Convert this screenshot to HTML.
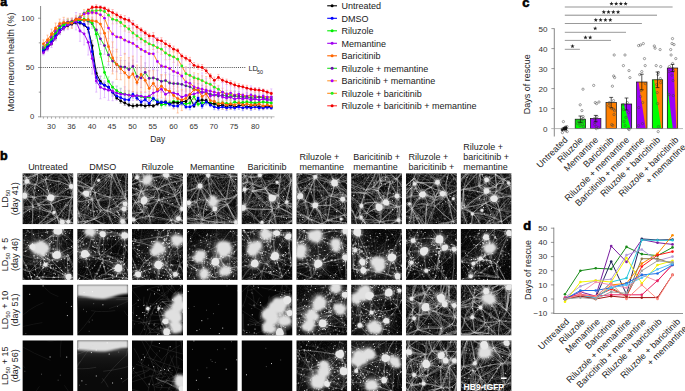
<!DOCTYPE html>
<html><head><meta charset="utf-8"><style>
html,body{margin:0;padding:0;background:#fff;width:685px;height:391px;overflow:hidden}
svg{display:block}
text{font-family:"Liberation Sans",sans-serif}
</style></head><body>
<svg width="685" height="391" viewBox="0 0 685 391" font-family="Liberation Sans, sans-serif">
<defs><radialGradient id="glow"><stop offset="0" stop-color="#fff" stop-opacity="0.9"/><stop offset="0.45" stop-color="#fff" stop-opacity="0.4"/><stop offset="1" stop-color="#fff" stop-opacity="0"/></radialGradient><linearGradient id="fade" x1="0" y1="0" x2="0" y2="1"><stop offset="0" stop-color="#383838"/><stop offset="0.3" stop-color="#1c1c1c" stop-opacity="0.7"/><stop offset="1" stop-color="#111" stop-opacity="0"/></linearGradient><filter id="soft" x="-0.1" y="-0.2" width="1.2" height="1.5"><feGaussianBlur stdDeviation="0.9"/></filter><filter id="bl" x="-0.5" y="-0.5" width="2" height="2"><feGaussianBlur stdDeviation="0.5"/></filter><filter id="cl" x="-0.5" y="-0.5" width="2" height="2"><feGaussianBlur stdDeviation="0.8"/></filter><filter id="grain" x="0" y="0" width="1" height="1"><feTurbulence type="fractalNoise" baseFrequency="0.9" numOctaves="2" seed="4"/><feColorMatrix values="0 0 0 0 1 0 0 0 0 1 0 0 0 0 1 3.2 0 0 0 -1.45"/></filter></defs>
<text x="0" y="159.7" font-size="12.5" font-weight="bold" fill="#000" stroke="#000" stroke-width="0.6">b</text>
<text x="47.9" y="170.4" font-size="9" fill="#222" text-anchor="middle">Untreated</text>
<text x="102.7" y="170.4" font-size="9" fill="#222" text-anchor="middle">DMSO</text>
<text x="157.5" y="170.4" font-size="9" fill="#222" text-anchor="middle">Riluzole</text>
<text x="212.2" y="170.4" font-size="9" fill="#222" text-anchor="middle">Memantine</text>
<text x="267.0" y="170.4" font-size="9" fill="#222" text-anchor="middle">Baricitinib</text>
<text x="299.5" y="160.2" font-size="9" fill="#222">Riluzole +</text>
<text x="299.5" y="170.4" font-size="9" fill="#222">memantine</text>
<text x="353.2" y="160.2" font-size="9" fill="#222">Baricitinib +</text>
<text x="353.2" y="170.4" font-size="9" fill="#222">memantine</text>
<text x="408.5" y="160.2" font-size="9" fill="#222">Riluzole +</text>
<text x="408.5" y="170.4" font-size="9" fill="#222">baricitinib +</text>
<text x="463.3" y="150.0" font-size="9" fill="#222">Riluzole +</text>
<text x="463.3" y="160.2" font-size="9" fill="#222">baricitinib +</text>
<text x="463.3" y="170.4" font-size="9" fill="#222">memantine</text>
<text transform="translate(8.2 198.7) rotate(-90)" font-size="9" fill="#222" text-anchor="middle"><tspan>LD</tspan><tspan font-size="6" dy="1.8">50</tspan></text>
<text transform="translate(17.5 198.7) rotate(-90)" font-size="9" fill="#222" text-anchor="middle">(day 41)</text>
<text transform="translate(8.2 254.4) rotate(-90)" font-size="9" fill="#222" text-anchor="middle"><tspan>LD</tspan><tspan font-size="6" dy="1.8">50</tspan><tspan dy="-1.8"> + 5</tspan></text>
<text transform="translate(17.5 254.4) rotate(-90)" font-size="9" fill="#222" text-anchor="middle">(day 46)</text>
<text transform="translate(8.2 310.1) rotate(-90)" font-size="9" fill="#222" text-anchor="middle"><tspan>LD</tspan><tspan font-size="6" dy="1.8">50</tspan><tspan dy="-1.8"> + 10</tspan></text>
<text transform="translate(17.5 310.1) rotate(-90)" font-size="9" fill="#222" text-anchor="middle">(day 51)</text>
<text transform="translate(8.2 365.8) rotate(-90)" font-size="9" fill="#222" text-anchor="middle"><tspan>LD</tspan><tspan font-size="6" dy="1.8">50</tspan><tspan dy="-1.8"> + 15</tspan></text>
<text transform="translate(17.5 365.8) rotate(-90)" font-size="9" fill="#222" text-anchor="middle">(day 56)</text>
<svg x="22.4" y="173.2" width="51.0" height="51.0" viewBox="0 0 51.0 51.0"><rect width="51.0" height="51.0" fill="#0c0c0c"/><path d="M29 25Q39 19 49 14M28 25Q25 16 23 7M28 24Q30 28 28 31M29 24Q23 16 13 11M29 24Q39 23 49 24M29 24Q20 21 12 24M29 24Q22 28 15 31M2 22Q4 15 4 8M2 23Q-4 22 -10 23M2 22Q6 28 11 33M2 22Q-8 28 -12 39M2 22Q6 15 13 11M2 23Q7 24 12 24M5 8Q-4 15 -10 23M5 8Q-3 7 -11 4M4 8Q6 6 4 4M5 8Q9 3 15 0M5 8Q8 12 13 11M49 13Q37 7 23 6M49 13Q47 7 45 0M49 13Q43 4 34 -3M49 13Q52 12 55 11M49 13Q51 19 49 24M40 49Q43 49 46 48M40 49Q35 49 35 44M40 49Q45 52 44 57M40 49Q41 55 40 60M40 49Q43 49 44 51M46 49Q40 47 35 44M46 48Q44 54 48 59M46 49Q52 42 59 37M46 49Q54 50 62 54M46 48Q47 36 49 24M46 49Q47 51 44 51M35 43Q33 37 29 31M35 43Q21 49 9 56M35 44Q22 52 10 60M34 44Q31 42 28 39M35 44Q36 53 40 60M35 44Q43 34 50 24M48 59Q45 58 43 57M48 59Q54 55 62 53M48 59Q44 61 40 61M47 59Q46 55 44 52M43 57Q41 59 40 60M44 57Q43 54 45 51M-10 23Q-8 13 -11 4M-10 23Q-10 31 -12 39M59 37Q63 45 62 53M58 37Q58 23 55 10M59 37Q57 28 50 24M55 -4Q52 -2 48 -2M56 -3Q58 4 55 10M56 -3Q48 -3 41 -8M55 -4Q56 -9 61 -10M23 7Q28 1 35 -2M23 7Q21 1 15 0M23 7Q18 9 13 12M29 31Q30 35 28 39M29 31Q38 26 49 24M29 31Q22 31 15 32M-11 4Q-4 1 4 4M-11 4Q-7 -2 -1 -7M-11 4Q-14 21 -12 39M-11 4Q-9 -2 -11 -8M9 57Q10 58 10 60M9 57Q20 49 29 39M9 57Q6 58 3 58M9 57Q11 45 10 33M9 57Q0 50 -11 47M45 0Q45 -4 48 -2M46 0Q40 0 34 -3M46 0Q52 4 55 10M45 0Q45 -5 41 -8M48 -2Q52 4 55 10M48 -1Q42 -2 41 -8M34 -3Q25 -2 15 0M34 -2Q39 -4 41 -8M-12 54Q-5 58 3 59M-12 53Q-12 46 -12 39M-11 53Q-10 51 -10 47M4 5Q10 3 15 1M3 4Q-1 -1 -1 -7M10 60Q6 63 3 59M10 60Q25 60 40 61M28 39Q19 37 10 34M28 39Q20 38 15 32M3 58Q-2 50 -11 47M55 11Q55 18 50 24M55 10Q55 -1 61 -10M15 0Q6 -2 -1 -7M15 0Q16 6 14 11M15 0Q28 -3 41 -8M-1 -7Q-6 -9 -11 -9M10 33Q-1 33 -12 38M10 33Q9 28 12 24M11 34Q0 40 -10 47M10 33Q12 30 15 31M-11 39Q-10 43 -10 47M13 11Q10 17 12 24M12 24Q13 28 16 31M41 -8Q51 -11 61 -11" stroke="#dcdcdc" stroke-width="0.65" fill="none" opacity="0.62"/><path d="M29 25Q40 22 49 13M29 24Q28 15 23 6M28 25Q26 15 23 7M28 24Q30 28 28 31M28 25Q22 16 13 11M29 24Q39 21 49 24M29 25Q20 28 12 24M29 25Q22 28 16 32M28 24Q22 27 15 31M2 22Q2 15 4 8M2 22Q-4 20 -10 22M2 22Q-4 24 -10 23M2 22Q7 27 11 33M2 22Q-5 31 -12 39M2 22Q-5 30 -12 39M2 22Q9 19 13 11M2 22Q7 20 12 24M2 22Q7 24 12 24M4 8Q-4 14 -10 23M4 8Q-4 14 -10 23M5 8Q-3 5 -11 4M5 8Q5 6 4 4M5 8Q10 5 15 1M5 8Q9 10 13 11M5 8Q8 12 13 11M49 13Q37 7 23 6M49 13Q48 6 45 0M49 13Q48 6 46 0M49 13Q42 5 34 -2M49 13Q53 14 55 11M49 13Q51 19 50 24M40 49Q43 46 46 49M40 49Q36 48 34 44M40 49Q42 53 44 57M39 49Q41 55 39 60M40 49Q42 51 44 51M46 49Q40 47 35 44M46 49Q46 54 47 59M46 48Q52 42 59 36M46 48Q54 45 59 37M46 49Q54 49 62 54M46 48Q54 50 62 53M46 49Q48 36 50 24M46 48Q44 50 44 51M35 44Q34 36 29 31M35 44Q31 38 29 31M35 44Q22 51 9 57M35 44Q22 51 10 60M35 44Q33 40 28 39M35 43Q31 42 29 39M35 44Q37 52 40 60M35 44Q41 33 50 24M48 59Q45 60 43 57M48 59Q55 57 62 54M48 58Q43 56 40 60M48 59Q46 55 44 51M43 57Q41 58 40 60M43 57Q45 54 44 51M-10 23Q-12 14 -11 4M-10 23Q-11 31 -12 39M59 37Q58 45 62 53M59 37Q59 23 55 10M59 36Q56 29 50 24M56 -4Q51 -6 48 -2M55 -4Q56 3 55 10M56 -4Q48 -3 41 -8M55 -4Q58 -8 61 -11M23 6Q28 1 34 -3M23 7Q17 6 15 1M23 6Q17 7 13 11M29 31Q30 35 28 39M29 31Q39 26 49 24M29 31Q22 33 15 31M-11 4Q-4 3 4 4M-11 4Q-7 -3 -1 -7M-11 4Q-8 -3 -1 -7M-11 4Q-8 22 -11 39M-11 4Q-12 -2 -12 -8M-11 4Q-13 -2 -11 -8M9 57Q12 58 10 60M9 57Q20 49 28 39M9 57Q19 48 28 39M9 57Q7 62 3 59M9 57Q11 45 11 33M9 57Q-1 52 -11 47M45 0Q46 -2 48 -2M45 0Q39 1 34 -2M45 0Q52 3 55 10M46 0Q45 -5 41 -8M45 0Q45 -5 41 -8M48 -2Q50 5 55 10M48 -1Q42 -2 41 -8M34 -2Q25 0 15 1M34 -3Q36 -7 41 -8M-12 53Q-5 58 3 59M-12 53Q-15 46 -12 39M-12 53Q-14 50 -11 47M4 5Q9 1 15 1M3 4Q-1 0 -1 -7M10 61Q7 58 3 59M10 60Q25 58 40 61M29 38Q20 34 11 33M28 39Q22 35 15 31M28 39Q22 36 15 31M3 59Q-4 54 -11 47M55 10Q55 18 50 24M55 10Q50 16 49 24M55 10Q55 -1 61 -10M15 1Q7 -3 -1 -7M15 0Q17 6 13 11M15 0Q29 -1 41 -8M-1 -7Q-6 -10 -11 -8M11 33Q0 37 -12 39M10 33Q8 28 11 24M10 33Q11 29 11 24M11 33Q1 42 -11 47M11 34Q14 36 16 32M-12 39Q-10 43 -11 47M13 11Q14 18 11 24M12 24Q11 29 16 31M41 -7Q51 -8 61 -10" stroke="#dcdcdc" stroke-width="0.45" fill="none" opacity="0.56"/><path d="M21 22Q24 8 25 -14M31 1Q32 -4 39 -18M-3 30Q-21 30 -37 34M12 7Q5 2 -5 0M16 10Q36 9 49 6M19 4Q21 -9 31 -16M1 39Q9 33 12 31M37 48Q24 33 14 25M26 31Q29 36 34 49M14 18Q-1 24 -15 23M45 51Q40 41 35 25M17 31Q10 17 7 10M0 17Q-11 8 -27 2M52 12Q53 8 50 2M53 50Q49 35 41 19M8 27Q18 22 20 17M19 -5Q15 3 9 4M51 32Q48 37 42 40M39 18Q43 11 50 8M33 50Q42 59 46 73M-1 30Q9 14 15 -1M21 27Q26 23 35 18M54 6Q60 8 65 9M6 7Q-4 1 -16 -9M-1 25Q7 12 17 -7M34 52Q39 66 38 80M1 7Q1 12 7 16M1 41Q2 27 -1 9M51 53Q35 37 25 27M-1 8Q-7 17 -16 23M0 20Q-12 18 -18 14M18 37Q3 34 -19 38M41 39Q40 43 38 50M40 51Q34 58 28 62M43 30Q43 39 38 47M-2 21Q-4 33 0 49M1 24Q12 26 25 22M1 17Q4 12 4 9M-4 10Q-13 9 -23 15M8 54Q-5 57 -12 62M53 37Q48 39 44 36M22 31Q34 20 44 15M-4 42Q-16 54 -33 60M18 56Q16 41 19 21M21 54Q27 52 35 54M24 12Q18 7 18 2M0 18Q11 4 27 -3M46 54Q39 53 36 47M52 -3Q54 9 61 16M18 42Q28 54 31 62M0 2Q-7 -6 -11 -13M30 54Q29 67 32 79M40 3Q21 7 11 7M21 26Q5 16 -4 5M-3 19Q-7 22 -8 26M35 51Q28 64 19 69M53 55Q54 58 49 68M22 40Q16 37 3 36M29 46Q35 53 41 60M8 23Q11 22 18 27M54 11Q53 25 49 42M46 33Q33 40 25 50M48 22Q51 14 59 14M40 29Q47 29 49 30M48 -3Q45 -5 38 -9M32 9Q34 8 43 5M1 -1Q-10 4 -26 6M-1 34Q4 27 6 25M13 -5Q17 -17 14 -28M4 8Q1 23 1 44M17 0Q6 3 -7 12M3 25Q0 18 -5 5M4 11Q-5 12 -20 12M35 21Q37 1 42 -12M11 17Q18 13 23 7M53 2Q51 -6 56 -16M47 31Q63 37 82 42M39 11Q28 12 24 21M39 20Q41 14 45 13M53 43Q59 36 71 29M9 -3Q-2 -7 -7 -10M52 53Q49 51 41 55M28 0Q39 -3 52 -2M29 54Q22 61 16 61M18 34Q29 30 34 25M4 -2Q13 -3 24 -10M30 26Q25 40 24 55M41 32Q48 39 51 42M1 56Q2 60 10 66M33 47Q37 60 48 72M10 17Q21 24 38 26M16 31Q11 26 1 14M12 15Q16 10 21 7M55 3Q48 -14 37 -23M53 14Q60 6 69 -8M36 16Q37 5 34 -7M44 5Q42 7 36 5M46 -2Q32 -7 24 -7M54 47Q57 62 57 80M34 9Q35 14 33 17M40 26Q34 28 25 33M31 41Q14 44 5 51M46 4Q52 2 54 7M23 22Q27 7 30 1M44 42Q33 32 20 19M47 33Q68 32 81 37M-1 16Q3 19 14 27M-5 21Q-10 33 -14 50M53 50Q50 42 48 36M20 -3Q7 4 -10 5M29 24L19 4M29 24L47 5M29 24L33 10M29 24L18 7M29 24L45 10M2 22L-8 26M2 22L-3 33M2 22L-7 2M2 22L8 39M5 8L12 -4M5 8L21 19M5 8L-1 15M49 13L48 19M49 13L58 26M49 13L54 17M40 49L14 41M40 49L46 38M40 49L47 45M46 48L50 53M46 48L64 55M46 48L47 32M32 39L37 24M32 39L49 30" stroke="#dcdcdc" stroke-width="0.35" fill="none" opacity="0.46"/><rect width="51.0" height="51.0" filter="url(#grain)" opacity="0.16"/><path d="M8.7 21.8h.6M4.8 37.2h.6M43.7 39.7h.6M6.3 26.5h.6M46.7 32.5h.6M23.9 22.6h.6M14.8 4.6h.6M14.9 4.9h.6M4.5 17.5h.6M11.6 14.6h.6M20.7 21.7h.6M44.8 15.6h.6M30.1 8.9h.6M33.5 1.7h.6M14.2 8.8h.6M31.3 23.2h.6M41.7 33.6h.6M47.6 2.3h.6M26.8 2.3h.6M40.2 11.3h.6M12.6 3.3h.6M13 8.6h.6M8.9 36.7h.6M29.2 14.4h.6M23.3 6.1h.6M18.8 48.8h.6M38 30.2h.6M15.1 7.6h.6M11.6 .3h.6M37.8 17.7h.6M33.4 15.9h.6" stroke="#fff" stroke-width=".6" opacity=".8"/><path d="M11.7 15h1M27.4 11.2h1M22.9 3.6h1M23.5 5h1M35 23.1h1M25.6 17.7h1M29.1 23h1M2.1 5.5h1M3.4 4.2h1M16.9 35.4h1M42.9 31.6h1M24.2 16.3h1M45.1 18.9h1M48 19.9h1M6.6 38.1h1M20.5 13h1M29.6 25.7h1M15.6 17.3h1M6.2 9.8h1M37.7 46.9h1M15.5 43.3h1M37.3 46.5h1M16.2 32.4h1M10.5 33.9h1M37.3 10.5h1M30.2 35.9h1M44.4 32.1h1M9.5 23.8h1M42.8 15.4h1" stroke="#fff" stroke-width="1" opacity=".8"/><g fill="url(#glow)"><circle cx="28.6" cy="24.5" r="6.6"/><circle cx="2.0" cy="22.4" r="5.7"/><circle cx="4.6" cy="8.2" r="4.8"/><circle cx="49.0" cy="13.3" r="4.8"/><circle cx="39.8" cy="49.0" r="4.8"/><circle cx="45.9" cy="48.4" r="3.8"/><circle cx="31.6" cy="39.3" r="2.8"/></g><g fill="#e8e8e8" filter="url(#bl)"><circle cx="28.6" cy="24.5" r="3.3"/><circle cx="26.8" cy="24.8" r="2.3"/><circle cx="27.5" cy="23.1" r="1.9"/><circle cx="2.0" cy="22.4" r="2.8"/><circle cx="0.6" cy="22.9" r="1.9"/><circle cx="2.6" cy="23.9" r="1.6"/><circle cx="4.6" cy="8.2" r="2.4"/><circle cx="49.0" cy="13.3" r="2.4"/><circle cx="39.8" cy="49.0" r="2.4"/><circle cx="45.9" cy="48.4" r="1.9"/><circle cx="31.6" cy="39.3" r="1.4"/></g></svg>
<svg x="77.2" y="173.2" width="51.0" height="51.0" viewBox="0 0 51.0 51.0"><rect width="51.0" height="51.0" fill="#0c0c0c"/><path d="M9 20Q10 18 13 18M9 20Q10 16 15 15M9 21Q13 23 15 27M9 20Q7 17 5 20M48 31Q49 34 47 36M48 30Q43 28 40 33M48 31Q53 37 61 38M48 31Q49 28 49 25M47 36Q48 42 46 48M47 36Q43 35 40 33M47 36Q54 35 61 38M47 36Q42 35 40 39M46 48Q39 41 30 37M45 48Q54 53 62 59M45 48Q41 54 42 61M45 48Q54 45 61 38M46 48Q43 43 40 38M24 37Q27 36 30 37M23 38Q17 33 15 27M24 37Q22 32 21 27M24 37Q20 42 17 46M38 -1Q44 -7 51 -10M38 -1Q37 1 35 0M38 -1Q38 -5 40 -8M38 -1Q42 13 49 25M-11 16Q-9 28 -7 40M-11 16Q-8 19 -4 20M-11 16Q-8 11 -2 11M-12 16Q-7 11 -4 5M-11 16Q-12 33 -10 50M-11 16Q-10 24 -4 29M8 49Q5 53 0 56M9 49Q5 47 1 49M8 49Q25 56 42 61M9 49Q13 48 17 46M8 49Q6 44 1 40M40 33Q35 36 30 37M40 33Q38 27 33 24M40 33Q40 36 40 39M40 33Q44 29 49 26M30 38Q33 31 33 24M30 38Q34 50 42 61M30 38Q35 38 40 38M30 38Q22 35 20 27M30 38Q25 44 17 46M-1 21Q-1 18 -3 19M-1 21Q-1 16 -2 11M-1 21Q1 17 5 20M-1 21Q-6 24 -5 29M0 56Q-6 55 -8 50M0 56Q-4 56 -7 56M0 56Q1 53 1 49M-7 49Q-9 44 -6 40M-7 49Q-6 53 -7 57M-8 49Q-3 49 1 49M-8 50Q-9 51 -10 50M-6 39Q-1 43 1 49M-6 40Q-7 45 -10 50M-6 40Q-5 34 -4 29M-6 40Q-2 38 1 40M13 19Q16 17 18 20M13 18Q15 17 15 15M13 18Q12 23 15 26M51 -10Q46 -9 40 -8M51 -11Q34 -12 17 -10M51 -11Q47 7 48 25M-8 57Q-8 53 -10 50M26 -6Q32 -6 35 0M26 -5Q33 -6 40 -8M26 -5Q20 -5 17 -9M26 -5Q19 4 15 15M62 59Q52 60 42 61M62 59Q63 48 61 38M-4 20Q-4 15 -2 11M-4 20Q-5 24 -5 29M-2 11Q6 14 15 15M-2 11Q-2 8 -3 6M-2 12Q-1 17 4 20M35 0Q39 -3 41 -8M35 1Q29 12 18 20M35 0Q32 12 33 24M34 0Q22 5 15 15M34 0Q40 14 49 26M40 -8Q29 -9 17 -10M1 49Q-2 45 1 40M18 19Q25 22 33 24M18 20Q18 16 15 15M18 19Q15 22 15 26M18 19Q18 24 20 27M33 24Q40 27 49 25M33 23Q26 23 20 27M17 -10Q13 3 15 15M17 -10Q6 -3 -3 6M43 60Q30 52 17 46M61 38Q53 33 49 26M15 15Q6 10 -3 5M15 15Q9 16 5 20M15 26Q18 24 20 27M15 27Q8 26 4 20M15 26Q15 36 17 46M15 26Q6 29 -4 29M15 27Q10 35 2 40M5 20Q2 27 -4 29M17 46Q10 41 1 40M-4 29Q-1 35 2 40" stroke="#dcdcdc" stroke-width="0.65" fill="none" opacity="0.62"/><path d="M9 21Q10 17 13 18M9 20Q14 20 15 15M9 21Q12 24 15 27M9 21Q7 23 5 21M48 31Q52 34 47 36M48 31Q45 35 40 33M48 31Q55 33 61 38M48 31Q50 28 49 25M47 36Q46 42 45 48M46 36Q45 42 45 48M47 36Q43 36 40 33M47 36Q54 37 61 38M47 36Q43 36 40 38M45 49Q38 43 30 38M46 48Q39 41 30 37M45 49Q53 55 62 59M45 48Q41 54 42 60M45 48Q52 41 61 38M45 48Q52 42 61 38M45 48Q41 44 40 38M45 48Q44 43 40 39M24 37Q27 38 30 37M24 37Q21 31 15 26M23 37Q20 33 20 27M24 37Q22 43 17 46M38 -1Q44 -7 51 -11M38 -2Q36 -2 34 0M38 -1Q41 -4 40 -8M38 -1Q44 12 48 26M-11 16Q-10 28 -7 40M-11 16Q-8 19 -3 20M-11 16Q-7 17 -3 20M-11 16Q-7 13 -2 11M-11 16Q-6 12 -4 6M-12 16Q-11 33 -10 50M-11 16Q-10 24 -4 29M9 49Q5 53 0 56M9 49Q5 52 1 49M9 48Q25 55 43 60M9 49Q13 47 17 46M8 48Q13 48 17 46M8 49Q3 46 1 40M8 49Q2 47 1 40M40 33Q36 38 30 38M39 33Q36 29 32 24M40 33Q37 36 40 39M40 33Q44 29 49 26M30 38Q33 31 32 24M29 38Q34 50 42 61M30 38Q35 41 40 39M30 38Q22 35 20 27M30 37Q23 41 17 46M-1 21Q-3 22 -3 19M-1 21Q-2 19 -4 20M-1 21Q-1 16 -2 11M-1 21Q2 24 5 20M-1 21Q-1 26 -4 29M-1 21Q-5 24 -5 29M0 56Q-3 52 -8 49M0 56Q-4 54 -7 57M0 55Q-4 55 -7 56M0 56Q-2 52 1 49M-8 49Q-4 45 -6 40M-7 49Q-8 53 -7 57M-8 50Q-3 50 1 49M-8 49Q-9 49 -10 49M-6 39Q-1 43 1 49M-7 39Q-8 45 -10 50M-6 40Q-4 35 -4 29M-6 39Q-3 41 1 40M13 18Q16 17 18 19M13 19Q16 18 18 20M13 18Q14 17 15 15M13 18Q15 22 15 26M13 18Q13 23 15 26M51 -11Q46 -10 40 -8M51 -10Q34 -9 17 -10M51 -11Q48 7 49 26M-8 57Q-10 54 -10 50M-8 57Q-10 54 -10 50M26 -5Q32 -5 35 0M26 -5Q33 -6 40 -8M26 -5Q23 -11 17 -10M26 -6Q22 -9 17 -10M26 -5Q19 4 15 15M62 59Q52 61 42 60M62 59Q64 48 62 38M-4 20Q-4 15 -2 11M-4 20Q-6 24 -4 29M-2 12Q6 14 15 16M-2 12Q7 12 15 16M-1 11Q-3 9 -3 5M-2 11Q0 17 5 20M34 0Q36 -5 40 -8M34 0Q27 10 18 19M35 0Q35 12 33 24M35 0Q26 9 15 15M35 0Q25 8 15 15M34 0Q39 14 48 26M40 -8Q28 -5 17 -9M1 49Q1 45 1 40M18 19Q25 24 33 24M18 20Q18 16 15 15M18 20Q14 19 14 15M18 20Q20 24 16 26M18 19Q18 23 15 26M18 19Q16 24 20 27M33 24Q41 21 49 25M33 24Q27 27 20 27M33 24Q27 29 20 27M16 -10Q14 3 14 15M17 -10Q5 -5 -4 5M42 61Q29 54 17 46M42 61Q29 55 17 46M61 38Q55 32 49 25M15 15Q5 11 -3 6M15 15Q6 9 -4 6M15 16Q10 18 5 20M15 16Q11 20 5 20M15 27Q18 27 20 27M15 26Q11 21 5 20M15 26Q10 22 5 20M15 26Q17 36 17 46M15 26Q6 28 -4 29M15 26Q6 31 1 40M4 20Q1 25 -5 29M17 46Q8 46 1 40M-4 29Q1 34 2 40M-4 29Q0 34 2 40" stroke="#dcdcdc" stroke-width="0.45" fill="none" opacity="0.56"/><path d="M51 46Q43 43 41 44M43 51Q56 50 61 54M0 11Q8 3 12 1M35 5Q26 -4 10 -12M55 20Q76 11 89 9M12 37Q20 32 23 27M-5 0Q6 2 10 1M48 51Q38 61 25 69M1 49Q8 60 12 67M45 14Q37 31 37 43M14 19Q6 30 3 46M-1 3Q-18 -10 -28 -23M17 14Q13 17 10 23M-1 3Q16 -1 25 -10M40 9Q56 22 69 33M4 43Q-4 46 -7 41M33 1Q45 8 60 15M3 6Q-10 3 -17 6M22 2Q29 8 43 10M42 38Q47 35 54 34M-1 47Q19 56 36 57M-1 50Q15 47 29 42M24 47Q13 42 3 35M31 52Q34 41 33 35M24 27Q21 20 23 17M33 5Q16 -3 1 -7M31 20Q27 21 19 25M55 25Q52 5 40 -7M52 1Q65 -2 82 -9M29 23Q23 16 14 7M-5 34Q-9 18 -14 1M4 7Q11 1 12 1M18 33Q31 34 39 37M6 -1Q12 -2 16 -5M12 29Q7 26 7 16M8 25Q-5 31 -22 34M33 28Q43 37 54 42M18 2Q6 15 -7 24M-2 9Q-6 23 -4 31M15 -5Q17 9 17 18M0 54Q9 43 15 36M4 -4Q20 -8 38 -13M24 37Q34 47 49 55M33 47Q30 41 23 38M29 44Q35 42 40 42M47 19Q59 13 74 2M36 2Q37 7 33 14M13 39Q21 36 26 38M43 41Q42 31 46 15M2 30Q9 30 17 26M34 15Q21 21 4 32M36 47Q21 35 8 26M48 11Q55 18 57 20M7 40Q7 53 16 65M41 26Q36 24 33 17M18 40Q7 29 -8 22M45 45Q31 52 18 58M15 23Q9 40 2 56M27 23Q33 34 39 48M26 3Q16 -12 8 -22M54 33Q52 35 50 43M50 39Q45 46 46 59M29 49Q11 54 -4 65M46 18Q45 26 42 39M1 31Q-8 24 -12 11M21 28Q26 23 30 20M34 9Q35 15 35 24M52 48Q53 39 49 28M43 53Q57 63 65 75M16 -3Q18 -11 27 -12M26 37Q35 32 50 21M48 44Q63 37 75 25M-4 55Q7 56 17 56M16 26Q6 38 4 51M35 23Q49 24 56 26M40 18Q54 18 63 15M45 19Q65 14 79 3M17 16Q31 6 43 -5M-4 29Q5 34 18 38M5 15Q3 6 8 -10M-4 20Q-5 11 -9 -5M1 26Q0 40 1 52M44 26Q30 35 22 37M19 25Q32 13 37 -2M27 21Q26 9 32 -5M36 17Q46 2 50 -10M35 29Q27 39 26 43M12 16Q11 31 11 41M0 16Q4 2 16 -11M56 55Q48 65 43 82M50 3Q63 2 71 2M50 41Q49 45 54 48M2 -1Q-3 4 -5 6M9 43Q7 55 8 62M-2 44Q14 57 29 65M26 36Q22 33 22 24M8 10Q25 11 36 19M48 2Q34 1 24 3M25 43Q29 48 25 58M1 52Q8 52 14 45M15 16Q21 16 26 16M48 22Q43 32 45 42M37 6Q22 -5 4 -13M34 2Q48 13 59 22M29 16Q38 8 41 -4M15 45Q10 59 0 66M33 7Q40 18 50 35M30 20Q30 17 29 7M6 19Q-2 21 -4 26M28 3Q21 -1 16 -11M9 20L8 5M9 20L8 38M9 20L-4 2M9 20L6 15M48 31L63 54M48 31L31 26M48 31L65 46M47 36L53 24M47 36L46 43M47 36L41 52M45 48L40 50M45 48L55 55M45 48L59 25M21 7L32 -6M21 7L5 27" stroke="#dcdcdc" stroke-width="0.35" fill="none" opacity="0.46"/><rect width="51.0" height="51.0" filter="url(#grain)" opacity="0.16"/><path d="M41.1 12.4h.6M23.5 23.1h.6M39.7 20.9h.6M17.9 41.4h.6M3.4 35.4h.6M46.3 13.5h.6M38.1 7.8h.6M26.8 37.7h.6M19.2 45.4h.6M2.4 1.2h.6M47.4 29.5h.6M28.4 6.6h.6M14.2 20h.6M50.6 34.2h.6M35.7 36.9h.6M10.5 34.7h.6M10.3 36.5h.6M12.4 3.7h.6M13.9 14.3h.6M28.2 21.7h.6M16.3 1.9h.6M48.3 1.5h.6M34.4 4.6h.6M46.8 2.9h.6M16.9 11.3h.6M44 44.1h.6M44 11.7h.6M1.3 18h.6M18.6 43.3h.6" stroke="#fff" stroke-width=".6" opacity=".8"/><path d="M33 35.7h1M13 37.4h1M19.6 38.9h1M9.5 47.4h1M1.1 3.6h1M50.6 39h1M22.6 38.6h1M36 26.3h1M16.5 38.3h1M5.7 14.8h1M1.7 42.9h1M11 32.1h1M13.1 39.9h1M46.5 41.4h1M2.6 3.6h1M.5 1.6h1M21.1 18h1M47 50.6h1M10.7 29h1M42.5 7.3h1M41.4 41.5h1M47.8 21.7h1M37.2 44.2h1M40.7 39.2h1M47.6 20.2h1M12.8 21.5h1M31.5 3.5h1M18.4 34.6h1M47.7 48.9h1M19.2 37.7h1M48.3 37.9h1" stroke="#fff" stroke-width="1" opacity=".8"/><g fill="url(#glow)"><circle cx="9.2" cy="20.4" r="5.7"/><circle cx="47.9" cy="30.6" r="4.8"/><circle cx="46.9" cy="35.7" r="4.8"/><circle cx="45.4" cy="48.4" r="4.8"/><circle cx="21.4" cy="7.1" r="2.8"/></g><g fill="#e8e8e8" filter="url(#bl)"><circle cx="9.2" cy="20.4" r="2.8"/><circle cx="9.8" cy="21.8" r="1.8"/><circle cx="7.8" cy="19.8" r="2.1"/><circle cx="47.9" cy="30.6" r="2.4"/><circle cx="46.9" cy="35.7" r="2.4"/><circle cx="45.4" cy="48.4" r="2.4"/><circle cx="21.4" cy="7.1" r="1.4"/></g></svg>
<svg x="132.0" y="173.2" width="51.0" height="51.0" viewBox="0 0 51.0 51.0"><rect width="51.0" height="51.0" fill="#0c0c0c"/><path d="M15 6Q25 4 34 1M15 7Q13 2 10 -1M15 7Q15 10 13 8M15 7Q19 3 17 -2M15 7Q22 9 25 16M12 27Q10 28 11 31M12 27Q8 26 5 29M12 27Q17 24 22 24M13 27Q13 22 10 18M34 1Q36 6 38 10M34 1Q26 1 17 -2M35 2Q34 -1 35 -4M34 2Q30 9 26 16M34 2Q44 5 55 7M5 4Q6 1 10 -1M5 4Q5 7 8 7M5 4Q0 8 -4 12M5 4Q2 -1 3 -7M5 4Q4 0 8 -2M46 45Q49 41 50 36M46 46Q43 48 39 47M46 45Q52 48 57 50M47 46Q47 50 43 48M46 45Q51 49 55 53M2 46Q11 53 18 63M2 47Q9 43 17 43M2 46Q0 42 -4 42M1 47Q-2 44 -4 41M1 46Q5 41 10 39M50 35Q41 38 38 47M50 36Q38 31 27 27M50 36Q50 27 48 19M50 36Q56 42 57 50M50 36Q51 21 55 6M50 36Q46 30 43 22M39 47Q31 38 27 26M39 47Q29 56 17 63M39 47Q28 44 17 43M38 47Q42 54 47 60M39 47Q42 45 43 48M27 27Q20 32 11 31M27 26Q22 34 17 43M27 26Q23 28 22 24M27 26Q28 21 25 16M27 27Q35 25 43 23M18 63Q21 53 17 43M17 63Q5 54 -5 43M17 63Q32 59 47 59M9 -1Q7 3 7 7M10 -1Q13 3 12 8M10 -1Q13 -4 17 -2M10 -1Q10 -4 8 -3M8 8Q10 10 13 8M8 8Q2 11 -4 12M8 8Q7 13 9 18M12 8Q20 11 25 16M13 8Q12 14 9 18M-4 13Q2 4 3 -7M-4 12Q-2 18 -3 24M-4 13Q-7 14 -10 16M-4 13Q3 15 9 18M11 31Q16 36 17 43M11 30Q9 29 6 28M11 30Q16 26 22 24M12 31Q11 35 11 39M3 -7Q10 -3 17 -2M3 -7Q22 -9 41 -12M3 -7Q-4 4 -10 16M3 -7Q5 -4 8 -3M3 29Q4 29 5 29M3 28Q1 26 -3 24M3 29Q1 36 -4 41M3 29Q7 24 9 18M3 29Q8 33 11 39M17 43Q13 43 11 39M48 19Q46 20 45 18M49 19Q55 15 55 7M48 19Q45 20 43 23M-5 43Q-1 34 -3 24M-5 43Q-7 29 -10 16M-4 43Q-3 42 -3 41M44 18Q39 16 37 11M45 18Q49 11 55 6M45 18Q42 20 43 23M38 11Q31 12 26 16M37 10Q46 9 55 6M37 11Q41 16 43 23M57 51Q57 52 55 53M48 59Q44 54 43 48M47 59Q49 54 55 53M6 29Q7 23 9 18M6 29Q10 33 11 39M43 48Q49 51 55 53M17 -2Q26 -4 35 -5M17 -1Q30 -5 41 -11M17 -2Q12 0 8 -3M35 -4Q37 -8 41 -12M35 -4Q44 3 55 6M41 -12Q50 -4 55 6M22 24Q22 19 25 16M22 24Q14 24 9 19M-3 24Q-5 19 -10 16M-3 24Q-6 32 -4 41M-3 24Q3 21 9 18M25 16Q17 15 9 18M26 16Q35 18 43 22M-4 41Q3 39 11 39" stroke="#dcdcdc" stroke-width="0.65" fill="none" opacity="0.62"/><path d="M15 7Q24 3 34 2M14 7Q11 4 9 -1M15 7Q14 8 13 8M15 7Q14 2 17 -2M15 7Q20 12 26 16M12 27Q9 28 11 31M13 27Q13 29 12 31M12 27Q10 31 6 29M12 27Q17 25 22 24M13 27Q13 22 10 18M34 2Q36 6 37 10M34 2Q26 -2 17 -2M34 2Q34 -1 35 -4M34 1Q26 7 25 16M34 1Q45 1 55 6M5 4Q7 1 10 -1M5 4Q4 7 8 7M5 4Q0 8 -4 12M5 4Q5 -2 3 -7M5 4Q5 -1 3 -7M5 4Q6 1 8 -2M5 4Q4 0 8 -2M46 45Q49 41 50 36M46 45Q43 46 39 46M46 46Q52 47 56 51M46 45Q45 47 43 48M47 45Q53 47 56 53M47 45Q52 48 55 53M2 46Q11 53 17 63M2 47Q9 45 17 43M2 46Q0 42 -4 42M2 46Q-1 44 -3 41M2 46Q0 43 -3 41M1 46Q5 42 10 38M50 36Q46 43 39 47M50 36Q44 40 39 47M50 35Q39 30 27 26M50 36Q49 27 48 19M50 36Q54 43 56 51M50 36Q55 42 57 50M50 36Q50 21 55 6M50 36Q46 30 43 23M50 36Q46 30 43 23M39 47Q36 35 27 26M39 47Q29 56 18 63M39 47Q27 48 17 43M39 47Q41 55 47 60M39 47Q41 48 43 48M27 26Q18 26 11 30M27 27Q21 34 17 43M27 26Q23 35 17 43M27 26Q25 24 22 24M27 26Q25 21 26 16M27 26Q35 22 43 23M18 63Q17 53 18 43M18 62Q6 54 -4 42M18 63Q33 62 47 59M10 -1Q9 4 8 8M10 -1Q12 3 13 8M10 -1Q13 -2 17 -2M10 -1Q14 1 17 -2M10 -1Q9 -3 8 -3M10 -1Q7 1 8 -2M8 7Q10 5 13 8M8 8Q2 11 -4 12M8 7Q8 13 10 18M13 8Q18 13 26 16M13 8Q12 14 9 18M12 8Q10 13 9 18M-4 13Q2 4 4 -7M-4 12Q-4 18 -3 24M-4 12Q-9 11 -10 16M-4 12Q-7 15 -10 16M-4 12Q2 17 9 18M-4 13Q3 15 9 19M11 31Q12 38 17 43M11 31Q9 28 5 29M11 31Q17 29 22 24M11 31Q12 35 10 39M11 31Q14 35 11 39M3 -7Q10 -4 17 -2M3 -6Q22 -6 41 -11M3 -7Q-2 6 -10 16M3 -7Q6 -5 8 -2M3 29Q4 31 5 29M3 29Q4 29 5 29M3 28Q2 23 -3 24M4 29Q-1 34 -3 41M3 29Q7 24 9 18M3 29Q4 36 10 39M3 28Q8 33 11 39M17 43Q15 39 11 39M48 19Q47 16 45 18M48 19Q47 16 45 18M48 19Q49 11 54 6M48 19Q46 21 43 23M-5 43Q-7 33 -3 24M-5 43Q-10 30 -10 16M-5 42Q-3 43 -4 41M45 17Q42 13 38 10M45 18Q48 11 55 6M44 18Q45 20 43 22M37 10Q31 11 26 16M37 10Q32 13 25 16M37 10Q46 7 55 6M38 10Q43 15 43 22M57 51Q55 51 56 53M47 60Q45 54 43 48M47 59Q51 56 55 53M5 29Q8 24 9 18M5 29Q8 34 10 39M43 48Q49 50 55 53M17 -2Q26 -6 35 -4M17 -2Q26 -5 35 -4M17 -2Q30 -5 41 -12M17 -1Q13 -3 8 -2M17 -1Q12 -2 8 -2M35 -4Q38 -8 41 -12M35 -4Q36 -9 41 -12M35 -4Q46 -1 55 6M35 -4Q46 0 55 6M41 -12Q49 -3 55 6M41 -11Q49 -4 55 6M22 24Q25 20 26 16M22 24Q17 19 9 18M-3 24Q-8 21 -10 16M-3 24Q-7 21 -10 16M-3 24Q-5 32 -4 41M-3 24Q3 21 9 18M25 16Q18 18 9 18M25 16Q35 18 43 23M-3 41Q4 40 11 39" stroke="#dcdcdc" stroke-width="0.45" fill="none" opacity="0.56"/><path d="M8 31Q4 41 -3 53M28 30Q17 32 11 29M5 3Q21 5 41 3M15 34Q7 33 1 26M36 3Q38 -5 47 -14M46 32Q41 41 43 56M-1 28Q-10 23 -21 23M56 6Q41 17 33 20M-1 39Q13 45 20 48M8 51Q11 59 14 63M18 28Q11 24 4 24M50 35Q55 44 64 51M56 12Q51 5 47 -2M25 27Q16 26 1 20M9 27Q14 9 22 -6M38 52Q43 56 45 67M12 17Q7 26 4 39M39 26Q43 20 40 16M37 28Q56 23 73 19M-5 0Q1 11 9 29M36 2Q46 8 49 18M27 28Q33 27 44 29M13 20Q0 21 -7 27M-4 46Q-11 41 -18 44M48 47Q35 52 29 52M5 23Q15 11 33 2M39 40Q33 54 26 62M50 51Q48 35 44 24M34 25Q24 27 18 30M49 56Q40 58 26 63M56 27Q64 37 69 40M16 19Q6 23 4 22M0 40Q5 26 17 11M-4 2Q-7 10 -7 24M22 37Q14 52 8 62M37 24Q31 27 29 38M26 40Q20 43 6 50M21 49Q20 43 22 36M11 43Q14 34 15 34M25 -5Q18 -7 18 -12M-2 17Q9 19 23 23M38 29Q33 11 32 -3M6 44Q-2 36 -5 35M23 10Q15 17 3 23M24 12Q20 4 20 -1M56 5Q67 -7 71 -26M38 4Q45 19 48 33M13 48Q9 58 -1 69M36 18Q33 0 38 -16M54 56Q46 58 43 54M34 4Q38 4 44 1M-4 29Q-20 27 -34 24M24 8Q23 0 19 -10M41 42Q39 60 33 74M13 0Q24 2 41 -4M33 9Q24 25 19 44M32 20Q35 28 44 44M30 41Q31 35 38 34M3 -1Q0 2 -7 12M29 56Q33 62 37 64M14 10Q14 1 15 -8M20 20Q7 12 -13 6M-1 35Q-9 32 -23 35M43 44Q54 31 64 19M25 8Q36 14 42 15M27 5Q41 5 48 11M9 1Q1 -13 -7 -19M24 47Q10 46 -8 37M-3 44Q-18 48 -36 44M56 47Q58 62 60 70M33 27Q30 15 22 10M37 42Q29 39 15 31M22 56Q20 72 24 85M20 10Q18 13 11 14M48 43Q43 38 38 37M46 27Q43 15 36 1M11 7Q6 18 1 32M20 39Q19 28 10 21M25 39Q20 43 8 47M33 5Q39 10 44 8M45 44Q37 56 31 72M-4 40Q-8 49 -13 64M-3 4Q-15 4 -20 6M31 15Q47 15 55 10M8 19Q24 10 37 5M17 12Q28 17 39 17M-4 -4Q-7 13 -9 27M48 15Q55 1 57 -9M46 15Q55 2 57 -7M49 50Q46 65 39 78M29 31Q15 21 7 17M55 26Q68 21 79 18M48 24Q50 14 48 2M35 24Q45 30 55 30M10 50Q9 41 15 35M54 29Q54 12 47 3M8 43Q5 48 -1 47M22 18Q25 13 22 8M42 -3Q45 -6 50 -11M37 -3Q42 -11 40 -18M36 1Q31 3 18 7M21 18Q20 24 12 38M0 21Q8 22 12 17M13 55Q16 51 19 46M46 25Q44 30 36 34M49 35Q56 19 67 9M5 25Q8 19 17 21M25 28Q29 19 36 3M0 48Q-10 28 -15 14M0 14Q13 29 19 40M15 7L31 20M15 7L27 26M15 7L30 -12M15 7L-10 15M15 7L14 17M15 7L11 23M12 27L-5 32M12 27L18 18M12 27L-6 17M12 27L11 18M12 27L24 13M34 2L59 9M34 2L29 -26M34 2L32 -7M34 2L26 -1M5 4L-12 -1M5 4L-4 9M5 4L12 10M46 45L52 50M46 45L53 49M46 45L66 27M2 46L-22 34M2 46L-7 21M2 46L10 72M50 36L59 34M50 36L48 15M50 36L34 57" stroke="#dcdcdc" stroke-width="0.35" fill="none" opacity="0.46"/><rect width="51.0" height="51.0" filter="url(#grain)" opacity="0.16"/><path d="M11.4 27h.6M10.9 6.6h.6M37 2.2h.6M20.8 43h.6M37.9 27.5h.6M46.7 22.3h.6M47.4 45.6h.6M23.5 24.4h.6M7.7 45.6h.6M18.8 14.1h.6M21.5 15.5h.6M40.5 39.6h.6M25.4 28.2h.6M13.3 46.8h.6M8.5 32h.6M42.7 2.8h.6M42.1 33.7h.6M7.2 7.6h.6M20.4 43.7h.6M16 8h.6M10.2 44.7h.6M15 16.3h.6M3.2 5.5h.6M8.9 13.5h.6M18.9 7.1h.6M25.9 39.5h.6" stroke="#fff" stroke-width=".6" opacity=".8"/><path d="M29.4 12.7h1M50.7 8h1M29.7 26h1M35.8 21.2h1M31.8 38h1M35 27.5h1M8.4 8.1h1M7.7 12.1h1M38.8 47.5h1M50.9 46.1h1M4.1 15.2h1M50.7 4.6h1M13.3 43.7h1M39.9 30.3h1M9.6 8.2h1M7.6 36.3h1M29.4 31.7h1M12.5 29.5h1M14.6 34.5h1M24.2 7.4h1M31 24.7h1M40.4 50.4h1M21.7 7.1h1M44.1 10.5h1M38.4 6.1h1M42.8 16.5h1M1.6 38h1M45.6 31.6h1M29.7 28.7h1M26.2 26.9h1M9.4 8.2h1M19 2.8h1M6.3 11.6h1M12.8 33.4h1" stroke="#fff" stroke-width="1" opacity=".8"/><g fill="url(#glow)"><circle cx="14.8" cy="6.6" r="8.5"/><circle cx="12.2" cy="27.0" r="6.6"/><circle cx="34.2" cy="1.5" r="5.7"/><circle cx="5.1" cy="4.1" r="3.8"/><circle cx="46.4" cy="45.4" r="4.8"/><circle cx="1.5" cy="46.4" r="3.8"/><circle cx="50.0" cy="35.7" r="3.8"/></g><g fill="#e0e0e0" filter="url(#cl)"><circle cx="14.8" cy="6.6" r="3.4"/><circle cx="14.5" cy="9.6" r="2.0"/><circle cx="16.7" cy="4.9" r="3.3"/><circle cx="13.5" cy="8.4" r="2.6"/><circle cx="17.8" cy="6.2" r="2.2"/><circle cx="16.2" cy="8.2" r="2.2"/><circle cx="13.9" cy="8.1" r="2.8"/></g><g fill="#e8e8e8" filter="url(#bl)"><circle cx="12.2" cy="27.0" r="3.3"/><circle cx="12.5" cy="25.3" r="2.2"/><circle cx="11.5" cy="28.6" r="2.6"/><circle cx="34.2" cy="1.5" r="2.8"/><circle cx="35.0" cy="2.8" r="1.8"/><circle cx="32.7" cy="1.4" r="1.7"/><circle cx="5.1" cy="4.1" r="1.9"/><circle cx="46.4" cy="45.4" r="2.4"/><circle cx="1.5" cy="46.4" r="1.9"/><circle cx="50.0" cy="35.7" r="1.9"/></g></svg>
<svg x="186.7" y="173.2" width="51.0" height="51.0" viewBox="0 0 51.0 51.0"><rect width="51.0" height="51.0" fill="#0c0c0c"/><path d="M27 28Q22 19 14 12M26 29Q23 15 21 2M26 29Q27 32 28 36M27 29Q33 28 39 26M27 29Q23 30 20 27M27 28Q35 26 41 31M13 13Q7 20 2 29M13 13Q15 6 21 2M14 13Q12 21 10 29M13 13Q16 20 20 27M13 13Q3 19 -9 19M13 13Q7 5 6 -6M2 29Q2 32 4 33M2 29Q-1 30 -2 33M2 30Q6 28 10 29M2 30Q-6 27 -9 19M21 2Q33 5 44 4M22 2Q30 14 39 26M21 2Q23 -3 28 -5M21 2Q13 -1 6 -6M50 49Q42 54 36 60M50 49Q51 48 51 47M50 49Q54 54 51 60M49 49Q40 51 30 49M49 49Q39 47 29 42M50 49Q46 53 47 59M50 49Q45 40 41 32M28 35Q26 30 20 27M28 36Q28 39 29 41M28 36Q22 41 16 46M28 35Q34 31 41 31M44 3Q42 -3 45 -9M44 3Q41 14 40 26M44 3Q49 11 52 20M44 3Q48 3 52 3M44 3Q50 2 54 6M44 3Q37 -2 29 -4M4 33Q0 41 -7 47M3 33Q1 33 -2 32M3 33Q7 31 10 29M3 33Q8 41 16 47M-7 46Q-4 40 -2 33M-8 47Q3 51 15 50M-8 46Q-9 53 -10 61M-8 46Q-10 40 -12 33M-8 46Q4 44 16 46M-8 46Q-4 53 -2 60M45 -9Q53 -6 61 -10M45 -9Q46 -2 52 3M45 -8Q38 -4 29 -4M45 -9Q26 -8 6 -6M39 26Q47 26 52 20M39 26Q39 29 41 32M36 60Q43 57 51 60M36 60Q25 56 15 50M36 59Q35 53 30 49M36 59Q41 59 47 58M36 60Q17 61 -2 60M62 19Q53 32 51 47M62 19Q58 12 58 5M62 18Q57 19 52 19M62 18Q60 18 59 16M62 19Q59 7 62 -5M51 47Q53 53 51 60M51 47Q54 33 52 20M51 47Q44 41 41 32M61 -10Q57 -3 52 3M61 -10Q59 -7 62 -5M58 4Q55 4 52 3M58 5Q57 7 54 7M58 5Q61 11 59 17M59 5Q62 0 63 -5M-2 33Q-7 33 -11 33M-2 33Q-7 26 -9 18M51 60Q49 59 47 59M15 50Q23 53 30 50M15 50Q14 48 15 47M15 50Q7 55 -2 60M-10 61Q-10 47 -12 33M-10 60Q-6 58 -2 60M10 28Q14 25 20 26M10 29Q11 38 16 47M-3 -9Q-5 -7 -8 -7M-3 -9Q-7 -8 -9 -5M-3 -8Q1 -6 6 -6M-11 33Q-9 26 -9 19M-11 33Q-12 14 -9 -5M30 49Q31 45 29 42M30 49Q23 49 16 47M51 20Q52 13 54 7M52 19Q55 19 58 16M52 20Q46 25 41 31M51 3Q53 5 54 7M51 3Q56 -2 62 -5M54 7Q58 11 59 17M20 27Q16 36 16 47M-7 -6Q-5 -3 -9 -4M29 42Q22 44 16 47M29 41Q33 34 41 31M-9 19Q-7 7 -9 -5M-8 19Q-2 6 6 -6M29 -4Q18 -7 6 -6M-9 -4Q-1 -2 6 -5" stroke="#dcdcdc" stroke-width="0.65" fill="none" opacity="0.62"/><path d="M27 28Q22 18 13 13M26 29Q21 16 21 2M26 29Q25 33 28 36M27 29Q32 25 39 26M26 28Q32 25 39 25M26 29Q22 31 20 27M26 29Q34 30 41 32M13 13Q6 20 2 29M14 13Q18 8 22 2M13 13Q11 21 10 29M13 13Q15 21 20 27M13 13Q18 19 20 27M13 13Q3 17 -9 19M14 13Q12 2 6 -6M2 29Q2 31 4 33M2 30Q-1 30 -2 33M2 30Q6 27 10 29M2 30Q6 28 10 29M2 30Q-5 26 -9 19M21 2Q33 1 44 3M21 2Q29 15 39 26M22 2Q24 -2 29 -4M21 2Q13 -1 6 -6M49 49Q44 56 36 59M49 49Q47 45 51 47M50 49Q49 54 51 60M49 49Q47 55 50 60M49 49Q40 49 30 49M49 49Q40 47 30 49M50 49Q40 43 29 41M50 49Q51 55 47 59M49 49Q44 41 41 32M50 49Q45 41 41 32M28 36Q22 33 20 27M28 36Q29 39 29 42M28 36Q23 43 16 47M28 36Q35 35 41 32M44 3Q44 -3 46 -9M44 3Q42 14 39 26M44 3Q45 13 52 20M44 3Q45 13 52 20M44 3Q48 5 52 3M44 3Q48 7 54 7M44 3Q37 -1 29 -4M44 3Q37 -3 29 -5M3 33Q-2 39 -8 46M3 33Q1 33 -2 33M4 33Q8 32 10 29M3 33Q11 38 16 47M-8 46Q-8 38 -3 33M-8 46Q4 45 15 50M-8 46Q-7 54 -10 61M-8 46Q-13 40 -12 33M-8 46Q4 44 16 47M-8 46Q4 48 16 46M-8 46Q-6 54 -2 60M45 -9Q53 -9 61 -10M46 -9Q49 -3 52 3M45 -9Q50 -4 52 3M45 -9Q37 -7 29 -5M45 -9Q36 -9 29 -4M45 -8Q26 -7 6 -5M39 26Q46 24 52 20M39 26Q47 25 52 20M39 26Q42 28 41 32M36 59Q43 56 51 59M36 60Q43 61 51 60M36 59Q24 57 15 50M36 59Q31 55 30 49M36 59Q41 57 47 58M36 59Q17 58 -2 59M36 60Q17 62 -2 60M62 19Q56 32 51 47M62 19Q60 12 58 5M62 19Q57 22 52 20M62 19Q60 17 59 17M62 19Q65 7 63 -5M52 47Q54 53 51 60M52 47Q51 53 51 60M51 47Q48 33 51 20M51 47Q49 37 41 32M61 -10Q58 -2 52 3M61 -10Q62 -8 63 -5M58 5Q55 3 51 3M58 5Q55 2 52 3M58 5Q56 5 54 7M59 5Q58 10 54 7M58 5Q57 11 58 17M58 5Q61 0 62 -5M-2 33Q-7 34 -11 33M-2 33Q-7 26 -9 18M51 60Q48 61 47 59M51 60Q49 58 47 59M15 50Q23 50 30 50M15 50Q23 47 30 49M16 50Q16 48 16 47M15 50Q7 56 -2 60M-9 61Q-9 47 -11 33M-10 61Q-6 58 -2 60M10 28Q15 26 20 27M10 29Q14 37 16 47M-3 -9Q-5 -7 -8 -6M-3 -9Q-5 -5 -9 -5M-3 -9Q1 -6 6 -6M-12 33Q-13 25 -9 18M-12 33Q-10 14 -9 -5M-12 33Q-9 14 -9 -5M31 49Q30 45 29 41M30 49Q23 49 16 47M30 49Q23 47 16 47M52 20Q54 13 54 7M52 20Q55 14 54 7M52 20Q54 15 58 17M52 20Q47 26 41 32M52 20Q46 25 41 31M51 3Q52 5 54 7M52 3Q55 4 54 7M52 3Q58 1 62 -5M54 7Q57 12 58 17M20 27Q17 36 16 47M-8 -7Q-9 -6 -9 -5M29 42Q22 43 16 47M29 41Q34 35 41 31M-9 19Q-12 7 -9 -5M-9 19Q-1 6 6 -6M29 -4Q17 -2 6 -6M29 -4Q17 -5 6 -6M-9 -4Q-1 -4 6 -5M-9 -5Q-2 -6 6 -6" stroke="#dcdcdc" stroke-width="0.45" fill="none" opacity="0.56"/><path d="M47 1Q39 8 29 8M16 32Q10 46 6 60M42 7Q33 23 21 33M46 23Q36 16 28 6M50 22Q43 12 38 9M6 46Q-10 37 -21 22M34 38Q36 58 40 71M6 48Q0 61 2 68M15 50Q-1 50 -11 57M27 30Q25 28 17 32M50 22Q58 41 63 57M41 22Q35 12 31 6M38 -1Q54 14 65 26M10 54Q-6 61 -21 60M4 41Q22 46 37 48M3 52Q-1 57 -2 61M35 -3Q34 -24 33 -37M33 28Q23 35 6 47M8 24Q5 14 11 1M54 50Q55 45 61 44M40 3Q33 11 31 13M49 5Q55 10 60 18M28 54Q27 65 20 81M14 41Q3 45 -1 44M11 34Q-8 34 -21 30M9 48Q9 58 9 74M28 29Q37 26 52 23M-1 39Q-10 23 -12 11M19 51Q31 55 45 55M22 54Q17 52 13 50M24 23Q28 34 37 46M2 21Q10 27 11 32M38 50Q30 57 16 66M54 26Q63 22 68 19M24 28Q7 18 -10 13M44 47Q41 42 32 36M10 54Q3 50 3 50M42 23Q43 16 48 2M35 46Q27 46 23 51M29 3Q20 16 14 35M47 0Q57 11 63 19M29 37Q36 51 49 67M19 27Q30 26 36 20M34 26Q40 24 46 17M28 5Q34 13 36 29M6 0Q3 18 -8 28M15 27Q29 33 45 35M55 47Q67 42 82 41M4 17Q20 13 30 9M8 11Q15 12 23 19M46 -4Q41 -7 34 -3M11 50Q8 65 7 82M9 17Q11 7 15 4M56 -2Q52 13 43 21M31 22Q26 18 24 14M55 46Q56 60 54 70M2 49Q-8 46 -16 41M21 -1Q13 2 2 7M12 33Q27 30 36 32M0 10Q15 6 25 6M1 32Q-7 29 -8 19M49 43Q56 59 64 73M41 12Q28 22 10 31M24 34Q22 30 28 22M51 46Q57 46 66 38M-2 13Q-5 14 -12 21M41 32Q31 21 26 17M36 5Q38 -3 38 -18M32 -2Q46 1 66 10M-1 51Q-10 55 -24 62M36 6Q37 2 31 0M8 52Q6 33 12 17M-2 50Q-16 38 -24 34M50 6Q43 6 35 12M35 45Q29 38 17 35M4 17Q15 14 25 10M6 5Q14 10 16 16M13 -2Q26 13 34 26M50 8Q46 7 42 11M41 31Q45 23 42 22M41 31Q43 44 46 55M24 15Q17 20 14 29M30 30Q33 29 41 34M37 34Q36 49 42 57M45 2Q46 -10 49 -23M51 -2Q35 -2 17 6M28 7Q23 11 17 12M52 15Q57 15 60 21M9 45Q15 59 26 72M38 55Q35 58 26 56M33 28Q23 27 15 27M27 38Q21 39 14 34M10 34Q-6 25 -18 18M18 37Q12 33 6 30M26 36Q33 39 34 45M24 1Q14 2 5 -1M9 46Q13 28 17 16M41 53Q28 45 6 42M8 37Q-3 41 -9 44M53 7Q61 -8 65 -21M12 16Q21 25 28 34M25 6Q25 23 19 36M-4 36Q-3 25 5 18M11 9Q-6 -3 -20 -10M28 37Q27 52 30 66M7 51Q-1 43 -10 30M-1 54Q-6 64 -14 69M5 23Q5 14 5 8M51 18Q39 17 32 18M42 15Q48 24 58 38M27 29L46 45M27 29L22 15M27 29L7 47M27 29L4 29M27 29L45 22M27 29L18 13M13 13L-9 23M13 13L-5 14M13 13L-4 11M2 30L-5 33M2 30L16 36M2 30L24 21M21 2L30 23M21 2L35 -7M21 2L15 13M49 49L44 40M49 49L47 65M49 49L55 73M28 36L38 19M28 36L10 50M28 36L48 45" stroke="#dcdcdc" stroke-width="0.35" fill="none" opacity="0.46"/><rect width="51.0" height="51.0" filter="url(#grain)" opacity="0.16"/><path d="M44.2 48.5h.6M21.2 7.1h.6M33.9 2.8h.6M34.7 21.3h.6M20.1 34.2h.6M7.6 15.4h.6M40.7 40.7h.6M37.7 50h.6M6.9 43.7h.6M8.4 34.4h.6M27 24h.6M38.2 29.3h.6M36.8 32.1h.6M40.5 43.9h.6M6.2 37.5h.6M32.2 36.4h.6M21.6 25.6h.6M45 13h.6M44.8 17h.6M13.7 12.3h.6M18.2 12.8h.6M50.4 18.4h.6M20.9 14.8h.6M40.6 6.6h.6M48.6 4.8h.6M22.8 10.2h.6M15 9.1h.6M48.6 21.6h.6M8.9 10.9h.6M23.9 51h.6M24 40.1h.6M49.4 32.6h.6M5.2 11.3h.6" stroke="#fff" stroke-width=".6" opacity=".8"/><path d="M19.7 36.8h1M25.1 17.8h1M20.3 27h1M21.2 49.6h1M48.3 6.3h1M11.4 41.1h1M8.8 46.4h1M46.8 17.3h1M12.3 25.5h1M7.2 27.8h1M47.5 12.7h1M24.9 40.5h1M12.9 1h1M28.1 27.9h1M24.1 41.3h1M19.4 33.6h1M37.7 28.1h1M41.3 44.8h1M30.8 5.1h1M13.7 47.9h1M42.4 48.1h1M50.3 31.9h1M18.7 36.1h1M42.4 1.6h1M21.2 4.3h1M48.9 .5h1M1.7 34.4h1" stroke="#fff" stroke-width="1" opacity=".8"/><g fill="url(#glow)"><circle cx="26.5" cy="28.6" r="8.5"/><circle cx="13.3" cy="12.8" r="4.8"/><circle cx="2.0" cy="29.6" r="4.8"/><circle cx="21.4" cy="2.0" r="3.8"/><circle cx="49.5" cy="49.0" r="3.8"/><circle cx="28.1" cy="35.7" r="4.8"/></g><g fill="#e0e0e0" filter="url(#cl)"><circle cx="26.5" cy="28.6" r="3.4"/><circle cx="27.9" cy="28.6" r="2.9"/><circle cx="26.4" cy="31.2" r="2.2"/><circle cx="25.2" cy="30.0" r="2.9"/><circle cx="26.4" cy="26.8" r="3.2"/><circle cx="26.3" cy="25.0" r="2.7"/><circle cx="26.5" cy="27.1" r="3.0"/></g><g fill="#e8e8e8" filter="url(#bl)"><circle cx="13.3" cy="12.8" r="2.4"/><circle cx="2.0" cy="29.6" r="2.4"/><circle cx="21.4" cy="2.0" r="1.9"/><circle cx="49.5" cy="49.0" r="1.9"/><circle cx="28.1" cy="35.7" r="2.4"/></g></svg>
<svg x="241.5" y="173.2" width="51.0" height="51.0" viewBox="0 0 51.0 51.0"><rect width="51.0" height="51.0" fill="#0c0c0c"/><path d="M30 25Q28 30 30 35M31 25Q37 27 37 34M31 25Q29 23 28 21M31 25Q33 21 37 22M31 25Q31 22 29 21M2 35Q6 26 4 16M2 35Q16 38 31 36M2 34Q13 41 20 51M1 35Q-6 33 -12 28M2 35Q7 27 11 18M1 34Q-7 42 -10 53M3 17Q8 16 11 11M3 16Q2 12 -3 12M3 16Q3 12 7 9M3 16Q-3 24 -11 27M3 16Q7 15 11 18M19 2Q16 8 11 11M18 2Q22 -3 25 -8M18 2Q28 -2 39 -3M18 3Q14 5 9 4M19 2Q19 9 24 15M18 2Q17 -4 11 -7M31 35Q34 37 37 34M31 35Q28 29 28 21M30 36Q32 39 33 43M31 36Q25 43 20 52M31 35Q19 29 11 18M31 36Q33 42 29 47M49 9Q54 6 56 2M49 9Q50 21 57 30M50 8Q47 0 39 -4M49 9Q47 19 44 30M49 9Q43 16 37 22M49 9Q49 2 46 -4M37 55Q32 58 26 60M37 55Q33 50 33 43M37 55Q47 51 55 44M37 55Q33 50 28 47M57 2Q59 19 59 36M56 2Q58 16 58 30M56 2Q51 0 46 -3M57 2Q54 -4 54 -11M36 34Q33 38 33 43M37 34Q47 38 55 44M37 34Q40 31 44 30M37 34Q39 28 37 22M26 60Q21 57 20 51M26 60Q9 62 -8 61M26 60Q28 54 28 47M28 21Q20 18 11 18M28 21Q26 19 24 16M28 22Q29 25 29 22M59 36Q60 32 57 30M58 36Q54 39 55 44M59 36Q51 35 44 30M11 11Q12 7 9 4M10 11Q8 10 6 9M11 11Q12 14 11 18M11 11Q17 13 24 15M25 -8Q32 -6 39 -3M25 -8Q18 -6 11 -6M25 -8Q39 -10 53 -11M34 43Q44 45 55 44M34 43Q32 46 29 47M20 51Q6 56 -8 61M20 51Q5 50 -10 53M20 52Q26 52 29 47M58 30Q51 32 44 30M40 -3Q38 10 37 22M39 -3Q34 8 24 15M39 -3Q43 -1 47 -3M39 -3Q45 -10 53 -11M-7 61Q-5 57 -9 53M9 4Q5 4 6 8M10 4Q8 -2 2 -4M9 4Q6 3 3 2M9 4Q12 -1 11 -7M55 44Q52 35 44 30M-3 12Q2 11 6 8M-3 12Q-10 18 -12 27M-3 12Q-1 11 -3 12M-3 12Q-6 11 -8 8M6 9Q2 11 -3 12M7 8Q4 6 4 2M-11 27Q-12 40 -9 53M-11 27Q-12 18 -8 9M11 18Q17 17 24 15M11 18Q17 16 24 16M2 -4Q1 1 -3 -1M2 -4Q3 -1 3 3M2 -3Q6 -6 11 -6M44 30Q39 27 37 22M-3 -1Q-7 3 -8 9M-3 -1Q0 1 3 2M-3 12Q-4 8 -8 8M-3 12Q1 7 4 3M-8 9Q-2 6 3 3M37 22Q30 19 24 15M37 23Q33 24 29 21M24 15Q24 16 24 16M23 15Q26 18 28 22M24 16Q25 20 29 21M47 -3Q50 -7 54 -11" stroke="#dcdcdc" stroke-width="0.65" fill="none" opacity="0.62"/><path d="M31 25Q32 30 31 35M31 25Q32 31 37 34M30 25Q30 22 27 22M31 25Q34 25 37 22M31 25Q33 21 37 22M30 25Q30 23 28 21M1 35Q4 26 3 16M2 35Q16 35 31 36M2 35Q16 37 31 36M2 35Q11 43 20 51M2 34Q-6 32 -11 27M2 35Q9 27 11 18M1 34Q7 27 10 17M2 35Q-1 46 -9 54M3 16Q5 11 10 11M3 16Q2 11 -3 12M3 16Q5 13 6 8M3 16Q-3 23 -11 27M3 16Q7 14 11 17M19 2Q14 6 11 11M18 2Q19 -5 25 -8M18 2Q28 -2 39 -3M18 2Q14 5 9 4M18 2Q14 4 9 4M18 2Q24 7 24 15M18 2Q16 -3 11 -7M18 2Q12 0 11 -6M31 35Q34 37 37 34M30 35Q31 28 27 21M31 35Q29 40 33 43M30 35Q23 42 20 51M31 35Q20 27 11 17M31 35Q30 41 29 47M49 9Q50 3 56 2M49 9Q56 18 58 30M49 9Q44 3 39 -3M49 9Q46 1 39 -3M49 9Q47 19 44 30M49 9Q48 20 44 30M49 9Q45 17 37 22M50 9Q51 2 47 -4M50 9Q47 3 47 -4M37 55Q30 55 26 60M36 55Q33 50 33 43M37 55Q34 49 34 43M37 55Q46 50 55 45M37 55Q46 49 55 44M37 55Q32 52 29 47M56 2Q56 19 59 36M56 2Q59 16 58 30M56 2Q52 -2 47 -4M56 2Q54 -4 53 -11M37 34Q38 40 34 43M37 34Q47 38 55 44M37 34Q46 39 55 44M37 34Q40 31 44 30M37 34Q35 28 37 22M37 34Q36 28 37 22M26 60Q25 55 20 51M26 61Q9 60 -8 62M26 60Q29 54 28 47M25 60Q27 54 28 47M28 21Q20 17 11 17M28 21Q27 18 24 16M28 22Q28 24 29 21M59 36Q60 32 57 30M59 36Q56 40 55 44M59 36Q57 40 55 44M59 35Q53 30 44 30M59 36Q50 36 44 30M10 11Q11 7 9 4M11 11Q9 9 6 8M11 11Q14 14 11 18M11 11Q18 11 24 15M25 -8Q31 -4 39 -3M25 -8Q32 -4 39 -3M25 -8Q18 -6 11 -7M25 -8Q39 -12 53 -11M34 43Q45 41 55 44M33 43Q28 42 28 47M20 52Q7 58 -8 62M20 51Q5 52 -10 53M20 51Q5 50 -10 53M20 51Q24 48 28 47M20 52Q23 48 28 47M58 30Q51 30 44 30M39 -3Q38 10 37 22M39 -3Q31 6 24 15M39 -3Q43 0 47 -3M39 -3Q48 -4 54 -11M-8 62Q-11 58 -10 53M10 4Q11 9 7 9M10 4Q5 1 2 -4M9 4Q7 1 3 3M10 4Q13 -1 11 -7M55 44Q48 38 44 30M-3 12Q1 10 6 9M-3 13Q3 13 6 9M-3 12Q-5 21 -12 27M-3 12Q-4 13 -3 12M-3 12Q-6 11 -8 9M-3 12Q-4 8 -8 9M6 9Q1 9 -3 12M6 8Q1 8 -3 12M6 9Q5 5 3 3M6 8Q6 5 3 2M-11 27Q-10 40 -9 53M-12 27Q-9 18 -8 9M11 18Q18 19 24 15M11 18Q17 15 24 17M2 -3Q1 0 -2 0M2 -4Q-1 -3 -3 -1M2 -4Q0 0 3 2M2 -4Q6 -5 11 -7M2 -4Q6 -8 11 -7M44 30Q43 24 37 22M-3 -1Q-9 2 -8 8M-3 -1Q0 1 3 3M-2 -1Q0 1 3 2M-3 12Q-6 12 -8 8M-3 12Q3 9 3 3M-3 12Q-1 6 3 2M-8 9Q-1 8 3 3M37 22Q31 17 24 15M37 22Q33 23 29 21M24 15Q26 15 24 16M24 15Q26 18 29 21M24 16Q26 19 29 21M47 -4Q52 -6 54 -11" stroke="#dcdcdc" stroke-width="0.45" fill="none" opacity="0.56"/><path d="M38 14Q34 28 30 38M-1 -1Q13 1 31 0M23 53Q9 44 1 28M18 -2Q24 -12 28 -14M22 23Q5 32 -9 34M5 54Q5 69 -2 82M47 0Q53 2 56 -2M42 39Q25 31 12 16M44 7Q31 12 24 11M47 41Q65 46 76 47M52 54Q46 41 43 25M14 11Q6 16 6 26M12 8Q29 9 42 12M39 48Q52 48 63 53M50 44Q41 38 26 39M48 27Q46 31 43 42M45 20Q62 6 75 -2M10 33Q21 31 35 24M23 31Q7 33 -12 41M34 20Q38 33 45 40M8 28Q18 29 25 29M35 30Q33 26 24 20M-3 46Q3 58 7 64M5 13Q-9 13 -23 10M55 -1Q45 12 29 17M16 10Q10 -4 -1 -18M3 38Q-1 41 3 46M18 28Q8 30 -4 36M44 36Q49 27 53 13M35 11Q38 9 44 1M23 4Q29 -5 44 -11M16 12Q11 8 13 -3M30 24Q44 13 52 5M14 15Q-1 18 -11 20M52 41Q64 37 75 41M55 43Q46 38 34 34M30 26Q20 36 18 44M9 11Q18 24 27 36M26 31Q23 39 16 43M4 4Q-7 14 -15 29M21 26Q14 23 9 13M41 8Q39 6 29 8M51 8Q52 16 54 26M19 20Q31 26 39 37M3 -3Q9 11 13 19M45 5Q41 8 44 19M28 53Q30 51 37 52M47 1Q34 5 16 14M27 37Q40 47 51 60M15 0Q22 -2 27 -7M32 44Q27 59 28 71M41 23Q35 7 37 -5M8 37Q15 28 15 24M21 47Q14 62 14 80M46 35Q55 39 63 51M52 -3Q66 -11 78 -16M10 25Q15 24 20 22M54 38Q68 37 82 29M-3 41Q-1 41 8 42M44 44Q35 37 30 30M15 26Q15 19 9 18M48 -4Q65 -4 85 -3M42 0Q29 -14 15 -21M4 48Q10 64 14 76M34 28Q37 10 44 0M31 30Q30 24 22 16M21 5Q25 12 27 20M45 14Q56 1 65 -17M13 23Q9 28 -2 36M54 40Q52 50 51 61M53 34Q39 31 27 34M19 44Q21 42 21 36M33 53Q30 56 29 65M47 22Q41 11 35 2M43 48Q55 48 68 47M53 15Q68 13 77 17M16 33Q12 29 4 20M38 48Q44 54 51 64M21 52Q22 46 20 38M10 16Q20 23 25 32M14 10Q21 7 29 7M25 43Q37 32 42 24M37 17Q34 28 36 37M5 38Q4 35 4 30M34 33Q47 30 65 36M41 21Q42 28 45 33M-3 27Q-20 29 -36 37M31 1Q46 9 60 20M8 4Q3 9 -10 14M19 25Q14 34 12 47M18 42Q32 50 40 56M23 48Q17 42 20 30M22 14Q31 16 37 15M5 41Q7 35 7 31M18 13Q17 9 8 10M55 -3Q52 0 42 5M56 18Q60 24 71 31M5 8Q14 16 16 22M34 46Q17 52 8 57M46 17Q61 28 72 41M2 18Q-3 20 -14 20M44 27Q57 22 69 17M47 33Q44 32 35 29M55 20Q55 24 58 29M10 39Q14 53 23 72M2 43Q11 36 23 24M38 10Q48 2 63 -7M-4 2Q9 10 24 17M51 12Q59 17 61 25M-2 -1Q-17 13 -28 23M31 25L13 46M31 25L22 18M31 25L22 41M31 25L18 34M31 25L37 23M2 35L-13 52M2 35L22 20M2 35L-9 44M2 35L16 23M3 16L11 14M3 16L6 -5M3 16L15 16M18 2L-2 -13M18 2L10 4M18 2L14 -7M36 9L50 33M36 9L9 15M45 29L54 25M45 29L48 51M20 49L24 56M20 49L41 63" stroke="#dcdcdc" stroke-width="0.35" fill="none" opacity="0.46"/><rect width="51.0" height="51.0" filter="url(#grain)" opacity="0.16"/><path d="M44.4 19.6h.6M15 16.9h.6M50.5 9.8h.6M49.7 48.1h.6M46.3 13.5h.6M24.7 28.3h.6M23.4 9.8h.6M41.2 26.7h.6M44.2 28.7h.6M7.4 29.5h.6M40.2 42.4h.6M18 6.1h.6M14 10.7h.6M39.5 5h.6M20.4 22.7h.6M17.1 50.1h.6M22.2 35.6h.6M32.4 22.8h.6M19.6 16.8h.6M40.3 14.6h.6M10.5 13.7h.6M27.2 31.1h.6M45.6 27.2h.6M48.9 33.8h.6M29.1 24.4h.6M3.3 9.8h.6M36.7 11.1h.6M24.5 13.7h.6M43.2 16.3h.6M8.2 42.5h.6M43.2 2h.6M42.6 45.8h.6" stroke="#fff" stroke-width=".6" opacity=".8"/><path d="M1.6 10.7h1M19 11.5h1M28.9 27.1h1M26.9 7.9h1M10.1 18h1M17.5 32h1M41.6 23.3h1M41.4 43.9h1M33.1 41.2h1M29.1 38h1M32 17.6h1M2.8 19h1M28.7 32.8h1M38.1 3.8h1M39.2 43.7h1M20.5 33.5h1M7.1 19h1M16.9 25.5h1M5.9 40.9h1M44.5 45.4h1M8.2 49.3h1M37 30.3h1M12.1 14.5h1M22.4 41.6h1M46.2 24.7h1M46.8 33.9h1M34 8.1h1M42.1 15.2h1" stroke="#fff" stroke-width="1" opacity=".8"/><g fill="url(#glow)"><circle cx="30.6" cy="25.0" r="6.6"/><circle cx="1.5" cy="34.7" r="5.7"/><circle cx="3.1" cy="16.3" r="3.8"/><circle cx="18.4" cy="2.0" r="3.8"/><circle cx="35.7" cy="9.2" r="2.8"/><circle cx="45.4" cy="28.6" r="2.8"/><circle cx="20.4" cy="49.0" r="2.8"/></g><g fill="#e8e8e8" filter="url(#bl)"><circle cx="30.6" cy="25.0" r="3.3"/><circle cx="32.3" cy="24.6" r="2.4"/><circle cx="29.4" cy="23.7" r="2.3"/><circle cx="1.5" cy="34.7" r="2.8"/><circle cx="0.0" cy="34.5" r="1.9"/><circle cx="0.1" cy="35.2" r="2.0"/><circle cx="3.1" cy="16.3" r="1.9"/><circle cx="18.4" cy="2.0" r="1.9"/><circle cx="35.7" cy="9.2" r="1.4"/><circle cx="45.4" cy="28.6" r="1.4"/><circle cx="20.4" cy="49.0" r="1.4"/></g></svg>
<svg x="296.3" y="173.2" width="51.0" height="51.0" viewBox="0 0 51.0 51.0"><rect width="51.0" height="51.0" fill="#0c0c0c"/><path d="M38 10Q29 5 19 4M38 10Q45 16 54 21M38 10Q38 16 35 23M38 10Q50 9 60 1M38 10Q35 4 33 -3M38 9Q47 3 54 -5M38 10Q42 18 50 23M18 32Q17 18 18 4M19 32Q27 28 34 23M19 32Q25 40 27 50M19 32Q15 38 12 45M19 32Q26 33 34 32M19 32Q14 30 9 28M19 32Q22 42 31 48M4 23Q3 30 -2 36M4 23Q3 22 3 21M4 23Q-2 27 -7 32M4 23Q2 31 -5 34M4 23Q8 24 10 28M4 23Q0 21 -1 17M47 26Q56 29 60 38M46 26Q41 24 34 23M46 26Q48 24 50 23M46 26Q40 29 34 32M47 26Q51 34 48 42M19 4Q27 13 34 23M19 3Q25 -1 33 -4M19 3Q12 0 5 -1M19 4Q10 9 0 11M19 4Q11 12 4 21M19 4Q23 0 23 -4M19 4Q14 16 9 28M22 54Q26 54 26 50M22 54Q16 51 12 45M22 54Q17 55 13 57M22 54Q22 56 24 56M-9 9Q-6 12 -2 14M-9 9Q-3 4 5 0M-10 9Q-5 11 0 11M-10 9Q-11 21 -8 32M-10 9Q-10 0 -7 -9M60 38Q56 30 54 21M60 38Q58 20 60 1M60 38Q59 18 61 -1M60 38Q57 45 54 51M60 38Q55 30 50 23M60 38Q60 47 62 55M60 37Q53 38 48 42M-2 14Q0 13 0 11M-2 14Q-5 23 -7 32M-2 14Q-3 16 -1 17M54 21Q54 10 60 1M54 21Q53 24 50 22M-10 55Q-6 44 -7 32M-10 56Q-6 54 -3 51M-10 55Q2 56 13 57M-10 55Q-9 48 -4 43M-2 36Q4 42 12 45M-2 36Q-5 37 -6 34M-2 36Q3 31 10 28M-2 36Q-2 40 -4 43M34 22Q42 20 50 22M35 23Q34 27 34 32M60 1Q59 0 61 -1M60 1Q57 -1 54 -5M33 -4Q44 -3 54 -5M33 -3Q28 -2 23 -4M33 -4Q18 -7 2 -11M60 -1Q57 -1 54 -4M26 51Q19 49 12 45M27 51Q28 47 31 48M26 50Q26 54 24 56M54 52Q57 56 62 55M54 51Q59 53 62 59M54 51Q43 48 31 47M54 51Q52 46 48 42M54 51Q39 54 24 56M12 45Q6 52 -3 51M12 45Q12 51 13 58M12 45Q11 36 9 28M12 44Q4 39 -4 43M5 0Q0 4 0 11M5 -1Q14 -1 23 -5M5 0Q-1 -5 -7 -9M5 0Q1 -5 2 -11M0 11Q2 16 4 20M0 11Q-2 14 -1 17M62 55Q59 56 61 59M3 21Q5 26 9 28M4 21Q0 21 -1 17M-7 32Q-7 34 -6 34M-8 32Q-3 25 -1 17M-7 32Q-7 38 -4 43M34 32Q32 40 31 47M34 32Q41 37 48 42M-5 34Q-6 39 -3 43M-4 51Q5 53 13 58M-4 51Q-5 47 -4 43M23 -5Q13 -8 2 -11M61 59Q42 60 24 57M13 58Q18 56 24 57M31 47Q39 45 48 42M31 47Q25 50 24 56M-7 -9Q-2 -9 2 -10" stroke="#dcdcdc" stroke-width="0.65" fill="none" opacity="0.62"/><path d="M38 10Q28 10 19 4M38 9Q29 4 19 3M38 9Q48 13 54 21M38 10Q37 16 35 23M38 10Q38 17 35 23M38 9Q48 2 60 1M38 10Q49 5 60 2M38 10Q36 3 34 -4M38 10Q46 2 54 -5M39 9Q43 17 50 22M19 32Q17 18 19 4M19 32Q24 24 34 22M19 32Q25 40 26 50M19 32Q21 42 26 51M19 32Q16 39 12 45M19 33Q26 32 34 32M19 32Q14 30 9 28M19 32Q24 40 31 47M19 32Q24 40 31 47M4 23Q1 29 -2 36M4 23Q8 21 4 20M4 23Q2 22 4 20M4 23Q0 29 -7 32M4 23Q-2 27 -5 34M4 23Q6 26 10 28M4 23Q1 20 -1 17M46 26Q55 30 60 38M46 26Q41 24 34 23M46 26Q49 25 50 23M47 26Q42 32 34 32M46 26Q46 34 48 42M19 4Q26 14 35 22M19 4Q26 -1 33 -3M19 3Q12 1 5 -1M19 3Q8 4 0 11M19 4Q13 14 4 21M19 3Q21 0 22 -5M19 4Q14 16 9 28M22 54Q24 51 26 50M23 54Q18 49 12 45M23 54Q18 56 13 58M22 54Q24 54 24 56M-10 9Q-5 10 -2 14M-10 9Q-3 3 5 0M-10 9Q-3 3 5 -1M-10 9Q-4 9 0 11M-9 9Q-10 21 -7 32M-9 9Q-11 0 -7 -9M60 38Q57 29 54 21M60 38Q62 20 60 1M60 38Q60 20 60 1M60 38Q61 18 60 -1M60 38Q60 18 60 -1M60 38Q56 44 53 51M60 38Q56 30 50 23M60 38Q61 46 62 55M60 38Q55 43 48 43M60 38Q54 40 48 43M-2 14Q-3 11 0 11M-2 14Q-2 24 -7 32M-2 14Q-1 15 -1 17M54 21Q59 12 61 1M54 21Q52 23 50 23M54 21Q51 20 50 23M-10 55Q-9 43 -7 32M-10 55Q-5 55 -3 51M-10 56Q1 58 13 58M-10 55Q-8 48 -4 43M-2 36Q5 40 12 45M-2 36Q-4 35 -5 34M-2 36Q5 34 9 28M-2 36Q-4 39 -4 43M34 23Q42 22 50 23M34 23Q34 27 34 32M60 1Q60 0 61 -1M60 1Q58 -2 54 -5M33 -3Q44 -4 54 -4M33 -4Q44 -4 54 -5M33 -3Q28 -5 23 -4M33 -3Q18 -8 2 -10M61 -1Q57 -2 54 -5M26 51Q19 47 12 45M26 51Q19 48 12 45M27 51Q30 51 31 48M26 50Q27 54 24 56M26 50Q25 53 24 56M54 51Q59 51 62 55M54 51Q60 52 62 59M54 51Q43 48 31 47M54 51Q42 52 31 47M54 51Q50 47 48 42M54 51Q39 55 24 56M12 45Q5 49 -3 51M12 45Q16 51 13 58M11 45Q8 37 9 28M12 45Q13 36 10 28M12 45Q4 44 -4 43M5 -1Q2 5 0 11M5 -1Q14 -2 23 -5M5 -1Q-2 -3 -7 -9M5 0Q1 -5 2 -10M5 0Q4 -6 2 -11M0 11Q3 16 4 20M1 11Q2 16 4 20M0 11Q-1 14 -1 17M0 11Q2 14 -1 17M62 55Q59 56 61 59M4 21Q5 25 9 28M4 20Q2 18 -1 17M-7 32Q-6 33 -5 34M-7 32Q-4 24 -1 17M-7 32Q-1 26 0 17M-7 32Q-7 38 -4 43M33 32Q33 40 31 47M34 32Q40 38 48 42M-6 34Q-6 39 -4 43M-4 51Q5 53 13 58M-3 51Q4 55 13 57M-3 51Q-3 47 -4 43M23 -5Q13 -11 2 -11M61 59Q43 60 24 56M61 59Q43 58 24 57M13 57Q18 56 24 56M31 47Q38 42 48 42M31 47Q39 45 48 42M31 47Q28 52 24 56M-7 -9Q-2 -7 2 -10" stroke="#dcdcdc" stroke-width="0.45" fill="none" opacity="0.56"/><path d="M51 12Q46 7 46 1M47 28Q36 27 20 25M20 33Q13 18 13 4M16 37Q20 43 22 48M28 9Q25 20 30 32M54 31Q43 22 30 19M29 42Q31 33 30 23M33 52Q29 39 25 22M23 42Q38 40 47 46M30 8Q36 14 50 17M56 36Q48 36 44 35M16 47Q15 37 9 34M11 46Q5 37 6 35M45 30Q52 13 62 0M22 30Q25 31 34 32M47 -1Q49 -18 44 -28M2 31Q9 27 11 30M22 9Q24 16 27 27M40 29Q29 24 27 20M0 11Q-20 9 -35 12M-4 42Q0 30 -4 21M25 31Q22 40 14 53M-5 22Q0 18 12 13M49 41Q53 44 58 52M36 4Q49 -6 67 -14M47 18Q45 9 39 0M45 33Q44 50 43 62M4 -2Q-2 -19 -8 -37M3 20Q0 13 -6 4M16 12Q7 20 -6 29M17 9Q25 20 29 32M39 21Q19 15 3 15M-1 17Q-3 22 -3 29M33 53Q28 70 27 85M-4 -3Q-9 2 -13 -1M27 40Q34 45 41 57M56 4Q50 8 46 9M52 51Q63 38 75 25M-4 56Q-6 50 -11 48M13 -1Q8 -5 3 -15M33 17Q21 19 16 17M0 39Q12 35 17 30M45 21Q30 18 19 8M31 20Q41 26 50 38M5 25Q9 22 4 13M27 38Q15 22 10 10M43 38Q35 35 30 37M46 9Q68 10 83 7M12 6Q7 -3 2 -6M22 18Q23 21 31 29M27 43Q30 33 30 24M35 -4Q28 -3 23 -1M45 5Q45 -12 41 -29M-2 8Q-3 1 1 -9M31 14Q41 21 51 29M-2 22Q-9 16 -19 13M28 32Q37 22 48 19M46 15Q53 17 65 27M11 -3Q-3 -13 -19 -22M-4 4Q-1 11 3 23M16 12Q12 15 7 18M44 0Q51 5 62 18M31 1Q27 -12 17 -29M13 16Q26 18 33 16M42 39Q55 22 60 8M18 45Q17 48 8 45M38 2Q29 10 14 19M-3 4Q3 3 11 7M-4 32Q3 32 4 28M6 27Q0 20 0 21M-1 31Q-5 29 -16 26M7 2Q22 1 31 -7M0 4Q4 16 6 24M15 46Q26 45 31 42M44 50Q42 51 38 59M23 45Q21 52 26 61M23 43Q14 46 2 42M41 39Q39 34 40 26M55 27Q45 35 33 40M27 11Q30 7 35 -4M52 44Q55 36 65 25M51 33Q52 40 46 47M1 29Q2 47 6 61M47 28Q55 44 58 54M35 10Q22 -1 10 -7M28 54Q29 54 36 59M36 27Q33 34 25 36M17 13Q26 14 40 16M-4 45Q6 57 8 63M14 19Q9 28 3 39M54 50Q54 58 58 69M25 24Q24 24 18 29M10 15Q-2 5 -7 -5M15 38Q21 29 21 25M45 31Q28 36 16 45M4 21Q3 15 -5 7M13 16Q18 16 23 11M43 33Q52 22 60 15M38 8Q31 9 31 17M49 30Q58 21 61 14M4 36Q-3 23 -15 4M39 4Q48 16 57 24M8 44Q9 52 9 54M38 7Q55 9 74 8M19 56Q11 40 6 24M44 17Q39 24 35 31M54 47Q45 54 32 63M41 37Q40 44 40 49M6 15Q11 30 21 37M10 11Q10 15 17 17M38 10L28 1M38 10L44 19M38 10L11 5M38 10L11 4M38 10L51 21M19 32L10 35M19 32L5 32M19 32L42 17M19 32L14 16M4 23L-5 8M4 23L-7 39M4 23L11 35M4 23L18 33M46 26L46 19M46 26L25 19M46 26L39 2M19 4L-5 11M19 4L11 19M19 4L24 -4M45 46L20 37M45 46L59 49" stroke="#dcdcdc" stroke-width="0.35" fill="none" opacity="0.46"/><rect width="51.0" height="51.0" filter="url(#grain)" opacity="0.16"/><path d="M34.3 12h.6M39.4 16h.6M32.3 22.7h.6M25.1 29.8h.6M15.1 33.3h.6M38.3 50.6h.6M13 6.2h.6M23.1 2.7h.6M20.7 17.1h.6M47 20h.6M14.8 31.5h.6M6.2 44.4h.6M23.8 35.7h.6M34.3 43.7h.6M18.2 46h.6M42.5 6.7h.6M12.5 4.3h.6M41.2 1h.6M27.7 32h.6M30.6 23.5h.6M23.2 18.5h.6M8.3 12.5h.6M43.5 49.1h.6M40 27.4h.6M38 22.1h.6M45.8 50.6h.6M50.5 4.1h.6M48.8 49.2h.6" stroke="#fff" stroke-width=".6" opacity=".8"/><path d="M3.8 42.4h1M14.5 11.6h1M43.5 31h1M44.6 .5h1M39.7 38.3h1M4.8 1h1M35.1 46.5h1M50 10.2h1M6.3 43.9h1M14.7 19h1M43.3 19.3h1M47.7 34.9h1M36.9 6.4h1M28.4 41.6h1M5.9 46.3h1M8.1 14.6h1M23.2 37.7h1M46.2 28.8h1M24 2.1h1M8.4 17.1h1M41.2 6.5h1M31.5 47.7h1M14.5 42.1h1M28.9 29.7h1M34.8 15.6h1M36.1 5.1h1M4 14.1h1M46 21.6h1M3.1 46.9h1M12.3 11h1M24.5 22h1M14.9 46.8h1" stroke="#fff" stroke-width="1" opacity=".8"/><g fill="url(#glow)"><circle cx="38.2" cy="9.7" r="6.6"/><circle cx="18.9" cy="32.1" r="5.7"/><circle cx="4.1" cy="22.9" r="5.7"/><circle cx="46.4" cy="26.0" r="4.8"/><circle cx="18.9" cy="3.6" r="3.8"/><circle cx="44.9" cy="45.9" r="2.8"/></g><g fill="#e8e8e8" filter="url(#bl)"><circle cx="38.2" cy="9.7" r="3.3"/><circle cx="39.4" cy="11.0" r="1.8"/><circle cx="38.0" cy="11.4" r="1.9"/><circle cx="18.9" cy="32.1" r="2.8"/><circle cx="20.2" cy="31.4" r="1.5"/><circle cx="17.9" cy="33.3" r="1.6"/><circle cx="4.1" cy="22.9" r="2.8"/><circle cx="2.6" cy="23.1" r="1.5"/><circle cx="2.9" cy="23.9" r="2.1"/><circle cx="46.4" cy="26.0" r="2.4"/><circle cx="18.9" cy="3.6" r="1.9"/><circle cx="44.9" cy="45.9" r="1.4"/></g></svg>
<svg x="351.1" y="173.2" width="51.0" height="51.0" viewBox="0 0 51.0 51.0"><rect width="51.0" height="51.0" fill="#0c0c0c"/><path d="M28 34Q28 30 24 29M28 34Q22 36 16 40M28 34Q28 29 33 30M28 35Q37 36 46 34M28 34Q30 41 29 48M34 29Q38 22 46 23M35 29Q32 22 26 17M34 29Q27 24 27 15M35 29Q32 26 33 30M35 29Q42 27 46 33M35 29Q37 19 39 9M46 23Q43 28 46 33M46 23Q43 16 39 9M46 23Q48 14 46 6M46 23Q49 28 48 34M46 23Q55 24 62 30M10 33Q11 26 14 20M10 32Q2 23 -9 19M10 32Q16 28 24 29M10 33Q11 38 16 40M10 33Q8 38 4 44M11 33Q8 37 8 43M47 47Q50 52 51 57M48 47Q41 49 37 54M48 47Q54 47 58 51M47 47Q48 40 46 33M48 47Q49 40 48 33M47 47Q38 46 29 49M14 20Q20 19 26 17M14 20Q3 18 -9 19M14 20Q21 22 24 29M14 20Q13 18 15 17M14 21Q2 17 -6 8M22 14Q23 17 26 18M22 14Q24 16 27 15M22 14Q19 16 15 17M22 14Q26 11 28 7M22 14Q28 3 28 -9M27 18Q28 24 25 29M27 18Q27 16 27 15M26 18Q29 24 33 30M26 17Q21 15 15 16M-9 19Q-13 16 -10 13M-9 19Q-1 31 4 44M-9 20Q-7 14 -5 8M-10 -4Q-7 4 -9 13M-10 -4Q9 -4 28 -9M-11 -4Q-9 2 -6 8M8 60Q6 52 4 44M8 60Q8 53 12 47M8 61Q14 62 21 62M24 29Q18 32 16 39M24 29Q28 31 33 30M57 56Q55 60 51 57M57 55Q60 54 58 51M56 55Q57 42 61 30M30 5Q28 4 28 7M31 5Q29 6 30 8M31 5Q30 -2 28 -9M30 5Q32 3 35 3M28 15Q32 12 29 7M27 15Q32 10 39 9M28 15Q28 11 30 8M60 -10Q52 -2 45 6M60 -10Q51 -3 46 6M60 -10Q44 -12 28 -9M60 -10Q60 10 62 30M16 40Q16 45 12 47M16 40Q11 39 8 43M16 40Q22 45 29 49M33 30Q39 35 46 34M45 6Q44 11 39 10M45 6Q46 5 46 6M45 6Q37 -2 28 -9M45 6Q41 1 35 3M51 57Q43 58 37 55M51 56Q54 53 57 51M51 57Q37 55 24 60M51 57Q36 58 21 62M-9 13Q-8 10 -5 8M15 17Q23 5 28 -9M15 17Q4 14 -6 8M29 7Q30 6 30 8M29 7Q26 -1 28 -9M37 54Q30 56 25 61M37 54Q35 49 29 48M57 52Q50 44 48 34M58 51Q58 40 62 30M4 44Q7 47 12 46M5 44Q7 46 8 43M46 33Q47 35 48 33M46 33Q38 41 29 48M39 9Q41 4 46 6M39 9Q34 7 30 8M39 9Q39 5 35 3M46 6Q56 16 62 30M30 8Q32 5 35 4M28 -9Q33 -3 35 3M28 -9Q10 -2 -6 8M11 47Q9 46 7 43M11 47Q18 54 24 60M12 46Q16 54 22 61M11 46Q20 46 29 48M48 33Q55 31 62 29M24 60Q23 60 21 61M24 60Q28 55 29 48" stroke="#dcdcdc" stroke-width="0.65" fill="none" opacity="0.62"/><path d="M28 34Q28 30 24 29M28 34Q24 33 24 29M28 34Q22 36 16 40M28 34Q29 31 33 30M28 34Q37 35 46 33M28 34Q37 30 46 33M28 34Q32 41 29 48M34 29Q39 23 46 23M35 29Q32 23 27 17M35 29Q34 20 28 15M35 29Q35 33 33 30M35 29Q41 30 46 33M35 29Q38 20 39 10M35 29Q36 19 39 10M46 23Q47 28 46 33M46 23Q44 15 38 10M46 23Q47 14 46 6M46 23Q44 29 48 34M46 23Q54 25 62 30M10 33Q11 26 14 20M10 32Q0 26 -9 19M10 33Q16 28 24 29M10 33Q13 36 16 40M10 33Q5 37 4 44M10 33Q10 38 8 43M48 47Q48 52 51 56M47 47Q47 53 51 57M47 47Q41 49 36 54M47 47Q51 52 57 52M47 47Q47 40 46 33M47 47Q45 40 46 33M48 47Q50 40 48 33M47 47Q38 48 29 48M14 20Q20 15 26 17M14 20Q21 21 26 18M14 20Q3 19 -9 19M14 20Q3 20 -9 19M14 20Q20 23 24 29M14 20Q14 18 15 17M14 20Q4 15 -6 8M22 14Q26 14 26 17M22 13Q25 14 27 15M22 13Q18 15 15 16M22 14Q19 16 15 17M22 14Q25 10 28 7M22 14Q26 11 29 7M22 14Q22 2 28 -9M26 17Q25 23 24 29M27 17Q30 17 27 15M27 17Q30 24 33 30M26 17Q21 16 15 17M-9 19Q-10 16 -9 13M-9 19Q-10 16 -9 13M-9 19Q-1 31 5 44M-9 19Q-6 14 -6 8M-10 -4Q-10 4 -9 13M-10 -4Q9 -4 28 -9M-10 -4Q-10 2 -6 8M8 60Q5 52 4 44M8 61Q8 53 12 47M8 60Q15 59 21 62M8 60Q14 62 21 61M24 29Q18 33 16 39M24 29Q29 28 33 30M57 55Q53 54 51 57M57 55Q53 54 51 56M57 55Q57 53 57 51M57 55Q57 42 62 30M57 55Q58 42 62 30M30 5Q30 6 28 7M30 5Q29 6 28 7M30 5Q31 7 29 7M30 5Q26 -1 28 -9M31 5Q33 4 35 4M27 15Q28 11 29 7M28 15Q32 12 29 7M27 15Q32 10 38 9M27 15Q28 11 29 8M60 -9Q51 -4 45 6M60 -10Q53 -1 46 6M60 -9Q44 -7 28 -9M60 -9Q44 -6 28 -9M60 -10Q62 10 62 30M60 -10Q60 10 62 30M16 39Q13 42 11 46M16 40Q12 41 8 43M16 40Q23 44 29 49M33 30Q40 29 46 33M45 6Q41 7 39 9M45 6Q46 2 46 6M45 6Q46 7 46 6M45 6Q38 -3 28 -9M45 6Q40 4 35 4M51 56Q44 57 37 54M51 56Q55 55 57 51M51 57Q55 55 58 52M51 57Q38 58 24 60M51 57Q38 58 24 61M51 57Q37 62 21 62M-9 13Q-6 12 -6 8M15 17Q24 5 28 -9M15 17Q6 9 -6 8M29 7Q28 9 30 7M29 7Q28 -1 28 -9M37 54Q30 56 24 60M37 54Q33 50 29 48M58 51Q55 41 48 33M58 52Q60 41 62 30M4 44Q8 44 11 47M4 44Q6 44 7 43M4 44Q7 46 8 43M46 34Q47 35 48 34M46 33Q47 35 48 33M46 33Q37 40 29 48M39 10Q44 11 46 6M39 9Q35 5 30 7M39 9Q37 6 35 4M46 6Q53 18 62 30M30 8Q34 8 35 4M28 -9Q33 -3 35 4M28 -9Q13 2 -6 8M12 46Q10 44 8 42M11 47Q9 45 7 43M12 46Q20 51 25 60M11 47Q18 53 24 60M11 46Q17 54 21 62M12 46Q16 54 22 61M11 47Q20 51 29 49M48 34Q55 31 62 30M24 60Q24 63 21 62M25 60Q27 55 29 48" stroke="#dcdcdc" stroke-width="0.45" fill="none" opacity="0.56"/><path d="M16 30Q36 28 48 29M43 40Q46 29 47 25M23 8Q14 12 6 7M32 47Q28 43 21 33M45 7Q46 2 46 -2M50 32Q47 22 48 15M48 33Q39 32 26 25M18 5Q16 -1 16 -6M37 13Q49 22 60 28M54 15Q52 3 43 -15M21 11Q10 15 5 25M9 14Q8 22 14 39M12 29Q13 7 14 -7M51 39Q47 25 49 19M36 27Q40 30 43 33M46 5Q59 16 64 31M14 29Q12 17 4 9M11 27Q24 27 40 19M-3 3Q-8 -13 -16 -29M39 42Q34 57 28 64M8 15Q-3 2 -14 -8M56 41Q58 46 68 47M6 51Q-1 39 -9 31M44 6Q36 10 34 10M25 52Q34 68 48 81M47 32Q50 50 45 62M14 6Q21 3 32 -4M7 -4Q-3 -9 -7 -19M6 32Q10 46 11 57M33 13Q49 15 58 11M9 46Q17 55 20 68M32 -2Q34 3 29 7M19 26Q26 34 31 41M20 22Q22 19 25 10M50 18Q57 26 69 41M28 -3Q18 13 10 25M10 -1Q16 -2 23 3M25 12Q16 11 14 4M25 36Q15 36 8 33M51 7Q48 12 48 20M1 37Q7 51 17 60M6 51Q-13 48 -31 47M53 49Q43 47 39 44M13 11Q19 0 25 -4M15 11Q11 11 0 8M3 55Q-4 42 -11 27M42 40Q57 44 76 45M46 10Q39 19 24 34M31 55Q45 56 51 59M42 21Q34 18 32 20M-5 25Q6 24 20 27M32 36Q28 22 25 6M36 8Q37 -5 38 -17M20 21Q32 18 43 22M32 46Q35 43 43 34M8 29Q9 22 3 17M30 53Q35 40 43 20M17 -2Q18 -6 15 -15M36 12Q53 21 63 23M10 15Q17 2 28 -9M11 34Q9 41 8 49M4 3Q3 0 10 -3M35 27Q22 22 11 15M6 29Q-10 32 -25 32M37 48Q39 41 40 33M19 23Q12 16 10 13M31 40Q19 38 11 33M35 29Q38 25 41 22M54 29Q65 32 80 40M29 -3Q43 -6 63 -7M24 1Q24 -17 26 -27M30 48Q28 49 19 52M-2 25Q13 30 25 31M8 7Q2 -11 2 -30M2 42Q-6 28 -17 20M46 7Q51 14 60 26M4 15Q16 4 22 -6M3 4Q-10 7 -20 15M45 18Q51 16 62 7M-1 3Q1 -9 7 -28M45 1Q55 -20 60 -34M6 36Q7 37 14 45M5 44Q21 49 42 51M21 33Q36 38 54 47M53 -2Q55 -8 64 -10M22 51Q27 49 29 45M10 53Q-8 52 -21 49M27 43Q28 53 29 59M-2 16Q-7 17 -10 21M37 33Q22 22 9 13M11 12Q0 14 -11 18M-3 53Q12 57 34 64M53 22Q68 19 79 15M12 54Q23 55 28 58M50 53Q50 47 50 42M36 32Q40 40 44 46M11 39Q23 37 41 30M14 45Q0 47 -21 46M44 46Q43 49 46 55M2 27Q10 42 15 54M19 11Q35 8 46 2M28 39Q36 55 43 69M48 13Q36 18 26 27M37 37Q25 48 10 55M46 3Q34 19 23 33M49 0Q61 5 68 10M4 36Q6 25 13 16M18 7Q14 -10 10 -19M15 7Q26 7 39 9M2 7Q4 20 1 29M28 34L37 23M28 34L35 33M28 34L36 46M28 34L48 22M28 34L15 31M35 29L39 35M35 29L31 24M35 29L42 36M35 29L55 36M46 23L67 9M46 23L37 23M46 23L59 26M10 33L10 48M10 33L19 12M10 33L25 51M47 47L21 57M47 47L61 68M47 47L40 51M10 44L21 67M10 44L21 55" stroke="#dcdcdc" stroke-width="0.35" fill="none" opacity="0.46"/><rect width="51.0" height="51.0" filter="url(#grain)" opacity="0.16"/><path d="M16.4 5.2h.6M42.1 32.2h.6M32.3 22.3h.6M33.6 18.7h.6M10 45.7h.6M48.2 16.6h.6M44.8 41.6h.6M21 38.1h.6M16.4 12.7h.6M42.3 11.4h.6M9.4 4.8h.6M26.6 39.2h.6M32.2 34.3h.6M31.9 0h.6M28.7 33.5h.6M2.9 15h.6M28.2 44h.6M6.6 44.7h.6M11 31.7h.6M9.4 25.1h.6M10.8 3.3h.6M43.6 11.5h.6M12.5 23.9h.6M8.6 37.4h.6M48.9 16.8h.6" stroke="#fff" stroke-width=".6" opacity=".8"/><path d="M29.7 10.4h1M36.9 15.6h1M33.6 11.4h1M22.6 9.5h1M33.9 6.6h1M25.3 8.6h1M8.7 33.1h1M12.6 23.9h1M50.8 33.8h1M26 17.1h1M32.3 23.4h1M13.6 29.9h1M13.3 49.2h1M25.4 42.6h1M40.9 27.5h1M2.4 22.2h1M38.5 19.8h1M41.7 20.2h1M40.8 36.3h1M27.5 41h1M1.8 22.5h1M28.6 24.5h1M9.4 44.9h1M45.6 38.2h1M40.7 8.7h1M34.2 4.7h1M8.7 39.7h1M41.2 8.8h1M1.6 38.7h1M9.7 30h1M11.2 .2h1M46.6 26.8h1M20.4 4.5h1M30.5 28.8h1M.2 37.5h1" stroke="#fff" stroke-width="1" opacity=".8"/><g fill="url(#glow)"><circle cx="28.1" cy="34.2" r="6.6"/><circle cx="34.7" cy="29.1" r="5.7"/><circle cx="45.9" cy="22.9" r="4.8"/><circle cx="10.2" cy="32.6" r="3.8"/><circle cx="47.4" cy="46.9" r="3.8"/><circle cx="10.2" cy="43.9" r="2.8"/></g><g fill="#e8e8e8" filter="url(#bl)"><circle cx="28.1" cy="34.2" r="3.3"/><circle cx="27.1" cy="32.7" r="2.5"/><circle cx="27.6" cy="35.9" r="2.0"/><circle cx="34.7" cy="29.1" r="2.8"/><circle cx="35.7" cy="30.2" r="2.0"/><circle cx="36.0" cy="29.7" r="2.1"/><circle cx="45.9" cy="22.9" r="2.4"/><circle cx="10.2" cy="32.6" r="1.9"/><circle cx="47.4" cy="46.9" r="1.9"/><circle cx="10.2" cy="43.9" r="1.4"/></g></svg>
<svg x="405.9" y="173.2" width="51.0" height="51.0" viewBox="0 0 51.0 51.0"><rect width="51.0" height="51.0" fill="#0c0c0c"/><path d="M17 21Q21 26 22 31M17 21Q23 23 29 26M17 21Q10 28 6 35M17 22Q20 22 18 20M17 22Q11 20 10 15M17 22Q11 22 5 23M31 9Q21 1 16 -11M32 9Q38 4 43 -2M32 9Q37 14 41 21M32 9Q27 10 25 14M32 9Q21 10 11 9M32 9Q30 13 33 17M36 20Q31 18 29 24M37 21Q39 20 40 22M37 20Q36 17 34 17M57 -2Q61 7 60 17M57 -2Q54 4 58 8M57 -2Q50 -2 43 -2M56 -2Q50 -3 45 -6M30 24Q29 26 28 27M30 24Q35 21 41 21M30 24Q23 24 18 20M29 24Q29 19 25 14M30 24Q30 20 33 17M60 17Q61 30 54 42M60 17Q60 12 58 8M60 17Q58 14 55 15M60 17Q57 34 57 51M21 32Q25 33 29 33M22 31Q27 31 29 27M21 31Q19 43 20 55M21 31Q13 29 6 35M17 56Q18 53 21 55M17 57Q12 61 6 62M17 57Q24 61 31 62M16 57Q12 45 6 36M54 42Q45 33 40 22M54 42Q53 29 55 15M54 42Q55 47 57 51M54 43Q52 47 47 48M-8 62Q-5 63 -1 63M-8 62Q-11 59 -10 55M-8 62Q-3 63 0 60M29 33Q25 30 28 27M29 33Q23 43 20 55M29 33Q37 29 41 22M29 33Q37 41 46 48M29 27Q34 24 41 22M29 26Q25 21 18 20M58 8Q51 2 43 -2M58 8Q54 11 55 15M-1 63Q2 59 6 61M-1 63Q15 59 31 62M-1 63Q-3 61 0 60M8 9Q5 7 8 5M8 9Q10 12 6 14M7 9Q7 12 10 15M8 9Q9 9 11 9M21 56Q25 61 31 62M21 56Q13 46 6 36M21 56Q34 53 47 48M16 -11Q10 -4 8 5M16 -11Q30 -9 43 -2M16 -11Q30 -6 45 -5M17 -11Q16 -1 11 9M8 5Q-2 14 -11 24M8 5Q3 8 5 13M8 5Q9 8 11 8M-10 55Q-11 53 -10 51M-10 55Q-5 58 0 60M43 -2Q39 10 40 22M43 -2Q50 6 55 16M43 -2Q44 -4 45 -6M6 62Q19 66 31 62M7 62Q10 48 6 35M6 62Q3 60 0 60M41 22Q48 19 55 15M41 22Q45 34 47 48M40 22Q36 21 33 17M32 62Q41 57 47 48M31 61Q39 60 47 58M6 35Q-4 41 -10 51M6 35Q0 30 -7 26M6 35Q5 29 5 23M6 35Q6 48 0 60M-11 25Q-1 22 6 14M-11 24Q-12 38 -11 51M-11 25Q-9 24 -8 26M6 14Q7 17 10 15M6 14Q1 22 -8 26M6 14Q4 18 5 23M17 20Q13 19 10 15M17 20Q20 15 25 14M17 20Q13 15 10 9M-11 51Q-8 38 -8 26M-10 50Q-3 53 0 60M57 52Q51 53 47 48M57 51Q53 55 47 58M10 15Q6 18 6 23M10 15Q10 12 11 9M-8 26Q-1 25 5 23M25 14Q18 10 11 9M25 14Q29 17 33 17M47 48Q48 53 47 58" stroke="#dcdcdc" stroke-width="0.65" fill="none" opacity="0.62"/><path d="M17 21Q17 27 22 31M17 21Q22 25 29 27M17 21Q13 29 6 35M17 21Q9 27 6 35M17 22Q16 20 18 20M17 22Q11 20 10 15M17 21Q14 17 10 14M17 22Q11 24 5 23M32 9Q25 -2 16 -11M31 9Q23 0 16 -11M32 9Q36 3 43 -2M32 9Q38 14 41 22M32 10Q29 12 25 14M32 9Q21 10 11 9M32 10Q21 12 11 9M32 9Q32 13 34 17M32 9Q34 13 34 17M37 20Q34 23 30 24M37 20Q39 20 41 22M37 21Q32 21 33 17M56 -2Q56 8 60 17M57 -2Q58 3 58 8M57 -2Q50 0 43 -2M57 -1Q50 0 43 -2M56 -1Q51 -5 45 -6M56 -2Q51 -3 45 -6M30 24Q30 26 29 27M30 24Q35 24 40 21M30 25Q23 24 17 20M30 24Q25 18 18 20M30 24Q28 19 25 14M30 24Q30 20 34 17M60 17Q60 30 54 42M60 16Q60 12 58 8M60 17Q56 13 58 9M60 16Q58 14 55 15M60 17Q57 34 57 51M21 31Q26 31 29 33M21 31Q23 27 28 26M21 31Q19 43 20 55M21 31Q20 43 20 55M22 32Q14 36 6 36M17 56Q19 59 21 55M17 57Q11 58 6 62M17 57Q13 62 6 62M17 56Q25 57 31 62M17 56Q24 58 31 62M17 56Q15 44 6 35M17 56Q10 46 6 35M54 42Q46 32 40 22M53 42Q53 29 55 15M54 42Q51 29 55 15M54 42Q54 47 58 51M54 42Q58 46 57 51M54 42Q49 43 47 48M-8 62Q-5 64 -1 63M-8 62Q-10 59 -10 55M-8 63Q-4 60 0 60M29 33Q29 30 28 27M29 33Q29 30 28 27M29 33Q27 45 21 55M29 33Q36 28 40 21M29 33Q37 42 47 48M29 27Q36 28 41 22M29 27Q35 26 41 21M29 27Q23 24 18 20M29 27Q22 26 18 20M58 8Q52 1 43 -2M57 8Q56 12 55 15M-1 63Q2 61 6 61M-1 63Q15 64 31 62M-1 63Q0 62 0 60M8 9Q6 7 8 5M8 9Q6 7 8 5M8 9Q7 11 6 13M8 9Q10 11 10 15M8 9Q9 7 11 8M21 56Q26 59 31 62M21 55Q16 43 6 35M21 55Q33 50 47 48M21 55Q33 50 47 48M16 -11Q12 -3 8 5M16 -11Q30 -8 43 -2M16 -11Q30 -7 43 -2M16 -11Q31 -8 45 -6M16 -11Q12 -2 11 9M8 5Q-2 14 -11 24M8 5Q-2 15 -11 24M8 5Q9 10 6 13M8 5Q9 7 11 8M8 5Q11 5 11 9M-10 55Q-11 53 -10 51M-10 55Q-4 56 0 60M43 -2Q39 10 40 21M43 -2Q51 5 55 15M43 -2Q45 -3 45 -6M6 62Q19 64 31 62M6 62Q4 48 6 35M6 62Q9 48 6 35M6 62Q3 62 0 60M41 22Q48 18 55 15M40 22Q44 35 47 48M40 22Q36 20 33 17M32 62Q42 57 47 48M31 62Q39 59 47 58M32 62Q39 58 47 58M6 35Q-4 41 -11 51M6 35Q1 29 -8 26M5 35Q5 29 5 23M6 35Q3 48 0 60M-11 24Q-2 19 6 13M-10 24Q-8 38 -10 51M-11 24Q-9 26 -7 26M-11 25Q-8 23 -8 26M6 14Q8 13 10 15M5 13Q-3 18 -8 26M6 14Q5 18 6 23M6 14Q7 18 5 23M17 20Q15 16 10 15M17 20Q20 15 25 14M17 20Q21 16 25 14M18 20Q16 13 11 8M-10 51Q-5 39 -7 26M-11 51Q-5 55 0 60M57 51Q53 47 47 48M57 52Q54 57 47 58M57 52Q53 55 47 58M10 14Q5 17 5 23M10 15Q12 12 11 9M-8 26Q-2 22 5 22M25 14Q19 10 11 8M25 14Q18 10 11 9M25 14Q29 17 33 17M46 48Q44 53 47 58" stroke="#dcdcdc" stroke-width="0.45" fill="none" opacity="0.56"/><path d="M12 52Q19 43 20 36M34 23Q32 15 30 3M27 -1Q24 -16 28 -32M33 6Q17 0 3 -1M52 5Q53 5 61 11M51 25Q39 10 30 -6M24 8Q15 4 3 -4M47 30Q57 33 69 43M0 25Q5 24 7 21M0 50Q6 62 17 76M43 17Q57 8 73 5M-2 14Q1 16 6 17M-3 42Q9 45 18 46M39 11Q58 14 73 18M36 11Q44 14 49 13M50 -1Q56 -3 58 -4M39 42Q35 33 36 31M56 40Q55 34 51 32M20 8Q34 -1 44 -17M48 50Q48 31 52 19M49 21Q48 27 39 32M-1 45Q2 64 9 75M16 52Q27 41 38 31M11 1Q-7 -4 -20 -5M10 37Q19 31 37 25M13 49Q11 41 14 39M56 15Q51 10 51 6M38 33Q33 31 23 27M56 41Q59 51 65 53M18 28Q23 38 27 53M-1 54Q-11 56 -19 51M19 41Q5 49 -5 56M-2 24Q7 19 9 15M18 50Q15 40 4 34M6 52Q11 52 22 50M46 -4Q46 -14 44 -21M6 5Q6 -10 -2 -19M29 23Q21 22 7 20M50 4Q52 8 61 8M33 8Q25 -9 26 -21M15 54Q6 50 0 43M3 13Q10 7 17 -7M48 20Q50 9 58 3M26 47Q24 36 28 19M11 16Q20 1 26 -6M35 49Q45 50 56 55M42 11Q60 -2 72 -7M32 44Q34 55 29 65M29 28Q20 36 14 51M46 23Q35 20 32 24M10 33Q21 44 37 50M27 40Q12 46 -3 45M-5 29Q3 24 9 21M34 45Q45 31 54 15M34 9Q26 6 13 6M26 55Q28 57 34 58M49 48Q58 58 70 62M3 20Q15 17 35 12M5 50Q7 47 11 42M45 5Q38 2 25 1M30 25Q37 43 47 58M17 28Q16 29 20 36M2 -2Q14 -2 25 1M54 41Q60 49 73 51M55 21Q63 15 63 10M13 45Q23 52 28 62M27 29Q18 25 8 23M14 49Q4 46 -9 37M51 45Q52 30 52 21M16 27Q-2 22 -13 21M41 29Q48 40 60 48M7 45Q20 38 26 32M-3 33Q9 32 29 36M4 33Q13 28 15 21M55 -3Q60 -2 71 1M22 1Q12 14 5 22M35 27Q40 22 37 12M48 44Q53 50 63 51M32 -2Q49 -11 59 -15M44 -3Q53 -8 55 -17M14 28Q19 37 24 40M-5 43Q-19 47 -27 46M14 37Q28 22 37 8M3 24Q12 23 13 29M38 54Q56 53 68 55M-3 31Q-15 22 -30 19M44 19Q43 27 43 41M17 16Q20 29 27 45M3 40Q6 23 1 13M14 53Q19 60 32 58M2 16Q3 19 -3 25M42 25Q36 23 27 20M8 6Q9 -10 1 -24M6 43Q2 24 0 13M9 7Q12 -5 21 -11M38 30Q53 27 62 25M51 33Q61 26 70 12M10 10Q6 -4 5 -16M17 48Q4 41 -15 29M35 16Q33 12 39 1M10 24Q11 29 18 39M20 18Q30 19 32 18M36 7Q26 -6 13 -21M42 29Q30 22 12 14M-2 1Q15 -8 29 -20M41 55Q40 58 43 67M28 40Q22 39 20 34M47 5Q38 23 30 35M46 9Q27 7 13 0M43 39Q51 51 57 70M17 21L26 30M17 21L1 35M17 21L2 37M17 21L9 27M32 9L36 -1M32 9L22 17M32 9L33 -15M37 20L43 18M37 20L56 15M37 20L37 12M37 20L46 20M9 11L30 -6M9 11L6 18M4 31L-10 23M4 31L29 31M47 26L68 8M47 26L56 38" stroke="#dcdcdc" stroke-width="0.35" fill="none" opacity="0.46"/><rect width="51.0" height="51.0" filter="url(#grain)" opacity="0.16"/><path d="M36.9 18.7h.6M8.1 40.5h.6M37.6 50.5h.6M9.2 5.6h.6M31.3 45.2h.6M1.3 29.5h.6M5.1 43.9h.6M14.5 38.5h.6M26.8 23.6h.6M48.4 27.9h.6M.3 11.5h.6M24.5 49.8h.6M8.7 16.3h.6M44.3 36.9h.6M6.9 34.2h.6M31.2 20.2h.6M7.3 42h.6M11.1 42.2h.6M8.2 26.4h.6M35.1 15.2h.6M12.9 37.5h.6M23.5 14.7h.6M50.3 22.6h.6M20.5 36.4h.6M14.2 36.6h.6M43.4 10.7h.6M17.1 12.2h.6M42 43.5h.6M43.1 15.7h.6M1.9 42.8h.6M33.4 31.1h.6M48.5 10h.6M9.4 40h.6" stroke="#fff" stroke-width=".6" opacity=".8"/><path d="M43.4 32.9h1M16.2 24h1M3.9 15.3h1M29.9 49.1h1M47.4 22.2h1M47.1 48.8h1M42 27.1h1M10.7 18.4h1M39.5 19.8h1M4.8 21.8h1M43.7 38.9h1M43.8 23.2h1M44.9 31.3h1M47 5.8h1M2.8 12.3h1M40.7 3.6h1M36.2 30.6h1M41.3 19.7h1M3.2 48.3h1M10.5 45.8h1M20.6 39.8h1M38.4 45.6h1M12.8 50.4h1M39.2 28.6h1M41 5.5h1M3 44.1h1M13.4 25.2h1" stroke="#fff" stroke-width="1" opacity=".8"/><g fill="url(#glow)"><circle cx="16.8" cy="21.4" r="6.1"/><circle cx="31.6" cy="9.2" r="4.8"/><circle cx="36.7" cy="20.4" r="5.3"/><circle cx="8.7" cy="10.7" r="3.4"/><circle cx="3.6" cy="30.6" r="2.8"/><circle cx="47.4" cy="25.5" r="2.8"/></g><g fill="#e8e8e8" filter="url(#bl)"><circle cx="16.8" cy="21.4" r="3.0"/><circle cx="17.7" cy="20.1" r="1.9"/><circle cx="15.2" cy="21.4" r="2.1"/><circle cx="31.6" cy="9.2" r="2.4"/><circle cx="36.7" cy="20.4" r="2.7"/><circle cx="8.7" cy="10.7" r="1.7"/><circle cx="3.6" cy="30.6" r="1.4"/><circle cx="47.4" cy="25.5" r="1.4"/></g></svg>
<svg x="460.6" y="173.2" width="51.0" height="51.0" viewBox="0 0 51.0 51.0"><rect width="51.0" height="51.0" fill="#0c0c0c"/><path d="M26 7Q24 11 24 15M26 7Q24 12 19 13M26 7Q30 12 35 14M26 7Q21 4 21 -1M26 7Q31 6 35 2M26 18Q33 19 34 25M26 18Q25 17 25 15M26 17Q30 13 35 13M26 18Q24 18 24 19M26 18Q31 19 35 18M34 25Q30 28 25 30M33 26Q28 24 24 20M33 26Q38 30 39 37M34 26Q33 22 35 19M34 25Q43 24 52 23M25 30Q18 34 12 40M25 30Q29 38 34 45M25 30Q15 32 4 35M25 30Q27 25 25 20M25 30Q32 35 39 37M49 12Q46 10 43 11M49 12Q43 17 35 19M49 12Q54 16 60 15M49 12Q52 5 56 0M49 12Q51 17 52 23M49 12Q47 8 43 6M12 40Q7 37 1 35M12 40Q11 51 10 62M12 40Q24 38 34 45M12 40Q9 36 4 34M12 40Q18 46 21 54M25 15Q21 15 18 13M25 15Q30 16 36 14M24 15Q26 17 25 20M18 13Q17 5 20 -1M18 13Q23 15 25 20M19 13Q21 5 18 -2M18 13Q11 16 3 16M0 35Q6 48 10 62M1 35Q-3 25 -11 17M1 35Q2 34 4 35M1 35Q3 36 1 34M55 40Q53 51 52 63M55 40Q47 38 39 37M55 40Q58 28 60 16M55 40Q50 49 46 59M55 40Q50 32 52 23M55 40Q47 42 41 49M35 13Q38 9 43 10M36 13Q35 7 35 1M35 13Q37 9 41 7M36 13Q35 16 36 19M21 -2Q28 1 35 1M20 -1Q18 1 19 -2M21 -1Q20 -2 20 -4M20 -2Q25 -9 34 -10M21 -2Q19 -2 18 -2M42 10Q44 8 41 8M43 10Q41 16 35 19M43 10Q44 8 44 6M10 61Q12 61 14 61M10 61Q14 55 21 53M14 61Q33 62 52 63M13 61Q29 57 45 58M13 61Q18 57 22 53M34 45Q37 41 39 37M34 45Q27 47 22 54M35 45Q38 46 41 48M35 1Q40 3 42 7M35 1Q35 -4 34 -10M35 2Q38 6 43 6M42 8Q44 8 43 6M19 -2Q19 -3 20 -4M18 -2Q18 -2 18 -2M18 -2Q19 -4 17 -4M-8 16Q-9 18 -11 17M-7 16Q4 5 14 -7M-8 16Q-2 20 3 16M-8 16Q-5 26 1 34M-11 17Q2 5 14 -7M-11 17Q-2 23 2 33M52 63Q48 62 45 58M20 -4Q17 -6 14 -7M20 -4Q27 -7 34 -10M20 -4Q18 -3 18 -4M14 -7Q24 -9 34 -10M14 -7Q17 -5 18 -2M14 -7Q16 -6 18 -5M14 -7Q5 3 3 16M4 34Q13 26 24 20M4 35Q2 25 3 16M4 34Q4 31 1 33M34 -9Q44 -2 56 0M34 -10Q37 -1 43 6M25 20Q14 17 3 16M18 -2Q19 -3 17 -4M18 -2Q10 7 3 16M39 36Q43 27 52 23M39 37Q40 43 41 49M35 18Q43 21 52 23M60 16Q57 8 57 0M60 16Q55 19 52 23M3 16Q4 25 1 34M57 0Q50 4 43 6M45 58Q33 57 22 53M45 58Q42 54 41 48M22 53Q32 52 41 48" stroke="#dcdcdc" stroke-width="0.65" fill="none" opacity="0.62"/><path d="M26 7Q26 11 25 15M26 7Q24 12 18 13M26 6Q31 9 36 13M26 6Q32 8 36 13M26 7Q21 4 20 -1M26 7Q32 6 35 2M26 18Q31 21 34 25M26 18Q25 17 24 15M26 18Q32 17 36 13M26 18Q24 18 24 19M26 18Q30 19 35 19M34 25Q28 25 25 30M34 26Q29 26 25 30M34 25Q30 22 25 19M34 26Q37 31 39 37M33 25Q35 22 35 19M34 26Q43 23 52 23M25 30Q18 34 12 40M25 30Q31 37 35 45M25 30Q15 33 4 34M25 30Q23 25 24 20M25 30Q32 34 39 37M49 12Q44 15 43 11M49 12Q42 16 35 18M49 12Q54 16 60 16M49 12Q55 12 60 16M49 12Q53 6 57 0M48 12Q49 4 56 0M49 12Q50 18 52 23M49 12Q46 9 44 6M49 12Q48 7 43 6M12 40Q6 37 0 36M12 40Q7 36 1 35M12 40Q10 51 10 62M12 40Q24 40 34 45M12 40Q24 40 34 45M12 40Q8 38 4 35M12 40Q17 46 22 53M24 15Q22 12 18 13M25 15Q22 12 19 12M25 15Q30 14 36 14M25 15Q28 17 25 20M24 15Q25 17 24 20M18 13Q21 6 20 -1M18 13Q21 17 25 20M19 13Q21 5 18 -2M18 13Q14 6 17 -2M18 13Q11 14 3 16M1 35Q5 48 10 62M1 35Q-5 26 -11 17M1 35Q2 32 4 34M1 35Q0 34 1 34M55 40Q52 51 52 63M55 40Q50 51 51 63M55 39Q48 36 40 36M55 40Q61 28 60 16M55 40Q48 48 45 58M56 40Q55 31 52 23M55 40Q47 43 41 49M35 13Q38 9 43 10M35 13Q38 9 42 10M36 13Q34 7 35 1M36 13Q35 7 35 1M35 13Q37 9 41 7M36 13Q35 16 35 19M21 -1Q28 -4 35 1M21 -1Q19 -1 19 -2M21 -2Q21 -5 19 -3M21 -1Q24 -4 20 -4M21 -1Q28 -5 34 -10M21 -1Q19 -1 18 -2M21 -2Q19 -1 18 -2M42 10Q44 8 41 8M42 10Q40 15 35 18M43 10Q42 8 43 6M10 61Q12 61 14 61M10 61Q12 61 14 61M10 62Q16 58 22 54M14 61Q33 64 52 63M14 62Q30 63 45 58M14 61Q19 59 22 53M13 61Q17 57 22 53M34 45Q34 39 39 36M35 45Q31 53 22 54M34 45Q28 49 22 53M34 45Q38 47 41 49M34 45Q37 49 41 49M35 1Q39 3 42 7M35 1Q37 6 42 7M35 1Q35 -4 34 -10M35 2Q39 3 43 6M42 8Q41 5 44 6M18 -2Q18 -4 19 -4M18 -3Q18 -3 18 -2M18 -2Q17 -3 17 -4M18 -2Q17 -3 17 -4M-8 16Q-8 18 -11 17M-8 16Q-9 17 -11 17M-7 16Q2 3 14 -7M-8 15Q2 3 14 -8M-8 16Q-2 16 3 16M-8 16Q-2 18 3 16M-7 15Q0 23 2 33M-11 17Q2 5 14 -7M-11 17Q-5 25 1 34M52 63Q50 58 45 58M20 -4Q16 -4 14 -7M20 -4Q27 -6 34 -10M20 -4Q28 -4 34 -9M20 -4Q19 -4 18 -5M14 -7Q24 -12 34 -10M14 -7Q16 -4 18 -2M14 -7Q14 -3 17 -4M14 -7Q15 -5 18 -4M14 -7Q10 5 4 16M4 35Q14 27 25 20M4 35Q13 25 25 20M4 35Q0 25 3 16M4 35Q5 25 3 16M4 35Q3 34 1 34M34 -10Q45 -5 56 0M34 -10Q39 -2 44 6M24 20Q14 17 3 16M18 -2Q18 -3 17 -4M18 -2Q11 8 3 16M40 37Q46 30 52 23M39 37Q39 43 41 49M39 37Q42 42 41 49M35 19Q43 23 52 23M59 16Q55 8 56 0M59 15Q54 18 52 23M3 16Q2 25 1 34M56 0Q49 1 43 6M45 59Q33 56 22 54M45 58Q41 54 41 49M22 53Q31 48 41 48" stroke="#dcdcdc" stroke-width="0.45" fill="none" opacity="0.56"/><path d="M0 46Q-13 43 -19 38M7 49Q2 39 -1 24M28 14Q21 5 8 -7M37 6Q43 0 53 -13M5 30Q22 28 40 20M51 19Q58 19 58 27M25 19Q26 24 34 33M34 8Q30 11 22 13M43 14Q53 28 69 40M40 31Q61 30 77 35M24 42Q34 47 37 53M44 33Q43 21 38 18M12 53Q16 52 18 44M47 49Q56 59 64 75M11 49Q16 63 26 68M41 25Q34 41 21 52M40 24Q30 21 25 19M31 -2Q25 0 12 5M40 48Q54 43 61 31M0 12Q0 -3 1 -14M48 1Q54 2 59 1M56 21Q50 14 44 11M-1 36Q8 23 10 14M40 25Q32 17 25 5M43 30Q45 44 53 64M27 19Q24 12 20 12M18 41Q18 47 17 58M30 4Q28 -2 25 -14M31 33Q25 12 24 -4M36 44Q44 42 56 45M29 14Q21 31 15 47M54 44Q48 53 47 57M5 43Q8 40 6 34M0 3Q-11 -6 -17 -20M48 12Q37 14 31 12M12 32Q1 32 -3 29M52 46Q62 40 72 32M28 51Q22 43 22 42M11 19Q4 12 -5 0M20 7Q18 9 21 18M19 30Q21 25 19 16M7 48Q-3 39 -20 35M13 11Q18 -1 27 -8M3 18Q23 14 40 14M31 29Q38 37 47 48M35 44Q32 53 28 57M35 54Q34 61 39 69M23 29Q13 22 -5 21M48 23Q49 14 54 4M50 0Q66 4 82 15M28 53Q12 55 2 54M28 37Q34 38 40 39M39 7Q28 17 12 31M31 2Q22 -3 5 -11M13 42Q33 50 46 53M8 38Q13 41 12 52M2 44Q-6 29 -11 16M51 36Q52 31 59 27M37 47Q35 44 38 35M46 41Q46 31 52 27M24 24Q23 40 18 49M-2 15Q-18 21 -37 27M28 11Q39 15 45 26M54 -5Q61 -3 65 2M40 50Q44 61 54 68M53 4Q56 11 65 26M33 -5Q35 2 45 11M4 48Q4 33 -1 18M11 -4Q-1 -12 -11 -26M15 36Q20 27 18 22M40 23Q27 21 20 14M21 46Q7 56 -8 62M55 10Q51 1 47 -4M18 -3Q10 -2 8 3M37 24Q52 11 64 7M41 5Q47 7 50 4M35 39Q48 30 63 25M8 34Q-2 29 -15 17M56 8Q47 0 32 -15M23 7Q24 2 33 5M6 38Q18 34 32 27M15 11Q22 -2 25 -15M5 55Q-6 60 -11 62M2 16Q17 14 25 8M-3 31Q4 45 5 57M6 44Q4 50 3 51M-3 8Q-6 15 -16 16M3 56Q11 59 23 63M22 -4Q24 -9 21 -17M45 32Q41 35 36 41M14 51Q12 40 5 26M30 9Q15 5 -1 -2M-2 6Q-12 5 -27 4M5 31Q-13 23 -25 22M-4 40Q-12 46 -18 46M16 2Q21 -8 20 -24M55 15Q57 22 59 31M14 52Q17 61 27 68M16 39Q13 52 19 69M47 27Q50 33 56 31M2 25Q14 28 19 33M11 -4Q14 14 23 31M42 45Q34 55 26 69M28 42Q25 28 18 11M40 36Q48 34 62 35M7 0Q-6 7 -20 11M34 33Q40 20 41 11M26 49Q31 44 34 41M24 26Q18 38 18 55M21 30Q11 14 0 -1M26 7L8 23M26 7L27 -3M26 7L47 8M26 18L45 26M26 18L52 13M26 18L16 36M26 18L32 -1M34 26L33 32M34 26L12 26M34 26L37 20M34 26L45 45M34 26L37 43M48 10L52 -16M48 10L64 14M12 41L26 47M12 41L32 46M21 37L42 22M21 37L-6 41" stroke="#dcdcdc" stroke-width="0.35" fill="none" opacity="0.46"/><rect width="51.0" height="51.0" filter="url(#grain)" opacity="0.16"/><path d="M28.8 4.1h.6M24.6 3.3h.6M36.6 25h.6M22.4 16.9h.6M29.5 44.9h.6M1.5 47h.6M31.8 19.7h.6M6.8 .4h.6M29.3 18.1h.6M8.9 43.7h.6M32.7 47.4h.6M2.1 44.2h.6M29.4 20.3h.6M22.8 26.2h.6M2.1 13.2h.6M24.3 36.4h.6M4.5 26.2h.6M24.4 8.1h.6M6.7 22.6h.6M34.5 19.9h.6M26 41.8h.6M48 26.4h.6M21.2 41.2h.6M33.8 41.7h.6M9.2 5.2h.6M47.1 41.3h.6M3.1 13.2h.6M26.5 49.9h.6M4.6 1.3h.6M31.2 5.7h.6M32.4 39.9h.6M46.4 13.6h.6M44.6 7.2h.6M45.3 18.5h.6" stroke="#fff" stroke-width=".6" opacity=".8"/><path d="M39.2 14h1M37.1 28.6h1M3 32.2h1M16.5 18.7h1M29.2 50h1M28.5 3.7h1M50.6 1.4h1M42 23.1h1M34.2 1.2h1M18.4 25.3h1M5.8 4.2h1M8.9 50.1h1M1 35.4h1M21.2 32.5h1M23.3 40.8h1M22.4 34.3h1M28.2 47.6h1M46.8 7.7h1M46.8 39.9h1M19.9 1.1h1M12.8 33.7h1M21.6 1.4h1M30.4 35.1h1M29.5 41.2h1M9.6 50.3h1M49.9 28.4h1" stroke="#fff" stroke-width="1" opacity=".8"/><g fill="url(#glow)"><circle cx="26.0" cy="6.6" r="4.8"/><circle cx="26.0" cy="17.8" r="5.3"/><circle cx="33.7" cy="25.5" r="6.6"/><circle cx="47.9" cy="9.7" r="2.8"/><circle cx="11.7" cy="40.8" r="2.8"/><circle cx="21.4" cy="37.2" r="2.8"/></g><g fill="#e8e8e8" filter="url(#bl)"><circle cx="26.0" cy="6.6" r="2.4"/><circle cx="26.0" cy="17.8" r="2.7"/><circle cx="33.7" cy="25.5" r="3.3"/><circle cx="32.2" cy="26.4" r="1.8"/><circle cx="31.9" cy="25.3" r="2.3"/><circle cx="47.9" cy="9.7" r="1.4"/><circle cx="11.7" cy="40.8" r="1.4"/><circle cx="21.4" cy="37.2" r="1.4"/></g></svg>
<svg x="22.4" y="228.9" width="51.0" height="51.0" viewBox="0 0 51.0 51.0"><rect width="51.0" height="51.0" fill="#060606"/><path d="M18 20Q26 23 35 26M18 20Q26 11 35 2M18 20Q14 18 10 17M18 20Q20 25 21 30M18 20Q20 28 28 32M35 26Q34 14 36 2M35 26Q34 31 29 31M35 26Q44 20 55 17M35 26Q40 28 45 27M36 2Q24 11 10 18M36 2Q47 8 55 17M11 18Q14 25 21 30M10 18Q4 22 -3 25M46 48Q34 42 23 36M46 48Q54 51 60 57M45 48Q47 51 47 54M46 48Q37 40 29 31M46 48Q30 49 14 48M46 48Q45 38 45 27M23 36Q15 39 7 43M23 36Q21 33 21 30M23 36Q26 33 29 31M23 36Q18 42 14 48M13 62Q30 59 47 54M13 62Q0 48 -12 35M13 62Q10 52 7 43M13 61Q31 64 50 61M12 62Q10 55 13 48M60 57Q54 54 47 54M60 57Q55 59 50 61M59 57Q56 37 54 17M60 57Q52 42 45 27M48 54Q52 57 50 62M47 54Q30 54 14 49M-12 35Q-3 39 7 43M-12 35Q-6 31 -2 26M7 43Q13 36 20 30M7 42Q11 45 14 48M7 43Q2 34 -3 25M20 30Q24 32 29 31M20 30Q8 30 -3 25M29 31Q37 29 45 27M55 18Q51 24 46 28" stroke="#dcdcdc" stroke-width="0.65" fill="none" opacity="0.42"/><path d="M18 20Q29 13 36 2M18 20Q24 25 29 31M35 26Q34 14 36 2M35 26Q40 24 45 27M36 2Q24 11 10 18M36 2Q45 10 55 17M10 18Q17 23 21 30M46 48Q34 42 23 36M46 48Q49 50 47 54M46 48Q37 40 29 31M46 48Q30 49 14 48M46 48Q44 38 45 27M23 36Q22 33 20 30M23 36Q27 35 29 32M13 62Q30 59 47 54M12 62Q-1 49 -12 35M13 62Q9 52 7 43M13 62Q31 63 50 62M13 62Q13 55 14 48M60 57Q54 57 50 61M60 57Q58 37 54 17M60 57Q54 42 46 27M47 54Q46 59 50 62M-12 35Q-3 41 7 43M6 43Q1 35 -3 25M20 30Q24 31 29 32M29 32Q38 32 45 28M55 18Q49 21 45 27" stroke="#dcdcdc" stroke-width="0.45" fill="none" opacity="0.38"/><path d="M11 2Q4 3 -5 7M3 36Q16 26 29 24M7 36Q21 29 28 28M12 13Q10 1 5 -5M36 39Q38 45 41 51M24 53Q33 64 42 73M13 41Q13 33 16 34M31 41Q18 53 0 62M2 13Q4 -1 10 -7M40 11Q51 19 58 25M-5 51Q-17 58 -25 68M2 43Q11 57 16 64M-4 38Q-5 41 -7 46M23 6Q26 7 30 15M50 36Q66 33 78 24M42 40Q29 47 10 50M52 44Q55 60 62 80M37 55Q35 47 35 42M41 2Q37 -2 41 -12M46 43Q55 34 58 23M23 41Q25 28 29 14M5 20Q-2 6 -8 -7M47 29Q44 30 36 26M55 42Q62 46 74 47M6 28Q19 26 34 19M20 41Q22 54 26 75M11 21Q11 34 15 47M42 27Q43 43 42 56M22 21Q27 17 33 5M43 3Q49 -8 51 -18M15 14Q-5 9 -21 10M45 24Q34 28 24 39M29 21Q25 15 27 7M55 37Q42 26 35 9M52 9Q68 20 78 30M17 52Q18 49 23 43M13 53Q-7 53 -20 60M21 48Q23 47 18 39M3 36Q12 33 18 32M-3 7Q-5 0 -11 -4M3 35Q1 29 -8 20M13 20Q12 16 3 9M17 53Q18 68 16 84M15 45Q19 35 19 20M40 10Q55 20 64 27M16 1Q16 17 22 26M5 40Q-5 39 -8 37M0 36Q-4 43 -16 47M45 50Q41 65 36 79M39 31Q35 20 37 2M24 13Q12 5 3 1M33 45Q18 42 5 33M56 32Q45 44 33 49M55 0Q57 9 59 11M0 24Q-6 45 -10 60M47 8Q32 -3 20 -16M44 14Q48 33 48 49M16 14Q6 20 0 19M32 55Q29 48 34 39M20 23Q29 19 30 17M18 20L13 33M18 20L36 19M18 20L38 21M18 20L26 24M18 20L10 3M18 20L23 14M18 20L28 19M18 20L33 11M18 20L35 12M35 26L51 34M35 26L53 22M35 26L50 49M35 26L32 3M35 26L53 15M35 26L40 10M36 2L10 5M36 2L38 29M36 2L29 0M36 2L31 -13M36 2L25 7M36 2L48 2M10 18L-14 22M10 18L9 -10M10 18L3 15M10 18L-3 13M46 48L69 61M46 48L44 67M46 48L41 53M46 48L39 55M23 36L0 35M23 36L34 43M23 36L-2 29" stroke="#dcdcdc" stroke-width="0.35" fill="none" opacity="0.32"/><rect width="51.0" height="51.0" filter="url(#grain)" opacity="0.08"/><path d="M14.6 47.2h.6M45.6 51.4h.6M24.3 21.4h.6M50 35h.6M49.2 50.7h.6M35 25.5h.6M27.9 11.4h.6M9.5 16.6h.6M14.7 18.5h.6M65.6 45.6h.6M14.4 17.6h.6M-6.9 48.4h.6M6.7 3.6h.6M8.2 47.8h.6M23.3 -12.5h.6M18.6 17.3h.6M6.1 16.6h.6M46 18.6h.6M14.4 14.1h.6M36.2 -13.9h.6M56.2 28.4h.6M51.9 33.8h.6M56.6 56.9h.6M35.8 51.1h.6M16.4 17.9h.6M31.1 10.6h.6M45 3.2h.6M32.3 1.2h.6M31.1 1.7h.6M52.9 18.8h.6M32.3 1.2h.6M21.1 26.3h.6M-17.1 5.5h.6M59.6 56.6h.6M24.3 35.6h.6M30.6 28.2h.6M6.5 14.1h.6M3.3 36.7h.6M24.8 40.2h.6M21.3 26.9h.6M57.4 43.3h.6M28 7.6h.6M42.5 28h.6M12.1 59.7h.6M46.7 57h.6M47.7 1.3h.6M45.2 18.5h.6M18 35.2h.6M45.3 46.4h.6M36.7 14.8h.6M44.6 31.3h.6M12.7 30h.6M53.9 4.9h.6M50.9 19.3h.6M40.4 47.9h.6M27.5 37.9h.6M22 22h.6M37.3 3.1h.6M39.7 9.1h.6M17.5 34.1h.6M9.7 58.5h.6M30.8 35.8h.6M36.4 27.7h.6M47.8 50.3h.6M-1.7 19.9h.6M-11.3 35.7h.6M35.4 32.2h.6M30 2.9h.6M1.8 33.9h.6M27.7 -4.9h.6M45.9 48.8h.6M19.3 19.8h.6M27.6 37.5h.6M21.1 20.7h.6M-9.4 37.8h.6M17.3 62h.6M32.3 19.3h.6M39.1 15h.6M41.7 -13.1h.6M25.6 14.2h.6M33 20.5h.6M42.3 46.4h.6M14.8 28.8h.6M7.9 46.9h.6M42.1 26.5h.6M53.9 16.5h.6M32.7 38.9h.6M23.5 22.7h.6M12.9 38.3h.6M40.8 28.2h.6M39.6 5.6h.6M10.9 15.7h.6M39.3 23.9h.6M42.4 29.1h.6M27.2 10.2h.6M23.6 48.3h.6M42.5 11.9h.6M18.1 13.5h.6M9.4 -.1h.6M34.4 32.9h.6M17.5 51h.6M46.1 26.2h.6M18.3 33.6h.6M30 50.2h.6M25.1 -.2h.6M55 39.7h.6M-9 33.1h.6M48.4 46.9h.6M23 31.3h.6M18.9 28.5h.6M24.7 67h.6M2 11.4h.6M36.7 22.8h.6M49.1 61.2h.6M47.4 -6.5h.6M24.8 29.8h.6M27.7 36.2h.6M18.8 6.4h.6M22.3 36.2h.6M24.7 36.9h.6M40 42.7h.6M26.4 11.4h.6M40.4 10.2h.6M24 -12.7h.6M24.5 36.8h.6M27.7 14.2h.6M-3 6.7h.6M48.1 31h.6M10.3 17.5h.6M23.8 2.7h.6M15.8 6.8h.6M18 8.7h.6M50.4 50.4h.6M53.3 -4.8h.6M19.6 24.4h.6M7.4 26.3h.6M47.2 19.7h.6M11.6 29h.6M4.8 17.8h.6M24 1.2h.6M27.7 52.1h.6M21.1 48.1h.6M10.8 56.2h.6M7.1 44.6h.6M26.9 42.1h.6M-8.2 21h.6M16.3 28.7h.6M30.4 11.5h.6M24.2 34.9h.6M14.3 39.4h.6M19.6 24.4h.6M39.6 .3h.6M6.7 19.9h.6M42.2 30.3h.6M27.3 12.9h.6M27.4 14.4h.6M27.7 38.7h.6M23.9 34.8h.6M30.6 9.7h.6M17.8 19.9h.6M33.4 36.6h.6M7.1 40.1h.6M14.5 30.1h.6M16.8 11.8h.6M3.2 15.9h.6M42.2 6.2h.6M58.2 13.1h.6M44.4 46.4h.6M.3 14.1h.6M12.1 37.1h.6M28.4 25.9h.6M51.7 50.6h.6M3.4 19.1h.6M53.5 18.3h.6M27.7 38.3h.6M26.1 25.6h.6M1 50h.6M41.7 -1.2h.6M-5.6 34.1h.6M21.2 32.2h.6M21.3 -9.4h.6M56.4 55.2h.6M36 38.6h.6M31.4 11.5h.6M24.9 -2.7h.6M11.5 10h.6M18.5 32.3h.6M46.8 30.3h.6M45.2 29.4h.6M15 26.2h.6M34.6 29.8h.6M53.7 58h.6M26.6 15.7h.6M20.6 38.2h.6" stroke="#fff" stroke-width=".6" opacity=".8"/><path d="M33 11.5h1M42.2 58.9h1M34 2.2h1M21.6 33.5h1M24.8 2.8h1M33.4 7.3h1M43.8 27.4h1M42.9 38.8h1M38.6 41.4h1M24.5 4.1h1M2.9 6.5h1M17.7 33.8h1M45.2 41.3h1M31.1 17h1M11 32.3h1M18.3 50.9h1M42.1 2.8h1M46.1 36.7h1M11.8 61.6h1M45.6 31.1h1M45.1 30.1h1M8.4 48.3h1M55.3 52.8h1M30.2 48.4h1M43.9 10.6h1M41.2 46.2h1M33.6 -2.9h1M14.5 61.7h1M14.8 28.9h1M38.7 1.3h1M14.1 32h1M9.5 18.4h1M33.7 -15.1h1M31.1 44.3h1M50.8 48.1h1M30.2 19.4h1M57.7 22.7h1M45.7 26.9h1M57.5 52h1M30.6 39.1h1M34.2 32.7h1M23.1 35.4h1M26.6 -4.8h1M28.7 59h1M42.8 4.7h1M53.9 34.9h1M3.2 36.5h1M53 57.4h1M56.8 42.8h1M24.3 29.4h1M-8.3 36.6h1M49.1 56.6h1M18 35.3h1M26.9 14.7h1M26.9 8.3h1M9.6 14.8h1M11.7 45.9h1M52.9 -4h1M26.2 33.1h1M20.5 24.5h1M49.8 48.4h1M53.9 45.1h1M22.9 29h1M23.5 -5.4h1M9.1 50.7h1M-1.3 24.7h1M17.8 36.2h1M2.5 22.6h1M23 3.5h1M30.8 48.2h1M21.1 26.6h1M31.1 52.4h1M17.4 60.2h1M44.1 54.5h1M41 54.3h1M52.3 54.5h1M10.6 5.7h1M35.7 48.3h1M30.8 7.3h1M35.4 23.6h1M20.8 38.4h1M12.8 56h1M58.7 45h1M28.7 13h1M51 49.1h1M30.3 20.4h1M46.6 55.9h1M26.9 16.3h1M24.1 19.5h1M44.6 25.9h1M44.8 34.6h1M33.2 39.5h1M46.7 29.2h1M8.8 47.6h1M2.3 41h1M17.3 68.5h1M62.4 80.1h1M46.5 4.2h1M17.9 50.3h1M27.9 39.1h1M19.7 38h1M56.1 33.5h1M58.2 40.9h1M20.9 36.5h1M20.5 38.8h1M29.4 24h1M25.2 29.8h1M23.9 34.3h1M17.5 -3.9h1M5.1 2h1M42.7 44.9h1M-10.5 55h1M3.1 22.1h1M48.7 17.7h1M25.3 26.9h1M16.5 48.9h1M73.6 47.2h1M32.6 45.2h1M12.2 24.1h1M17.9 21.5h1M49.9 56h1M15.1 23.9h1M14.3 47.6h1M36.7 22.1h1M23 -2.5h1M42.2 62.6h1M23 37.5h1M39.9 57.3h1M35.7 -2.5h1M32.1 27.3h1M21.2 14.7h1M4.4 13.5h1M54.6 17.6h1M40.7 .9h1M20 39.5h1M27.2 36.1h1M29 35.6h1M39.7 45.1h1M21.1 30.1h1M35.9 46.1h1M28.2 7.2h1M59.2 51.1h1M28 24.2h1M29.7 25.1h1M29.6 31.3h1M4.2 38.3h1M21.7 44.9h1M19.8 47.9h1M54.4 43.9h1M54.9 47.3h1M49.9 42.1h1M30.3 13.9h1M28.7 12.9h1M11.3 19h1M28.1 39.2h1M21.6 30.7h1M17.2 17.5h1M31.8 48.5h1M37.3 38.8h1M30 7.2h1M25.3 35.4h1M16.2 49h1M24.4 34.1h1M11.2 26.9h1M23.6 25.4h1M39.8 4.2h1M19.7 17.5h1M12.6 40.9h1M35.7 24.7h1M41.8 29.4h1M27.3 57.2h1M43.3 47h1M26.3 30.5h1M19.3 22.6h1M5.4 47.9h1M11.1 27.2h1M-5.5 1.2h1M38.6 30.4h1M24.3 10h1M34.7 2.9h1M48.4 48.5h1M35 26.5h1M42.5 51.3h1M19.2 6.7h1M67.1 59.5h1M5.5 16.3h1" stroke="#fff" stroke-width="1" opacity=".8"/><g fill="url(#glow)" opacity="0.15"><circle cx="17.8" cy="19.9" r="27.3"/><circle cx="34.7" cy="26.0" r="16.8"/><circle cx="35.7" cy="2.0" r="16.8"/><circle cx="10.2" cy="17.8" r="12.6"/><circle cx="45.9" cy="47.9" r="12.6"/><circle cx="22.9" cy="35.7" r="8.4"/></g><g fill="url(#glow)"><circle cx="17.8" cy="19.9" r="11.7"/><circle cx="34.7" cy="26.0" r="7.2"/><circle cx="35.7" cy="2.0" r="7.2"/><circle cx="10.2" cy="17.8" r="5.4"/><circle cx="45.9" cy="47.9" r="5.4"/><circle cx="22.9" cy="35.7" r="3.6"/></g><g fill="#e0e0e0" filter="url(#cl)"><circle cx="17.8" cy="19.9" r="4.9"/><circle cx="14.0" cy="17.4" r="3.2"/><circle cx="20.4" cy="24.3" r="3.0"/><circle cx="22.1" cy="19.2" r="4.7"/><circle cx="13.4" cy="19.1" r="4.5"/><circle cx="15.3" cy="20.1" r="4.7"/><circle cx="18.7" cy="16.2" r="4.0"/></g><g fill="#e8e8e8" filter="url(#bl)"><circle cx="34.7" cy="26.0" r="3.8"/><circle cx="32.8" cy="26.7" r="2.8"/><circle cx="32.7" cy="26.0" r="2.5"/><circle cx="35.7" cy="2.0" r="3.8"/><circle cx="37.7" cy="2.0" r="2.2"/><circle cx="33.7" cy="2.4" r="2.7"/><circle cx="10.2" cy="17.8" r="2.8"/><circle cx="10.9" cy="19.2" r="2.2"/><circle cx="8.7" cy="17.6" r="1.8"/><circle cx="45.9" cy="47.9" r="2.8"/><circle cx="47.0" cy="46.9" r="2.1"/><circle cx="46.1" cy="49.4" r="2.0"/><circle cx="22.9" cy="35.7" r="1.9"/></g></svg>
<svg x="77.2" y="228.9" width="51.0" height="51.0" viewBox="0 0 51.0 51.0"><rect width="51.0" height="51.0" fill="#060606"/><path d="M14 3Q15 15 8 25M14 3Q20 4 25 5M13 3Q5 12 -1 22M14 3Q20 14 22 25M14 3Q2 12 -10 21M14 3Q17 0 21 1M14 3Q18 0 16 -5M47 7Q36 7 25 5M47 7Q34 3 20 2M47 7Q32 1 16 -4M47 6Q38 17 26 25M47 7Q50 20 46 33M8 25Q-1 32 -9 40M8 25Q3 23 -1 23M8 25Q15 28 22 26M8 25Q10 39 16 52M8 25Q16 29 26 31M41 39Q41 44 39 48M41 39Q34 39 29 44M42 39Q48 42 52 49M42 40Q44 36 46 33M41 40Q32 39 26 32M25 5Q20 15 22 25M25 5Q23 3 20 1M26 5Q26 15 27 25M-9 40Q-6 31 -1 23M-10 40Q-12 30 -11 20M-9 40Q3 47 16 52M-1 23Q-7 24 -11 21M38 48Q27 50 16 52M38 48Q34 46 29 45M38 48Q45 48 52 50M22 25Q24 28 26 25M22 25Q23 29 26 31M-10 21Q4 9 16 -5M16 52Q21 46 29 45M16 52Q34 54 52 50M16 52Q22 42 26 31M29 45Q26 38 26 31M21 1Q18 -2 16 -5M52 49Q51 40 46 33M26 25Q36 30 46 33M26 25Q26 28 26 31M46 33Q36 35 26 31" stroke="#dcdcdc" stroke-width="0.65" fill="none" opacity="0.42"/><path d="M14 3Q19 5 25 5M14 3Q16 15 22 25M14 3Q2 13 -11 20M14 3Q17 2 21 1M47 6Q37 2 26 5M47 7Q34 6 21 1M48 7Q46 20 46 33M7 25Q-3 30 -9 40M8 25Q4 21 -1 23M8 25Q15 26 22 25M8 25Q17 28 26 31M42 39Q43 44 39 48M41 39Q34 39 29 44M41 39Q34 34 26 31M25 5Q22 15 22 25M-9 40Q-12 30 -11 20M38 48Q27 50 16 52M38 48Q45 48 52 50M22 26Q24 26 26 25M22 25Q24 29 26 31M16 52Q23 49 29 44M16 52Q34 53 52 49M16 52Q20 41 26 31M29 45Q26 38 26 31M27 25Q37 28 46 33M46 33Q36 31 26 31" stroke="#dcdcdc" stroke-width="0.45" fill="none" opacity="0.38"/><path d="M43 8Q52 26 59 41M50 11Q30 9 15 11M49 46Q45 44 37 45M41 11Q49 21 58 34M22 23Q5 27 -5 28M25 45Q19 60 18 72M37 28Q17 27 0 33M15 -2Q25 -12 41 -23M8 47Q4 46 -1 52M50 52Q46 43 38 42M2 14Q18 24 33 29M35 9Q35 23 30 35M15 44Q6 52 -8 58M23 31Q29 41 29 51M-4 45Q-1 51 1 52M2 22Q-3 21 -9 25M37 26Q32 21 22 23M14 1Q18 0 21 6M2 21Q0 15 -4 9M51 44Q64 42 70 43M12 21Q24 24 42 25M-1 21Q-3 38 -2 57M14 3Q7 -6 3 -11M17 43Q16 50 19 55M12 2Q4 16 -11 30M21 6Q12 -6 7 -20M1 14Q-2 30 -6 45M22 29Q17 32 6 30M19 20Q25 15 26 16M7 16Q0 10 -6 4M51 30Q50 42 48 57M39 -4Q53 -4 73 -7M3 55Q-14 61 -26 64M-3 44Q-4 50 -5 57M-2 5Q-10 11 -20 22M45 17Q54 15 64 16M0 52Q-16 43 -26 35M12 12Q1 21 -9 28M55 31Q65 12 66 -4M46 38Q65 43 78 42M16 39Q22 29 26 20M51 27Q52 36 52 48M15 33Q7 42 5 54M2 24Q-6 37 -7 41M8 -4Q4 -3 0 -9M-1 24Q-1 14 6 11M37 42Q33 44 21 50M44 44Q27 52 14 53M40 33Q51 20 56 9M18 53Q12 55 2 60M20 30Q36 35 49 47M1 13Q-11 22 -28 27M40 26Q49 27 55 36M10 -4Q5 1 2 12M28 2Q32 -11 36 -30M36 29Q26 24 22 13M9 48Q1 55 -9 65M55 47Q52 56 42 59M17 3Q6 1 -4 -2M-4 30Q-13 19 -14 7M14 3L32 -7M14 3L0 2M14 3L17 19M14 3L23 1M14 3L1 -9M14 3L23 9M47 7L47 15M47 7L68 20M47 7L40 26M47 7L30 8M47 7L41 9M8 25L16 29M8 25L16 5M8 25L28 20M8 25L10 44M8 25L1 15M8 25L-12 37M41 39L43 46M41 39L52 31M41 39L20 22M41 39L45 50M41 39L35 50M41 39L35 39M26 5L35 -21M26 5L29 19M26 5L10 20M26 5L4 18" stroke="#dcdcdc" stroke-width="0.35" fill="none" opacity="0.32"/><rect width="51.0" height="51.0" filter="url(#grain)" opacity="0.08"/><path d="M33.1 57.9h.6M-1.6 23.2h.6M-4.3 37.9h.6M.9 16.1h.6M3.9 19.8h.6M15.2 6.8h.6M52.7 32.6h.6M45.9 39.6h.6M33.1 24.5h.6M24.3 45.9h.6M17.5 16.4h.6M41 39.9h.6M-1.2 13.6h.6M22.9 -3.8h.6M31.8 30.6h.6M4.3 23.5h.6M38.6 39.3h.6M9.1 4.9h.6M45.3 7.3h.6M43.3 6.9h.6M21.6 11.2h.6M-3 10.4h.6M17.4 1.3h.6M28.1 1.7h.6M26.3 38h.6M24.6 26.4h.6M-10.2 20.7h.6M30.6 .1h.6M7.9 21.4h.6M45.3 33h.6M51 53.8h.6M16.8 13.8h.6M27.9 31.3h.6M15.7 50.7h.6M35.5 42.7h.6M14.2 3.8h.6M11.8 27.5h.6M41.2 43.8h.6M30.1 3.1h.6M6.4 -17h.6M5.8 33.1h.6M22 18.7h.6M57 37.3h.6M57.4 0h.6M-4.3 37.7h.6M21.2 51.2h.6M42.2 4.7h.6M53.7 50.3h.6M-1.1 49.5h.6M37.6 6.9h.6M19.7 1.5h.6M1.8 23.2h.6M.1 16.2h.6M35.6 46.6h.6M28.2 4.3h.6M19.6 1.4h.6M25.6 .9h.6M21.3 -2.5h.6M21.7 23h.6M42.5 43.1h.6M14.7 4.7h.6M36.4 48.2h.6M33.8 40.6h.6M25 5.3h.6M1.6 28.4h.6M18 2.9h.6M24.1 3.4h.6M12.9 40.5h.6M6 13h.6M31 15.9h.6M26.6 28.1h.6M49.4 21.1h.6M20.3 23.8h.6M19.5 9.8h.6M53.9 30.5h.6M33.8 23.4h.6M29 28.2h.6M31.4 41.1h.6M19.5 1.5h.6M31.6 10h.6M38.1 8.4h.6M40 29.2h.6M59.5 39.5h.6M21.3 28.9h.6M30.2 26.3h.6M46.4 31.6h.6M30.3 4.1h.6M42.5 43.5h.6M33.9 17.4h.6M17.3 8.7h.6M15.2 -1.7h.6M56.5 5.8h.6M28.4 6h.6M14.5 6.5h.6M47.7 15.5h.6M46.1 18.3h.6M20.7 57.5h.6M-7.9 39.5h.6M23.3 27.7h.6M-.4 29.4h.6M22.4 8.6h.6M38.2 2.1h.6M52.9 1.9h.6M5.9 37.7h.6M12 37.2h.6M31.1 26.4h.6M46.6 28.5h.6M47.3 47.8h.6M21.8 50.8h.6M17.3 47.3h.6M54.5 41.7h.6M3.2 -6.8h.6M6.2 24.5h.6M20.4 13.6h.6M10.2 30.2h.6M32.9 8h.6M27 27.9h.6M23.2 28.7h.6M4.7 -8.7h.6M28.4 -2.8h.6M-5 23.4h.6M29.6 15.2h.6M44.1 32.1h.6M42.7 44.2h.6M29.4 31.3h.6M38.1 29.1h.6M6.2 14.5h.6M55 42h.6M5.1 15.7h.6M26.7 39.1h.6M44.9 49.4h.6M7.8 30.7h.6M2.8 23h.6M34.8 -1.1h.6M5 28.6h.6M56.5 12.6h.6M-6.7 3.5h.6M33.7 7.6h.6M31.8 3.9h.6M12.7 43.5h.6M9.3 -2.6h.6M8.4 24.6h.6M-10.8 20.8h.6M40.3 34.8h.6M46.4 9.2h.6M-2.5 41.1h.6M17.1 -4.1h.6M24.7 .7h.6M32 30h.6M2.2 33.3h.6M75.7 41.7h.6M-7.1 25.7h.6M23.9 -4.8h.6M44 37.6h.6M64.8 43.1h.6M41.7 6.1h.6M33.9 33.4h.6M25.1 29.3h.6M37.3 7.4h.6M.6 17.5h.6M-1.9 33.7h.6M21.9 19.8h.6M16.2 21.5h.6M38.6 33.8h.6M-1.8 34.6h.6M11.6 -10.4h.6M31.6 36.7h.6M-6.9 33.9h.6M18.7 1.8h.6M23.1 38.3h.6M23.9 26.4h.6M19.7 32.1h.6M45.7 29.7h.6M35 45.7h.6M-15.8 17.3h.6M44.4 40.7h.6M5.4 24.9h.6M30.6 4.3h.6M27.9 49.8h.6M39.4 46.2h.6M46.2 -5.7h.6M27.3 3.7h.6M14.7 2.5h.6M34.2 23.6h.6M-1.8 30.2h.6M27.9 4.4h.6M29.9 11.9h.6" stroke="#fff" stroke-width=".6" opacity=".8"/><path d="M13.4 6h1M33.3 40.8h1M9.7 38.7h1M11.4 22h1M41.6 50.9h1M47.2 44.5h1M43.8 16.1h1M18.7 13.9h1M39.8 32h1M6.2 28.3h1M5 -5.2h1M14.2 10.5h1M32.5 45.6h1M47 34.8h1M14.8 17.3h1M.9 -9.1h1M23.3 5.5h1M45.7 7.1h1M17.6 23.9h1M-18.2 62.2h1M2.9 17.1h1M21.8 25.1h1M38.7 47.6h1M14 4h1M24.4 33.7h1M58.5 -3.2h1M.6 13.3h1M37.2 41.6h1M37.8 10.5h1M15.5 10.8h1M3.4 29.1h1M34.6 47h1M45.2 6.4h1M38.7 39.3h1M14.6 39.2h1M6 15.8h1M24.5 15.9h1M43.2 34h1M46.5 6.8h1M8.8 14.9h1M17.1 22.6h1M-6.8 27.2h1M-4.8 28.7h1M46.5 35.7h1M21.1 41.2h1M24.7 22.4h1M15.6 28.3h1M.3 11.4h1M35 29.1h1M.7 50.5h1M41.4 32.4h1M16.7 13.9h1M42 41.6h1M2 -8h1M21.4 -2.8h1M48.4 48.8h1M57 36.9h1M36.5 -.1h1M32.5 32.8h1M43.1 39.9h1M45.6 36.1h1M2.3 12.1h1M17.9 -2.8h1M8.3 38.2h1M24.8 15.8h1M22.6 37h1M22.4 30.4h1M35.1 49.6h1M9.9 25.2h1M44.2 9.5h1M41.6 39.2h1M11.8 25.4h1M-5.3 20.6h1M35.2 39.4h1M-5.2 32.7h1M29.6 10h1M4.5 51.7h1M11.9 30.9h1M36.4 39.7h1M.9 55.3h1M.2 22.4h1M6.6 28.2h1M4.9 23.1h1M50.9 43.8h1M45.7 46.7h1M46.9 10.9h1M33.1 3.3h1M49 16.3h1M50.7 47.1h1M4.7 -4.8h1M19.5 1.4h1M31 45.3h1M17.4 50.6h1M35.9 7.5h1M20.1 16.3h1M43.7 36.3h1M47.1 0h1M50.7 17.9h1M46 7.1h1M19.9 3.3h1M-11.4 12.9h1M9.3 45.4h1M8.6 29.7h1M21.3 29.1h1M50.6 49.4h1M.9 -.3h1M46.3 35.4h1M13.5 23.2h1M23.6 5.4h1M34.5 33.9h1M-11 25.2h1M-3.5 43.4h1M45 49.6h1M31.9 30.3h1M27 37.9h1M-.4 22.5h1M-13.9 10.8h1M-3.8 32.5h1M15.8 17.9h1M17.2 18.6h1M37.1 41.7h1M62.4 16.6h1M40.7 9.1h1M2.5 27h1M-3.7 6.3h1M26.1 37.4h1M39.7 4h1M-4.6 36.3h1M7.4 25.1h1M11.3 26h1M12.5 1.2h1M21.6 47.4h1M50.7 49.3h1M17 36.8h1M42.9 33.2h1M40.2 44.8h1M50 40.9h1M4.5 9.4h1M19.8 45h1M13.1 54.6h1M30.3 27.7h1M24.8 34.4h1M42.9 37.5h1M46.9 17.8h1M59.7 21.3h1M-13 14.5h1M58.5 54.1h1M44.8 -1.7h1M44.9 4h1M-5.5 42.1h1M-15.4 61.4h1M38.9 46.5h1M26 10.2h1M19.2 19.1h1M7.2 -.3h1M27.8 20.3h1M34 3h1M28.5 -2.8h1M43.7 29.6h1M1.1 18.1h1M39.4 -2.6h1M22.9 -5.5h1M45.1 45.1h1M2 49.3h1M34.3 46.1h1M18.4 44.5h1M35.3 -15h1M46.7 3.3h1M46.7 17.3h1M45.5 48.3h1M30.1 9h1M51.3 13.6h1M30.2 39.3h1M5.4 2.2h1M-4.2 56.4h1M2.2 59.4h1M-23.6 63.7h1M4.5 -4.6h1M24.4 30.1h1M-12 16.8h1M26.1 50.2h1M.4 -.4h1M32.4 28h1M18.1 30.2h1M45.5 25.3h1M21.8 65.2h1M36.7 39.4h1M4.4 13.1h1M1.2 21h1M46.7 41h1M12.1 4.4h1M1.8 49.5h1M33 7.2h1" stroke="#fff" stroke-width="1" opacity=".8"/><g fill="url(#glow)" opacity="0.15"><circle cx="13.8" cy="3.1" r="18.9"/><circle cx="47.4" cy="6.6" r="14.7"/><circle cx="7.6" cy="25.0" r="16.8"/><circle cx="41.3" cy="39.3" r="16.8"/><circle cx="25.5" cy="5.1" r="12.6"/></g><g fill="url(#glow)"><circle cx="13.8" cy="3.1" r="8.1"/><circle cx="47.4" cy="6.6" r="6.3"/><circle cx="7.6" cy="25.0" r="7.2"/><circle cx="41.3" cy="39.3" r="7.2"/><circle cx="25.5" cy="5.1" r="5.4"/></g><g fill="#e0e0e0" filter="url(#cl)"><circle cx="13.8" cy="3.1" r="3.4"/><circle cx="10.7" cy="2.8" r="3.2"/><circle cx="12.6" cy="1.5" r="2.8"/><circle cx="11.7" cy="2.8" r="2.5"/><circle cx="12.9" cy="4.3" r="2.0"/><circle cx="15.2" cy="3.9" r="2.6"/><circle cx="12.3" cy="3.3" r="2.6"/></g><g fill="#e8e8e8" filter="url(#bl)"><circle cx="47.4" cy="6.6" r="3.3"/><circle cx="48.9" cy="7.5" r="1.9"/><circle cx="49.1" cy="6.1" r="1.8"/><circle cx="7.6" cy="25.0" r="3.8"/><circle cx="9.6" cy="25.6" r="2.6"/><circle cx="6.3" cy="26.4" r="2.4"/><circle cx="41.3" cy="39.3" r="3.8"/><circle cx="39.3" cy="39.5" r="2.0"/><circle cx="40.9" cy="37.3" r="2.1"/><circle cx="25.5" cy="5.1" r="2.8"/><circle cx="26.2" cy="6.4" r="2.1"/><circle cx="24.1" cy="4.6" r="1.9"/></g></svg>
<svg x="132.0" y="228.9" width="51.0" height="51.0" viewBox="0 0 51.0 51.0"><rect width="51.0" height="51.0" fill="#060606"/><path d="M26 20Q35 14 45 11M26 20Q27 28 26 36M26 20Q24 14 25 8M27 20Q32 14 36 6M27 19Q11 14 -6 11M27 20Q20 27 13 34M27 20Q33 27 34 36M45 12Q40 9 36 6M45 12Q45 2 39 -6M45 11Q53 8 61 12M45 12Q37 22 34 36M45 12Q45 24 48 36M27 36Q17 41 6 45M27 36Q24 48 24 61M26 36Q19 37 13 34M27 36Q30 34 34 36M27 35Q36 40 40 50M6 45Q16 51 24 61M7 45Q-1 29 -5 12M6 45Q1 45 -1 50M6 45Q6 54 2 61M6 45Q8 39 13 33M43 45Q37 42 34 36M44 45Q51 52 57 60M44 46Q42 48 40 50M43 45Q46 41 47 36M25 8Q31 10 36 6M25 8Q10 12 -6 12M25 8Q31 0 39 -6M36 6Q39 1 39 -6M23 61Q13 58 2 61M23 61Q40 61 57 60M23 61Q30 53 40 50M-5 12Q-3 31 0 50M-6 12Q4 22 12 34M39 -6Q52 0 62 12M0 50Q2 55 2 61M62 12Q57 26 48 36M33 36Q36 43 40 50M34 36Q41 36 48 36M57 60Q47 56 40 50M57 60Q53 48 48 36" stroke="#dcdcdc" stroke-width="0.65" fill="none" opacity="0.42"/><path d="M27 20Q37 18 45 12M26 20Q25 14 25 8M27 20Q34 15 36 6M27 20Q11 13 -6 11M27 20Q21 28 13 33M45 12Q41 3 39 -6M45 12Q53 10 61 12M26 35Q16 40 6 45M27 36Q27 48 24 61M26 36Q20 34 13 33M27 36Q30 38 34 36M6 45Q-1 29 -6 12M6 46Q4 49 0 50M7 46Q5 53 3 61M6 45Q8 39 12 33M43 46Q39 40 33 36M44 45Q51 52 57 60M43 45Q46 41 47 36M25 8Q31 9 36 6M23 61Q13 59 2 61M23 60Q40 62 57 60M-6 12Q-6 31 -1 50M-5 12Q7 20 13 33M0 50Q3 55 2 61M33 36Q39 42 40 50M57 60Q55 47 48 36" stroke="#dcdcdc" stroke-width="0.45" fill="none" opacity="0.38"/><path d="M2 55Q-4 47 -10 34M13 36Q5 44 -6 52M31 -3Q32 6 35 16M14 14Q5 18 1 16M35 44Q26 59 18 74M-4 8Q-16 -1 -25 -15M35 -3Q36 12 36 35M36 18Q50 29 65 38M15 50Q6 48 1 39M34 55Q40 68 43 73M42 23Q53 14 68 7M30 56Q26 45 18 40M28 33Q24 16 27 -3M24 12Q14 15 8 12M32 0Q29 4 27 9M-2 -1Q-21 10 -36 14M2 45Q9 58 22 65M51 9Q62 11 80 7M21 21Q17 25 7 25M41 45Q42 58 39 74M35 31Q42 24 52 15M42 36Q36 46 22 52M40 6Q27 8 17 10M1 4Q-7 14 -21 27M50 52Q40 55 34 64M43 16Q53 27 59 43M40 47Q23 46 9 40M43 45Q38 45 26 40M17 41Q5 38 -11 32M21 54Q13 44 8 35M55 19Q49 19 46 26M12 21Q7 24 2 18M38 50Q35 41 32 38M32 -2Q18 -10 7 -21M4 28Q10 10 11 -8M22 23Q15 26 8 34M-1 9Q5 10 7 15M28 25Q34 34 42 45M40 19Q45 0 56 -13M19 35Q20 25 16 18M53 11Q46 18 40 29M25 22Q38 30 55 36M16 9Q9 14 0 15M30 25Q17 31 11 44M2 6Q5 -14 6 -27M23 32Q38 27 55 27M33 23Q54 23 70 16M2 26Q13 32 17 32M34 52Q40 36 39 24M44 24Q53 35 59 42M38 30Q39 36 39 47M46 4Q58 11 70 21M22 55Q30 69 34 77M28 8Q36 14 42 16M19 42Q14 34 18 33M43 6Q49 3 62 3M39 29Q38 19 37 14M52 46Q31 44 16 40M26 24Q28 38 26 49M18 -4Q21 -12 17 -19M27 20L27 13M27 20L32 39M27 20L40 27M27 20L43 1M27 20L34 9M27 20L33 8M27 20L13 9M27 20L16 25M27 20L44 17M45 12L31 16M45 12L38 18M45 12L59 19M45 12L52 -14M45 12L49 0M45 12L31 23M45 12L46 4M27 36L37 33M27 36L20 40M27 36L37 44M27 36L34 23M27 36L42 30M27 36L18 31M6 45L-8 37M6 45L23 51M6 45L24 67M6 45L14 44M43 45L53 37M43 45L48 38M43 45L36 49" stroke="#dcdcdc" stroke-width="0.35" fill="none" opacity="0.32"/><rect width="51.0" height="51.0" filter="url(#grain)" opacity="0.08"/><path d="M53.3 55.6h.6M56.7 38.6h.6M8.7 12.9h.6M11.3 -.5h.6M44 11.2h.6M46 19.4h.6M39.3 44.1h.6M54.4 14h.6M37.6 41.3h.6M4.4 28.1h.6M37.2 23.4h.6M36.4 15.4h.6M47.3 49h.6M11.9 34h.6M51.2 46h.6M42.1 26.6h.6M16.1 42.6h.6M59.4 10.7h.6M42.2 46.9h.6M40.6 37.1h.6M27.1 8.2h.6M7.1 16.2h.6M14.9 24.2h.6M41.3 45.4h.6M15.2 36.7h.6M17.7 29.1h.6M30.8 10.3h.6M30.2 14.2h.6M34.6 37h.6M56.7 6.3h.6M39.1 49.9h.6M43 52.3h.6M12 41.9h.6M.2 43.7h.6M2.6 59.9h.6M24 53.1h.6M13.3 43.7h.6M21.9 15.8h.6M36.4 32.4h.6M11.3 48.2h.6M6.7 53.2h.6M27.9 6.1h.6M31.8 39.5h.6M-23.4 -12.7h.6M1 32.8h.6M18.7 43h.6M16.8 36.6h.6M.9 46.8h.6M57.2 13.5h.6M26.1 8.3h.6M46.5 30.5h.6M-.9 26.7h.6M13.1 26.5h.6M37.8 42.8h.6M2.7 41.4h.6M8.4 54.1h.6M38 48.8h.6M-.1 36.1h.6M29.1 68.1h.6M-1 5.7h.6M3.4 38.3h.6M11 34.9h.6M32.2 43.5h.6M26.2 22.2h.6M4.2 43.6h.6M1.6 49.2h.6M26.8 17.6h.6M-11.5 17.3h.6M46.5 50.3h.6M20.6 49.9h.6M41.3 46.5h.6M37.8 45.9h.6M56.9 9.7h.6M47.7 46.4h.6M31.3 -.7h.6M16 35.2h.6M30 13.7h.6M19.6 23.1h.6M10.5 31.3h.6M17.3 53.3h.6M32.5 14.2h.6M34.3 41.2h.6M-2.7 37.8h.6M27.4 30.3h.6M1.1 15h.6M41.6 14.7h.6M45.7 4.8h.6M35 16.3h.6M.4 51.6h.6M14.6 32.1h.6M5.9 44.8h.6M10.8 41.3h.6M10.9 42.6h.6M22.8 24.9h.6M13.6 50.4h.6M5.4 45h.6M44.5 37.9h.6M17 47h.6M42 71.1h.6M38.9 14.9h.6M52.8 29.7h.6M41.8 44h.6M7.2 51.4h.6M24.8 43h.6M8.7 11.3h.6M32 20.3h.6M2.8 48h.6M22.8 11.2h.6M10.5 13h.6M33.8 39.8h.6M17.1 33h.6M35.4 14.6h.6M38.7 64.3h.6M38.2 20.9h.6M37.5 41.1h.6M29.7 25.4h.6M47.8 49.7h.6M-8.9 36.3h.6M20 14.7h.6M31.9 42.7h.6M25 38.5h.6M32.2 73.6h.6M23.4 48.3h.6M45.6 24.8h.6M-2.9 39.9h.6M.1 50h.6M6.4 32.4h.6M27.1 30.1h.6M29.4 35.1h.6M-2.3 49.4h.6M5.9 35.6h.6M26.5 -5.3h.6M17.5 -18.1h.6M29.1 14.3h.6M53.5 44.1h.6M51.3 21.3h.6M28.9 23.2h.6M48.2 28.7h.6M19.7 14.8h.6M39.7 43.8h.6M24.1 18.6h.6M18.4 24.8h.6M24.9 34.8h.6M-7.3 5.1h.6M3 59.9h.6M36.6 48.8h.6M37.4 41.8h.6M42.4 11.2h.6M41.1 53.5h.6M26.3 47.6h.6M34.3 63.5h.6M34.6 33.7h.6M39.4 16.7h.6M33 32.5h.6M2.5 45.5h.6M41.3 14.6h.6M52.1 -14.2h.6M38.3 37.2h.6M4.4 60.6h.6M72.3 8.6h.6M13.2 30.6h.6M41.2 15.1h.6M49.6 51.9h.6M25.8 35.7h.6M3.4 58.5h.6M35.5 61.9h.6M26.8 20h.6M25.5 17.1h.6M47.7 10.5h.6M30.1 8.7h.6M37 47.4h.6M39 25.9h.6M45.5 41.4h.6M11.6 59.1h.6M6.9 16.2h.6M6.9 50.5h.6M5.4 28.2h.6M47.5 35.1h.6M37.7 17.3h.6M15.5 36.7h.6" stroke="#fff" stroke-width=".6" opacity=".8"/><path d="M4.9 20.5h1M22.5 1.3h1M37.6 40.7h1M31.9 11.6h1M35.2 37.3h1M28.9 54.3h1M-4.8 11.9h1M35.3 27.7h1M21.5 26.4h1M32.3 11h1M15 18.6h1M30.8 46.3h1M42.7 25.2h1M31.1 1.5h1M22.7 38.9h1M38.9 46.8h1M30.1 36.8h1M15.5 31.3h1M43.2 4h1M5.4 24.9h1M37.1 50.7h1M7.7 41.1h1M26.8 44.9h1M26.9 20h1M31.1 35.9h1M2.7 12.4h1M46.9 37.3h1M31 13.6h1M31.5 53.7h1M5.3 -18.8h1M5.6 1h1M44.3 60.9h1M7.7 45h1M53.8 9h1M31.1 28h1M1.7 46.4h1M22.4 43.9h1M1.2 14.7h1M32.1 9.8h1M50.9 10.9h1M32.3 .4h1M29 -3.8h1M1.3 38.3h1M2.4 35.8h1M42.5 45.8h1M36.7 40.3h1M40.9 61.1h1M5.5 16.5h1M32.4 18.9h1M6.8 26.6h1M0 53h1M49.7 -6.9h1M44.5 12.2h1M9.5 23.4h1M-6 51.7h1M-.4 12.4h1M30.2 30.3h1M20.9 12.7h1M27.3 37.2h1M30.4 34.3h1M53.4 60.3h1M34.1 9.9h1M37 18.1h1M34.2 13.6h1M58.4 20.1h1M50.9 12.4h1M-5.7 42.5h1M.6 42.2h1M46.9 47.7h1M36.6 18.2h1M12.2 42h1M38.4 36.2h1M11.1 37.4h1M32.1 30.2h1M29.6 28h1M-7.3 12.9h1M35.6 15h1M1.4 54.3h1M11.9 47.2h1M28.8 48.6h1M31.6 10.8h1M24.8 1.3h1M47.8 26.8h1M54.6 60.1h1M35.5 4.3h1M35.6 4.2h1M55.9 10.1h1M40.2 36.3h1M18.4 -15.9h1M25.1 10h1M1.8 10.1h1M33.1 22.5h1M15.5 50.3h1M35.7 6.7h1M21.9 42.4h1M4.1 41.9h1M14.7 59.1h1M28.3 28.9h1M19.1 35.1h1M50.7 52.9h1M34.5 34.4h1M52.6 33.8h1M45.2 32.3h1M38.9 35.8h1M48.3 38.1h1M43.2 46.1h1M45.9 4.5h1M41.3 69.6h1M32.7 25.9h1M37 14.5h1M1.7 19.2h1M2.2 58.3h1M16.9 36.4h1M39.5 15.9h1M18 40.1h1M48.8 -6.1h1M10.8 -2.9h1M38 45.7h1M18.7 25.4h1M19.5 6.4h1M8.3 43.8h1M3.3 45.6h1M17.7 21.2h1M19.2 -12.6h1M24.9 27.9h1M55.1 54.9h1M14.3 46.9h1M43.6 10.9h1M35.3 6.2h1M38.4 3.9h1M28.7 8.8h1M17.2 34h1M25.7 19.2h1M31.9 18.9h1M45 12.1h1M27.6 58.2h1M26.5 28h1M-17.8 -5.3h1M56.6 17.9h1M50.8 33.9h1M49.2 15.5h1M30.9 14.9h1M26.6 25.6h1M26.7 42.1h1M23.3 34.7h1M9 42.6h1M.8 38.8h1M41.6 47.9h1M36.5 1.4h1M29.9 24.3h1M33.3 50h1M19.1 12.5h1M29.8 34.5h1M2.5 46.7h1M26.3 48h1M38.5 61.1h1M3.4 10.9h1M18.4 50.6h1M46.2 44.8h1M53.4 21.1h1M36.6 11.7h1M22.9 35h1M38.9 48.3h1M26.5 3h1M33.6 11.1h1M6.7 21.7h1M35.2 2.2h1M40.4 60.5h1M37.1 25.2h1M26.6 44h1M45 8.9h1M38.1 47.6h1M52.8 15.1h1M8.5 53h1M9.8 48.7h1M34.9 47h1M29.4 34.1h1M29.3 17.9h1M16.7 43.9h1M19.1 -13.5h1M33.3 40.6h1M30.2 39.5h1M28.4 31.7h1M44.5 18.4h1M17.1 40.5h1M1.2 53.7h1M12 29h1M57.3 22.2h1M36.4 17.9h1M29.9 14.7h1M26 62.8h1M24.6 36.3h1M13.6 31.6h1M2.8 41.9h1M38.9 41.1h1M25.3 35.5h1M19.2 13h1M22.3 12.6h1M25.7 4.9h1M45.1 9.5h1" stroke="#fff" stroke-width="1" opacity=".8"/><g fill="url(#glow)" opacity="0.15"><circle cx="26.5" cy="19.9" r="25.2"/><circle cx="44.9" cy="11.7" r="21.0"/><circle cx="26.5" cy="35.7" r="16.8"/><circle cx="6.1" cy="45.4" r="12.6"/><circle cx="43.4" cy="45.4" r="10.5"/></g><g fill="url(#glow)"><circle cx="26.5" cy="19.9" r="10.8"/><circle cx="44.9" cy="11.7" r="9.0"/><circle cx="26.5" cy="35.7" r="7.2"/><circle cx="6.1" cy="45.4" r="5.4"/><circle cx="43.4" cy="45.4" r="4.5"/></g><g fill="#e0e0e0" filter="url(#cl)"><circle cx="26.5" cy="19.9" r="4.5"/><circle cx="30.0" cy="20.7" r="3.2"/><circle cx="22.6" cy="21.3" r="2.8"/><circle cx="23.0" cy="22.7" r="4.5"/><circle cx="26.1" cy="17.7" r="4.3"/><circle cx="25.1" cy="15.7" r="2.8"/><circle cx="24.2" cy="21.3" r="3.5"/><circle cx="44.9" cy="11.7" r="3.8"/><circle cx="48.6" cy="10.9" r="3.4"/><circle cx="45.4" cy="13.5" r="2.4"/><circle cx="47.7" cy="10.0" r="3.0"/><circle cx="43.0" cy="10.2" r="3.7"/><circle cx="44.9" cy="14.0" r="3.1"/><circle cx="43.4" cy="11.1" r="3.0"/></g><g fill="#e8e8e8" filter="url(#bl)"><circle cx="26.5" cy="35.7" r="3.8"/><circle cx="26.8" cy="37.7" r="2.7"/><circle cx="24.6" cy="36.3" r="2.3"/><circle cx="6.1" cy="45.4" r="2.8"/><circle cx="6.8" cy="46.7" r="2.0"/><circle cx="4.9" cy="44.6" r="1.8"/><circle cx="43.4" cy="45.4" r="2.4"/></g></svg>
<svg x="186.7" y="228.9" width="51.0" height="51.0" viewBox="0 0 51.0 51.0"><rect width="51.0" height="51.0" fill="#060606"/><path d="M37 22Q50 17 61 10M36 22Q38 27 43 27M36 22Q34 20 33 16M37 21Q33 25 34 30M13 27Q17 36 18 45M13 27Q21 29 29 33M13 28Q1 31 -11 27M13 27Q22 21 33 16M13 27Q5 27 -2 30M13 28Q7 32 0 32M38 42Q32 39 29 33M38 41Q49 36 61 37M38 42Q41 41 43 40M38 42Q33 44 29 49M39 42Q35 37 34 30M17 45Q24 40 28 33M18 45Q6 36 -9 32M17 45Q23 47 29 49M17 45Q7 40 0 32M28 33Q30 24 33 16M28 33Q27 41 29 49M28 33Q30 29 34 30M-8 32Q-8 29 -10 26M-9 32Q-7 27 -2 29M-9 32Q-5 31 0 32M-11 27Q-6 28 -2 30M61 10Q58 23 61 36M61 10Q54 1 54 -10M61 10Q52 18 43 27M61 10Q48 14 33 16M61 10Q60 23 61 37M61 36Q53 29 43 27M61 36Q64 36 62 37M61 36Q52 40 42 39M54 -11Q43 2 33 16M43 27Q43 33 42 39M43 26Q38 26 34 30M34 16Q36 23 34 30M61 37Q52 38 42 39M61 37Q45 43 29 49M42 39Q36 37 34 30M-1 30Q0 30 0 32" stroke="#dcdcdc" stroke-width="0.65" fill="none" opacity="0.42"/><path d="M37 21Q49 15 61 10M37 22Q38 27 35 31M13 28Q16 36 17 45M13 28Q21 29 29 33M13 27Q1 28 -11 26M13 27Q5 27 0 32M38 42Q50 40 61 37M38 42Q40 40 42 39M38 42Q38 36 34 31M17 46Q4 39 -9 33M17 45Q24 46 29 49M28 33Q31 25 33 16M29 33Q33 41 29 49M29 33Q30 29 34 30M-9 32Q-8 29 -10 27M-9 32Q-4 33 -1 30M-9 32Q-5 31 0 32M61 10Q61 23 61 36M62 10Q53 20 43 27M61 10Q61 23 61 37M61 36Q51 34 43 27M61 36Q58 37 61 37M33 16Q34 23 34 30M42 39Q37 36 34 30" stroke="#dcdcdc" stroke-width="0.45" fill="none" opacity="0.38"/><path d="M11 38Q13 37 22 37M48 16Q45 4 46 -1M2 24Q-7 9 -9 -2M40 47Q36 45 29 36M-3 31Q7 46 12 59M46 30Q54 27 69 25M8 38Q10 49 20 53M33 39Q27 23 28 11M11 40Q13 46 19 53M5 17Q16 14 33 5M36 42Q36 58 28 75M19 19Q22 11 32 11M3 -4Q10 7 21 11M30 14Q22 17 12 13M20 49Q29 36 31 21M2 48Q5 42 8 36M48 6Q49 -6 43 -12M13 46Q23 48 28 56M55 0Q48 -6 33 -9M22 34Q15 33 4 38M18 26Q17 39 18 45M-5 4Q-3 13 -8 15M53 -1Q68 -10 80 -25M19 38Q24 26 36 19M2 32Q-2 45 -9 59M-4 37Q10 37 19 33M42 14Q48 2 54 -4M46 26Q33 15 28 4M-1 22Q-15 23 -26 26M51 44Q51 29 52 18M-3 25Q2 9 13 -3M9 34Q13 27 19 23M49 44Q48 62 51 74M46 56Q51 56 53 59M-1 13Q-1 -1 -4 -15M45 31Q53 29 67 27M54 51Q55 45 62 41M29 14Q17 11 11 12M10 50Q-6 47 -23 48M0 48Q-15 53 -27 55M6 -1Q18 -7 36 -12M47 41Q57 39 64 43M53 47Q41 40 33 35M34 11Q24 6 21 6M22 22Q24 17 24 6M27 0Q33 -2 42 -9M38 14Q39 19 33 30M44 50Q50 45 48 42M39 40Q46 37 57 32M3 26Q-4 27 -16 33M55 8Q50 7 44 3M53 9Q57 2 62 -9M43 37Q44 25 51 6M29 14Q31 -1 28 -15M-4 11Q-5 19 -1 31M16 21Q9 20 6 16M29 -5Q29 3 33 5M1 34Q-7 42 -14 52M32 53Q30 59 32 65M13 42Q25 49 36 51M37 21L30 18M37 21L10 24M37 21L43 23M37 21L48 37M37 21L54 39M37 21L39 28M37 21L32 33M37 21L18 13M37 21L30 34M37 21L31 37M13 28L25 51M13 28L-2 34M13 28L22 13M13 28L13 20M13 28L31 40M13 28L10 48M13 28L5 40M38 42L27 65M38 42L14 47M38 42L52 60M38 42L60 48M38 42L28 32M38 42L46 19M38 42L49 33M17 45L13 68M17 45L25 42M17 45L18 57M17 45L0 43M17 45L36 64M17 45L-2 50M17 45L32 52M29 33L50 42M29 33L8 38M29 33L5 36M29 33L40 54M29 33L20 7M29 33L39 44" stroke="#dcdcdc" stroke-width="0.35" fill="none" opacity="0.32"/><rect width="51.0" height="51.0" filter="url(#grain)" opacity="0.08"/><path d="M51.4 7h.6M17.7 37.1h.6M29.7 30.8h.6M26.1 28.1h.6M56.1 16h.6M15.3 50.2h.6M3.7 8h.6M-8.7 28.9h.6M27.1 35.7h.6M1.6 38.1h.6M14.9 36.4h.6M23.6 45.1h.6M50.9 6.8h.6M17.3 42.1h.6M45.8 40.2h.6M28.6 45.2h.6M21.9 46.6h.6M2.6 25.1h.6M20.6 17.4h.6M47.5 55.9h.6M17.9 30.4h.6M62.2 26.1h.6M12.2 40.2h.6M9.1 -1.9h.6M36.8 42.4h.6M37.5 38.3h.6M17.6 43.9h.6M9.4 28.4h.6M20.9 26.7h.6M39.4 15.3h.6M39 52.9h.6M38.5 42.2h.6M40.3 49.5h.6M46.9 13.1h.6M37 37.8h.6M-.8 18.6h.6M13 27.3h.6M34.7 54.6h.6M15.7 37.2h.6M2.9 30.7h.6M36.2 34.4h.6M47 37h.6M40.1 51.4h.6M35.5 50.7h.6M47.8 4.1h.6M19.5 25h.6M39.5 46.5h.6M55.1 17h.6M14.6 13.4h.6M17.2 45.2h.6M29.2 16.8h.6M30.4 36.5h.6M16.9 24.6h.6M59.6 17.5h.6M35.9 43.1h.6M59.9 36.4h.6M20.4 50h.6M4.6 31.8h.6M49.3 37.5h.6M27.7 48.4h.6M34.5 30.3h.6M29.8 33.7h.6M49.4 -.3h.6M42.4 37.9h.6M45.1 -4.7h.6M-10.1 26.5h.6M23.4 39.2h.6M23.3 42.8h.6M1.3 26.6h.6M58.2 13.8h.6M9.5 41.9h.6M32.3 37.6h.6M8.8 23h.6M35.1 34h.6M19.3 32.3h.6M22 37.2h.6M32.4 27.9h.6M6.5 29.5h.6M34.6 -6.8h.6M34.8 10.1h.6M14.2 40.4h.6M36.9 21.9h.6M12.5 -2.4h.6M47.1 29.5h.6M27.5 32.7h.6M-2.5 37.9h.6M31.9 .3h.6M53.2 39.1h.6M30 5.2h.6M-8.3 44.7h.6M16.9 50.4h.6M19.3 6.5h.6M32.5 19.4h.6M46.4 17.4h.6M55.3 5h.6M39.2 30.2h.6M46.1 19.5h.6M47.6 32.6h.6M19.5 44.4h.6M49.1 3.8h.6M33 38h.6M62.6 36.5h.6M12.6 6.3h.6M23.2 14.5h.6M-5.4 31.8h.6M62.7 36.1h.6M-1 27.2h.6M6.7 22.7h.6M6 60.1h.6M20.7 43.9h.6M21.6 38.9h.6M28.3 50.8h.6M51.6 38.2h.6M.2 42.9h.6M-3.1 49.4h.6M36.4 35.3h.6M30 85.6h.6M9.5 45.8h.6M15.1 35.1h.6M4.1 11.3h.6M35.9 21h.6M10.3 31.4h.6M16.4 8.7h.6M22.6 50.3h.6M-2.3 31.3h.6M5.1 21h.6M17.5 52.1h.6M62 35.8h.6M28 33.4h.6M18.5 9.9h.6M5.2 51h.6M35.8 21h.6M35.8 63.7h.6M8.5 41.6h.6M1.7 25.6h.6M32.9 53.5h.6M33.3 45.4h.6M29.1 45.1h.6M11.4 38h.6M41.6 38.5h.6M13.5 13.3h.6M34.3 42.7h.6M48.2 33.3h.6M29.7 18.3h.6M42.2 19.5h.6M7.6 1.7h.6M.8 3.8h.6M52.9 33.6h.6M-.9 30h.6M7.8 28.1h.6M28.1 32.6h.6M-6.3 28.7h.6M61.2 24.3h.6M42.8 41.7h.6M-8.4 29.2h.6M46.7 43.9h.6M35.9 23.6h.6M47.9 36.6h.6M35.7 34.3h.6M22.5 50.5h.6M31.1 10.8h.6M39.1 49h.6M10.3 34h.6M51.5 -7.4h.6M48.7 15.5h.6M32.7 37.5h.6M36.6 35.5h.6M15.3 20.8h.6M26.4 5.6h.6M42.2 14.8h.6M34.6 38.4h.6M52.7 40.1h.6M40.5 17.6h.6M28.1 44h.6M52.6 47.3h.6M49.4 66.3h.6M36.8 35.7h.6M46.5 52.5h.6M3.2 45h.6M15.5 44.3h.6M33.4 22.6h.6M34.9 25.9h.6M37.4 21.6h.6M-3.5 31.7h.6M-8 32.2h.6M13.8 16.5h.6M-1.8 49h.6M20.2 23.1h.6" stroke="#fff" stroke-width=".6" opacity=".8"/><path d="M44.2 43.5h1M51.1 27.1h1M50.8 -6.5h1M-11.9 49.4h1M3.4 9.6h1M62.1 36.8h1M41.6 39.8h1M15 47.8h1M29.7 43.7h1M59.2 37.8h1M-3 17.8h1M22 18.4h1M27 32.5h1M6.8 30h1M59.5 26.4h1M43.3 41.5h1M32 53.9h1M50.4 39.1h1M28 31.6h1M40.6 35h1M-10.6 25.1h1M17.8 45.1h1M19.7 6.4h1M44.7 32.8h1M1.4 2.7h1M17.3 45.5h1M-8.7 58.4h1M13.4 29.7h1M17.2 34.2h1M20.8 43.9h1M33.7 47.5h1M18.4 62.3h1M-3.6 31.8h1M-16.3 47.9h1M36.9 36.2h1M16.6 38.7h1M55.6 -1.1h1M55.8 32.6h1M7.4 49.3h1M31.2 36.6h1M-7.3 18.3h1M20.3 5.2h1M27.9 33.3h1M33.8 27.4h1M11.4 23.1h1M15.5 32.5h1M-3.3 37.1h1M37.2 23.9h1M-17.1 53.1h1M3.9 12.7h1M46.5 46.3h1M12.6 27.7h1M6.7 38.7h1M14.2 49.2h1M50.8 -6.4h1M68.2 25.4h1M24.8 40.2h1M38.8 37.6h1M-8 27.3h1M35.9 28.4h1M24.2 29.3h1M17.3 21.9h1M31.7 33.3h1M47.5 22.7h1M50 6.4h1M19.5 29.5h1M47.2 23.1h1M34.4 43.9h1M27.9 22.4h1M20.7 48.5h1M2.5 20.1h1M39 41.1h1M-2.7 -7.5h1M51.3 40.3h1M34.9 19.2h1M5.9 29h1M49.9 32.8h1M53.2 39.1h1M37.1 21.6h1M37.5 52.7h1M43.4 39.5h1M43.5 2.6h1M-2.5 31.9h1M46.2 -5.2h1M25.9 47.9h1M35.7 28.8h1M46.9 40.4h1M13.5 11.4h1M42.3 50.9h1M5.5 31.5h1M20.4 33.2h1M42.3 43.9h1M17.8 53.7h1M38.4 15.4h1M8.1 39.4h1M56.1 28.4h1M42.7 35h1M17.5 32.5h1M30.9 37.9h1M56.9 57.7h1M23.2 35.7h1M34.2 19h1M54.1 -10h1M2.2 46.9h1M28 39.3h1M18.3 -5.5h1M40.9 41.1h1M9.5 22.4h1M38.8 25.8h1M34.1 27.6h1M36.7 21.5h1M16.9 28.5h1M7.6 77.5h1M18.1 46.1h1M20.6 15.8h1M35.2 44.8h1M6 31.4h1M32 29.5h1M26.6 31h1M-4.2 -1.1h1M7.6 .5h1M5.6 22.9h1M-1.1 12.8h1M41.2 26.9h1M51.7 38.2h1M29.7 30.9h1M8.7 61.2h1M-9.6 27h1M44.5 24h1M46.2 47.7h1M33.5 16.1h1M32.1 21.1h1M24.3 34.8h1M52.1 50.8h1M56.7 47.2h1M47.9 54.2h1M12 28.3h1M-15.9 33.2h1M-6.7 43h1M26.4 37.7h1M.4 35.9h1M54.9 -3.8h1M19.3 27.5h1M46.9 34.5h1M29.3 52.7h1M14 41.4h1M25.2 45.5h1M10 32.9h1M-5 28.4h1M17.8 42.3h1M20.1 35.9h1M54.6 38.1h1M17.6 41.8h1M15.9 40.3h1M34.1 27.8h1M16 38.7h1M50.2 71.6h1M-8.9 28.4h1M50.2 71.5h1M16.8 46.9h1M30.8 30.1h1M46.2 2.4h1M4.2 39.9h1M24.3 46.7h1M8.1 29.5h1M22.7 45.8h1M49.3 65.2h1M31.8 54.6h1M-1.3 30.8h1M22.5 43.5h1M19.3 11.9h1M9.7 40.6h1M48.1 15.8h1M2.7 28.1h1M7.6 17h1M-4.6 31.3h1M11 31.2h1M5.5 29h1M9.1 27.1h1M23.7 6.8h1M9.3 41.5h1M.1 37.1h1M46.6 25h1M28.7 31.5h1M69.2 33.8h1M55.6 46.2h1M42 24.2h1M21.4 22.9h1M-9.5 27.5h1M29.4 -3.3h1M42.1 27h1M35.6 22.8h1" stroke="#fff" stroke-width="1" opacity=".8"/><g fill="url(#glow)" opacity="0.15"><circle cx="36.7" cy="21.4" r="29.4"/><circle cx="12.8" cy="27.5" r="21.0"/><circle cx="38.2" cy="41.8" r="21.0"/><circle cx="17.3" cy="45.4" r="21.0"/><circle cx="28.6" cy="33.1" r="16.8"/></g><g fill="url(#glow)"><circle cx="36.7" cy="21.4" r="12.6"/><circle cx="12.8" cy="27.5" r="9.0"/><circle cx="38.2" cy="41.8" r="9.0"/><circle cx="17.3" cy="45.4" r="9.0"/><circle cx="28.6" cy="33.1" r="7.2"/></g><g fill="#e0e0e0" filter="url(#cl)"><circle cx="36.7" cy="21.4" r="5.2"/><circle cx="39.8" cy="17.0" r="4.2"/><circle cx="39.7" cy="20.1" r="5.2"/><circle cx="37.1" cy="17.5" r="5.1"/><circle cx="34.2" cy="17.1" r="4.2"/><circle cx="34.6" cy="20.1" r="4.5"/><circle cx="36.7" cy="23.9" r="4.0"/><circle cx="12.8" cy="27.5" r="3.8"/><circle cx="16.1" cy="26.3" r="2.8"/><circle cx="12.0" cy="25.7" r="2.3"/><circle cx="13.5" cy="30.1" r="3.2"/><circle cx="15.6" cy="25.0" r="3.1"/><circle cx="12.4" cy="25.2" r="3.1"/><circle cx="11.3" cy="29.5" r="3.7"/><circle cx="38.2" cy="41.8" r="3.8"/><circle cx="40.5" cy="41.9" r="3.7"/><circle cx="40.9" cy="42.1" r="2.6"/><circle cx="40.2" cy="43.4" r="2.7"/><circle cx="40.0" cy="42.4" r="2.4"/><circle cx="36.0" cy="43.1" r="3.3"/><circle cx="40.7" cy="41.1" r="2.7"/><circle cx="17.3" cy="45.4" r="3.8"/><circle cx="17.6" cy="42.8" r="2.8"/><circle cx="18.3" cy="44.2" r="2.3"/><circle cx="18.8" cy="42.8" r="2.5"/><circle cx="17.6" cy="47.4" r="2.7"/><circle cx="17.3" cy="43.3" r="2.6"/><circle cx="17.8" cy="42.3" r="2.6"/></g><g fill="#e8e8e8" filter="url(#bl)"><circle cx="28.6" cy="33.1" r="3.8"/><circle cx="28.0" cy="31.2" r="2.0"/><circle cx="29.6" cy="31.5" r="2.3"/></g></svg>
<svg x="241.5" y="228.9" width="51.0" height="51.0" viewBox="0 0 51.0 51.0"><rect width="51.0" height="51.0" fill="#060606"/><path d="M13 19Q21 14 24 7M13 19Q23 23 34 27M13 19Q15 27 13 35M14 19Q20 26 24 35M14 19Q6 31 -5 39M13 19Q0 7 -11 -7M14 19Q5 5 -4 -9M24 7Q27 18 33 27M24 7Q9 1 -4 -8M24 6Q28 7 32 4M33 27Q31 15 35 4M33 27Q37 15 47 7M33 27Q28 30 23 35M34 27Q37 38 41 48M33 27Q39 35 49 37M34 27Q31 16 32 4M13 35Q19 32 24 35M13 35Q4 42 -1 52M13 35Q15 41 21 42M13 35Q4 37 -6 39M35 5Q41 7 47 8M35 4Q42 4 48 3M35 5Q34 4 32 5M47 8Q51 6 48 3M47 8Q48 22 50 37M24 35Q32 42 41 48M24 35Q22 38 21 42M18 57Q4 61 -11 62M18 57Q29 51 41 48M18 57Q8 56 -1 53M19 57Q20 50 21 42M-11 62Q-4 59 -1 53M-11 62Q-12 50 -6 39M41 48Q45 42 50 37M41 49Q31 45 21 42M48 3Q47 20 50 37M-1 53Q12 51 21 42M-1 53Q-2 45 -6 39M-12 -7Q-8 -10 -4 -8M-4 -9Q14 -3 32 4" stroke="#dcdcdc" stroke-width="0.65" fill="none" opacity="0.42"/><path d="M13 19Q14 27 13 35M13 19Q1 6 -11 -7M13 19Q5 5 -4 -9M24 6Q10 -1 -4 -9M34 27Q40 17 47 8M34 27Q29 32 24 35M34 27Q36 38 41 48M34 27Q42 31 49 37M13 35Q5 43 -1 53M13 35Q4 39 -6 39M35 5Q42 8 48 4M35 4Q34 7 32 4M47 8Q47 5 48 3M24 35Q35 39 41 48M18 57Q30 53 41 49M18 57Q9 53 -1 52M18 57Q17 49 21 42M41 48Q31 46 21 42M48 3Q45 20 49 37M-1 52Q11 48 21 42M-12 -7Q-8 -11 -4 -9M-4 -9Q14 -2 32 4" stroke="#dcdcdc" stroke-width="0.45" fill="none" opacity="0.38"/><path d="M-3 19Q-8 5 -5 -5M8 -4Q1 3 -4 6M54 29Q68 45 76 56M9 27Q13 42 10 55M26 38Q28 43 37 56M-1 22Q-7 37 -7 53M27 15Q25 26 20 32M23 55Q34 68 43 77M0 2Q7 5 13 2M25 42Q28 44 34 43M3 37Q19 34 30 31M52 49Q61 41 69 35M8 51Q-1 57 -3 57M18 -3Q8 -6 -1 -7M24 25Q15 30 13 33M23 -1Q29 -2 41 2M24 35Q38 37 50 44M25 55Q38 52 53 50M36 55Q21 55 9 61M4 9Q1 1 4 -5M42 54Q22 55 6 49M53 40Q71 30 84 27M22 -2Q21 -13 24 -26M41 44Q45 32 43 22M33 4Q24 -5 17 -7M45 2Q48 -6 43 -22M51 45Q62 48 81 57M42 6Q22 -4 8 -6M12 2Q-3 5 -22 6M27 40Q22 27 18 17M15 37Q21 45 19 45M35 6Q22 19 10 29M22 29Q13 26 2 28M56 -1Q48 5 44 17M17 38Q14 23 4 2M29 10Q30 10 23 18M47 4Q40 6 35 6M28 18Q25 38 22 52M39 18Q46 18 48 16M4 5Q1 1 -2 -2M22 30Q13 30 10 24M-1 35Q-16 33 -29 28M21 18Q27 33 33 50M47 30Q35 42 28 54M-2 12Q-20 16 -31 27M53 45Q60 41 73 38M42 54Q59 51 73 51M50 20Q40 8 24 -3M40 26Q49 30 55 35M53 50Q36 43 26 36M40 4Q32 6 26 16M42 32Q56 30 75 21M30 9Q23 4 15 -4M19 9Q7 4 2 -6M2 2Q-15 7 -25 9M44 31Q35 31 33 34M28 27Q16 24 11 20M35 0Q44 -12 50 -28M37 33Q24 35 7 35M1 2Q5 -12 5 -20M13 19L3 6M13 19L-3 30M13 19L-3 8M13 19L1 25M13 19L12 -2M13 19L7 24M13 19L9 26M13 19L25 43M13 19L30 -2M24 7L40 6M24 7L27 14M24 7L34 26M24 7L10 -3M24 7L6 3M24 7L28 17M24 7L37 22M34 27L44 26M34 27L21 29M34 27L41 33M34 27L46 25M34 27L31 43M34 27L19 32M13 35L25 50M13 35L17 19M13 35L22 30M13 35L-8 22M13 35L-8 46M13 35L9 41M35 4L59 6M35 4L41 14M35 4L37 -22M35 4L52 14M47 8L45 1M47 8L62 21M47 8L60 -2M47 8L53 5" stroke="#dcdcdc" stroke-width="0.35" fill="none" opacity="0.32"/><rect width="51.0" height="51.0" filter="url(#grain)" opacity="0.08"/><path d="M46.6 19h.6M19.1 33.6h.6M29.7 44.9h.6M5.5 37.9h.6M2 -1.2h.6M10 13.6h.6M16.7 19.4h.6M10 30.7h.6M40.2 73.8h.6M24.9 13.6h.6M1.2 -.7h.6M8.1 48.5h.6M23.6 13.4h.6M28 12.1h.6M46.1 3.7h.6M-2.3 -8h.6M41.1 36.1h.6M32 4.3h.6M11 2.9h.6M40.8 -8.5h.6M36.1 26.2h.6M26.5 33.1h.6M12.7 5.5h.6M5.3 33.4h.6M35.7 20.9h.6M25.7 -1.3h.6M16.7 16.5h.6M11.9 35.7h.6M34.6 28.6h.6M20.1 33.1h.6M29.1 36.4h.6M41.8 12.6h.6M13.3 23.3h.6M21.8 22.4h.6M32.1 14.1h.6M5.5 13.7h.6M26.4 42.7h.6M42.5 31h.6M14.2 45.9h.6M11.4 25.6h.6M13.7 .7h.6M46.3 17h.6M47.7 14.7h.6M17 -16.3h.6M46.2 -18.9h.6M27.3 34.3h.6M47.5 5.6h.6M44.2 28.9h.6M23.7 7.4h.6M15.5 22.8h.6M47.4 11.3h.6M41.1 30.5h.6M44.6 4.9h.6M2.8 17.2h.6M18.6 1.5h.6M-3.1 44.5h.6M35.6 .3h.6M5.3 14h.6M38.4 48.7h.6M-1.4 42.5h.6M28 32.7h.6M17.1 39.9h.6M11.9 -.2h.6M15.5 41.6h.6M18.9 42.4h.6M31.4 2.5h.6M26.2 6.5h.6M3.7 3.2h.6M33 42.2h.6M28.9 -1.2h.6M22.9 38.8h.6M25.2 6.6h.6M36.4 8.7h.6M32.3 22.6h.6M21.4 4.9h.6M18.7 31.6h.6M4.2 36.6h.6M27.5 -3.4h.6M-.4 26.8h.6M26.9 59.7h.6M7.1 -2.9h.6M31.1 17.9h.6M39.4 25.9h.6M37.8 5.6h.6M23.4 .2h.6M26.1 2.4h.6M10.6 22.8h.6M33.9 27h.6M64.1 40.6h.6M33.7 .1h.6M10.6 15.4h.6M26.5 9.1h.6M40.7 11.7h.6M5.1 24.3h.6M6 17.5h.6M-4.4 39.3h.6M41 30.8h.6M28.7 38.4h.6M26.4 10.6h.6M37.2 7.2h.6M37.1 -2.6h.6M4.8 -17.8h.6M21.6 -7.6h.6M19.2 43h.6M40.7 10.2h.6M32.7 24.8h.6M25.7 14.6h.6M36.7 35.3h.6M9.2 2.9h.6M2.5 30.9h.6M18.5 47.9h.6M19 54.3h.6M9.2 23.4h.6M42.9 32.1h.6M23 9.2h.6M57.9 43h.6M2.4 14.8h.6M28.8 43.8h.6M8.4 37.1h.6M-5.9 -8.7h.6M28.5 10.8h.6M50.5 -.2h.6M-9.7 62.2h.6M37.8 4.3h.6M-10.8 -7.5h.6M12.7 -1.2h.6M46.9 7.6h.6M29.6 1h.6M11.9 26.9h.6M37.3 26.2h.6M44.5 44.9h.6M16.2 21h.6M10.4 49.8h.6M46.8 7.2h.6M.3 -6.6h.6M13.5 33.4h.6M48.8 3.8h.6M5.7 -6.2h.6M8.9 45.2h.6M-3.4 43.8h.6M21.8 5.1h.6M2.5 -3.1h.6M46.2 7.9h.6M7 21.1h.6M13.7 36.8h.6M41.3 6.1h.6M42.8 40.6h.6M35 30.9h.6M30.1 45.7h.6M38 3.2h.6M13.6 28.8h.6M48 30.1h.6M24.5 1.5h.6M28.1 40.3h.6M30.4 51.2h.6M40.6 40.9h.6M28.9 27.9h.6M28.4 14.5h.6M67.7 36.2h.6M35 34h.6M23.1 40.4h.6M32.8 33.9h.6M28.1 16h.6M13.2 20.4h.6M11.4 36.4h.6M62.4 41.2h.6M48 6.7h.6M8.7 5.8h.6M1.2 16.5h.6M21.7 13.5h.6M2.7 11.2h.6M35.8 22.3h.6M7 10.8h.6M33.8 49.4h.6M23 17.6h.6M13.5 32h.6M18.8 3.1h.6M21.8 26.6h.6M40.2 47h.6M27.3 10.7h.6M40.2 12.5h.6M23.9 25.5h.6M-1.5 54.3h.6M4.4 27.3h.6" stroke="#fff" stroke-width=".6" opacity=".8"/><path d="M46.9 24.1h1M46.5 41.6h1M10.4 23.6h1M-11.2 5.9h1M37.7 43.9h1M29.2 43.2h1M41.9 -3.1h1M-8.4 -9.4h1M35.7 26.7h1M-.6 26.6h1M53.9 47.6h1M34.6 5.2h1M41.4 25.6h1M40.8 26.4h1M28.3 11.2h1M3.1 36.5h1M60.4 41.9h1M30.3 10.7h1M-1.9 -5.7h1M10.9 2.9h1M29.1 17.9h1M19.7 56h1M19.9 26.3h1M18.8 23.8h1M24.9 12.6h1M72.9 22.2h1M7 23h1M48.6 33.6h1M2.3 3.1h1M24.5 39.9h1M39.7 1.3h1M46.6 19.3h1M43.4 36h1M43.6 23.6h1M11.9 21h1M48.2 10.5h1M28.2 13.2h1M24.2 7.6h1M20.2 24.7h1M27.8 44.3h1M42.7 8.4h1M27 21.5h1M11 28.2h1M36.6 -7.6h1M47.3 7.5h1M20.5 24.2h1M6.8 14.4h1M15.1 -1.9h1M2.9 25.8h1M34.4 6.5h1M23.1 -21.2h1M39.1 30.9h1M17.2 23.2h1M37.4 3.4h1M23.8 22.8h1M41.2 27.6h1M22.5 .8h1M28.5 28.8h1M27 42.9h1M35.5 33.6h1M36 -18.6h1M17.6 -3.3h1M18.9 24.2h1M19.2 -6.1h1M28.8 9.7h1M21.7 40h1M46.8 -2.2h1M38.6 16.4h1M18.6 8.5h1M39.6 18.1h1M6.1 6.7h1M12.3 -2.9h1M33.2 7.8h1M-5.9 34.7h1M48.8 37.1h1M17.8 54.9h1M28.2 18.8h1M.1 10.1h1M25 34.8h1M33.4 34.9h1M48.5 7h1M34.1 29.1h1M38.6 -4.8h1M33.5 34h1M9.1 25.7h1M34.3 27h1M71.7 38.6h1M6.8 38.1h1M41.7 5.2h1M34.6 41.5h1M-10.2 -8.6h1M43.4 26.2h1M9.9 19.9h1M21.6 2.5h1M8.5 17.8h1M57.1 0h1M37.9 .3h1M27.9 -8.4h1M33.5 28.1h1M12.1 -18.5h1M-7.7 42.5h1M19.8 9.5h1M13.2 48.7h1M11.8 36h1M.5 6.5h1M46.9 29.3h1M31.9 10.6h1M6.5 30.9h1M15.5 12.6h1M-.6 42.2h1M26.2 15.8h1M17.3 17.9h1M7.2 9.2h1M17.1 -6.9h1M39.8 46.4h1M19.7 29.1h1M2.6 1.6h1M48.8 29.1h1M4.6 26h1M39.4 5.9h1M32.3 31.1h1M41.3 6.1h1M29.3 3.3h1M13.7 58.4h1M27.2 6.2h1M32 25.4h1M29.5 27.8h1M22.6 9.7h1M33.5 51.6h1M17.6 32.4h1M-8.1 -8.6h1M4.1 32.8h1M6.8 16.5h1M37.2 39.3h1M25.7 35.8h1M44.8 25h1M26.7 37.4h1M23.7 6.6h1M12 4.9h1M-.5 52.3h1M31.5 42.7h1M28 9.2h1M9.1 25.7h1M21.8 -12.1h1M12.6 -1.3h1M-11.2 61.4h1M48.6 5.9h1M-5.8 39.3h1M12.5 56.2h1M56 43.8h1M17.8 53.9h1M37 29.4h1M11.9 13.1h1M49.2 11.1h1M29.2 17h1M15.6 -3.7h1M52.8 49.6h1M8.3 22.6h1M25.7 17.8h1M59.8 19.5h1M28.7 12.4h1M6.1 3.6h1M37.5 15.3h1M8.4 13.4h1M47.2 44.1h1M22.3 10.3h1M28.5 42.8h1M1.6 1.7h1M23.3 -2.2h1M11.3 35.4h1M19.6 1.4h1M35.3 30.9h1M38.6 1.9h1M43.8 43.9h1M-11.8 14.7h1M25 16.8h1M38.2 40h1M66.1 33.6h1M8.8 4h1M-5.6 12.6h1M5.6 22.5h1M2.1 10.9h1M11.7 45.4h1M57.3 10.5h1M7.1 13.6h1M5.6 12h1M22.2 13.3h1M40.7 26.4h1M31.8 7.2h1M-9.6 -8.2h1M-1.6 39.2h1M60.7 41.8h1M25.6 5.6h1M33.4 4.4h1M20.2 23.5h1M25.4 10h1" stroke="#fff" stroke-width="1" opacity=".8"/><g fill="url(#glow)" opacity="0.15"><circle cx="13.3" cy="18.9" r="25.2"/><circle cx="24.0" cy="6.6" r="21.0"/><circle cx="33.7" cy="27.0" r="16.8"/><circle cx="13.3" cy="34.7" r="16.8"/><circle cx="35.2" cy="4.1" r="12.6"/><circle cx="46.9" cy="7.6" r="12.6"/></g><g fill="url(#glow)"><circle cx="13.3" cy="18.9" r="10.8"/><circle cx="24.0" cy="6.6" r="9.0"/><circle cx="33.7" cy="27.0" r="7.2"/><circle cx="13.3" cy="34.7" r="7.2"/><circle cx="35.2" cy="4.1" r="5.4"/><circle cx="46.9" cy="7.6" r="5.4"/></g><g fill="#e0e0e0" filter="url(#cl)"><circle cx="13.3" cy="18.9" r="4.5"/><circle cx="10.1" cy="17.2" r="3.1"/><circle cx="12.5" cy="21.4" r="3.6"/><circle cx="9.1" cy="21.1" r="3.4"/><circle cx="16.1" cy="16.5" r="4.4"/><circle cx="10.2" cy="22.3" r="4.5"/><circle cx="11.8" cy="22.7" r="4.0"/><circle cx="24.0" cy="6.6" r="3.8"/><circle cx="26.3" cy="5.3" r="3.0"/><circle cx="23.8" cy="3.9" r="2.9"/><circle cx="27.7" cy="6.1" r="3.3"/><circle cx="21.7" cy="5.7" r="2.8"/><circle cx="26.0" cy="5.6" r="2.3"/><circle cx="23.6" cy="2.9" r="3.5"/></g><g fill="#e8e8e8" filter="url(#bl)"><circle cx="33.7" cy="27.0" r="3.8"/><circle cx="31.7" cy="27.1" r="2.1"/><circle cx="32.2" cy="28.4" r="2.9"/><circle cx="13.3" cy="34.7" r="3.8"/><circle cx="13.7" cy="32.7" r="2.1"/><circle cx="11.4" cy="35.3" r="2.0"/><circle cx="35.2" cy="4.1" r="2.8"/><circle cx="33.7" cy="4.2" r="2.2"/><circle cx="36.6" cy="4.6" r="1.9"/><circle cx="46.9" cy="7.6" r="2.8"/><circle cx="47.7" cy="6.4" r="1.9"/><circle cx="45.7" cy="8.5" r="2.1"/></g></svg>
<svg x="296.3" y="228.9" width="51.0" height="51.0" viewBox="0 0 51.0 51.0"><rect width="51.0" height="51.0" fill="#060606"/><path d="M19 7Q28 14 40 17M19 6Q11 13 4 21M20 7Q23 20 22 35M19 6Q34 1 49 2M19 7Q13 5 8 3M19 6Q10 10 0 14M19 7Q11 3 2 -1M40 17Q31 25 22 35M40 16Q43 23 49 29M40 16Q45 10 49 2M40 16Q42 14 45 14M5 21Q13 28 22 35M4 21Q9 27 12 35M5 21Q3 18 1 14M4 21Q-3 28 -10 36M22 35Q36 32 49 29M22 35Q17 37 12 35M22 35Q35 50 50 63M22 35Q18 42 15 49M49 29Q50 46 50 63M49 29Q48 21 45 14M49 28Q49 23 54 21M49 2Q48 8 45 14M49 2Q50 12 55 21M12 34Q1 36 -10 40M12 35Q16 41 15 49M12 34Q1 35 -10 36M-11 62Q-11 51 -10 40M-12 61Q0 52 15 49M50 63Q33 54 16 49M7 3Q3 8 0 14M8 3Q4 3 2 -1M-8 3Q-8 21 -10 40M-8 3Q-3 8 0 14M-8 3Q-10 20 -10 37M-8 2Q-4 -2 2 -1M-10 40Q3 44 15 49M-10 40Q-12 38 -10 37M45 14Q51 15 55 21M0 14Q-5 25 -10 37M1 14Q5 7 3 -1" stroke="#dcdcdc" stroke-width="0.65" fill="none" opacity="0.42"/><path d="M19 6Q31 9 40 16M20 7Q11 13 1 14M40 17Q46 21 49 29M40 16Q43 17 45 14M5 21Q14 28 22 34M5 21Q2 18 1 14M4 21Q-3 28 -10 36M22 35Q35 31 49 29M22 35Q19 42 16 49M49 29Q46 22 45 14M49 28Q52 25 54 21M49 2Q54 11 55 21M12 34Q1 37 -10 40M12 35Q15 42 15 49M-11 62Q3 56 15 49M8 3Q8 11 1 14M8 3Q6 -1 2 -1M-8 3Q-7 21 -11 40M-8 3Q-9 20 -10 37M-8 3Q-2 3 2 -1M-10 40Q2 45 15 49M-10 40Q-12 38 -10 37M45 15Q49 19 54 21M1 14Q-4 25 -10 37M1 14Q2 7 2 -1" stroke="#dcdcdc" stroke-width="0.45" fill="none" opacity="0.38"/><path d="M13 28Q2 26 -16 18M10 34Q19 34 25 41M48 28Q50 35 49 48M51 35Q45 32 37 33M-1 47Q-10 60 -19 72M19 45Q21 34 22 26M51 23Q37 14 30 8M42 31Q46 40 43 44M49 6Q38 1 29 -1M34 30Q36 34 42 34M48 36Q41 42 31 54M54 51Q59 56 69 54M50 53Q37 54 29 63M34 28Q47 12 59 4M30 52Q16 53 3 56M21 9Q8 11 -9 20M8 -1Q14 -1 15 4M35 46Q37 49 44 58M55 49Q61 48 68 46M-1 34Q15 20 24 9M44 8Q36 5 34 10M17 40Q9 37 5 36M2 5Q18 -4 32 -5M26 43Q28 37 32 30M4 32Q16 38 33 47M38 32Q50 28 65 30M42 39Q47 52 54 70M4 22Q5 12 10 -1M-4 40Q-12 29 -13 20M50 52Q55 35 52 23M49 51Q54 41 56 38M9 46Q15 61 26 68M52 54Q33 44 20 34M1 31Q18 34 31 29M48 32Q47 28 50 20M39 19Q33 21 21 23M15 9Q-4 9 -18 18M17 17Q27 8 36 2M20 27Q12 28 -2 27M16 40Q19 44 23 49M33 2Q20 -13 11 -27M26 43Q35 30 42 21M27 0Q36 -1 39 2M4 42Q0 48 -6 46M-4 54Q-17 48 -32 43M16 40Q3 48 -12 51M21 14Q14 23 4 31M-2 55Q-5 55 -12 60M-5 49Q-18 42 -30 42M51 -3Q42 5 30 19M18 9Q12 18 12 21M47 19Q50 37 51 49M27 22Q21 11 8 -3M26 26Q29 32 29 39M17 25Q17 30 20 34M25 43Q17 60 12 68M37 24Q24 32 17 38M50 43Q55 57 65 66M19 23Q9 28 -7 38M52 9Q71 10 84 16M19 7L32 7M19 7L44 14M19 7L17 12M19 7L6 3M19 7L25 11M19 7L3 14M19 7L37 1M19 7L31 -2M19 7L26 -1M40 16L46 2M40 16L16 10M40 16L54 29M40 16L23 14M40 16L43 42M40 16L29 31M40 16L41 25M5 21L1 27M5 21L14 21M5 21L7 37M5 21L-3 31M5 21L15 22M5 21L8 9M5 21L8 1M5 21L14 18M5 21L-2 18M22 35L7 52M22 35L-4 41M22 35L22 27M22 35L11 31M22 35L43 37M22 35L23 25M49 29L64 10M49 29L35 18M49 29L24 26M49 29L55 17M49 2L47 -8M49 2L70 -8M49 2L62 -20M49 2L58 20" stroke="#dcdcdc" stroke-width="0.35" fill="none" opacity="0.32"/><rect width="51.0" height="51.0" filter="url(#grain)" opacity="0.08"/><path d="M42.5 19.3h.6M32.8 2.7h.6M17.8 5.9h.6M32.3 13h.6M-1.8 -1h.6M48.1 30.6h.6M-5 55.8h.6M23.2 14.1h.6M17 41.9h.6M33.6 20.6h.6M50.1 41h.6M38.8 26.3h.6M51.6 8.2h.6M22.6 31.4h.6M35.6 .6h.6M17.8 18h.6M81.1 6.4h.6M10.5 37.7h.6M48 -2.5h.6M5.7 35.6h.6M5.3 25.2h.6M10.6 27.1h.6M-8.4 21.5h.6M41.6 30h.6M-8.9 40.5h.6M7.7 10.7h.6M30.8 28.3h.6M2.4 18.4h.6M46.5 24.4h.6M30.4 29.3h.6M40.4 19.3h.6M29 9.3h.6M45.3 3.3h.6M-12.3 23.4h.6M-10.7 17.8h.6M39.4 9.3h.6M40.3 18.7h.6M5.6 49.1h.6M49.2 47.3h.6M6.5 18.7h.6M39.4 33.9h.6M21.1 31.1h.6M22.4 27.8h.6M46.3 49.6h.6M38.8 11.3h.6M42.9 9.8h.6M50 24.6h.6M17.5 7.8h.6M-8.5 33.4h.6M44.8 1.7h.6M22.8 18h.6M46 25.5h.6M12.3 26.2h.6M49.9 7.5h.6M-6.7 1.1h.6M29 16.6h.6M21.1 4.7h.6M19.8 29h.6M18.1 45.3h.6M2.4 13.5h.6M1.7 47.4h.6M18.8 49.2h.6M33.9 15.5h.6M47.2 19.3h.6M34.2 2.7h.6M18.2 31.8h.6M21.3 31.3h.6M22.4 28.3h.6M51.9 44.1h.6M1.4 15.1h.6M52.5 24.1h.6M43.3 24.2h.6M8.1 1.6h.6M55 35.2h.6M25.1 46.3h.6M29 62.7h.6M18.5 36.1h.6M5.6 26.9h.6M46.5 10h.6M20.3 11.2h.6M48.2 29.5h.6M-6.1 48.3h.6M46 19.4h.6M39.8 45.7h.6M-4.9 -20.1h.6M49.6 20.4h.6M-9.8 30.6h.6M34.6 23.5h.6M42.1 14.8h.6M9.3 8h.6M80.3 14.6h.6M8.6 -8.3h.6M54 31.1h.6M47.9 31.8h.6M53.7 -8.6h.6M17.3 39.9h.6M45.9 32.9h.6M2.6 4.7h.6M8.2 53.1h.6M6.2 9.6h.6M-6 .6h.6M18.9 -2.3h.6M13.6 27.7h.6M45.5 22.8h.6M45.5 17h.6M18.5 31.5h.6M33.8 31.7h.6M37 56.7h.6M5.1 20.4h.6M49.5 20.9h.6M8.2 50.7h.6M21.1 32h.6M41.9 38.5h.6M-2.9 39.9h.6M6.4 27.5h.6M45.6 20h.6M14.3 10.8h.6M21.6 34.9h.6M37.5 45.9h.6M14.5 5.3h.6M47.9 26.8h.6M28 30.5h.6M8.4 -13.8h.6M-9.8 28.6h.6M-20.4 27h.6M49.2 32.5h.6M30.6 -.2h.6M54.8 7.8h.6M40.3 15.9h.6M-7.8 33.7h.6M47.1 26.9h.6M46.5 53.2h.6M27.7 29.4h.6M7.4 3.3h.6M27.6 29.1h.6M3.5 5.7h.6M21.2 39.3h.6M44.4 3.9h.6M25.7 16.1h.6M19.6 40.3h.6M-8.7 15.5h.6M27 -.3h.6M36.7 11.2h.6M-1.2 26.6h.6M46.7 1.6h.6M35.8 36.7h.6M46.9 5.4h.6M28.8 51.9h.6M44.7 6h.6M4.9 .2h.6M34.6 8.8h.6M38.9 47.4h.6M6.4 31.6h.6M18.2 43.9h.6M62.2 12.2h.6M54.2 -7.1h.6M48.7 31.5h.6M5 55.6h.6M50.3 -.4h.6M42.9 15.7h.6M-6.5 20.5h.6M13.9 48.8h.6M2.2 .7h.6M39.2 25.4h.6M37.8 4.4h.6M33.1 2.6h.6M14.5 27.1h.6M23.4 9.6h.6M3.2 2.1h.6M5.4 2.9h.6M38.2 30.8h.6M7.1 22.8h.6M34.5 31h.6M64.3 46.8h.6M-1.3 27.3h.6M29.9 -1.1h.6M48.5 2.4h.6M30.3 3.3h.6M26.7 40.3h.6M68.8 -7.3h.6M19.1 19.9h.6M58.4 -14.4h.6M-6.1 56.3h.6M-3.9 29.4h.6M1.8 25.6h.6M28.3 4h.6M3.7 1.9h.6M14.1 22.4h.6M-6.7 12.5h.6" stroke="#fff" stroke-width=".6" opacity=".8"/><path d="M22 47.4h1M61.5 54.4h1M18.7 39.2h1M43.6 19.7h1M20.2 45.3h1M-.9 26.3h1M7.6 2.2h1M8.7 6.9h1M48.2 17.2h1M22.8 7.7h1M53.8 32.1h1M37.4 25.8h1M53 16.5h1M-3.1 37.4h1M38.8 17.1h1M8.5 10.8h1M31.4 32.4h1M38.7 45h1M-5.9 35.7h1M11.2 4.2h1M21.1 12.5h1M17.6 31.2h1M49.7 30h1M28.7 63.1h1M48.3 -1.3h1M51.7 14.1h1M8.7 8.9h1M48.3 .7h1M18.2 6.3h1M-2.1 43.2h1M45.8 18.4h1M31 15.1h1M-.2 27.1h1M23.1 25.3h1M3 8.2h1M28.3 9.8h1M10.5 35.9h1M35.6 20.9h1M8.6 15.9h1M44.4 49.9h1M15.8 8.2h1M34.5 55.8h1M-3.2 16.5h1M26.9 31.3h1M30.6 13.9h1M28.6 -.1h1M42.3 21h1M35.2 26.8h1M25.5 5h1M40.3 20.5h1M27.6 13.1h1M0 26.8h1M28.3 33.5h1M-4.3 22.9h1M36.9 48.7h1M7.4 27.4h1M10.4 31h1M37.6 0h1M24.4 18.4h1M19.4 6.6h1M3.9 44.8h1M48.8 28.5h1M17.9 9.9h1M-21.2 7.8h1M33.9 46.7h1M49.3 25.5h1M46.8 36.6h1M48.8 1.6h1M13.3 21.1h1M30.2 -1.2h1M23.3 25.6h1M-9.3 50.6h1M47.4 36.1h1M47.1 3.7h1M-6 41.4h1M9 28.1h1M-5.8 2.7h1M19.8 53.7h1M12.5 67.5h1M57.1 18.4h1M49.8 6.2h1M5.9 29.9h1M67.3 54.6h1M48.5 -7.4h1M28.1 29.9h1M30.8 25.7h1M34.8 31.4h1M18.7 6.9h1M57.7 53.3h1M53.3 33h1M8.7 -9h1M26.7 30.6h1M-8.2 58.8h1M60.4 32.2h1M25.3 10.7h1M37.2 19.9h1M50.2 60.3h1M44.1 38.3h1M1.2 16.1h1M19.2 37.8h1M49.5 5.1h1M20.5 43.5h1M57.2 53.1h1M21.9 17.8h1M40.4 17.8h1M21.9 5.7h1M56.9 18h1M18.6 -2.2h1M3.1 34.7h1M44.9 14h1M43.9 6.7h1M13 41.2h1M35 31.7h1M7.1 1.6h1M-3.4 44.9h1M-1 17.9h1M44.9 6.1h1M50.1 22.7h1M4 22.3h1M.6 50h1M-3 27.1h1M45.2 40.7h1M26.5 9.4h1M38.1 31.4h1M10.4 -8h1M48.9 32.9h1M50.3 4.8h1M17.6 26.8h1M20.3 26.8h1M19.2 6.7h1M12.9 9.9h1M46.7 24.9h1M-8.6 34.7h1M28 21.6h1M8 50.9h1M54.9 3.7h1M-12.2 59.8h1M6.9 14.7h1M6.4 12.4h1M42.7 18.4h1M46.8 32.7h1M35.4 31h1M3.9 21h1M27.8 52.1h1M40.4 35.8h1M41.5 14.1h1M66.3 54.6h1M2 17.7h1M-4.3 29.7h1M50.2 5.4h1M-12.1 19.4h1M52.2 25.9h1M15.7 29.8h1M18.5 41.1h1M3.7 13.3h1M42.1 23.4h1M23.2 46.3h1M16.7 40h1M27.9 30h1M19.1 4.4h1M38.9 31.1h1M.6 13.8h1M48.4 10.2h1M46.4 -1h1M2.8 19.4h1M-10.9 37.5h1M4.8 12.8h1M9.4 38.1h1M32.1 2.9h1M5.3 -.3h1M-8.3 8.4h1M49 28.2h1M40.2 7h1M36.8 9h1M25.3 -7.5h1M25.8 1.1h1M60.5 28.2h1M15.1 5.5h1M14.2 8.5h1M50.5 18.7h1M9.4 34.7h1M55.5 23.5h1M22.6 -3.4h1M13.6 31h1M14.2 38.9h1M35.2 8.1h1M21.8 3.9h1M9.9 3.8h1M57.9 53.4h1M21.9 34.6h1M39.2 2.3h1" stroke="#fff" stroke-width="1" opacity=".8"/><g fill="url(#glow)" opacity="0.15"><circle cx="19.4" cy="6.6" r="25.2"/><circle cx="39.8" cy="16.3" r="21.0"/><circle cx="4.6" cy="21.4" r="25.2"/><circle cx="21.9" cy="34.7" r="16.8"/><circle cx="49.0" cy="28.6" r="12.6"/><circle cx="49.0" cy="2.0" r="12.6"/></g><g fill="url(#glow)"><circle cx="19.4" cy="6.6" r="10.8"/><circle cx="39.8" cy="16.3" r="9.0"/><circle cx="4.6" cy="21.4" r="10.8"/><circle cx="21.9" cy="34.7" r="7.2"/><circle cx="49.0" cy="28.6" r="5.4"/><circle cx="49.0" cy="2.0" r="5.4"/></g><g fill="#e0e0e0" filter="url(#cl)"><circle cx="19.4" cy="6.6" r="4.5"/><circle cx="21.5" cy="7.3" r="3.0"/><circle cx="21.3" cy="5.4" r="4.3"/><circle cx="22.5" cy="7.6" r="2.8"/><circle cx="17.7" cy="10.0" r="2.7"/><circle cx="20.4" cy="9.1" r="4.2"/><circle cx="15.9" cy="6.6" r="4.3"/><circle cx="39.8" cy="16.3" r="3.8"/><circle cx="38.3" cy="13.2" r="2.8"/><circle cx="38.1" cy="13.3" r="3.1"/><circle cx="37.6" cy="16.0" r="2.5"/><circle cx="39.5" cy="20.2" r="3.0"/><circle cx="40.3" cy="13.2" r="3.4"/><circle cx="38.6" cy="14.8" r="3.6"/><circle cx="4.6" cy="21.4" r="4.5"/><circle cx="5.1" cy="25.3" r="3.8"/><circle cx="5.7" cy="19.8" r="4.2"/><circle cx="4.1" cy="18.8" r="3.3"/><circle cx="4.1" cy="24.4" r="3.6"/><circle cx="2.8" cy="25.5" r="3.6"/><circle cx="4.2" cy="26.0" r="3.7"/></g><g fill="#e8e8e8" filter="url(#bl)"><circle cx="21.9" cy="34.7" r="3.8"/><circle cx="23.9" cy="34.9" r="2.3"/><circle cx="20.7" cy="36.3" r="2.7"/><circle cx="49.0" cy="28.6" r="2.8"/><circle cx="47.6" cy="28.0" r="1.7"/><circle cx="49.7" cy="29.9" r="1.7"/><circle cx="49.0" cy="2.0" r="2.8"/><circle cx="48.3" cy="3.4" r="1.7"/><circle cx="48.6" cy="0.6" r="1.6"/></g></svg>
<svg x="351.1" y="228.9" width="51.0" height="51.0" viewBox="0 0 51.0 51.0"><rect width="51.0" height="51.0" fill="#060606"/><path d="M27 36Q34 32 40 29M27 36Q20 39 12 42M27 36Q31 42 37 46M27 35Q24 29 17 29M41 28Q45 37 47 47M40 28Q48 36 57 43M41 29Q38 37 37 46M40 28Q28 28 16 29M40 28Q44 16 50 5M40 29Q52 27 61 19M6 3Q7 12 8 20M6 3Q-2 2 -9 -1M6 3Q12 16 17 29M6 3Q6 12 1 20M11 33Q10 38 12 42M12 33Q9 27 4 21M12 33Q8 27 8 20M12 34Q9 40 2 41M11 33Q15 33 16 29M12 42Q25 41 37 46M12 42Q7 41 2 40M12 42Q15 36 17 29M46 47Q51 43 57 43M46 47Q42 47 37 46M4 21Q5 20 7 20M4 21Q2 31 2 40M4 21Q4 17 1 19M49 -5Q51 0 50 6M49 -5Q54 8 61 19M49 -5Q50 -2 51 1M58 43Q64 31 62 19M7 20Q13 24 16 29M7 20Q4 19 1 20M-9 -1Q-1 8 2 20M37 46Q20 40 2 40M2 40Q2 30 1 20M51 6Q58 11 61 18M50 6Q53 4 51 1M61 19Q55 11 51 1" stroke="#dcdcdc" stroke-width="0.65" fill="none" opacity="0.42"/><path d="M27 35Q32 29 40 28M27 35Q33 40 37 46M27 35Q21 33 17 29M40 29Q44 37 47 47M40 29Q39 37 37 46M41 29Q44 17 51 6M6 3Q-2 4 -10 -1M6 3Q12 16 17 29M11 33Q7 28 4 22M11 33Q9 27 7 20M11 33Q14 32 17 29M12 42Q7 41 2 40M12 42Q16 36 17 29M46 47Q52 45 57 42M46 47Q41 50 37 46M4 22Q7 23 7 20M4 21Q5 31 2 40M49 -5Q51 0 51 6M49 -5Q57 6 61 18M49 -5Q49 -1 51 1M7 20Q12 25 16 29M7 20Q4 18 1 20M-10 -1Q-4 9 1 20M2 40Q3 30 1 20" stroke="#dcdcdc" stroke-width="0.45" fill="none" opacity="0.38"/><path d="M27 47Q20 46 8 52M21 31Q29 39 32 43M15 53Q4 57 -9 54M13 3Q3 13 -14 21M24 53Q15 67 12 77M54 30Q75 34 90 37M24 12Q12 12 6 18M32 15Q27 25 28 35M50 6Q48 -4 42 -16M9 17Q12 20 19 16M20 33Q12 34 3 39M-1 15Q12 18 19 22M-4 26Q0 33 -4 39M54 7Q54 -6 53 -11M2 5Q-16 0 -27 -3M54 27Q39 35 20 44M17 41Q10 42 4 38M6 37Q11 34 21 26M-5 40Q-11 32 -13 28M28 25Q40 22 51 15M5 43Q15 50 33 60M-4 5Q-2 12 -7 15M14 50Q17 52 18 61M48 23Q34 35 26 39M-1 22Q1 18 -4 14M46 19Q39 24 25 29M38 21Q39 35 33 56M56 55Q49 59 39 57M51 44Q56 38 67 26M18 22Q14 20 4 27M23 -2Q25 -5 22 -10M23 46Q16 47 5 52M11 9Q15 20 23 31M29 25Q21 24 15 19M49 47Q66 47 78 52M24 33Q12 31 6 35M33 17Q22 27 16 41M1 35Q6 53 8 65M12 41Q14 33 11 28M47 26Q62 33 70 38M51 20Q49 16 44 7M7 52Q6 45 5 40M24 49Q26 34 30 23M29 -1Q42 -6 51 -4M5 35Q12 32 23 26M42 0Q34 -5 31 -18M31 35Q34 18 36 4M24 27Q20 35 22 39M11 6Q10 25 14 41M19 52Q21 38 22 31M46 2Q27 -2 11 -1M51 22Q42 4 28 -8M56 44Q52 39 44 41M7 37Q6 17 9 1M30 34Q41 30 49 21M23 30Q29 37 43 46M26 19Q38 12 49 2M53 37Q58 39 66 37M51 40Q47 25 50 4M56 5Q49 4 47 5M27 36L54 35M27 36L24 49M27 36L10 16M27 36L23 9M27 36L20 27M27 36L15 26M27 36L16 22M27 36L33 43M27 36L33 42M40 29L37 21M40 29L47 44M40 29L40 40M40 29L29 24M40 29L34 53M40 29L26 43M6 3L25 12M6 3L6 -5M6 3L-19 -4M6 3L14 -8M6 3L-4 18M6 3L-5 -16M11 33L22 22M11 33L9 12M11 33L20 14M11 33L23 30M12 42L27 39M12 42L13 61M12 42L39 33M12 42L10 26M46 47L37 72M46 47L51 63M46 47L56 72M46 47L34 38M4 21L4 12M4 21L19 24M4 21L-6 20" stroke="#dcdcdc" stroke-width="0.35" fill="none" opacity="0.32"/><rect width="51.0" height="51.0" filter="url(#grain)" opacity="0.08"/><path d="M16.9 29.3h.6M20.4 13.4h.6M25.8 55.8h.6M29.3 6.1h.6M47.1 49.3h.6M11.1 41.8h.6M-18.8 -1.2h.6M40 63.6h.6M14.9 50.6h.6M41.8 32.1h.6M4 18.3h.6M4.1 22.5h.6M-3.4 3.3h.6M47.5 27.3h.6M17.7 18h.6M34 60.4h.6M28 26.3h.6M14.6 70h.6M7.8 -.1h.6M26.5 28.4h.6M1.3 5.7h.6M2.8 20.1h.6M9.8 -6.2h.6M16 41.7h.6M17.5 43.7h.6M26.3 18.9h.6M48.4 23.5h.6M14.2 6.8h.6M25.5 11h.6M18.9 31.1h.6M8.3 17.4h.6M-.5 42.8h.6M16.2 32.9h.6M43.5 26.5h.6M4.5 20.9h.6M42.9 11.8h.6M53.8 6.1h.6M33.6 47.3h.6M49.5 36.3h.6M18.8 47.7h.6M3.5 40.5h.6M25.8 34.8h.6M-4.3 11.9h.6M4.4 36.7h.6M20.5 25.5h.6M10.6 12.8h.6M30.6 42.1h.6M5.2 4.4h.6M30.3 29.1h.6M4 27.9h.6M20.2 38h.6M2 20.1h.6M39.8 5.4h.6M29.5 39.2h.6M1.1 11.4h.6M19.9 54.6h.6M17.5 12.9h.6M10 35.1h.6M33.6 21.6h.6M49.7 4.9h.6M7.9 50.8h.6M23.7 33.8h.6M44 53.2h.6M26.7 8.7h.6M51.2 25h.6M45.6 46.3h.6M14.9 34.4h.6M55.1 43.1h.6M32.5 42.1h.6M3 36.6h.6M41.7 57.8h.6M-8.1 54.5h.6M12.6 45.9h.6M2 19.2h.6M13 32.3h.6M34.9 45h.6M24.4 4.8h.6M15.9 34h.6M25.9 22.1h.6M3 .4h.6M37.5 37.3h.6M50.8 5.2h.6M41 -4.5h.6M35.9 37.6h.6M38.4 39.5h.6M12.6 30.7h.6M63.1 47.8h.6M22.7 12.4h.6M6.8 11.5h.6M23.6 35.3h.6M14.9 23.8h.6M60.4 28.1h.6M13.7 42.3h.6M4.8 23.8h.6M25.4 39.6h.6M17.6 32.9h.6M31.8 -14h.6M33.5 38.4h.6M51.9 42.1h.6M30 30.7h.6M44.5 6.9h.6M53.1 6.3h.6M60.3 19.6h.6M28.8 37.7h.6M49.2 32.1h.6M-3.8 19.4h.6M53 30.7h.6M48.2 32.8h.6M28.2 47.9h.6M3.9 13.9h.6M19.6 37h.6M43.7 55.1h.6M25.8 12.8h.6M36.3 20.9h.6M-6.1 -.8h.6M22.5 30.5h.6M49.2 -4.7h.6M12.2 24.9h.6M21.8 21.9h.6M26.4 21.5h.6M5 4.9h.6M49.4 -4.6h.6M11.8 28.5h.6M-2.1 -.4h.6M5.5 43h.6M-.4 18.7h.6M41.7 30.4h.6M51.5 2.3h.6M16.6 40.8h.6M2.5 42.5h.6M15.5 25.1h.6M34.4 32.3h.6M5.2 41h.6M5.9 23.4h.6M8.3 24.7h.6M15.5 49.3h.6M17.3 17.1h.6M8 7.9h.6M30.3 35.2h.6M31.2 59h.6M7.4 26.7h.6M-17.9 -3.7h.6M3.9 15.4h.6M.8 19.4h.6M24 30.6h.6M14.8 43.9h.6M2.8 18.7h.6M27.9 27.2h.6M1.4 24.2h.6M6.5 7h.6M3.8 13.5h.6M50.9 4.7h.6M54.8 55.1h.6M36 50.9h.6M6.6 57.4h.6M1.2 10.7h.6M30.4 41.3h.6M13.9 33.6h.6M34.3 4.8h.6M9.7 22.5h.6M44.1 22.9h.6M5 -17.5h.6M.9 3.3h.6M46.3 47h.6M3 -2.3h.6M37.9 23.5h.6M8.2 46.6h.6M53.2 43.5h.6M13.4 13.9h.6M11.6 14.6h.6M27.7 42.6h.6M52.2 43.8h.6M21.2 29.7h.6M16.6 40.4h.6M11.1 22.4h.6M4 19h.6M-1.7 14.3h.6M6.4 3.5h.6M-3.5 9.7h.6M16.8 28.7h.6M23.7 31.7h.6M49.7 35.8h.6M6.7 24.2h.6M56.7 44.2h.6" stroke="#fff" stroke-width=".6" opacity=".8"/><path d="M3.8 18.9h1M80.4 35.1h1M40.5 23.5h1M-2 34.7h1M11.7 44.6h1M35 11.2h1M40.4 26.8h1M85.7 36h1M-7 -.6h1M27.3 35.9h1M37.2 22.4h1M24.1 34.4h1M43.7 53.1h1M34.5 34.5h1M9.3 47.6h1M54.9 9h1M18.7 6.7h1M5.7 43.8h1M5.3 40.5h1M40.9 34.4h1M4.6 14.4h1M4 47h1M28.2 4.6h1M-2 32.3h1M10.7 37.2h1M38.1 46h1M8.1 20.1h1M20.4 17.2h1M37.4 25.2h1M29.7 37.6h1M8.7 23.2h1M1.2 24.7h1M5.2 37.9h1M3.5 21.3h1M-12 29.8h1M48.8 15.3h1M11.8 39.2h1M41 51.3h1M41.4 29.7h1M35.9 34.9h1M46.4 47.1h1M31.5 31.3h1M14.4 18.2h1M23.4 46h1M64.1 48h1M40.2 24.4h1M38 22h1M2.3 15.4h1M15 32.8h1M36.7 10.8h1M42.5 34.1h1M43 44.4h1M24 37.2h1M7.7 32.8h1M50.7 -2.5h1M26.6 38.9h1M44.6 38.5h1M29.6 35.7h1M14.8 34.9h1M42.9 30.9h1M25.6 7.6h1M55.4 71.2h1M48 50.7h1M14.8 41h1M38.7 20.7h1M9 2.1h1M2.1 4.2h1M3.3 31h1M10.6 22.4h1M5.1 20.3h1M12.6 17.5h1M4.6 15.2h1M32.9 42.5h1M35.7 8h1M19.1 9.1h1M19.4 50.7h1M28.2 37.1h1M34.9 26.4h1M-2.1 -11h1M31.5 39.3h1M48.5 14.7h1M8.2 7.2h1M3.3 40h1M12.4 24.4h1M49.7 58.1h1M9.5 29.1h1M16.9 41h1M1.3 22.2h1M31.9 38h1M31.5 23.9h1M6.3 25.5h1M.7 24.9h1M47.8 38.8h1M15 37.4h1M35.5 35.6h1M-14.2 14.9h1M13.6 39.9h1M31.6 32.8h1M16.5 29.3h1M55.9 11.5h1M18.9 28.4h1M-2.7 16.7h1M47.9 12.4h1M10.8 29.5h1M-2 34h1M14.6 31h1M17.9 24.1h1M8 23.1h1M27.5 31.3h1M10.3 21.8h1M33.8 .3h1M49.3 11.3h1M-4.6 0h1M27.6 34.6h1M11.7 38.6h1M7.6 20.7h1M6.6 51.5h1M38.5 36h1M14.2 44.9h1M2.7 36.4h1M1.6 16.7h1M16 33.6h1M24.2 43.4h1M44.2 16.7h1M9.2 21.2h1M40.3 32.7h1M18.8 38.5h1M1.7 25.8h1M12.3 30.7h1M28.4 40.5h1M16 11.5h1M9.3 18h1M17.6 41.1h1M40.4 20.7h1M6.4 56.5h1M3.9 21.9h1M15 29.9h1M5.4 41.8h1M57.5 47.2h1M41.4 43.1h1M56.9 37.8h1M7.4 36.9h1M5.8 -1.5h1M15.2 50.8h1M11.1 51.6h1M7.5 28h1M1.7 22.9h1M13.9 61.1h1M27.9 34.5h1M53.1 39.5h1M5.6 43.1h1M3.5 21.7h1M10.2 23h1M1.5 19.7h1M43.9 40.1h1M41.8 33.4h1M10.5 31.6h1M40.4 39h1M12.5 36h1M10.6 41.6h1M24.1 -.9h1M7.1 15h1M19.3 31.8h1M9.7 18.2h1M44.8 51h1M-1.4 16.5h1M39.3 46.9h1M11.3 39.2h1M14.1 71.1h1M15.2 27.7h1M40.8 5.5h1M3.2 24.2h1M17.2 29h1M14.4 32.3h1M4.9 1h1M40.7 29.1h1M64.1 37.8h1M18.3 30.1h1M51.1 19.4h1M44.9 24h1M-1 21.9h1M61.6 47.6h1M51.4 4.4h1M-.9 39.8h1M49.9 37h1M62.2 47.7h1M15.2 18h1M41.7 39.3h1M2.2 35.2h1M40.6 20.6h1M30.3 39.6h1M10.3 5.9h1M10.7 41.7h1M36.8 17.3h1M22.1 34.6h1M6.7 42h1" stroke="#fff" stroke-width="1" opacity=".8"/><g fill="url(#glow)" opacity="0.15"><circle cx="27.0" cy="35.7" r="25.2"/><circle cx="40.3" cy="28.6" r="16.8"/><circle cx="6.1" cy="3.1" r="16.8"/><circle cx="11.2" cy="33.1" r="12.6"/><circle cx="12.2" cy="41.8" r="12.6"/><circle cx="46.4" cy="46.9" r="12.6"/><circle cx="4.1" cy="21.4" r="8.4"/></g><g fill="url(#glow)"><circle cx="27.0" cy="35.7" r="10.8"/><circle cx="40.3" cy="28.6" r="7.2"/><circle cx="6.1" cy="3.1" r="7.2"/><circle cx="11.2" cy="33.1" r="5.4"/><circle cx="12.2" cy="41.8" r="5.4"/><circle cx="46.4" cy="46.9" r="5.4"/><circle cx="4.1" cy="21.4" r="3.6"/></g><g fill="#e0e0e0" filter="url(#cl)"><circle cx="27.0" cy="35.7" r="4.5"/><circle cx="23.4" cy="33.3" r="3.9"/><circle cx="25.3" cy="31.4" r="3.5"/><circle cx="27.6" cy="39.2" r="4.3"/><circle cx="30.2" cy="32.4" r="2.8"/><circle cx="30.7" cy="37.3" r="3.2"/><circle cx="29.8" cy="32.8" r="4.0"/></g><g fill="#e8e8e8" filter="url(#bl)"><circle cx="40.3" cy="28.6" r="3.8"/><circle cx="40.8" cy="26.6" r="2.0"/><circle cx="42.3" cy="28.3" r="2.9"/><circle cx="6.1" cy="3.1" r="3.8"/><circle cx="7.1" cy="4.8" r="2.7"/><circle cx="6.4" cy="1.1" r="3.0"/><circle cx="11.2" cy="33.1" r="2.8"/><circle cx="10.1" cy="32.1" r="1.9"/><circle cx="11.8" cy="34.5" r="2.2"/><circle cx="12.2" cy="41.8" r="2.8"/><circle cx="13.7" cy="41.5" r="1.6"/><circle cx="11.8" cy="40.4" r="2.2"/><circle cx="46.4" cy="46.9" r="2.8"/><circle cx="47.0" cy="48.3" r="2.2"/><circle cx="46.0" cy="48.4" r="2.1"/><circle cx="4.1" cy="21.4" r="1.9"/></g></svg>
<svg x="405.9" y="228.9" width="51.0" height="51.0" viewBox="0 0 51.0 51.0"><rect width="51.0" height="51.0" fill="#060606"/><path d="M18 23Q27 17 34 10M18 23Q11 19 7 12M18 22Q12 29 5 34M17 22Q20 32 20 42M18 23Q10 21 2 23M18 22Q26 30 32 39M18 22Q25 24 33 23M18 23Q24 20 30 21M34 10Q34 16 39 19M34 10Q20 8 7 11M33 11Q41 15 48 21M33 10Q25 0 20 -11M33 10Q34 16 30 20M39 19Q43 21 48 20M39 19Q34 19 30 20M39 19Q36 20 35 22M7 12Q5 17 2 23M7 12Q12 -1 20 -12M48 20Q49 38 46 56M49 21Q42 32 32 39M48 21Q41 20 34 22M6 34Q12 40 20 42M6 34Q4 32 3 34M6 34Q6 27 3 23M6 34Q9 37 5 39M20 42Q10 51 -4 56M20 42Q26 39 32 39M21 42Q23 48 28 51M20 42Q12 43 5 39M3 34Q-1 45 -4 56M3 34Q5 28 3 23M3 34Q5 36 5 39M-4 56Q-5 38 2 23M-4 56Q12 53 28 51M-4 56Q2 48 5 39M46 56Q39 47 32 39M46 56Q37 53 28 51M32 39Q30 45 28 51M31 39Q32 31 33 23M32 39Q32 30 35 22M33 23Q29 24 30 21M33 23Q32 21 34 22M30 20Q33 18 35 21" stroke="#dcdcdc" stroke-width="0.65" fill="none" opacity="0.42"/><path d="M18 22Q25 15 33 10M18 23Q11 19 7 12M18 22Q11 27 5 33M18 22Q24 19 30 20M33 10Q33 16 38 19M34 10Q25 1 20 -12M33 10Q31 15 30 20M39 19Q43 22 48 21M39 19Q36 19 35 22M7 12Q4 17 3 23M48 20Q49 38 46 56M6 34Q14 35 20 42M5 34Q6 28 2 23M5 34Q1 36 4 39M20 42Q22 49 28 52M3 34Q0 45 -4 56M3 34Q3 28 3 23M-4 56Q12 54 28 52M-4 56Q2 48 5 39M46 56Q37 49 32 39M31 39Q34 31 33 23M31 39Q33 30 34 22M33 23Q32 21 30 21M33 23Q34 22 34 22" stroke="#dcdcdc" stroke-width="0.45" fill="none" opacity="0.38"/><path d="M49 46Q50 55 42 72M23 30Q26 36 33 43M42 20Q35 32 29 39M39 7Q49 7 57 2M16 51Q13 43 10 37M11 2Q12 9 12 11M31 18Q26 11 29 5M42 52Q58 45 68 42M8 18Q26 14 41 17M42 35Q38 26 38 20M50 4Q58 0 59 -3M49 -2Q61 -15 71 -25M7 44Q8 61 11 78M16 7Q14 17 16 19M8 23Q20 20 35 16M9 42Q-1 40 -10 39M32 35Q37 42 38 51M8 30Q10 12 16 -6M30 27Q39 31 47 30M16 4Q-1 11 -17 20M31 26Q29 26 22 26M36 51Q23 56 16 61M42 4Q58 10 74 22M19 54Q22 58 26 62M53 -4Q41 8 28 21M10 4Q-1 -3 -13 -7M34 13Q36 33 36 49M15 -2Q10 10 5 27M-4 18Q-4 26 -8 28M35 18Q32 11 31 -2M18 19Q14 17 6 10M1 32Q2 22 -3 14M37 20Q31 30 26 46M37 54Q19 60 9 68M25 6Q33 12 36 22M13 -4Q15 -6 22 -10M54 -4Q65 -2 69 7M40 9Q49 17 62 31M28 15Q34 17 40 18M10 5Q10 21 12 30M2 -3Q-16 -12 -31 -19M16 19Q30 8 37 4M34 21Q32 32 32 46M20 44Q17 25 15 14M37 40Q39 41 35 50M18 35Q0 35 -17 27M32 50Q27 59 25 67M12 37Q12 25 14 13M8 45Q17 42 27 40M21 14Q11 15 -4 12M55 17Q56 14 55 4M43 17Q53 7 66 -1M39 50Q41 42 47 37M41 -5Q32 -3 25 -5M7 24Q7 9 1 -1M5 6Q-2 -3 -2 -15M35 23Q23 28 2 38M52 4Q65 14 73 29M45 48Q35 54 25 56M-2 6Q-11 3 -16 2M18 22L23 14M18 22L-5 26M18 22L32 6M18 22L4 0M18 22L23 5M18 22L8 27M34 10L33 -4M34 10L39 -17M34 10L24 9M34 10L20 9M34 10L39 17M34 10L35 -3M39 19L21 9M39 19L35 42M39 19L33 11M39 19L59 25M7 12L30 19M7 12L-7 17M7 12L0 16M48 20L39 24M48 20L59 3M48 20L74 19M6 34L-3 57M6 34L20 51M6 34L1 45M20 42L35 33M20 42L29 41M20 42L29 59" stroke="#dcdcdc" stroke-width="0.35" fill="none" opacity="0.32"/><rect width="51.0" height="51.0" filter="url(#grain)" opacity="0.08"/><path d="M16.8 6.8h.6M34.6 -1h.6M-2.8 54.8h.6M14.5 -2.6h.6M23.1 46h.6M32.5 19.7h.6M.6 32.1h.6M-2.1 49.6h.6M32.4 22.3h.6M30.3 8.3h.6M39.3 16.3h.6M41.5 6.6h.6M12.1 30.4h.6M8.6 21.7h.6M27.3 50h.6M17.9 22.3h.6M32.1 42.4h.6M1.6 30.5h.6M10.7 37.8h.6M33.2 .1h.6M12.7 17.8h.6M2.7 40.5h.6M34 12.4h.6M4.8 33h.6M35.5 49.4h.6M28.5 50.3h.6M41.1 18.2h.6M28.1 12.2h.6M7.8 52.5h.6M33.8 24.9h.6M28.4 39.1h.6M7.7 3.4h.6M3.5 25h.6M17.7 -8.1h.6M-2.7 55.9h.6M5.3 27.9h.6M-4.1 20.7h.6M6.9 37.2h.6M12.1 23.3h.6M34 11.4h.6M50.1 25.1h.6M-5 24.4h.6M23 41.2h.6M30.4 23.2h.6M27.7 48h.6M-6.4 39.4h.6M16.7 -6.7h.6M48 16.3h.6M4.6 35.8h.6M31 36.6h.6M44.2 43.4h.6M62.5 -.8h.6M33.1 35.2h.6M7.3 37.7h.6M4.5 54.4h.6M28.2 7.7h.6M29.5 26.3h.6M45.5 27.1h.6M8 18.2h.6M21.5 42.4h.6M43.7 24.3h.6M-.2 54.6h.6M35.5 17.6h.6M22.2 33.6h.6M23.1 35.3h.6M9.3 16.1h.6M4.7 6.6h.6M21 43.2h.6M25.5 6.5h.6M33.9 7.2h.6M-2.9 25.8h.6M48.2 39.6h.6M32.6 19.6h.6M29.6 12.5h.6M27.2 5.9h.6M9 40.1h.6M32.3 9.2h.6M44.5 21.1h.6M37.4 -8.9h.6M44.5 21.9h.6M3.3 16.1h.6M1.8 17h.6M17.4 .3h.6M28.6 34.4h.6M-6.1 -6.9h.6M45.1 25.8h.6M31.5 6.6h.6M24.5 40h.6M33.8 13.5h.6M36.1 20.7h.6M40.4 16.1h.6M8.5 8.3h.6M20.5 -10.7h.6M40.6 54.4h.6M42.5 21.1h.6M39 21.2h.6M39.7 9.9h.6M23.9 27.3h.6M-.6 13.5h.6M7.3 37.1h.6M48.2 2.2h.6M33.3 2h.6M31 14.7h.6M49.5 5.6h.6M6.4 34.5h.6M33.9 22h.6M68.5 21.7h.6M28.9 36.5h.6M37.5 47.8h.6M38 45.7h.6M2.9 44.9h.6M46.2 15.3h.6M30.2 26.3h.6M11.3 6h.6M28.8 37.9h.6M5.8 42.1h.6M11 10.4h.6M62.7 14.4h.6M12.5 6.6h.6M-1.8 33.4h.6M14.6 11.2h.6M37.4 42.9h.6M-2.9 15.2h.6M31.9 30.8h.6M29.9 22.3h.6M56.3 7.8h.6M37.2 30h.6M9.7 30.8h.6M39.5 16.8h.6M12.5 21.7h.6M6.3 11.7h.6M18.9 40h.6M19.5 19.6h.6M64.5 .1h.6M18.2 20h.6M43.1 49.2h.6M13.7 44.9h.6M35.3 22.8h.6M32.2 48.1h.6M-17.7 -12.7h.6M42.8 20h.6M32.1 13.1h.6M33.3 11.5h.6M36.1 20.7h.6M5.5 35.8h.6M24.4 42.9h.6M55.5 11.8h.6M2.4 34.6h.6M49.2 46.5h.6M45.2 9.3h.6M35.8 40h.6M2.2 5h.6M12.2 22.8h.6M5 35.9h.6M4.3 39.1h.6M2.6 13.5h.6M13.1 14.2h.6M26.9 43.9h.6M48 56h.6M9.2 37.9h.6M14.4 24.6h.6M38.6 28.4h.6M57.3 -11.1h.6M24.8 13.6h.6M4.8 36.1h.6M31.9 49.2h.6M37.1 18.9h.6M7.7 -1.8h.6M24.5 -2.7h.6M35 25.3h.6M29.5 29.9h.6M14.1 16.4h.6M23.3 6.9h.6M29.8 9.9h.6M1.8 11.2h.6M44.4 24.7h.6M18.9 29h.6M4.9 17.5h.6M30.6 17.5h.6M1.6 38.7h.6M15.2 14.5h.6M3.4 4h.6M66.7 19.7h.6M67.7 -21.9h.6M30.6 37.4h.6M11.8 48.4h.6M33.6 23.4h.6M33.3 10.2h.6M39.4 27.8h.6M68 19.6h.6M48.7 18.2h.6M1.2 39.2h.6M33.8 24.6h.6M7.9 30.6h.6M14.9 38h.6" stroke="#fff" stroke-width=".6" opacity=".8"/><path d="M19.3 42.9h1M27.9 10.3h1M26 10h1M33.2 26.4h1M58.2 9.5h1M44.9 15.6h1M23.1 31.1h1M7.6 12.8h1M.6 54.3h1M32 24.4h1M4.1 28.8h1M27.5 13.9h1M49.6 11.2h1M67.2 4h1M23.4 52.3h1M.7 -.9h1M17.5 47.3h1M29.2 25.7h1M32.9 19.5h1M36.8 21.7h1M16.4 23h1M35 18.9h1M33 32.9h1M40 -6h1M34.3 15.5h1M61.1 19.2h1M39.2 51.1h1M12.4 13.4h1M10.7 54h1M.6 14.3h1M8.2 56.7h1M61.5 13.7h1M64.9 16.7h1M33.1 31.8h1M20.3 19.8h1M55.5 15.9h1M33.2 10.6h1M4.4 54.4h1M31.3 11.4h1M11 3.5h1M4.2 37.1h1M17.9 53h1M36.9 -4.1h1M35.7 15.1h1M33.6 33.6h1M42.6 18.1h1M.5 12.8h1M22.6 21.2h1M26.7 12.1h1M46.8 18.7h1M30.4 54.7h1M29.4 16h1M13.6 -4.5h1M21.5 24.2h1M14.9 2.9h1M34.1 10.7h1M28.3 40.9h1M45.2 54.6h1M29.5 47h1M38.7 49.1h1M55.5 16h1M25.5 37.9h1M43.9 22.1h1M28.2 16.5h1M4.1 23h1M4.7 1h1M35.7 21h1M39.8 49.2h1M25.4 27.8h1M17.9 9.4h1M21 21.6h1M34.4 17h1M22.7 41.3h1M-2.6 31.1h1M37.7 17.2h1M46.6 16.1h1M40.1 48.4h1M2.7 11.6h1M32.5 23.3h1M34.2 15h1M51.7 28.8h1M6.9 28.5h1M-2 31.5h1M26.9 22.4h1M16.1 36.2h1M-2 39.8h1M35.5 2.5h1M52.2 16h1M33.1 13.7h1M9.9 17.3h1M32.9 22.6h1M36.1 17.3h1M10.6 34.8h1M18.7 3.6h1M6.1 29h1M25.9 13.1h1M2.5 25h1M30.3 40h1M2.4 43.6h1M50.2 11.9h1M43.7 20.4h1M2.6 22h1M31 18.8h1M22.6 38.6h1M64.1 15.3h1M33.4 27.2h1M3.3 8.3h1M33.5 6.7h1M48.1 20.9h1M11.4 15.3h1M25.4 15.6h1M7.4 31.1h1M9 12.8h1M35 32.3h1M50.5 20.9h1M-1.6 -9.2h1M5 29.2h1M9.1 33.4h1M25.7 -.6h1M30.6 19.7h1M30.1 25.8h1M27.1 16.3h1M25.5 14.3h1M-4.4 53.3h1M35.5 42.2h1M.7 27.3h1M32.1 29.4h1M10.8 38.1h1M33.1 -2h1M8.3 45.1h1M32.7 39.6h1M11.7 14.2h1M2.1 32.9h1M31.4 -4h1M37.1 17h1M29.5 46.9h1M13.1 -4.1h1M49.3 10.3h1M33.3 13h1M34.1 21.8h1M38.3 17.3h1M12.3 33.6h1M48.4 19.7h1M49.3 24.1h1M6.9 33.3h1M.3 11.4h1M34.1 11.8h1M40.8 8.1h1M29 48.7h1M50.3 18h1M4.3 41.4h1M6.1 26h1M16.3 45.7h1M.6 39.9h1M24.7 9.4h1M43.6 28.8h1M6.9 40.3h1M32.6 24.3h1M50.8 44.3h1M33.8 9.3h1M14.1 36.7h1M8 9.5h1M30.5 19.8h1M15 40.3h1M8.6 36.4h1M37.5 41.8h1M3.6 37.1h1M35.9 37.9h1M15.3 15h1M36 39.2h1M18.1 32.1h1M3.2 31.7h1M2.2 37.3h1M46.4 18.5h1M18.1 22.1h1M33.3 19.7h1M26.7 44.5h1M47.7 17.1h1M14.6 16.8h1M21.4 58h1M3.2 35.9h1M16.8 5.1h1M21 22.7h1M38 13.9h1M23 41.5h1" stroke="#fff" stroke-width="1" opacity=".8"/><g fill="url(#glow)" opacity="0.15"><circle cx="17.8" cy="22.4" r="16.8"/><circle cx="33.7" cy="10.2" r="16.8"/><circle cx="38.8" cy="18.9" r="12.6"/><circle cx="7.1" cy="11.7" r="10.5"/><circle cx="48.4" cy="20.4" r="10.5"/><circle cx="5.6" cy="33.7" r="8.4"/><circle cx="20.4" cy="41.8" r="8.4"/></g><g fill="url(#glow)"><circle cx="17.8" cy="22.4" r="7.2"/><circle cx="33.7" cy="10.2" r="7.2"/><circle cx="38.8" cy="18.9" r="5.4"/><circle cx="7.1" cy="11.7" r="4.5"/><circle cx="48.4" cy="20.4" r="4.5"/><circle cx="5.6" cy="33.7" r="3.6"/><circle cx="20.4" cy="41.8" r="3.6"/></g><g fill="#e8e8e8" filter="url(#bl)"><circle cx="17.8" cy="22.4" r="3.8"/><circle cx="19.3" cy="21.1" r="3.0"/><circle cx="17.7" cy="24.4" r="2.5"/><circle cx="33.7" cy="10.2" r="3.8"/><circle cx="34.6" cy="12.0" r="2.7"/><circle cx="32.2" cy="11.5" r="2.7"/><circle cx="38.8" cy="18.9" r="2.8"/><circle cx="40.2" cy="18.3" r="1.9"/><circle cx="39.8" cy="17.8" r="2.2"/><circle cx="7.1" cy="11.7" r="2.4"/><circle cx="48.4" cy="20.4" r="2.4"/><circle cx="5.6" cy="33.7" r="1.9"/><circle cx="20.4" cy="41.8" r="1.9"/></g></svg>
<svg x="460.6" y="228.9" width="51.0" height="51.0" viewBox="0 0 51.0 51.0"><rect width="51.0" height="51.0" fill="#060606"/><path d="M29 19Q29 13 26 8M29 19Q37 9 48 4M29 19Q25 25 20 29M29 19Q33 20 31 23M30 19Q35 10 34 0M25 8Q21 18 20 29M25 8Q13 20 0 31M26 8Q30 5 34 0M49 4Q40 14 31 23M48 4Q41 19 36 35M48 4Q41 2 33 0M20 29Q15 30 12 34M20 29Q19 30 19 30M20 30Q25 30 30 32M20 29Q26 27 31 23M20 30Q10 30 0 32M12 35Q10 41 10 47M13 35Q17 34 20 31M13 34Q6 35 0 31M12 35Q13 41 19 44M10 47Q24 47 38 49M10 48Q1 50 -7 53M10 48Q7 38 0 32M10 47Q14 45 19 44M20 30Q25 31 30 32M20 30Q26 31 31 35M19 30Q20 37 18 44M30 32Q30 28 31 23M30 32Q28 35 31 35M30 32Q33 33 36 35M48 60Q43 55 39 48M48 61Q48 63 51 63M48 61Q44 47 36 36M38 49Q33 43 31 36M38 49Q36 42 36 36M39 48Q28 47 19 43M30 24Q30 31 36 36M51 62Q43 49 37 35M31 35Q34 33 36 36M31 36Q27 42 19 44M-7 53Q-2 43 1 32" stroke="#dcdcdc" stroke-width="0.65" fill="none" opacity="0.42"/><path d="M29 19Q30 13 26 8M29 19Q26 26 20 30M29 19Q31 21 31 23M26 8Q25 19 20 30M26 8Q12 19 1 32M25 8Q28 3 33 0M49 4Q41 19 36 36M20 29Q14 29 13 34M20 30Q18 29 19 30M20 29Q25 25 31 23M20 29Q10 27 0 31M12 35Q12 41 10 47M13 34Q16 32 19 30M13 35Q6 36 0 32M10 47Q24 45 38 49M10 48Q2 53 -7 53M20 30Q25 32 30 32M30 32Q31 34 31 35M30 32Q33 33 36 35M48 61Q48 64 51 63M39 49Q33 43 31 35M38 49Q34 43 36 36M38 49Q28 48 19 44M31 23Q36 28 36 35M51 63Q43 49 36 35M31 36Q25 39 19 44M-7 53Q-3 42 1 32" stroke="#dcdcdc" stroke-width="0.45" fill="none" opacity="0.38"/><path d="M42 35Q42 25 40 13M22 31Q6 31 -13 25M36 45Q39 39 40 38M5 38Q-8 40 -24 35M51 15Q59 20 71 19M6 20Q10 10 19 5M14 28Q35 24 47 22M28 50Q37 59 41 67M56 4Q59 19 55 28M29 25Q34 7 41 -8M6 23Q-12 24 -30 20M3 11Q12 -4 21 -16M30 37Q24 39 20 42M35 10Q42 -4 53 -14M34 10Q18 19 6 28M25 27Q36 20 49 9M54 36Q54 30 56 27M30 24Q27 40 26 55M48 15Q43 17 41 25M9 34Q9 45 10 49M9 9Q14 15 15 25M26 6Q32 -3 39 -11M11 6Q5 10 -1 19M18 37Q17 29 15 23M29 29Q27 24 32 18M12 19Q-6 24 -18 37M24 21Q23 9 26 -1M9 55Q8 46 14 39M47 -1Q42 -16 33 -32M27 14Q19 9 9 7M30 40Q39 48 40 64M29 8Q20 10 13 6M41 31Q55 28 73 28M45 -2Q39 -8 34 -6M50 4Q62 9 76 20M38 34Q25 38 13 48M49 -2Q58 -6 68 -13M12 31Q9 30 3 22M14 25Q20 33 20 41M5 -4Q10 -9 20 -7M43 22Q42 30 34 34M21 5Q25 -8 23 -25M47 31Q58 26 62 17M21 18Q23 20 30 18M52 2Q61 -9 76 -26M7 50Q12 64 9 80M29 35Q39 26 46 13M29 16Q29 10 28 9M33 20Q41 20 51 27M47 24Q59 10 69 0M10 29Q10 20 17 16M17 8Q19 -2 28 -11M36 36Q35 50 33 66M15 -3Q15 -9 20 -11M3 55Q0 63 -1 65M27 5Q24 11 13 11M-1 9Q-7 18 -22 24M14 26Q5 21 -6 20M46 26Q39 27 32 22M15 31Q11 28 4 25M29 19L18 11M29 19L40 19M29 19L49 2M29 19L18 15M29 19L27 3M29 19L42 4M29 19L41 34M26 8L36 -1M26 8L26 21M26 8L33 1M26 8L16 28M48 4L41 -9M48 4L62 -11M48 4L66 -8M48 4L61 10M20 30L31 30M20 30L26 36M20 30L29 36M13 35L10 47M13 35L15 58M13 35L31 24M10 47L13 57M10 47L18 40M10 47L17 58" stroke="#dcdcdc" stroke-width="0.35" fill="none" opacity="0.32"/><rect width="51.0" height="51.0" filter="url(#grain)" opacity="0.08"/><path d="M-2.8 11.6h.6M35.5 12h.6M27.2 23h.6M30.9 36.8h.6M20.9 18.4h.6M17.1 33h.6M13.8 37.7h.6M31.3 18.9h.6M46.3 11.6h.6M52.9 -14.1h.6M22.2 37.9h.6M42 46.5h.6M31.2 20.3h.6M22.9 27.1h.6M35.3 39.3h.6M14.1 2.5h.6M43.6 44.4h.6M25.9 33.4h.6M2.7 37.8h.6M-4.4 45.4h.6M21.4 36.6h.6M27.2 7.2h.6M23.2 1.5h.6M46.2 28.2h.6M7.9 47.7h.6M-15.7 21.2h.6M40.8 11h.6M48.9 2.2h.6M28.5 28.8h.6M4.2 31.1h.6M10.6 28.4h.6M42 36.2h.6M23.8 25.7h.6M-.3 35.4h.6M42.9 15.7h.6M.4 14.7h.6M31 28.3h.6M59.8 -7.8h.6M19.4 20.6h.6M26.7 34.9h.6M31.4 20.8h.6M17 34.7h.6M46.6 -7.5h.6M25.1 3.1h.6M12.7 34.7h.6M38.7 31h.6M33.8 7.9h.6M34.8 34.6h.6M12.5 51.1h.6M60.4 -8.2h.6M16.9 30h.6M33.9 9.7h.6M28.8 20.3h.6M10.7 31.5h.6M18.7 33.7h.6M11.3 40h.6M21.3 18.6h.6M16.9 41.4h.6M12.2 35.1h.6M-6.4 15.2h.6M43.2 -5.9h.6M18.9 10.4h.6M19 29.6h.6M9.8 46.5h.6M42.4 7.5h.6M47.2 5h.6M18.7 4.1h.6M30.8 36.2h.6M5.4 45.9h.6M3.5 33.6h.6M21.3 18.2h.6M-13 22.7h.6M16.8 15.7h.6M26.5 50.2h.6M48.9 3.8h.6M51.7 1.8h.6M23 44.9h.6M24.1 17h.6M7.3 49.5h.6M37.2 7.1h.6M26.4 34.3h.6M60.8 9.1h.6M18.8 9.8h.6M17.5 30.6h.6M37 13.8h.6M6.9 53.6h.6M60.6 18.9h.6M23.5 -22.2h.6M12.8 41h.6M10.9 11.7h.6M31.7 22.7h.6M23.3 13h.6M9.5 47.9h.6M57.2 23.9h.6M31 36.8h.6M27.5 -2.6h.6M15.2 33.6h.6M40 37.3h.6M48.4 26.8h.6M27.5 10h.6M16.9 29.8h.6M17.3 -7.8h.6M1.3 39.2h.6M8 -5.9h.6M30.4 33.1h.6M1.8 50.7h.6M9.2 43.3h.6M43.1 2.3h.6M.5 61.8h.6M4.5 44h.6M16.9 29.7h.6M55 -1.3h.6M9.2 47.9h.6M28.2 13.2h.6M21.8 43.2h.6M40.4 29.3h.6M34.1 2.5h.6M39.5 58.1h.6M33.2 55.6h.6M18.1 34.7h.6M21.1 2h.6M25.4 46.5h.6M9.8 9.9h.6M40.2 22.8h.6M18.8 36.4h.6M35.2 45.7h.6M16.9 31.6h.6M32.7 3.9h.6M16.5 29.7h.6M48 62.4h.6M35.9 35.6h.6M18.7 29.6h.6M2.9 41.4h.6M19 21.5h.6M30 32.3h.6M44.7 32.4h.6M42.3 -10.9h.6M49.1 30.7h.6M29 16.8h.6M44.5 56.1h.6M43.4 35.6h.6M20.2 29.6h.6M64.1 12.3h.6M12.3 38h.6M22.4 2.4h.6M18.5 37.2h.6M28.3 27.8h.6M13.2 40.8h.6M47.9 62h.6M34.9 47.8h.6M44.7 1.3h.6M32.3 38.7h.6M39.3 -4.1h.6M38.5 18.8h.6M7.4 23.3h.6M38.9 30.8h.6M19.5 44.2h.6M43.5 3h.6M28.8 15.3h.6M32 1.4h.6M12.2 46h.6M22.3 31.2h.6M24 40.4h.6M22.1 41.6h.6M13.9 30h.6M16.8 36h.6M11.8 52.9h.6M-.5 34.8h.6M23.5 45.9h.6M15.6 17h.6M21.8 32.6h.6M40.5 51h.6M18.6 32.7h.6M8.9 51.9h.6M12.8 33.7h.6M18.4 30.7h.6M30.6 23.1h.6M29.3 34.7h.6M25.6 11.3h.6M19.6 37.8h.6M10.5 48.4h.6M29.2 31.7h.6M27.2 21.5h.6M16 33.7h.6M25.1 35.4h.6M30.5 6.3h.6M45.9 4.5h.6M3.7 30.9h.6M16.6 28.2h.6M67.9 1h.6M11.8 45.8h.6M28.3 25.6h.6M49.2 7.1h.6M48.7 62.3h.6M27.2 31.5h.6M16 16.7h.6M40.2 64.9h.6M16.9 6.7h.6M30.3 20.3h.6" stroke="#fff" stroke-width=".6" opacity=".8"/><path d="M15.1 18.9h1M49.9 63.2h1M22.2 8.8h1M13.7 50.4h1M10.9 38.6h1M12.9 15.7h1M15.4 33.2h1M23.7 24.9h1M44.1 2.2h1M28.1 9.9h1M18.8 29.8h1M27.4 17.8h1M33.2 42.3h1M30.4 21.4h1M29 16.5h1M25.4 31.9h1M4.4 24.3h1M36.3 33.5h1M21.9 13.8h1M13.1 8.2h1M9.1 42.2h1M36.9 32.6h1M33.2 30.6h1M1.8 33.4h1M17.7 46.8h1M20.1 43.9h1M16.7 15.8h1M14.8 42.7h1M46.5 11.1h1M30.3 18.9h1M9.9 47.3h1M34.3 8.5h1M10.4 30.6h1M41.8 21.9h1M17.1 31.5h1M5 8.1h1M23.9 11.4h1M29.5 31.9h1M23.5 26.9h1M55.2 18.5h1M64.2 -6.4h1M1.3 32.8h1M22.7 17.8h1M28.7 12.1h1M24 26.2h1M14.8 16.5h1M25.7 13.6h1M22.7 14.7h1M6.1 27h1M12.5 35.2h1M2.1 49.7h1M34.3 7.7h1M15 10.1h1M30.9 24.9h1M22.3 28.4h1M31.3 6h1M27.1 25.8h1M31.8 16.3h1M5.8 33.2h1M15.6 32.4h1M8.8 7.4h1M43.8 4.9h1M32.6 6.2h1M35.7 14.8h1M18 49.4h1M46.5 -7.4h1M36.8 19.7h1M11.7 44.1h1M-21 21.9h1M25 30.3h1M25.1 18.9h1M7.9 43.8h1M54.7 2.3h1M18.1 30.3h1M26.4 50.5h1M24.3 26.3h1M74.4 -23.4h1M20.8 36.2h1M36.4 40.9h1M54.4 32h1M-3 43.5h1M16.9 4.9h1M27.1 7.2h1M22.9 17.7h1M58.4 11.3h1M13.4 44.2h1M16 34.4h1M47.7 24.8h1M21.9 30.8h1M29.1 33.3h1M8.9 31.9h1M30.4 33.1h1M7.4 36.6h1M13.6 50.9h1M-11.6 18.9h1M22.1 15h1M44.6 26h1M26.3 17.6h1M13.8 35h1M44.5 17.9h1M.2 62.9h1M26.7 22.1h1M3.5 58.5h1M24.1 40h1M34.3 9.3h1M46 3.8h1M12.3 30.1h1M16.3 32.7h1M27.2 10.7h1M30.8 34.3h1M23.1 27.6h1M57.7 23.3h1M30.4 52.6h1M25.5 1.4h1M35.6 9.9h1M14 53.5h1M28.4 37.1h1M-.4 51.9h1M26.5 22h1M56.4 11.3h1M40.5 -6.8h1M19.3 30.2h1M10.8 38.7h1M31.6 24.7h1M19.2 15.8h1M21.5 13.9h1M60.6 10.1h1M28.6 14.6h1M48.6 37.9h1M16.2 37h1M35.9 37.7h1M49.1 8.7h1M26.2 31h1M9.7 52h1M14.7 43.5h1M22.7 50.7h1M53.9 26.8h1M50.3 -2h1M39.8 24.9h1M6.8 40.3h1M14.7 33h1M48.6 -1.5h1M22.2 32.2h1M11.6 39.6h1M27.6 37.6h1M18.7 36.6h1M33.7 8.4h1M23 31.6h1M-3.7 52.5h1M21.3 29.7h1M19 29.5h1M40.6 51.2h1M23.3 5.2h1M46.9 6.3h1M11.2 34.4h1M14.4 30.4h1M14.2 30.4h1M29.8 20.2h1M24.1 28.2h1M19.4 31h1M20.9 22.1h1M39.3 38.4h1M27.8 47.2h1M40 61.9h1M18.4 1.4h1M41.8 27.3h1M28.9 13.5h1M21.1 25.8h1M13.5 33.4h1M21.8 11.3h1M28 31.9h1M7.3 46.2h1M27.4 9.8h1M21.2 30.3h1M-.6 57.8h1M48 2.8h1M40.9 -7.7h1M25 7.5h1M17.9 4.5h1M17.9 31.8h1M28.3 17.6h1" stroke="#fff" stroke-width="1" opacity=".8"/><g fill="url(#glow)" opacity="0.15"><circle cx="29.1" cy="18.9" r="21.0"/><circle cx="25.5" cy="8.2" r="12.6"/><circle cx="48.4" cy="4.1" r="12.6"/><circle cx="19.9" cy="29.6" r="8.4"/><circle cx="12.8" cy="34.7" r="8.4"/><circle cx="10.2" cy="47.4" r="8.4"/></g><g fill="url(#glow)"><circle cx="29.1" cy="18.9" r="9.0"/><circle cx="25.5" cy="8.2" r="5.4"/><circle cx="48.4" cy="4.1" r="5.4"/><circle cx="19.9" cy="29.6" r="3.6"/><circle cx="12.8" cy="34.7" r="3.6"/><circle cx="10.2" cy="47.4" r="3.6"/></g><g fill="#e0e0e0" filter="url(#cl)"><circle cx="29.1" cy="18.9" r="3.8"/><circle cx="26.8" cy="18.9" r="2.9"/><circle cx="27.3" cy="17.9" r="2.9"/><circle cx="26.6" cy="20.1" r="3.2"/><circle cx="28.0" cy="21.2" r="3.3"/><circle cx="30.3" cy="20.2" r="3.5"/><circle cx="31.8" cy="18.6" r="3.5"/></g><g fill="#e8e8e8" filter="url(#bl)"><circle cx="25.5" cy="8.2" r="2.8"/><circle cx="26.0" cy="9.6" r="1.8"/><circle cx="24.1" cy="8.7" r="1.9"/><circle cx="48.4" cy="4.1" r="2.8"/><circle cx="48.2" cy="2.6" r="1.7"/><circle cx="49.5" cy="5.1" r="2.2"/><circle cx="19.9" cy="29.6" r="1.9"/><circle cx="12.8" cy="34.7" r="1.9"/><circle cx="10.2" cy="47.4" r="1.9"/></g></svg>
<svg x="22.4" y="284.6" width="51.0" height="51.0" viewBox="0 0 51.0 51.0"><rect width="51.0" height="51.0" fill="#040404"/><path d="M0 42Q13 39 20 38M33 51Q32 52 36 60M22 3Q28 10 36 12M-4 35Q6 24 21 18M18 -5Q35 -6 48 -11M55 19Q64 24 73 23" stroke="#dcdcdc" stroke-width="0.35" fill="none" opacity="0.22"/><path d="M43.7 17.8h.6M3.2 49h.6" stroke="#fff" stroke-width=".6" opacity=".8"/><path d="M44.5 31h1M20.2 1.3h1M6.8 9.7h1M48.5 21.8h1" stroke="#fff" stroke-width="1" opacity=".8"/></svg>
<svg x="77.2" y="284.6" width="51.0" height="51.0" viewBox="0 0 51.0 51.0"><rect width="51.0" height="51.0" fill="#050505"/><rect y="12.3" width="51.0" height="15.3" fill="url(#fade)"/><path d="M0 0H51.0V9.2C40.8 9.2 33.1 14.3 25.5 14.3C15.3 14.3 7.6 11.7 0 11.7Z" fill="#dedede" filter="url(#soft)"/><path d="M47 26Q50 33 56 34M52 16Q45 20 32 24M14 26Q23 28 38 26M22 53Q19 60 8 61M-5 55Q7 43 18 27M39 15Q57 14 67 19" stroke="#dcdcdc" stroke-width="0.35" fill="none" opacity="0.26"/><path d="M39.8 21.9h.6M11.6 46.7h.6M14.7 35.5h.6M16.3 19.1h.6M8.9 27.1h.6M11.6 37.4h.6M6.2 24.7h.6" stroke="#fff" stroke-width=".6" opacity=".8"/><path d="M25.2 20.2h1M6.4 7.9h1M14.7 7.1h1" stroke="#fff" stroke-width="1" opacity=".8"/></svg>
<svg x="132.0" y="284.6" width="51.0" height="51.0" viewBox="0 0 51.0 51.0"><rect width="51.0" height="51.0" fill="#050505"/><path d="M41 30Q42 26 46 23M41 31Q40 37 44 42M41 31Q38 35 34 37M41 31Q33 27 26 22M41 31Q38 22 30 17M46 23Q45 32 44 42M46 23Q46 19 47 14M46 23Q37 21 30 17M44 42Q48 28 47 14M44 42Q40 46 35 47M44 42Q39 38 34 37M47 15Q39 17 30 17M34 47Q35 42 33 37M34 47Q27 36 26 22M33 37Q30 29 26 22M26 22Q27 19 30 17" stroke="#dcdcdc" stroke-width="0.65" fill="none" opacity="0.40"/><path d="M28 3Q31 -4 39 -13M48 -4Q50 10 53 31M52 53Q42 58 39 59M42 40Q37 32 35 23M43 24Q36 26 24 22M12 54Q14 46 19 35M28 31Q48 30 66 30M5 0Q10 -9 12 -15M8 37Q14 40 13 46M17 43Q19 60 25 74M41 2Q28 12 16 24M-1 4Q17 0 35 -8M3 53Q-4 40 -18 31M38 24Q37 27 33 36M5 18Q-7 27 -14 27M1 44Q0 35 2 22M41 10Q48 4 60 -9M17 4Q32 0 47 -4M26 26Q36 30 49 40M17 19Q23 19 33 25M21 -2Q10 0 3 -1M34 2Q43 9 54 21M12 12Q11 19 12 21M-5 -3Q1 8 9 16M40 35Q27 34 6 39M19 48Q15 38 7 32M47 0Q59 12 72 19M51 41Q46 32 41 28M45 56Q60 62 69 61M19 22Q15 31 16 31M42 55Q38 56 35 50M28 46Q36 46 46 47M11 40Q14 21 19 8M28 46Q25 49 24 55M-5 35Q15 39 27 39M42 37Q47 22 50 15M23 55Q36 58 42 61M50 29Q38 46 27 58M38 55Q22 48 12 38M-4 10Q-5 3 -3 -6M55 1Q64 9 70 23M34 -4Q36 2 41 6M53 28Q38 31 30 31M38 34Q22 40 13 53M23 21Q16 37 6 54M33 12Q28 -2 27 -18M28 34Q35 35 48 35M18 30Q25 31 34 31M30 11Q35 11 37 6M50 -2Q38 -2 33 -3M51 26Q58 23 60 21M13 -2Q29 -4 45 -4M49 56Q52 53 58 53M14 30Q16 32 14 39M46 23Q33 11 16 4M2 29Q-12 20 -23 6M31 41Q35 49 39 56M17 39Q18 33 22 24M42 27Q43 32 37 43M44 0Q51 -11 51 -17M41 31L33 37M41 31L35 11M41 31L52 25M41 31L42 44M41 31L34 26M41 31L60 40M41 31L26 16M41 31L59 21M41 31L52 6M41 31L49 15M46 23L27 32M46 23L49 29M46 23L51 29M46 23L46 10M46 23L38 45M46 23L42 31M46 23L41 36M46 23L33 11M44 42L35 37M44 42L25 55M44 42L34 53M44 42L25 45M44 42L55 32M44 42L38 28M44 42L56 60M44 42L36 62M47 14L67 15M47 14L28 15M47 14L57 11M47 14L57 26M47 14L29 35M47 14L36 -8M35 47L22 41M35 47L34 37M35 47L39 54M35 47L16 44M35 47L17 48M34 37L46 27M34 37L38 29M34 37L53 17M34 37L49 45M16 24L14 17M16 24L32 13M27 24L48 18" stroke="#dcdcdc" stroke-width="0.35" fill="none" opacity="0.30"/><path d="M36.5 65h.6M22.6 38.7h.6M17.7 24h.6M53.8 50.5h.6M60.4 37.7h.6M23.3 21.9h.6M55.2 13h.6M20.3 28.6h.6M12.1 20.4h.6M2.4 39.4h.6M42.1 16.5h.6M40.3 42.5h.6M22.9 23.2h.6M47.2 34h.6M33.6 58.3h.6M48.9 10.3h.6M42.7 8.5h.6M12.2 27.9h.6M26.3 44.3h.6M36.3 42.6h.6M14.3 33h.6M24.8 44.1h.6M49.9 19.2h.6M46.6 9.7h.6M64.3 53.8h.6M42.2 28.8h.6M46 9.5h.6M13.8 21.2h.6M22.5 23.5h.6M5.8 22h.6M40.3 40.1h.6M29.7 8.4h.6M47.2 24.4h.6M25.9 2.7h.6M33.7 35.1h.6M57 44.1h.6M35.2 44.2h.6M56.6 12h.6M35.1 42.7h.6M28.2 42.2h.6M26.8 49h.6M40.8 59h.6M40.5 19.8h.6M44.1 21.2h.6M29 23.9h.6M42.1 47.1h.6M49.8 36.8h.6M48.9 42.1h.6M26.4 25.4h.6M12.4 44.7h.6M27.4 23.3h.6M39.4 1.3h.6M39 22.8h.6M50.9 26.3h.6M44.3 39.6h.6M45.8 7.8h.6" stroke="#fff" stroke-width=".6" opacity=".8"/><path d="M44.3 53.5h1M56.1 27.6h1M10.3 27.9h1M4.2 30.9h1M60.7 33.9h1M25.6 21.5h1M29.5 66.1h1M12.2 30.7h1M25.2 50.3h1M15.6 27.4h1M15.8 25.5h1M25.3 5.4h1M32 49.2h1M51.9 57.9h1M23.7 27.6h1M22 9.3h1M35.2 38.3h1M30.5 30.7h1M62.7 38.5h1M37.7 49.1h1M6.6 33.7h1M40.7 77.6h1M32.2 39.3h1M28.2 21.3h1M39.8 -1h1M14.5 29.1h1M54.7 14.6h1M30 23.8h1M16.4 39.2h1M53.7 7.1h1M47.7 23.9h1M47.1 40.9h1M27.4 23.3h1M39.2 44.4h1M38.8 39.6h1M42.9 43h1M50.5 10.3h1M21.6 40.3h1M5.7 15.6h1M41.8 53.6h1M29.4 39.5h1M15.2 5.2h1M39.9 14.8h1M50 27.4h1M28.4 43.4h1M24.2 19.1h1M47.5 24.4h1M27 5.6h1M48.3 .8h1M40.5 15.8h1M18.1 21.5h1M11.3 21h1M25.4 25.8h1M36.8 33.7h1" stroke="#fff" stroke-width="1" opacity=".8"/><g fill="url(#glow)"><circle cx="40.8" cy="30.6" r="13.3"/><circle cx="45.9" cy="22.9" r="10.4"/><circle cx="43.9" cy="41.8" r="10.4"/><circle cx="46.9" cy="14.3" r="8.5"/><circle cx="34.7" cy="46.9" r="6.6"/><circle cx="33.7" cy="36.7" r="5.7"/><circle cx="15.8" cy="24.0" r="3.4"/><circle cx="26.5" cy="24.0" r="2.3"/></g><g fill="#e0e0e0" filter="url(#cl)"><circle cx="40.8" cy="30.6" r="5.2"/><circle cx="42.1" cy="32.7" r="5.2"/><circle cx="45.3" cy="33.2" r="4.7"/><circle cx="45.5" cy="30.0" r="3.2"/><circle cx="38.9" cy="29.3" r="4.6"/><circle cx="36.8" cy="30.3" r="3.8"/><circle cx="36.7" cy="30.2" r="4.4"/><circle cx="45.9" cy="22.9" r="4.1"/><circle cx="44.2" cy="19.2" r="2.5"/><circle cx="49.3" cy="21.1" r="4.1"/><circle cx="46.7" cy="19.6" r="2.7"/><circle cx="47.2" cy="19.3" r="4.0"/><circle cx="43.3" cy="22.6" r="3.7"/><circle cx="43.5" cy="23.6" r="3.5"/><circle cx="43.9" cy="41.8" r="4.1"/><circle cx="43.6" cy="38.5" r="2.7"/><circle cx="45.3" cy="43.6" r="2.6"/><circle cx="40.8" cy="40.5" r="2.8"/><circle cx="46.5" cy="44.1" r="3.5"/><circle cx="46.1" cy="41.8" r="3.8"/><circle cx="43.3" cy="45.1" r="3.4"/><circle cx="46.9" cy="14.3" r="3.4"/><circle cx="47.6" cy="12.1" r="2.1"/><circle cx="44.4" cy="14.6" r="2.1"/><circle cx="46.5" cy="15.9" r="2.7"/><circle cx="43.6" cy="15.0" r="2.6"/><circle cx="48.1" cy="13.5" r="2.3"/><circle cx="47.4" cy="12.8" r="2.6"/></g><g fill="#e8e8e8" filter="url(#bl)"><circle cx="34.7" cy="46.9" r="3.3"/><circle cx="35.2" cy="48.6" r="2.4"/><circle cx="33.6" cy="48.3" r="2.2"/><circle cx="33.7" cy="36.7" r="2.8"/><circle cx="32.2" cy="37.2" r="1.8"/><circle cx="32.2" cy="36.6" r="1.9"/><circle cx="15.8" cy="24.0" r="1.7"/><circle cx="26.5" cy="24.0" r="1.1"/></g></svg>
<svg x="186.7" y="284.6" width="51.0" height="51.0" viewBox="0 0 51.0 51.0"><rect width="51.0" height="51.0" fill="#030303"/><path d="M50.6 6.2h.6M20.9 34.2h.6M23.7 43.9h.6M12.6 44.8h.6M40 1.3h.6M19.6 25.6h.6M7.1 21.9h.6M1.3 23.7h.6M31.8 19.8h.6M26.5 29.1h.6" stroke="#fff" stroke-width=".6" opacity=".8"/><path d="M9.7 46h1M35.5 43.5h1M50.4 49.8h1M1.1 6.8h1M14.6 36.1h1M32.1 49h1" stroke="#fff" stroke-width="1" opacity=".8"/></svg>
<svg x="241.5" y="284.6" width="51.0" height="51.0" viewBox="0 0 51.0 51.0"><rect width="51.0" height="51.0" fill="#050505"/><path d="M38 23Q32 25 31 32M38 23Q43 29 43 37M38 23Q40 17 46 15M38 23Q41 25 45 27M31 32Q37 34 43 37M31 32Q32 38 28 43M43 36Q35 38 28 43M43 37Q40 42 38 48M44 37Q47 33 49 28M43 37Q41 31 45 27M28 43Q33 46 38 48M46 15Q48 22 49 28M46 15Q49 21 45 27M38 48Q41 37 49 28M48 28Q47 28 45 27" stroke="#dcdcdc" stroke-width="0.65" fill="none" opacity="0.40"/><path d="M46 35Q54 48 60 59M22 30Q32 33 43 29M30 13Q39 7 52 6M2 29Q0 48 3 63M33 47Q30 55 22 59M45 9Q35 6 20 3M-4 37Q-12 45 -22 46M26 43Q25 31 21 21M53 -2Q57 1 55 10M5 11Q16 21 28 26M7 46Q-3 44 -12 47M13 23Q16 18 18 13M29 -1Q39 -7 49 -9M40 35Q30 44 27 57M-4 24Q6 28 18 39M-4 -3Q-9 -10 -11 -21M3 22Q-13 11 -22 -1M22 41Q24 35 26 21M43 2Q50 -3 52 -1M43 52Q32 65 17 78M41 7Q40 -6 40 -25M38 30Q38 41 35 47M10 4Q13 16 13 22M26 40Q38 45 45 56M5 -2Q14 5 21 12M46 -4Q47 3 39 17M41 -1Q52 6 58 16M32 31Q36 45 45 55M7 0Q5 18 -2 27M27 6Q34 0 37 -1M2 49Q12 51 19 47M53 49Q45 52 36 57M45 19Q44 23 37 25M20 47Q32 33 49 23M31 44Q28 31 27 12M38 10Q42 -7 54 -19M39 41Q40 24 42 15M-2 55Q8 61 17 71M27 44Q37 52 44 63M-3 11Q-10 21 -14 35M19 -1Q14 5 6 6M15 -3Q4 2 0 8M41 49Q40 40 38 28M-4 11Q-9 10 -20 10M1 29Q3 50 4 65M38 23L46 38M38 23L41 7M38 23L40 42M38 23L46 17M38 23L47 42M38 23L59 5M38 23L48 28M38 23L58 12M38 23L63 26M38 23L54 29M38 23L39 15M31 32L7 19M31 32L28 50M31 32L49 18M31 32L28 11M31 32L26 18M31 32L8 41M31 32L39 30M31 32L42 28M31 32L37 54M31 32L23 23M31 32L23 49M43 37L42 52M43 37L45 55M43 37L38 19M43 37L34 41M43 37L35 28M43 37L20 23M43 37L60 24M43 37L65 49M28 43L7 36M28 43L8 34M28 43L42 54M28 43L44 24M28 43L7 39M28 43L41 59M28 43L38 60M46 15L41 12M46 15L61 9M46 15L58 34M46 15L63 32M46 15L48 41M46 15L67 14M38 48L35 42M38 48L31 39M38 48L36 37M38 48L45 49M38 48L34 35M38 48L40 36M48 28L42 37M48 28L62 29M48 28L62 45M48 28L48 7" stroke="#dcdcdc" stroke-width="0.35" fill="none" opacity="0.30"/><path d="M21 39.9h.6M6.4 63.8h.6M51.7 31.1h.6M2.5 46.6h.6M42.3 5.8h.6M10 24h.6M28.9 45.9h.6M49.8 31.2h.6M51 54.2h.6M39.3 30.9h.6M50 32.7h.6M47.4 6.2h.6M1.7 45.5h.6M25.6 47.9h.6M30.9 56.9h.6M33.9 25h.6M41.4 53.9h.6M45.1 64.2h.6M54.9 37.8h.6M19.6 28.1h.6M39.8 -13.8h.6M23.9 31.4h.6M48.1 9h.6M36.8 33.3h.6M27 49.7h.6M33.9 50.6h.6M38.8 19.8h.6M33 32.5h.6M46.7 37.5h.6M53.9 8.6h.6M25.1 49.9h.6M23.8 42.5h.6M45.5 38.1h.6M13.7 40.2h.6M14.5 49.2h.6M35.2 16h.6M34.1 75.1h.6M40.3 36.6h.6M34 21.5h.6M47.5 -2.2h.6M18.4 33.4h.6M18.6 31.6h.6M42.4 15.4h.6M42.6 7.9h.6M41.5 47.3h.6M52.1 40.8h.6M39.8 21.9h.6M15.6 -3.9h.6M35.7 33.9h.6M42.3 36.8h.6M60.7 16.5h.6M32.1 22.8h.6M62.4 41.7h.6M52.9 19.5h.6M39.3 30.2h.6M31.4 36.3h.6M44.7 31.8h.6M26 22.1h.6M47.6 34.4h.6M33.2 34.1h.6M9.9 8.2h.6M48.6 20.4h.6M28.4 33.4h.6M58.4 35.5h.6M34 20.6h.6M11 8.6h.6M41.7 55.8h.6M36.9 47.7h.6M47.8 55h.6M22.3 47.9h.6M7.5 47.6h.6" stroke="#fff" stroke-width=".6" opacity=".8"/><path d="M57.7 21.5h1M13 44.5h1M33.3 52.1h1M41.4 41.7h1M33.4 5.6h1M40.3 23.9h1M18.8 20.4h1M24.1 61.5h1M28.2 57.3h1M38.9 41.4h1M53.9 46h1M61 20.9h1M40.6 36.4h1M37.9 29.3h1M12.3 48.3h1M38 30.7h1M11.7 1.4h1M29.9 56.5h1M12 20.6h1M32.6 36h1M37.3 56.1h1M25.8 38.8h1M30 33.1h1M43.6 31.1h1M59.9 22.2h1M30.3 35.2h1M18.4 17.8h1M39.9 9.7h1M36.2 40.3h1M32 40.8h1M43.2 42.8h1M10.3 30.2h1M4.8 47.9h1M42.4 16.3h1M33.6 33h1M30.8 49.8h1M44 27.2h1M11.4 51.5h1M38.7 12h1M27.7 59h1M33.1 31.1h1M43.7 18h1M44.9 14.4h1M6.2 40.2h1M42.9 11.2h1M41.9 33.2h1M16.3 3.1h1M41.1 65.6h1M25.6 42.1h1" stroke="#fff" stroke-width="1" opacity=".8"/><g fill="url(#glow)"><circle cx="38.2" cy="22.9" r="14.2"/><circle cx="30.6" cy="31.6" r="14.2"/><circle cx="43.4" cy="36.7" r="10.4"/><circle cx="28.1" cy="43.4" r="9.5"/><circle cx="45.9" cy="15.3" r="7.6"/><circle cx="38.2" cy="48.4" r="7.6"/><circle cx="48.4" cy="28.1" r="5.7"/></g><g fill="#e0e0e0" filter="url(#cl)"><circle cx="38.2" cy="22.9" r="5.6"/><circle cx="40.4" cy="17.5" r="4.1"/><circle cx="40.4" cy="19.2" r="5.3"/><circle cx="32.5" cy="22.3" r="5.1"/><circle cx="35.5" cy="18.1" r="4.6"/><circle cx="35.7" cy="22.5" r="5.4"/><circle cx="37.7" cy="18.9" r="4.0"/><circle cx="30.6" cy="31.6" r="5.6"/><circle cx="30.1" cy="35.0" r="5.2"/><circle cx="29.8" cy="35.7" r="5.0"/><circle cx="27.6" cy="27.9" r="4.9"/><circle cx="25.5" cy="30.0" r="5.3"/><circle cx="31.7" cy="34.7" r="5.3"/><circle cx="29.1" cy="37.3" r="4.2"/><circle cx="43.4" cy="36.7" r="4.1"/><circle cx="45.9" cy="34.3" r="2.5"/><circle cx="44.4" cy="34.2" r="2.8"/><circle cx="41.3" cy="35.2" r="3.5"/><circle cx="40.8" cy="37.1" r="2.5"/><circle cx="46.4" cy="36.7" r="3.3"/><circle cx="40.8" cy="36.9" r="3.7"/><circle cx="28.1" cy="43.4" r="3.8"/><circle cx="26.3" cy="39.9" r="3.3"/><circle cx="31.6" cy="44.3" r="2.7"/><circle cx="24.5" cy="42.0" r="3.6"/><circle cx="26.2" cy="40.6" r="2.7"/><circle cx="29.2" cy="45.3" r="3.1"/><circle cx="24.5" cy="44.5" r="3.3"/></g><g fill="#e8e8e8" filter="url(#bl)"><circle cx="45.9" cy="15.3" r="3.8"/><circle cx="45.2" cy="17.2" r="2.6"/><circle cx="43.9" cy="15.4" r="2.4"/><circle cx="38.2" cy="48.4" r="3.8"/><circle cx="38.2" cy="46.5" r="3.0"/><circle cx="40.2" cy="48.9" r="2.0"/><circle cx="48.4" cy="28.1" r="2.8"/><circle cx="47.0" cy="28.2" r="2.1"/><circle cx="48.1" cy="29.5" r="2.2"/></g></svg>
<svg x="296.3" y="284.6" width="51.0" height="51.0" viewBox="0 0 51.0 51.0"><rect width="51.0" height="51.0" fill="#050505"/><path d="M23 18Q21 26 15 32M23 18Q32 11 40 3M23 18Q28 15 34 17M23 18Q7 21 -9 28M23 18Q28 23 34 27M14 32Q14 37 13 42M14 32Q20 36 26 39M14 32Q7 33 -1 34M14 32Q24 34 34 31M14 32Q3 29 -9 28M14 32Q25 31 35 27M13 42Q20 41 27 39M13 41Q8 34 -1 34M13 42Q7 41 1 42M44 24Q44 17 48 10M44 24Q39 20 34 17M44 24Q40 29 34 31M44 24Q40 29 35 27M44 24Q52 32 54 43M40 2Q45 5 49 10M40 3Q38 10 34 17M26 39Q30 34 34 30M26 39Q40 43 54 43M49 11Q42 17 34 17M49 10Q50 27 54 43M0 34Q3 37 1 41M-1 34Q-4 30 -9 28M1 41Q-1 33 -9 28M34 17Q33 22 35 27M34 30Q36 29 34 27M34 30Q44 37 54 43" stroke="#dcdcdc" stroke-width="0.65" fill="none" opacity="0.42"/><path d="M23 18Q31 10 40 3M23 18Q8 26 -9 28M14 32Q14 37 12 42M14 32Q24 31 34 31M14 31Q3 27 -9 27M13 42Q20 42 27 39M44 24Q49 18 49 10M40 3Q39 11 34 17M27 39Q33 37 35 31M48 10Q47 27 54 43M1 41Q-4 34 -9 28M33 17Q31 22 34 27" stroke="#dcdcdc" stroke-width="0.45" fill="none" opacity="0.38"/><path d="M24 49Q30 49 42 44M23 10Q26 12 28 16M29 51Q7 55 -7 55M41 53Q53 57 64 58M24 12Q39 5 52 -8M29 0Q29 -4 25 -11M8 4Q18 5 20 10M49 3Q42 16 37 22M10 24Q13 29 13 35M25 37Q30 44 33 42M-4 23Q17 22 29 21M54 -2Q37 1 21 4M22 18Q27 0 37 -16M44 40Q53 30 55 14M34 12Q51 24 63 30M11 40Q14 34 24 34M8 36Q17 26 22 7M54 22Q65 15 80 8M5 19Q7 15 9 12M12 -1Q0 -3 -6 -4M36 0Q37 -6 39 -10M47 49Q45 44 46 33M26 34Q24 31 24 20M15 47Q18 48 20 54M31 42Q41 48 54 48M47 49Q47 40 46 31M17 13Q5 -2 -3 -15M5 17Q2 20 -4 24M44 10Q40 -10 40 -27M54 20Q54 24 48 31M49 29Q60 48 65 63M32 41Q36 41 45 36M20 55Q24 46 32 35M32 30Q37 20 36 8M5 45Q17 58 22 76M7 38Q0 39 -11 43M3 29Q13 18 29 3M15 54Q9 58 6 61M6 42Q-4 55 -9 69M35 8Q30 22 27 40M33 37Q44 31 49 18M52 51Q46 34 42 24M51 20Q47 33 38 41M2 43Q23 37 37 29M49 31Q59 13 71 0M41 52Q49 43 59 40M47 12Q54 15 55 19M43 -1Q30 -1 13 3M24 45Q30 45 34 39M33 43Q26 56 26 65M29 6Q32 5 43 1M0 35Q5 39 6 42M35 38Q33 32 33 25M48 34Q34 34 15 37M6 -5Q12 -10 16 -15M35 52Q31 44 28 41M18 40Q13 33 3 18M10 38Q12 33 5 31M36 9Q35 8 26 14M-1 39Q-5 37 -16 31M23 18L2 25M23 18L46 8M23 18L8 35M23 18L26 32M23 18L45 17M23 18L8 28M23 18L3 26M23 18L7 16M23 18L1 30M14 32L18 21M14 32L-6 47M14 32L12 13M14 32L7 24M14 32L-6 22M14 32L0 37M14 32L-3 40M14 32L19 55M14 32L35 41M13 42L1 40M13 42L13 54M13 42L27 66M13 42L11 50M13 42L-2 19M13 42L10 53M13 42L1 35M44 24L26 29M44 24L58 24M44 24L30 40M44 24L21 13M44 24L26 32M44 24L25 23M44 24L34 25M40 3L50 13M40 3L57 3M40 3L24 3M40 3L42 -11M40 3L29 11M40 3L25 -5M40 3L19 -13M27 39L16 55M27 39L49 38M27 39L40 19M27 39L33 58M27 39L19 50M27 39L43 55M48 10L71 -1M48 10L24 20M48 10L55 -8M48 10L56 -12" stroke="#dcdcdc" stroke-width="0.35" fill="none" opacity="0.32"/><rect width="51.0" height="51.0" filter="url(#grain)" opacity="0.08"/><path d="M39.4 7.2h.6M16.1 31.7h.6M11.6 33.6h.6M25.9 15.8h.6M35.3 26.2h.6M10.9 31.6h.6M32.5 22.5h.6M23.5 35.6h.6M-7.2 32.9h.6M47.8 39.4h.6M48.6 30.4h.6M27.8 22.2h.6M24 19.1h.6M30.3 31.1h.6M7.2 41.2h.6M-3.7 37.7h.6M26.8 16.2h.6M38.1 21.3h.6M51 41.3h.6M-.7 51.8h.6M12.5 43h.6M42.9 22h.6M33.5 31.1h.6M19.3 27.4h.6M33.9 23.9h.6M12.7 48.8h.6M24.6 42.8h.6M31.8 3.6h.6M17.1 -9.6h.6M23.7 38.7h.6M58 7.7h.6M22.1 46h.6M26.3 40.1h.6M62.2 .6h.6M54.3 14.8h.6M25 51.7h.6M28.7 42.1h.6M12.3 32.5h.6M58.8 15.8h.6M44.2 5.5h.6M35.5 39.4h.6M6.6 28.4h.6M48.4 5.7h.6M34.8 15.2h.6M44.8 17.3h.6M25.3 16.8h.6M39.4 10.8h.6M8.6 -6.8h.6M8.4 59h.6M68.3 3.4h.6M26.5 12.8h.6M35.2 6.6h.6M47.7 37.7h.6M31.6 17.5h.6M52.4 -1.1h.6M45.7 8.5h.6M2.9 41.6h.6M43.5 40.2h.6M2.3 23.5h.6M.5 56.7h.6M32.1 17.9h.6M-3.5 35h.6M46.4 6h.6M36.2 25.5h.6M12.8 16.1h.6M5.7 38.1h.6M34.8 27.7h.6M36 29h.6M17.3 24.1h.6M8.4 -6.2h.6M25.7 44.8h.6M33.3 26.9h.6M31.9 28.1h.6M36.8 22.7h.6M4.2 43.4h.6M29.9 23.9h.6M9.3 68.2h.6M48.2 20.4h.6M29.3 36.5h.6M6.6 41.5h.6M38.3 4.5h.6M36.8 46.4h.6M25 48.4h.6M58.5 19.4h.6M54.2 39h.6M5.5 55.8h.6M63.7 60.1h.6M35.8 41.3h.6M8.5 33.6h.6M31.7 23.2h.6M46.2 10h.6M54.3 8.5h.6M17.6 20.7h.6M72.9 16.8h.6M9.3 49.1h.6M41.6 30.2h.6M43.4 20.9h.6M54.4 16h.6M50.4 4.5h.6M20.5 45h.6M13.8 40.3h.6M22.7 43.9h.6M29.5 39.9h.6M9.9 30h.6M34.4 -1.6h.6M25.2 3.4h.6M25.5 7.8h.6M11 2h.6M5.8 15.8h.6M45.7 9.8h.6M50.5 35.1h.6M25.5 15.3h.6M39.1 16.8h.6M11.9 45.2h.6M43.3 9.3h.6M11.2 45.9h.6M41 44.1h.6M32.3 17.1h.6M38.1 6.2h.6M60.6 13h.6M43.7 14.9h.6M54.5 17.6h.6M35.3 -4.1h.6M32.6 22.8h.6M53.2 23.2h.6M29 -4.7h.6M48.7 40h.6M10.7 41.5h.6M33.8 23.3h.6M23.6 45h.6M15.2 16.8h.6M3.6 36.4h.6M53.2 23h.6M55.7 17.6h.6M23.3 18.4h.6M9.8 45.8h.6M29 22.6h.6M33.3 17.3h.6M24 25.6h.6M12.2 22.6h.6M64.6 7.7h.6M42.5 31.8h.6M27.5 39.4h.6M45.8 38.1h.6M31.8 30.8h.6M47.6 13h.6M46.4 6.9h.6M44.5 10.5h.6M42.4 6.7h.6M21.4 53.1h.6M-.5 58.3h.6M55.6 2.5h.6M59.3 27.8h.6M30.9 14.1h.6M38 19.4h.6M31.1 -4h.6" stroke="#fff" stroke-width=".6" opacity=".8"/><path d="M-3 33.1h1M33.4 40.8h1M50.1 5.8h1M12.3 30.5h1M19.3 32.8h1M12.3 43.5h1M32.8 5.3h1M26.3 3.2h1M9.5 21.9h1M50.8 35.1h1M12.3 26.4h1M28.5 11.6h1M32 27h1M8.4 29.5h1M33.2 27.6h1M14.3 32.1h1M24.8 39.4h1M-7 27.4h1M17.5 36.5h1M1.7 38.1h1M28.1 42.1h1M39 45.3h1M45.4 11.5h1M30.2 42.7h1M38 41.8h1M-7.4 35.6h1M-.6 28.8h1M12.1 45.1h1M42.5 5.3h1M27.1 44.3h1M33.9 27.9h1M23.1 50.2h1M25 37.5h1M49.9 6h1M35.9 -5.3h1M12.4 40h1M44.5 34.1h1M27.4 44.2h1M6.4 31.4h1M45.7 9h1M18.4 34.8h1M33.4 15.7h1M2.7 33.6h1M39.6 29.5h1M33.6 9.5h1M48.1 28.6h1M34.2 23.4h1M-16.6 52.4h1M53.1 13.7h1M45.8 14.2h1M13.9 32.6h1M9.2 30.3h1M24.5 28.7h1M33.6 49.5h1M13.7 40.5h1M15.3 57.4h1M15.1 59.2h1M18.6 3.9h1M22.1 14.4h1M27.6 22h1M55.1 12.2h1M27.4 21.9h1M25.9 19h1M7.9 10.4h1M55.9 -9.5h1M7.8 36.7h1M37.4 -3.1h1M23.9 33h1M40 3.1h1M3.8 42.6h1M44.2 20.1h1M50.1 50.6h1M19.6 15h1M11.8 45.6h1M17 49.6h1M29.1 34.8h1M25.8 40.6h1M14.9 -13.5h1M32.5 40.9h1M6.4 61.1h1M37.1 .5h1M18.2 41.2h1M13.8 5.3h1M47.1 11.6h1M31.6 31.7h1M16.3 40.3h1M6.2 14.7h1M28.7 44.9h1M15.8 32.9h1M9.8 14.9h1M28.8 1.3h1M26.5 13.6h1M42.6 -.8h1M52.2 4.6h1M48.9 55.4h1M2.5 45.6h1M12.2 44.8h1M30 7.4h1M34.2 16.8h1M16.2 23.7h1M-2.2 44.9h1M27.5 38.7h1M50.6 27.6h1M30.8 39.2h1M16.7 18.1h1M43.9 31.6h1M39.2 7.7h1M1 15.2h1M15.8 47.2h1M19.6 27h1M-10.8 -6.6h1M32.1 19.8h1M40.9 -4.5h1M12.6 22.1h1M32.7 8.4h1M34.8 15.3h1M7.9 20.9h1M30.3 37.1h1M34.4 26h1M40.4 -25.8h1M36.2 .8h1M37.8 -7.2h1M40.5 49.5h1M39.4 10h1M51.2 2.4h1M13.3 30.9h1M37.2 13.2h1M33.4 31.2h1M32.2 25.2h1M36.1 3.3h1M2.4 49.9h1M43.8 23.8h1M4 37.8h1M38.2 24.4h1M27.8 26.9h1M18.3 52.2h1M13.2 29.3h1M14.6 1.3h1M38.4 -3.9h1M-8.2 27.4h1M42.5 46.5h1M29.4 23.5h1M38.4 -9.4h1M22.1 46h1M32.4 21.4h1M6.5 23.8h1M-1.4 29.2h1M15.7 60.2h1M42.5 2.5h1M31.2 10.2h1M14.8 25.9h1M11.6 47.6h1M13.5 39.4h1M21.1 37.8h1M-2.6 44.2h1M46.1 31.6h1M8 32.4h1M24.1 37.8h1M33.7 38.7h1M45.1 17.1h1M10.2 41.3h1M47.9 40.7h1M25.8 38.5h1M17.5 37.6h1M53.2 12.9h1M4.8 29.6h1M44.1 24h1M18.6 33.9h1M28.5 51.8h1M51.7 36.4h1M48.8 13.4h1M45.9 25.8h1M25.9 44.7h1M16.2 33h1M48 11h1M40.7 27.6h1M26.8 17.7h1M36.1 5.8h1M30.1 27.9h1M49.9 46.5h1M12.4 42h1M22.7 39.4h1M11.5 7.1h1M55.8 32.5h1" stroke="#fff" stroke-width="1" opacity=".8"/><g fill="url(#glow)" opacity="0.12"><circle cx="22.9" cy="17.8" r="27.3"/><circle cx="14.3" cy="31.6" r="25.2"/><circle cx="12.8" cy="41.8" r="21.0"/><circle cx="43.9" cy="24.0" r="21.0"/><circle cx="39.8" cy="2.6" r="21.0"/><circle cx="26.5" cy="38.8" r="16.8"/><circle cx="48.4" cy="10.2" r="12.6"/></g><g fill="url(#glow)"><circle cx="22.9" cy="17.8" r="11.0"/><circle cx="14.3" cy="31.6" r="10.2"/><circle cx="12.8" cy="41.8" r="8.5"/><circle cx="43.9" cy="24.0" r="8.5"/><circle cx="39.8" cy="2.6" r="8.5"/><circle cx="26.5" cy="38.8" r="6.8"/><circle cx="48.4" cy="10.2" r="5.1"/></g><g fill="#e0e0e0" filter="url(#cl)"><circle cx="22.9" cy="17.8" r="4.9"/><circle cx="23.0" cy="14.4" r="3.3"/><circle cx="21.0" cy="22.2" r="4.4"/><circle cx="26.4" cy="17.4" r="3.2"/><circle cx="20.2" cy="18.1" r="3.3"/><circle cx="24.6" cy="19.7" r="4.9"/><circle cx="23.5" cy="20.8" r="3.7"/><circle cx="14.3" cy="31.6" r="4.5"/><circle cx="15.4" cy="28.1" r="3.1"/><circle cx="16.7" cy="31.1" r="4.2"/><circle cx="19.0" cy="32.0" r="3.6"/><circle cx="13.8" cy="35.1" r="3.2"/><circle cx="16.5" cy="27.7" r="2.8"/><circle cx="14.6" cy="27.9" r="2.9"/><circle cx="12.8" cy="41.8" r="3.8"/><circle cx="13.5" cy="44.0" r="2.5"/><circle cx="10.7" cy="42.9" r="3.0"/><circle cx="9.2" cy="42.2" r="3.7"/><circle cx="11.1" cy="42.1" r="3.5"/><circle cx="11.2" cy="39.6" r="3.3"/><circle cx="15.4" cy="39.1" r="3.1"/><circle cx="43.9" cy="24.0" r="3.8"/><circle cx="40.5" cy="22.8" r="3.3"/><circle cx="43.0" cy="27.3" r="2.7"/><circle cx="45.6" cy="27.5" r="2.5"/><circle cx="41.0" cy="24.1" r="2.7"/><circle cx="42.7" cy="22.1" r="2.4"/><circle cx="46.6" cy="24.0" r="2.8"/><circle cx="39.8" cy="2.6" r="3.8"/><circle cx="37.6" cy="4.0" r="3.7"/><circle cx="39.2" cy="0.3" r="3.0"/><circle cx="40.3" cy="5.9" r="2.7"/><circle cx="40.5" cy="-1.1" r="3.7"/><circle cx="41.5" cy="3.7" r="2.9"/><circle cx="39.8" cy="-0.8" r="3.2"/></g><g fill="#e8e8e8" filter="url(#bl)"><circle cx="26.5" cy="38.8" r="3.8"/><circle cx="25.4" cy="37.1" r="2.1"/><circle cx="24.6" cy="39.3" r="2.3"/><circle cx="48.4" cy="10.2" r="2.8"/><circle cx="49.8" cy="9.6" r="2.2"/><circle cx="49.5" cy="11.3" r="1.7"/></g></svg>
<svg x="351.1" y="284.6" width="51.0" height="51.0" viewBox="0 0 51.0 51.0"><rect width="51.0" height="51.0" fill="#050505"/><path d="M12 8Q9 12 5 14M12 8Q14 11 18 12M12 8Q22 4 29 -4M5 14Q12 13 18 11M5 14Q8 27 9 41M5 14Q8 18 9 22M18 11Q28 12 38 8M18 11Q21 19 20 28M18 11Q11 15 9 22M18 11Q23 3 29 -4M18 11Q22 21 30 27M38 8Q43 6 48 6M38 8Q34 1 29 -4M38 8Q33 17 30 27M37 8Q39 17 47 22M23 42Q29 39 35 36M23 42Q16 41 9 40M24 42Q25 35 21 28M23 42Q21 51 25 60M23 42Q27 35 30 27M35 36Q32 49 25 60M36 36Q34 31 31 27M35 36Q42 29 47 22M48 6Q40 -1 29 -4M48 6Q45 14 47 22M8 41Q14 34 20 28M9 41Q10 32 9 22M9 41Q16 51 26 60M21 28Q15 25 9 22M20 28Q25 25 30 26M30 27Q39 27 47 22" stroke="#dcdcdc" stroke-width="0.65" fill="none" opacity="0.42"/><path d="M12 8Q16 7 18 11M5 15Q12 16 18 12M5 14Q11 27 9 41M5 14Q4 20 9 22M18 11Q28 11 38 8M18 11Q19 20 20 28M18 11Q14 17 9 22M18 11Q24 4 29 -4M38 8Q31 4 29 -4M23 42Q26 51 25 60M48 6Q38 3 29 -4M49 6Q51 14 48 22M9 41Q18 50 26 60M20 28Q25 26 30 27M30 27Q39 27 47 22" stroke="#dcdcdc" stroke-width="0.45" fill="none" opacity="0.38"/><path d="M3 17Q0 24 4 37M26 53Q21 43 9 32M30 32Q20 33 17 29M24 44Q38 43 45 51M54 16Q42 14 27 14M52 13Q60 11 61 13M16 31Q9 31 -2 29M2 38Q-1 20 -8 9M-1 49Q3 70 0 86M38 -3Q46 -7 49 -19M-1 18Q1 26 -3 31M30 42Q26 41 22 38M38 45Q37 57 32 70M53 15Q46 17 33 13M40 37Q26 26 15 22M21 54Q30 56 45 65M38 36Q38 49 37 62M39 43Q45 35 44 18M41 12Q49 29 54 38M52 19Q64 27 76 33M7 32Q1 28 1 26M35 44Q41 64 51 77M9 35Q13 33 19 25M41 43Q56 50 72 62M45 24Q48 6 57 -7M35 2Q44 11 48 25M4 43Q-3 52 -11 54M35 20Q20 27 2 33M11 44Q15 49 25 59M3 7Q4 -1 6 -1M-2 16Q-12 34 -20 45M56 25Q42 33 22 32M9 15Q-4 8 -13 7M19 49Q16 51 5 61M13 5Q6 21 3 40M10 23Q23 29 30 29M16 1Q24 5 36 6M9 21Q4 32 -3 39M51 29Q62 29 69 28M50 31Q57 18 69 1M50 34Q46 30 39 30M39 -4Q34 -15 24 -23M11 9Q5 3 -8 2M30 22Q36 25 38 32M4 29Q0 31 -8 36M30 52Q19 47 14 43M40 0Q60 0 75 -1M-2 0Q0 1 8 -1M39 37Q34 42 23 41M0 55Q1 67 0 74M16 25Q24 30 28 35M3 55Q-4 63 -4 63M12 42Q20 54 33 72M26 20Q32 7 33 -12M0 53Q19 60 36 64M21 -1Q34 5 42 12M11 53Q17 56 21 64M7 41Q23 37 35 38M19 7Q27 -6 35 -12M49 41Q44 47 44 59M12 8L33 14M12 8L20 16M12 8L1 -11M12 8L-6 -1M12 8L17 13M12 8L-14 14M12 8L23 11M12 8L6 -2M12 8L-7 8M5 14L-5 5M5 14L-3 13M5 14L25 14M5 14L4 22M5 14L6 37M5 14L19 28M18 11L18 1M18 11L23 -5M18 11L34 -5M18 11L25 5M18 11L17 -13M18 11L44 15M38 8L13 18M38 8L24 17M38 8L61 -2M38 8L56 -3M38 8L40 21M38 8L47 11M23 42L18 38M23 42L41 32M23 42L26 60M23 42L37 26M23 42L24 22M23 42L42 62M23 42L29 18M23 42L31 37M23 42L38 46M35 36L22 56M35 36L34 43M35 36L36 43M35 36L23 38M48 6L43 20M48 6L38 -8M48 6L57 26M9 41L-2 54M9 41L27 29M9 41L-7 53M20 28L32 29M20 28L29 41M20 28L12 35" stroke="#dcdcdc" stroke-width="0.35" fill="none" opacity="0.32"/><rect width="51.0" height="51.0" filter="url(#grain)" opacity="0.08"/><path d="M40.5 9.2h.6M18.3 18.4h.6M33.5 21.6h.6M26.9 40.1h.6M23.5 33.1h.6M11.8 49.5h.6M11.9 19.5h.6M48.7 18.9h.6M21.7 54.2h.6M34.5 6.1h.6M42.2 14.5h.6M30.1 -3.6h.6M23.7 42h.6M5.3 43.5h.6M20.3 25.4h.6M38.3 11.4h.6M4.2 21.5h.6M31.8 5h.6M37 45.7h.6M10.8 56.7h.6M51.4 2.8h.6M16.9 12.5h.6M17.5 -5.2h.6M38.1 39.6h.6M4.9 43.9h.6M58.3 17.3h.6M10.9 9h.6M60.3 -.5h.6M21.8 7.3h.6M42.8 9.5h.6M28 1h.6M-3 -6.5h.6M34.3 5.8h.6M-12.3 13.2h.6M21 19.2h.6M50.9 29.7h.6M31.9 28.3h.6M32.6 20.7h.6M27.3 48.1h.6M45.8 41.4h.6M17.7 39h.6M47.9 -.2h.6M10 18.9h.6M19.8 46.4h.6M37.5 4.9h.6M15.2 24.2h.6M32.9 9.6h.6M30.8 30.7h.6M8.8 38.4h.6M.8 22.3h.6M21.1 3.1h.6M36.7 40.7h.6M5.7 14.9h.6M23.5 42h.6M-5.9 22.1h.6M6.8 20.6h.6M0 70.1h.6M8.3 41.1h.6M45.4 23.1h.6M18 31.4h.6M29.9 -3.8h.6M51.2 5.3h.6M30.6 49.5h.6M28.6 46h.6M38.8 14.1h.6M33.9 1.4h.6M48.7 8.9h.6M9 6.7h.6M16.7 50.4h.6M51.6 7.4h.6M55.7 2.8h.6M21.5 30.5h.6M30.6 11h.6M56.2 12.3h.6M6.9 14h.6M16.7 57.4h.6M24.5 10.9h.6M2.2 2.9h.6M22.2 47h.6M45 14.7h.6M26.2 40.5h.6M27.9 33.6h.6M13.5 15.4h.6M23.1 30.3h.6M33.7 33.6h.6M40.7 -1.7h.6M-2 49.4h.6M50.1 .9h.6M14.1 46.3h.6M41.8 14.5h.6M18.2 38.2h.6M-.8 26.5h.6M41.4 34.1h.6M17.6 10.7h.6M19.2 26.3h.6M38.1 46.1h.6M2.5 13.9h.6M31.1 36.8h.6M38.2 41.9h.6M38.5 -.8h.6M23.1 33.1h.6M35.1 6.2h.6M25.6 37.6h.6M7.9 6.7h.6M30.4 15.2h.6M19.7 10.8h.6M35.1 53.1h.6M12.8 15.7h.6M33 -8.2h.6M28.8 39.1h.6M-6.4 23h.6M41.9 3.7h.6M36.2 48.9h.6M22.5 28.3h.6M44 2h.6M14 44.6h.6M13.2 49.6h.6M44.2 19.9h.6M48 12.7h.6M32.9 1.4h.6M55.4 15h.6M4 1.4h.6M20.6 28.2h.6M-3 17.1h.6M42.3 14.5h.6M37.8 10.4h.6M38.9 15.7h.6M23.9 36.9h.6M34.2 10.9h.6M2.1 27.2h.6M21.1 1.5h.6M0 1.7h.6M27.1 18.6h.6M4.5 4.6h.6M35.7 9.1h.6M21 26.6h.6M58.4 12.2h.6M19.9 28.3h.6M12.1 8.5h.6M25.2 46.6h.6M9.1 6.5h.6M11.1 40.6h.6M24.1 27.5h.6M19.2 24.5h.6M21.5 -5h.6M20.1 15.8h.6M2.9 45.5h.6M28 -2.9h.6M24.3 52.5h.6M11.7 37h.6M28.2 6h.6M22.1 26.8h.6M47.4 23.2h.6M13.4 8.3h.6M25.2 11.7h.6M17.3 46.6h.6M27.3 37.4h.6M31.7 61.3h.6M35.1 27.3h.6M49.2 28.4h.6" stroke="#fff" stroke-width=".6" opacity=".8"/><path d="M.5 34.2h1M50 15.6h1M-6.4 20.7h1M11.4 15.2h1M53.8 -.3h1M24.9 59h1M7.7 30.3h1M17.9 9.7h1M14.3 25h1M18 41.1h1M26.2 43.7h1M1.1 26.6h1M-2.9 16.9h1M-4.7 51.7h1M4.6 -4.4h1M33.8 12.6h1M23.3 48.2h1M8.1 9.5h1M8.6 16.9h1M29.7 15.1h1M11.3 37.3h1M27.9 31.8h1M13.7 2.8h1M39.9 -11.9h1M20.3 27.6h1M11 34.5h1M6.8 -.8h1M37.4 35.2h1M39.8 35.8h1M2.2 20.4h1M37.2 7.8h1M31.1 32.5h1M11.4 42.2h1M10.1 31.4h1M11.1 9.1h1M19.7 2.8h1M22.7 25.6h1M37.2 2.2h1M49.1 17.3h1M45.4 7.7h1M34.2 16.2h1M33.9 62h1M36.3 14.6h1M28.2 37.8h1M14.6 28.7h1M-2.4 29h1M19.6 48.7h1M8.4 41h1M12.7 21.7h1M13 -2.6h1M16.3 50.8h1M44.9 20.5h1M46.8 5.2h1M24.9 49.7h1M31.2 30.9h1M19 2.2h1M13.5 36.2h1M13.2 9.1h1M.8 80h1M9.6 27.8h1M13.5 8.2h1M29.1 39.3h1M45.9 2.8h1M37 0h1M10.1 .3h1M26.2 45.2h1M16.8 34h1M39.8 19.2h1M11.3 6.4h1M37.1 38.2h1M27.5 41.1h1M47.3 .3h1M-15 37.3h1M4.9 13.2h1M26.8 2.9h1M22.6 1.1h1M14.2 39.5h1M11.9 19.1h1M-.5 23.1h1M21.6 -2.5h1M2.2 -8.3h1M44.5 36.6h1M18.5 36.4h1M48.1 26.5h1M27.9 .1h1M19.7 14.9h1M29.5 29.2h1M34.3 44.6h1M24.1 41.9h1M7.4 8.9h1M33.5 40h1M11.1 7.6h1M37.6 48h1M27 -1.9h1M15.2 32.8h1M16 8.8h1M.1 62.2h1M21.3 28.9h1M52.9 16.9h1M46.1 4.9h1M28.5 -3.8h1M33.5 29.8h1M52.1 14.9h1M4 41.1h1M42.3 8.4h1M15.1 46h1M9.7 5.9h1M3.8 44h1M9.8 26.6h1M10.6 .5h1M23.3 15.9h1M35.2 41.9h1M27.2 32.1h1M-5.7 12.9h1M21.1 3.1h1M52.9 -1.3h1M47.5 3.6h1M11.5 41.7h1M31.3 3.2h1M12.8 14.6h1M30.2 3.7h1M-3.9 17.2h1M1.3 46.2h1M35.8 -10.3h1M1.8 17.5h1M-3.4 50.5h1M18.9 26.4h1M16.8 3.6h1M18.4 36.3h1M5.6 16.8h1M38.6 50.8h1M24.2 27.7h1M7.1 17.3h1M39.6 7.4h1M32.1 5.6h1M17.7 30h1M37.1 38.1h1M1.6 38.5h1M27.1 25.9h1M32.4 44.9h1M18.1 12.2h1M23.3 30.7h1M45.8 48h1M-8.3 -2.2h1M26.2 37.5h1M33.8 23.9h1M20.4 21.5h1M25.6 59.5h1M.6 51h1M29.2 40.7h1M12.7 37.8h1M23.9 40.6h1M7 17.3h1M6.3 21.4h1M39.2 2.5h1M20.2 19.8h1M37.4 37h1M29 31.7h1M22.5 26.6h1M25 29.9h1M19.1 31.6h1M23.8 33.8h1M25.9 15.8h1M40 24.2h1M40.3 30.3h1M13.4 9.3h1M10.6 28.5h1M41.3 29.1h1M6.5 16.3h1M5.3 30.7h1M56.3 5.4h1M18.7 41.9h1M38.7 13h1M24.7 45.2h1M38.3 7.9h1M42.8 6.4h1M27.7 15.1h1M12.2 30.6h1M53 12.8h1M11.2 20.2h1" stroke="#fff" stroke-width="1" opacity=".8"/><g fill="url(#glow)" opacity="0.12"><circle cx="12.2" cy="8.2" r="27.3"/><circle cx="5.1" cy="14.3" r="18.9"/><circle cx="17.8" cy="11.2" r="16.8"/><circle cx="37.7" cy="8.2" r="16.8"/><circle cx="23.5" cy="42.3" r="25.2"/><circle cx="35.2" cy="36.2" r="12.6"/><circle cx="48.4" cy="6.1" r="8.4"/><circle cx="8.7" cy="40.8" r="10.5"/><circle cx="20.4" cy="28.1" r="8.4"/></g><g fill="url(#glow)"><circle cx="12.2" cy="8.2" r="11.0"/><circle cx="5.1" cy="14.3" r="7.6"/><circle cx="17.8" cy="11.2" r="6.8"/><circle cx="37.7" cy="8.2" r="6.8"/><circle cx="23.5" cy="42.3" r="10.2"/><circle cx="35.2" cy="36.2" r="5.1"/><circle cx="48.4" cy="6.1" r="3.4"/><circle cx="8.7" cy="40.8" r="4.2"/><circle cx="20.4" cy="28.1" r="3.4"/></g><g fill="#e0e0e0" filter="url(#cl)"><circle cx="12.2" cy="8.2" r="4.9"/><circle cx="14.6" cy="5.1" r="4.6"/><circle cx="13.0" cy="5.4" r="3.7"/><circle cx="10.3" cy="6.2" r="3.0"/><circle cx="8.2" cy="11.0" r="4.2"/><circle cx="12.0" cy="11.6" r="4.3"/><circle cx="16.2" cy="8.9" r="3.4"/><circle cx="5.1" cy="14.3" r="3.4"/><circle cx="6.9" cy="12.9" r="3.3"/><circle cx="3.1" cy="11.4" r="2.3"/><circle cx="2.9" cy="14.6" r="2.3"/><circle cx="3.4" cy="14.1" r="2.7"/><circle cx="3.2" cy="15.6" r="2.5"/><circle cx="6.1" cy="17.2" r="2.4"/><circle cx="23.5" cy="42.3" r="4.5"/><circle cx="22.9" cy="39.3" r="3.1"/><circle cx="19.4" cy="41.9" r="3.6"/><circle cx="27.2" cy="43.9" r="3.8"/><circle cx="20.6" cy="45.3" r="3.0"/><circle cx="25.6" cy="41.8" r="2.8"/><circle cx="26.2" cy="45.8" r="3.2"/></g><g fill="#e8e8e8" filter="url(#bl)"><circle cx="17.8" cy="11.2" r="3.8"/><circle cx="19.8" cy="10.7" r="3.0"/><circle cx="18.2" cy="13.2" r="2.2"/><circle cx="37.7" cy="8.2" r="3.8"/><circle cx="36.2" cy="9.4" r="2.2"/><circle cx="38.0" cy="6.2" r="2.6"/><circle cx="35.2" cy="36.2" r="2.8"/><circle cx="33.7" cy="36.5" r="1.8"/><circle cx="36.3" cy="37.2" r="1.5"/><circle cx="48.4" cy="6.1" r="1.9"/><circle cx="8.7" cy="40.8" r="2.4"/><circle cx="20.4" cy="28.1" r="1.9"/></g></svg>
<svg x="405.9" y="284.6" width="51.0" height="51.0" viewBox="0 0 51.0 51.0"><rect width="51.0" height="51.0" fill="#0c0c0c"/><path d="M19 23Q21 26 24 25M20 23Q21 21 19 20M20 23Q16 27 14 31M19 23Q18 20 15 19M19 23Q23 25 23 29M35 13Q38 1 42 -11M35 13Q34 18 31 22M35 13Q38 12 39 15M35 13Q28 9 23 3M36 13Q35 16 36 18M35 13Q35 1 36 -10M35 13Q27 10 19 9M39 19Q44 19 48 21M39 19Q45 26 50 33M39 19Q34 18 31 22M39 20Q34 23 30 27M38 19Q38 17 39 15M39 19Q38 16 41 16M39 19Q38 17 35 18M39 19Q42 19 44 17M6 14Q8 16 7 19M6 14Q6 3 12 -8M6 14Q11 10 18 8M5 14Q12 10 19 9M6 14Q10 17 15 19M6 14Q9 3 11 -9M6 14Q-2 14 -9 10M48 21Q51 27 49 33M48 21Q49 19 50 21M48 21Q45 21 43 17M8 34Q9 40 12 45M8 33Q9 29 13 30M8 34Q6 29 7 25M8 34Q-1 43 -9 53M50 33Q39 33 30 27M49 33Q46 27 50 21M49 33Q49 38 45 40M50 33Q55 39 60 44M49 33Q51 24 58 19M42 -11Q41 2 39 15M43 -11Q45 2 42 16M42 -11Q39 -11 36 -10M43 -11Q42 3 44 17M42 -11Q34 -10 26 -11M42 -11Q51 4 58 19M36 43Q35 48 32 53M36 44Q24 43 12 45M37 43Q35 34 30 27M37 44Q41 42 45 41M36 43Q36 48 33 52M36 44Q28 38 23 30M24 24Q28 25 31 22M24 24Q26 28 30 27M24 25Q22 21 18 20M24 24Q22 27 23 29M6 19Q11 20 15 18M6 19Q-1 13 -9 10M7 19Q7 22 7 25M32 53Q23 47 12 45M32 53Q45 46 60 44M32 53Q16 58 0 63M32 53Q31 50 33 52M31 22Q32 25 29 27M31 22Q25 18 18 19M31 22Q32 19 35 18M31 22Q28 13 19 9M11 45Q12 38 13 31M11 45Q5 53 0 62M12 45Q1 49 -9 53M12 45Q19 38 24 29M12 -7Q19 -8 25 -6M12 -8Q17 -2 23 4M12 -8Q17 -1 18 8M12 -8Q12 -9 10 -9M12 -8Q19 -10 26 -11M30 27Q36 35 45 40M29 26Q25 25 23 29M50 21Q45 21 44 17M50 21Q55 22 58 20M39 16Q40 16 41 16M40 16Q39 19 36 18M25 -6Q22 -2 23 4M25 -6Q30 -9 36 -10M25 -6Q28 -8 26 -11M23 4Q22 7 18 8M23 4Q30 -2 36 -10M23 4Q22 7 19 10M18 8Q16 9 19 9M41 16Q42 17 44 17M18 20Q18 15 19 9M18 19Q17 19 15 18M45 40Q53 41 60 44M45 40Q37 44 33 52M13 31Q14 25 14 18M13 31Q10 28 7 25M13 30Q18 29 24 29M36 -10Q31 -7 26 -10M19 10Q18 14 15 19M15 19Q11 22 7 25M60 45Q47 50 33 53M60 44Q60 32 58 19M10 -9Q-2 -2 -9 10M11 -9Q19 -6 26 -10M44 17Q51 17 58 19M-9 10Q-2 19 7 25M0 62Q-3 57 -9 53M7 25Q2 40 -9 53" stroke="#dcdcdc" stroke-width="0.65" fill="none" opacity="0.62"/><path d="M19 23Q22 23 24 24M19 23Q17 22 18 20M20 23Q18 28 14 31M19 23Q15 23 15 19M20 23Q25 24 24 29M35 13Q38 1 42 -11M35 13Q33 17 31 22M35 13Q38 14 39 15M35 14Q28 10 22 4M35 13Q34 16 35 18M35 13Q35 1 35 -10M35 14Q26 14 19 10M39 20Q43 23 48 21M39 19Q44 27 50 33M39 20Q36 23 31 22M39 20Q35 22 31 22M39 19Q34 23 30 27M39 19Q41 18 40 15M39 19Q38 17 39 15M38 19Q39 17 41 16M39 19Q38 16 35 17M39 19Q40 17 44 17M6 14Q7 16 6 19M5 14Q11 4 12 -8M6 14Q10 8 18 8M6 14Q12 12 19 9M6 14Q10 17 15 19M6 14Q11 3 11 -9M6 14Q-1 9 -9 10M48 21Q47 27 49 33M48 21Q49 18 50 21M48 21Q49 20 50 21M49 21Q46 19 44 17M8 34Q12 39 12 45M8 34Q10 31 14 31M8 34Q5 30 7 25M8 34Q0 44 -9 53M50 33Q40 30 30 27M50 33Q53 27 50 21M49 33Q49 38 45 40M49 33Q56 38 60 45M49 33Q55 27 58 19M42 -11Q43 2 39 15M42 -11Q45 2 41 16M42 -12Q38 -14 35 -11M42 -11Q42 3 43 17M42 -11Q34 -8 26 -10M42 -11Q50 4 58 20M36 43Q33 48 32 53M36 43Q24 42 12 45M36 43Q24 40 12 44M36 43Q32 35 29 27M36 43Q40 40 45 40M37 43Q37 48 33 52M36 43Q31 35 24 29M37 43Q32 34 24 29M24 25Q28 25 31 22M24 25Q25 29 29 27M24 24Q20 24 18 20M24 24Q22 27 24 29M6 19Q11 17 15 19M6 19Q11 16 15 19M6 19Q-2 15 -9 10M7 19Q7 22 7 25M32 53Q21 51 12 45M32 53Q22 47 12 45M32 53Q46 48 60 44M32 53Q16 58 0 63M32 53Q33 53 33 52M32 53Q31 50 33 52M31 22Q30 24 30 27M31 22Q33 25 30 27M31 22Q24 25 18 20M31 22Q34 20 35 17M31 22Q24 17 19 9M31 22Q26 15 19 10M12 45Q13 38 14 31M12 45Q5 53 0 63M12 45Q2 51 -9 53M12 45Q2 52 -9 53M11 45Q15 35 23 29M12 -8Q18 -6 25 -6M12 -8Q19 -3 23 3M13 -8Q16 0 19 8M12 -8Q13 1 19 8M12 -8Q10 -7 11 -9M12 -7Q20 -6 26 -10M29 27Q35 36 45 41M30 27Q26 26 24 29M50 21Q48 18 44 17M50 21Q54 18 58 19M50 21Q54 21 58 20M39 15Q40 16 41 16M39 15Q38 17 35 18M25 -6Q25 -1 23 4M25 -6Q29 -10 36 -10M25 -6Q28 -8 26 -11M25 -6Q27 -8 26 -11M22 3Q18 3 18 8M23 4Q31 -2 36 -10M23 4Q21 7 19 10M23 4Q19 6 19 9M18 8Q18 9 18 10M41 16Q43 15 44 17M19 20Q20 15 19 9M18 20Q17 18 15 19M45 40Q53 42 60 44M45 40Q39 46 33 52M14 31Q14 25 15 19M13 31Q10 28 7 25M13 31Q19 30 24 30M36 -11Q31 -14 26 -11M19 10Q17 14 15 19M15 18Q10 20 7 25M60 44Q47 49 33 52M60 44Q58 32 58 19M10 -9Q-2 -2 -9 10M11 -9Q18 -8 26 -11M44 16Q51 14 58 19M-9 10Q1 15 7 25M0 63Q-5 58 -9 53M7 25Q-4 38 -9 53M7 25Q0 39 -9 53" stroke="#dcdcdc" stroke-width="0.45" fill="none" opacity="0.56"/><path d="M51 43Q53 52 54 57M1 1Q2 8 11 14M6 42Q1 47 -6 59M11 31Q19 40 25 55M15 12Q15 3 7 -2M33 27Q37 28 45 24M1 35Q-5 35 -8 36M32 5Q20 -9 15 -23M31 35Q12 31 -2 34M54 29Q52 23 46 16M42 7Q39 13 42 23M46 15Q48 19 56 18M45 16Q44 14 38 8M40 43Q27 51 20 55M13 36Q7 32 2 33M-4 -2Q-14 -6 -24 -15M40 -3Q25 3 18 14M44 14Q34 28 31 49M54 15Q56 22 52 34M-2 2Q3 5 9 9M5 44Q6 28 9 14M18 -2Q15 9 17 23M28 8Q26 0 28 -16M30 8Q36 10 42 8M19 2Q37 12 50 16M24 -3Q17 -19 16 -30M12 12Q5 29 4 45M53 3Q42 3 34 0M39 1Q45 1 55 5M7 22Q11 21 19 17M-1 48Q-17 50 -35 55M50 39Q64 38 79 34M20 28Q13 32 9 38M6 44Q1 38 -10 28M28 29Q30 17 36 10M31 29Q40 31 54 31M53 9Q54 5 59 4M26 24Q29 17 26 13M-2 49Q4 58 12 70M38 35Q37 50 33 71M51 38Q49 52 46 60M25 18Q11 13 -1 12M54 53Q49 46 38 38M33 10Q37 1 34 -12M-3 -3Q-17 -8 -32 -5M42 7Q47 13 57 16M15 23Q10 32 10 36M43 27Q47 15 53 6M13 43Q14 26 12 5M54 24Q68 8 78 -3M32 9Q27 13 24 18M2 29Q13 33 20 41M16 24Q19 15 23 10M44 26Q41 37 46 49M34 44Q30 60 28 82M-2 9Q-23 2 -36 -7M41 52Q42 40 49 29M55 -3Q68 -14 79 -25M-2 45Q-11 52 -26 50M4 25Q4 35 0 47M2 24Q3 16 0 1M8 17Q4 19 -5 27M44 29Q34 33 32 35M42 29Q48 26 54 23M37 30Q22 30 6 30M31 12Q17 -2 10 -15M15 49Q25 40 32 33M0 0Q-1 12 -3 21M-4 3Q-17 12 -37 15M45 28Q50 38 62 41M56 34Q42 33 28 37M1 25Q-3 41 -3 52M54 11Q61 4 64 -2M42 20Q40 28 35 29M42 8Q33 12 17 13M23 35Q19 34 13 30M14 -3Q-3 -7 -16 -6M9 41Q2 34 -7 34M55 43Q63 53 67 56M21 8Q1 8 -16 16M52 11Q62 10 76 1M34 19Q35 30 30 34M29 6Q16 4 0 0M21 32Q29 33 29 28M5 13Q11 10 18 10M52 54Q65 57 78 60M55 9Q59 20 55 29M5 12Q1 7 1 4M34 7Q40 3 40 0M8 29Q16 18 26 1M35 1Q52 -8 66 -16M2 14Q7 22 8 22M33 7Q27 10 15 11M48 55Q36 48 22 46M49 49Q53 43 64 38M35 37Q36 43 34 49M48 44Q51 32 54 18M20 9Q24 6 19 -1M50 11Q63 7 69 11M26 14Q39 9 47 0M52 48Q46 39 39 30M4 43Q-5 58 -7 68M21 -3Q33 11 52 19M18 54Q27 64 28 71M12 33Q29 19 41 8M27 19Q12 6 -4 1M48 4Q45 4 36 -3M48 39Q45 31 49 30M32 4Q29 10 21 20M8 31Q22 22 38 19M19 23L13 9M19 23L32 17M19 23L36 29M19 23L15 32M19 23L32 34M19 23L42 15M35 13L49 37M35 13L47 18M35 13L46 33M35 13L49 -1M35 13L25 18M35 13L38 2M39 19L54 -2M39 19L48 25M39 19L34 10M39 19L24 26M6 14L21 -5M6 14L7 2M6 14L-5 0M48 21L48 35M48 21L54 5M48 21L37 11M8 34L-12 33M8 34L-4 16M8 34L12 40" stroke="#dcdcdc" stroke-width="0.35" fill="none" opacity="0.46"/><rect width="51.0" height="51.0" filter="url(#grain)" opacity="0.16"/><path d="M12.3 28.4h.6M23.4 17h.6M35.1 46.9h.6M27.2 8.9h.6M18.9 34h.6M38.2 35.2h.6M18.7 7.2h.6M31.4 19.3h.6M2.9 9.5h.6M29.1 9.4h.6M22.5 41.2h.6M12.1 12.6h.6M14.4 50.4h.6M46.5 40.7h.6M32.8 6h.6M44.8 50.2h.6M24.3 9.5h.6M36 8h.6M17 2.5h.6M30.7 1.1h.6M13.9 19.5h.6M43.4 49.8h.6M14.6 46.3h.6M4.3 33.4h.6M40.9 21.2h.6M49.6 32.9h.6M1 36.7h.6M6.7 21.6h.6M37.5 21.3h.6" stroke="#fff" stroke-width=".6" opacity=".8"/><path d="M7.9 10.4h1M23.6 45.8h1M22.4 39.1h1M42.5 2.5h1M19.7 .8h1M5.4 30h1M42.6 6.3h1M40 48.1h1M22.2 42.5h1M23 8.2h1M46.2 39.1h1M26.8 26.2h1M47.9 22.3h1M50.6 40.4h1M9.3 10.2h1M30.7 9.3h1M12.8 42.6h1M15.8 22.9h1M4.6 42h1M34.2 44h1M25.9 13.3h1M3.5 33.5h1M27.9 3.6h1M43.2 10.6h1M23.4 2.7h1M44.7 42.2h1M43.4 25.2h1M34.6 44.3h1M50.7 33.2h1M5.7 36.9h1M7.5 12.6h1" stroke="#fff" stroke-width="1" opacity=".8"/><g fill="url(#glow)"><circle cx="19.4" cy="22.9" r="7.6"/><circle cx="35.2" cy="13.3" r="7.6"/><circle cx="38.8" cy="19.4" r="5.7"/><circle cx="5.6" cy="14.3" r="3.8"/><circle cx="48.4" cy="20.9" r="4.8"/><circle cx="8.2" cy="33.7" r="3.8"/></g><g fill="#e8e8e8" filter="url(#bl)"><circle cx="19.4" cy="22.9" r="3.8"/><circle cx="20.5" cy="21.3" r="2.9"/><circle cx="21.1" cy="24.0" r="2.3"/><circle cx="35.2" cy="13.3" r="3.8"/><circle cx="33.3" cy="12.6" r="2.4"/><circle cx="34.9" cy="15.2" r="2.7"/><circle cx="38.8" cy="19.4" r="2.8"/><circle cx="37.8" cy="18.2" r="1.8"/><circle cx="38.9" cy="20.9" r="2.1"/><circle cx="5.6" cy="14.3" r="1.9"/><circle cx="48.4" cy="20.9" r="2.4"/><circle cx="8.2" cy="33.7" r="1.9"/></g></svg>
<svg x="460.6" y="284.6" width="51.0" height="51.0" viewBox="0 0 51.0 51.0"><rect width="51.0" height="51.0" fill="#0c0c0c"/><path d="M28 14Q22 17 20 23M28 14Q26 13 28 13M28 14Q21 15 13 13M28 14Q38 19 46 26M28 14Q36 24 39 36M28 15Q21 17 13 18M28 15Q30 14 31 14M26 6Q21 2 19 -4M25 6Q24 11 28 13M25 6Q19 8 13 13M25 6Q20 2 20 -5M26 6Q32 1 33 -7M25 6Q28 8 31 8M25 6Q32 5 37 1M25 6Q20 8 14 5M48 2Q49 -1 52 0M48 3Q49 15 46 26M49 2Q47 -1 45 1M20 23Q14 26 12 32M20 23Q16 23 12 22M20 23Q28 32 39 36M20 23Q24 30 24 38M20 23Q17 20 13 17M12 33Q14 27 12 22M12 33Q13 40 14 48M12 33Q7 31 4 34M12 32Q17 37 25 38M-8 -6Q-1 -8 6 -12M-8 -5Q-10 9 -7 22M-8 -6Q-3 -6 2 -6M19 -4Q19 -5 21 -5M19 -4Q18 -7 16 -10M19 -4Q10 -4 2 -5M18 -4Q18 1 14 5M56 -9Q53 -5 52 0M56 -9Q54 -7 56 -5M55 -9Q49 -4 44 1M56 -9Q45 -9 35 -11M28 12Q21 12 13 13M28 13Q30 11 31 8M28 13Q30 11 31 13M52 0Q53 -4 56 -5M51 0Q46 13 45 26M52 0Q49 4 45 2M52 0Q56 18 57 36M13 13Q12 15 11 18M13 13Q16 15 13 17M13 13Q3 16 -7 22M13 13Q9 3 2 -5M13 13Q13 9 14 5M6 -12Q12 -14 16 -10M7 -12Q7 -7 3 -5M6 -12Q21 -15 35 -11M21 -6Q27 -4 33 -7M21 -5Q19 -8 16 -10M21 -6Q28 -7 35 -11M32 -7Q35 -3 37 1M33 -7Q36 -8 35 -11M12 22Q5 26 4 34M12 22Q13 20 12 18M12 22Q11 19 13 17M12 22Q3 23 -6 23M-1 48Q-4 54 -10 57M-1 48Q6 52 14 48M-1 47Q4 42 4 34M-2 47Q-2 34 -7 22M-11 56Q0 48 14 48M-10 56Q-11 39 -6 22M31 8Q39 6 45 2M31 8Q32 2 37 1M31 8Q28 11 31 13M51 45Q44 42 40 36M51 45Q45 51 38 55M51 46Q52 51 49 56M51 46Q52 40 56 36M14 48Q6 43 3 34M14 48Q21 48 28 49M14 48Q25 54 38 55M14 48Q21 45 25 38M14 49Q22 49 28 43M3 34Q-4 30 -7 22M28 48Q33 52 38 54M28 49Q27 45 28 42M12 17Q11 14 13 17M12 18Q3 21 -7 22M46 27Q43 32 40 36M46 26Q49 14 45 2M46 26Q39 19 31 13M46 26Q50 32 56 36M39 36Q38 45 38 55M39 36Q32 39 25 38M39 36Q35 41 28 42M39 36Q48 39 56 36M38 55Q44 56 50 57M38 55Q35 47 28 42M24 38Q23 43 28 42M16 -10Q9 -9 2 -6M16 -9Q26 -8 35 -11M45 1Q41 2 37 0M45 2Q39 9 31 13M45 2Q41 -6 35 -11M50 57Q55 47 57 36M37 1Q38 -5 35 -11M-6 22Q-1 9 2 -5M2 -6Q11 -3 15 5" stroke="#dcdcdc" stroke-width="0.65" fill="none" opacity="0.62"/><path d="M28 14Q25 19 20 23M28 14Q23 17 20 23M28 14Q25 13 28 13M28 14Q21 14 13 13M28 14Q38 19 46 26M28 14Q34 25 39 36M28 14Q21 16 13 17M28 14Q21 15 13 17M28 14Q30 15 31 13M28 14Q29 12 31 13M26 6Q22 1 19 -4M25 6Q27 10 28 13M25 6Q18 8 13 13M26 6Q23 0 21 -5M26 6Q29 -1 33 -7M26 6Q28 -1 33 -7M26 6Q29 6 31 8M25 6Q31 2 37 1M25 6Q20 3 14 5M49 3Q53 4 52 0M49 3Q49 15 46 26M48 3Q47 0 45 2M20 23Q15 27 12 33M20 23Q16 23 12 22M20 23Q29 31 39 36M20 23Q21 31 25 38M20 23Q17 19 13 17M11 33Q14 27 11 22M11 33Q14 40 13 48M12 33Q8 36 4 34M12 32Q19 33 25 38M12 32Q18 35 25 38M-8 -6Q-1 -10 6 -12M-8 -5Q-1 -10 6 -12M-8 -5Q-9 9 -6 22M-8 -5Q-3 -5 2 -5M19 -4Q22 -2 21 -5M19 -4Q21 -8 16 -10M19 -4Q10 -5 2 -6M19 -4Q19 2 15 5M56 -9Q56 -4 52 0M55 -9Q52 -7 55 -5M56 -9Q52 -2 45 2M56 -9Q46 -12 35 -11M28 13Q21 14 13 13M28 13Q29 10 31 8M28 12Q29 14 31 13M52 0Q55 -2 56 -5M52 0Q48 13 45 26M52 0Q48 -2 45 1M52 0Q57 18 57 36M13 13Q13 16 12 18M14 13Q13 15 14 17M13 13Q14 15 13 17M13 13Q4 19 -6 23M13 13Q8 3 2 -5M13 13Q14 9 14 5M6 -12Q11 -9 16 -10M6 -12Q11 -11 16 -10M6 -12Q2 -10 2 -5M6 -12Q21 -14 35 -11M21 -5Q27 -3 33 -6M20 -5Q16 -4 16 -9M21 -5Q27 -10 35 -11M33 -7Q35 -3 38 1M33 -7Q37 -7 35 -11M12 22Q7 27 4 34M12 22Q12 20 12 18M11 22Q9 20 11 18M12 22Q14 20 13 17M12 21Q3 23 -7 22M-1 47Q-7 51 -10 56M-1 47Q6 44 14 48M-1 47Q3 41 4 34M-1 47Q-5 35 -6 22M-10 56Q1 49 14 48M-10 56Q2 53 14 48M-10 56Q-6 40 -6 22M31 8Q39 6 45 2M31 8Q31 2 37 1M31 8Q31 11 31 13M51 46Q43 43 39 36M51 45Q45 51 38 54M51 46Q46 52 38 55M51 46Q50 51 50 57M51 46Q50 51 50 57M51 46Q53 41 56 36M13 48Q7 42 3 34M14 48Q21 50 28 49M14 48Q21 47 28 49M14 48Q26 51 38 54M14 48Q19 43 24 38M14 48Q19 41 28 42M4 34Q-3 29 -6 22M27 49Q31 54 38 55M27 49Q28 45 28 42M28 49Q30 46 28 42M12 18Q12 16 13 18M12 18Q3 22 -6 22M46 26Q42 31 39 36M46 26Q43 14 45 2M46 26Q49 14 45 2M46 26Q40 18 31 13M46 26Q50 32 56 36M39 36Q37 45 38 55M39 36Q32 37 24 38M40 36Q34 39 28 43M39 36Q48 37 56 36M38 55Q44 56 50 56M38 55Q33 49 28 42M25 38Q27 40 28 42M25 38Q26 41 28 42M16 -9Q9 -9 2 -5M16 -9Q9 -8 2 -5M16 -10Q26 -11 35 -11M45 1Q41 0 37 0M44 1Q37 6 31 13M45 2Q39 -4 35 -11M50 57Q54 47 57 36M37 1Q37 -5 35 -11M-6 22Q-1 9 2 -5M-6 22Q0 9 2 -5M2 -5Q7 1 14 5" stroke="#dcdcdc" stroke-width="0.45" fill="none" opacity="0.56"/><path d="M46 21Q52 10 56 5M53 17Q49 18 49 26M29 55Q40 57 52 56M-1 6Q-7 14 -12 21M19 17Q22 16 29 13M17 7Q25 2 31 -9M52 22Q44 27 43 25M53 19Q59 2 68 -7M32 2Q17 4 10 10M13 38Q19 49 28 59M48 33Q49 26 55 20M9 14Q10 6 11 0M33 23Q45 14 51 12M19 23Q36 32 47 43M29 27Q31 35 30 37M22 32Q7 23 -2 13M50 20Q49 12 50 10M23 34Q29 36 32 43M54 44Q46 45 43 50M45 13Q44 14 37 8M42 32Q47 35 54 34M5 -3Q2 10 6 16M22 1Q18 0 13 -3M20 5Q19 -1 14 -7M40 53Q33 48 27 42M51 4Q55 19 55 34M55 31Q62 26 68 26M50 2Q44 10 45 15M33 36Q33 50 36 63M51 56Q59 58 65 63M54 33Q60 29 62 32M26 55Q36 59 46 64M14 41Q9 36 6 32M41 24Q36 36 31 51M47 9Q34 24 24 37M1 -4Q-2 -15 -4 -23M6 6Q2 -3 -1 -7M42 28Q41 16 41 8M30 46Q41 46 50 43M-5 51Q3 48 10 50M32 22Q31 15 28 5M16 55Q17 55 24 58M25 36Q22 28 18 25M12 19Q2 25 -7 23M37 15Q44 24 47 26M13 1Q-1 16 -11 28M28 24Q35 26 43 28M1 25Q13 20 24 11M55 3Q60 4 58 11M28 24Q25 17 16 12M19 33Q26 42 27 59M36 49Q33 41 24 37M28 19Q36 24 37 28M53 1Q51 2 44 5M41 29Q37 24 29 14M35 5Q43 19 45 35M20 22Q14 20 10 12M31 42Q29 56 30 68M5 25Q11 30 16 30M36 19Q27 17 21 20M9 48Q11 54 20 59M18 41Q26 39 27 36M38 50Q50 49 65 42M16 7Q9 16 -4 23M14 42Q31 40 43 38M15 17Q9 6 11 -8M34 42Q45 37 63 39M52 -2Q62 3 79 10M7 11Q6 14 12 25M8 15Q16 22 17 25M30 36Q31 47 32 57M16 48Q20 44 25 39M45 4Q49 8 47 16M33 1Q33 14 36 29M49 10Q49 9 56 5M12 42Q7 27 2 16M47 51Q51 42 56 40M43 -2Q55 10 70 20M38 39Q51 43 62 40M39 4Q56 0 72 -5M30 37Q37 33 36 30M48 12Q41 14 32 12M23 2Q21 5 11 5M28 31Q25 48 17 59M34 48Q24 42 19 40M35 14Q47 23 63 33M38 14Q22 8 3 6M49 31Q44 18 45 1M3 49Q12 63 22 71M48 12Q50 9 51 2M52 16Q45 27 40 42M55 30Q65 36 77 37M33 11Q40 2 43 -3M-1 8Q-4 -5 -11 -13M6 0Q5 8 -3 12M41 -5Q39 -5 33 -5M5 13Q-4 34 -6 48M55 49Q56 68 60 82M4 55Q18 46 27 36M7 23Q12 34 23 51M54 29Q42 22 31 22M0 23Q-12 28 -32 28M26 6Q12 13 6 17M55 11Q64 7 71 -2M30 28Q41 43 46 59M20 3Q11 -7 -5 -17M12 4Q19 10 24 13M49 49Q36 60 28 71M54 20Q58 5 57 -11M41 53Q33 56 27 57M28 14L17 6M28 14L22 6M28 14L32 37M28 14L13 -4M28 14L6 10M28 14L35 28M28 14L29 -8M28 14L31 22M28 14L24 25M26 6L22 1M26 6L18 -7M26 6L34 -12M26 6L37 -9M48 3L75 -5M48 3L62 -1M48 3L71 -3M48 3L73 -7M20 23L13 11M20 23L26 19M20 23L24 18M12 33L4 38M12 33L-4 11M12 33L15 53" stroke="#dcdcdc" stroke-width="0.35" fill="none" opacity="0.46"/><rect width="51.0" height="51.0" filter="url(#grain)" opacity="0.16"/><path d="M50.9 28h.6M1.5 3.3h.6M26.4 6.5h.6M17.2 26.5h.6M45.6 18.6h.6M34 33.7h.6M21.6 18.1h.6M14 6h.6M7.4 34.4h.6M40.5 43.6h.6M49.2 34h.6M50.5 26.7h.6M24.4 19.4h.6M.9 37.3h.6M19.9 42.9h.6M44 4.2h.6M23.9 27.5h.6M42.1 19.5h.6M27.4 16.2h.6M3.9 17.5h.6M37.7 19.2h.6M16.1 10.3h.6M44.5 36.9h.6M47.2 3.2h.6M20.3 6.9h.6M47.3 33.6h.6M47.5 31.1h.6M15.8 10.8h.6M7.2 39.7h.6M50.8 2.5h.6M33.2 33.1h.6M21.8 14.8h.6" stroke="#fff" stroke-width=".6" opacity=".8"/><path d="M13.6 8.3h1M48.1 46.3h1M49.2 50.8h1M21.2 31.8h1M11 29.5h1M8.6 13.8h1M28 18.6h1M5.9 34.3h1M49.8 13h1M38.3 28.6h1M16.5 25.1h1M29.9 32.9h1M27.1 14.9h1M48.8 8.9h1M.2 48.5h1M12.5 1.8h1M21.9 12.1h1M31.2 3.3h1M45 36.2h1M2.8 11.6h1M4.7 21.5h1M30.5 21.6h1M18 18.1h1M39 19h1M11.5 23.9h1M28.2 29.3h1M46.4 3.6h1M41.2 2.7h1" stroke="#fff" stroke-width="1" opacity=".8"/><g fill="url(#glow)"><circle cx="28.1" cy="14.3" r="11.4"/><circle cx="25.5" cy="6.1" r="5.7"/><circle cx="48.4" cy="2.6" r="5.7"/><circle cx="19.9" cy="22.9" r="3.8"/><circle cx="11.7" cy="32.6" r="3.8"/></g><g fill="#e0e0e0" filter="url(#cl)"><circle cx="28.1" cy="14.3" r="4.5"/><circle cx="27.1" cy="12.1" r="3.3"/><circle cx="30.3" cy="13.0" r="3.4"/><circle cx="25.3" cy="12.8" r="3.5"/><circle cx="26.2" cy="14.1" r="3.5"/><circle cx="31.7" cy="15.5" r="3.2"/><circle cx="29.6" cy="16.7" r="2.9"/></g><g fill="#e8e8e8" filter="url(#bl)"><circle cx="25.5" cy="6.1" r="2.8"/><circle cx="26.5" cy="7.3" r="2.0"/><circle cx="25.0" cy="7.5" r="2.2"/><circle cx="48.4" cy="2.6" r="2.8"/><circle cx="47.2" cy="3.3" r="1.9"/><circle cx="49.1" cy="1.2" r="1.9"/><circle cx="19.9" cy="22.9" r="1.9"/><circle cx="11.7" cy="32.6" r="1.9"/></g></svg>
<svg x="22.4" y="340.3" width="51.0" height="51.0" viewBox="0 0 51.0 51.0"><rect width="51.0" height="51.0" fill="#040404"/><path d="M17 46Q14 51 11 54M36 -1Q26 3 23 -1M38 17Q37 0 43 -14M14 -2Q13 -17 13 -36M28 20Q11 13 -1 6M3 28Q-4 22 -5 9M42 45Q52 59 63 77M13 0Q23 -16 26 -34" stroke="#dcdcdc" stroke-width="0.35" fill="none" opacity="0.22"/><path d="M19 33.9h.6M2.2 31h.6M35.4 39.9h.6M37.5 34.9h.6" stroke="#fff" stroke-width=".6" opacity=".8"/><path d="M27.2 16.7h1M43.8 16.8h1" stroke="#fff" stroke-width="1" opacity=".8"/></svg>
<svg x="77.2" y="340.3" width="51.0" height="51.0" viewBox="0 0 51.0 51.0"><rect width="51.0" height="51.0" fill="#0a0a0a"/><rect y="9.2" width="51.0" height="28.1" fill="url(#fade)"/><path d="M0 0H51.0V7.6C40.8 7.6 33.1 11.2 25.5 11.2C15.3 11.2 7.6 9.7 0 9.7Z" fill="#dedede" filter="url(#soft)"/><path d="M49 16Q52 1 58 -19M15 5Q4 19 -2 30M16 5Q7 13 -1 14M51 9Q68 10 77 7M27 10Q45 -1 61 -6M45 42Q63 31 72 16M19 27Q5 30 -12 27M26 31Q45 29 57 24M3 21Q-2 25 -1 36M24 43Q37 25 49 15M7 -2Q14 -8 19 -14M31 47Q29 42 25 38" stroke="#dcdcdc" stroke-width="0.35" fill="none" opacity="0.34"/><path d="M8.5 44.2h.6M2.2 44.9h.6M41.3 11.8h.6" stroke="#fff" stroke-width=".6" opacity=".8"/><path d="M13.7 12.3h1M4.2 40.6h1M18.6 35.7h1M31.5 13.8h1M34.9 42.7h1M.5 8.5h1M29.5 2.5h1M43.7 38.3h1M18.5 9.7h1" stroke="#fff" stroke-width="1" opacity=".8"/></svg>
<svg x="132.0" y="340.3" width="51.0" height="51.0" viewBox="0 0 51.0 51.0"><rect width="51.0" height="51.0" fill="#050505"/><path d="M49 41Q47 45 50 48M48 41Q41 42 34 40M48 41Q51 45 56 44M49 48Q36 44 24 38M49 49Q40 47 34 41M49 48Q53 47 56 44M24 38Q29 42 34 41" stroke="#dcdcdc" stroke-width="0.65" fill="none" opacity="0.40"/><path d="M44 -1Q44 9 45 27M45 35Q32 40 23 44M4 36Q9 34 17 30M48 5Q36 10 28 22M41 33Q27 27 19 21M25 26Q27 32 30 35M36 52Q28 59 22 66M36 48Q49 57 57 62M21 -1Q18 9 10 23M15 17Q31 23 50 29M54 43Q54 61 49 78M22 47Q33 43 47 33M35 52Q44 38 47 25M32 41Q29 43 21 45M23 28Q17 42 14 60M33 25Q31 29 29 34M28 34Q24 40 27 44M52 40Q55 39 63 35M20 21Q26 14 25 12M31 35Q16 27 4 24M35 53Q44 51 46 57M3 26Q-4 41 -10 52M2 8Q11 22 13 38M9 -1Q20 20 24 34M6 0Q24 2 36 -2M48 -4Q61 -16 65 -22M19 3Q23 -10 21 -23M43 17Q44 15 52 21M40 40Q53 36 71 37M17 16Q30 27 38 39M30 32Q19 30 6 21M13 0Q22 13 30 20M28 50Q31 44 38 35M20 5Q40 11 52 14M3 -4Q-1 -11 -12 -18M37 -3Q53 4 67 5M18 29Q3 34 -13 34M4 35Q-7 43 -18 58M-4 26Q9 35 17 48M41 36Q39 33 31 33M-1 42Q16 36 30 33M54 24Q50 12 48 -7M20 37Q21 41 23 52M37 6Q33 26 23 39M42 15Q35 32 27 43M51 22Q63 36 71 51M34 36Q25 39 17 35M48 50Q57 48 69 40M-5 48Q5 50 22 55M1 26Q-16 34 -32 37M48 41L72 28M48 41L36 64M48 41L51 56M48 41L64 31M48 41L52 55M48 41L38 65M48 41L38 15M49 48L34 26M49 48L56 63M49 48L57 63M49 48L24 47" stroke="#dcdcdc" stroke-width="0.35" fill="none" opacity="0.30"/><path d="M16 24.9h.6M45 35.1h.6M27.1 10.6h.6M10.8 14.1h.6M20.3 44.4h.6M39.3 45h.6M51.2 23.1h.6M54.2 50.5h.6M39.8 30h.6M29.3 45.4h.6" stroke="#fff" stroke-width=".6" opacity=".8"/><path d="M32 29.3h1M49.7 52.1h1M9.2 19.5h1M37.4 27.9h1M16.6 43.8h1M49.4 50.4h1M36 29.9h1M55.2 29.8h1M52.9 31.3h1M28.4 30.1h1M45.4 40.2h1M21.2 26.4h1M58 71.8h1M46.9 52h1M37.7 6.4h1M50.9 33.1h1M1.1 28h1M56.5 54.3h1M26.9 3.2h1M12 16.9h1" stroke="#fff" stroke-width="1" opacity=".8"/><g fill="url(#glow)"><circle cx="48.4" cy="40.8" r="9.5"/><circle cx="49.5" cy="48.4" r="5.7"/></g><g fill="#e0e0e0" filter="url(#cl)"><circle cx="48.4" cy="40.8" r="3.8"/><circle cx="49.3" cy="38.7" r="3.5"/><circle cx="49.6" cy="44.4" r="3.2"/><circle cx="46.8" cy="38.5" r="3.6"/><circle cx="46.9" cy="42.4" r="3.7"/><circle cx="49.2" cy="39.2" r="3.6"/><circle cx="47.9" cy="43.8" r="2.5"/></g><g fill="#e8e8e8" filter="url(#bl)"><circle cx="49.5" cy="48.4" r="2.8"/><circle cx="50.8" cy="49.2" r="2.0"/><circle cx="50.8" cy="49.2" r="1.6"/></g></svg>
<svg x="186.7" y="340.3" width="51.0" height="51.0" viewBox="0 0 51.0 51.0"><rect width="51.0" height="51.0" fill="#030303"/><path d="M28.2 22.1h.6M49.2 50.5h.6M10.8 29.7h.6M25.1 21.2h.6M30.5 9.4h.6M5.6 9.1h.6M23.9 19.5h.6M11.7 49.1h.6M19.9 27.5h.6M44.5 1.4h.6M37.9 8.6h.6" stroke="#fff" stroke-width=".6" opacity=".8"/><path d="M9.2 40h1M22 37.4h1M6.7 .6h1M49.6 19.5h1M39 28.9h1" stroke="#fff" stroke-width="1" opacity=".8"/></svg>
<svg x="241.5" y="340.3" width="51.0" height="51.0" viewBox="0 0 51.0 51.0"><rect width="51.0" height="51.0" fill="#030303"/><path d="M24.1 8h.6M39 19.7h.6M24.4 26.3h.6" stroke="#fff" stroke-width=".6" opacity=".8"/><path d="M29.5 23.3h1M4.5 34.5h1" stroke="#fff" stroke-width="1" opacity=".8"/></svg>
<svg x="296.3" y="340.3" width="51.0" height="51.0" viewBox="0 0 51.0 51.0"><rect width="51.0" height="51.0" fill="#050505"/><path d="M28 29Q24 34 21 40M28 29Q38 24 44 14M28 29Q38 28 47 31M28 29Q31 36 30 43M28 29Q28 26 25 24M28 29Q21 31 13 29M28 29Q32 35 35 41M20 40Q25 42 31 43M20 40Q18 34 13 29M20 40Q4 35 -12 26M44 14Q46 23 47 31M44 14Q35 20 25 24M44 14Q50 30 59 44M44 14Q49 26 54 38M44 15Q26 11 8 10M48 31Q48 40 46 49M47 31Q40 35 34 41M48 31Q51 34 54 37M30 44Q37 48 46 49M30 43Q33 44 34 41M25 24Q18 25 13 29M25 24Q17 16 8 9M46 48Q42 42 35 41M46 48Q51 43 59 43M46 49Q48 42 53 38M14 29Q9 20 8 9M13 29Q1 27 -12 26M14 29Q6 20 0 9M59 44Q56 41 54 38M8 9Q4 12 0 9M-12 26Q-9 15 0 9" stroke="#dcdcdc" stroke-width="0.65" fill="none" opacity="0.42"/><path d="M28 29Q26 27 25 24M44 14Q33 17 25 24M44 14Q53 29 59 44M44 15Q26 11 8 10M48 31Q53 32 54 37M31 44Q33 44 35 42M25 24Q19 26 13 29M46 49Q41 44 35 41M59 44Q57 40 54 38M-11 26Q-6 18 0 9" stroke="#dcdcdc" stroke-width="0.45" fill="none" opacity="0.38"/><path d="M10 5Q16 -5 22 -15M52 0Q46 9 41 15M49 37Q51 44 52 49M29 21Q20 10 16 3M16 14Q14 26 18 46M32 36Q25 44 20 53M9 56Q-5 54 -16 47M3 2Q3 13 2 25M4 51Q-4 54 -17 58M3 14Q12 22 27 36M15 35Q18 49 23 59M10 5Q27 6 37 16M9 13Q1 13 -7 11M-2 30Q-9 32 -9 35M10 49Q19 67 31 78M11 38Q-6 30 -18 27M40 12Q44 1 44 -4M43 23Q48 36 50 49M-1 11Q-3 6 -5 3M11 41Q1 43 -8 46M23 23Q29 21 33 17M20 20Q23 23 24 32M39 34Q52 45 65 56M8 -1Q-13 5 -27 8M-2 15Q3 17 11 18M-2 10Q0 17 1 21M51 49Q67 40 82 38M44 23Q53 24 61 26M43 37Q39 23 29 10M15 -3Q35 -4 50 -6M2 24Q0 22 -6 24M36 47Q33 59 36 66M14 40Q29 54 38 61M26 -2Q24 -11 17 -25M21 43Q6 53 -2 55M36 1Q43 -2 56 -6M30 28Q31 21 26 21M29 25Q23 30 21 39M47 30Q55 30 66 28M52 21Q50 8 55 -11M-1 18Q14 23 36 27M-3 2Q-7 -5 -3 -8M13 4Q16 -9 20 -27M-2 3Q-7 -2 -18 0M26 0Q18 11 9 28M32 28Q37 39 50 49M13 14Q5 27 4 39M9 36Q2 46 2 55M7 35Q-10 23 -20 14M54 8Q50 12 39 20M53 53Q46 42 39 36M20 7Q15 -9 16 -21M42 -5Q37 -7 32 -16M47 13Q49 10 44 4M6 -2Q6 -16 10 -23M39 -5Q27 -14 19 -16M55 11Q57 -6 57 -16M-5 41Q-5 35 -5 30M35 40Q37 33 38 30M4 20Q1 17 -4 8M28 29L44 39M28 29L3 31M28 29L47 26M28 29L32 24M28 29L25 12M28 29L21 55M28 29L28 13M28 29L11 33M28 29L36 36M20 40L13 23M20 40L13 44M20 40L5 40M20 40L14 58M20 40L38 43M20 40L26 57M20 40L24 26M20 40L23 55M20 40L37 27M20 40L27 54M44 14L49 -11M44 14L41 22M44 14L34 26M44 14L49 11M44 14L23 31M44 14L45 22M47 31L49 24M47 31L38 24M47 31L65 20M47 31L51 16M47 31L24 33M47 31L50 24M31 43L21 35M31 43L47 36M31 43L54 46M31 43L20 61" stroke="#dcdcdc" stroke-width="0.35" fill="none" opacity="0.32"/><rect width="51.0" height="51.0" filter="url(#grain)" opacity="0.08"/><path d="M35.6 49.2h.6M43.2 15.1h.6M26.2 52.4h.6M34.6 3.3h.6M37.2 24.8h.6M28.5 21.8h.6M26.3 7.8h.6M48.6 25.4h.6M20.5 22.6h.6M9.6 13.7h.6M25.6 -13h.6M26.5 42.3h.6M31.7 47.8h.6M29.6 33.5h.6M26.6 21.2h.6M26.2 45.6h.6M43.6 42.1h.6M48.9 26.4h.6M32.8 43.3h.6M1 30.8h.6M32.3 6.8h.6M21 40.1h.6M18.8 4.5h.6M33.9 41.9h.6M42.3 14.4h.6M13.7 39.7h.6M43.5 20h.6M7.3 17.2h.6M8.3 19.4h.6M35.4 38.7h.6M11.8 42.5h.6M34.1 -12.6h.6M25.2 50.2h.6M-4.9 38.5h.6M37.2 35.9h.6M26.4 50.3h.6M52.6 -3h.6M32.3 28.4h.6M54.5 39.8h.6M35 25.4h.6M23.5 29.3h.6M22.4 32.6h.6M51.6 3.8h.6M24.8 46.6h.6M15.5 20.2h.6M45.5 16.4h.6M16.9 50.3h.6M52.6 34.7h.6M44.9 30.3h.6M32.2 47.1h.6M35.2 51h.6M-7.9 32.7h.6M16.4 5.8h.6M2.7 13.7h.6M54.5 42.6h.6M42.1 38.2h.6M28.3 13.2h.6M56 27.9h.6M28.9 38.5h.6M44.9 16h.6M30 38.8h.6M15.7 34.3h.6M25.5 45.6h.6M14.3 28.6h.6M6.1 36.4h.6M54.6 23h.6M-3.8 8.5h.6M45.6 38.5h.6M38.8 25.2h.6M31.7 18.4h.6M18.3 47.3h.6M51 41.5h.6M56.6 40.4h.6M38.3 38.2h.6M46.1 28h.6M6.4 1.6h.6M26.1 23.7h.6M16.3 30.7h.6M44.2 16.2h.6M6 38.7h.6M40.2 43.9h.6M51.1 39.2h.6M42.1 39h.6M34.6 55.9h.6M48.7 12.5h.6M30.5 47.4h.6M23.8 35.5h.6M36.9 6.6h.6M22.4 24.2h.6M44.6 18.4h.6M40.4 18.3h.6M21.8 49h.6M11.4 47.6h.6M-.1 17.9h.6M41.2 12.5h.6M2.3 21.9h.6M20.2 8.3h.6M56.9 7.4h.6M26.1 55.2h.6M36.9 27.2h.6M50.2 20.5h.6M-1.7 11.6h.6M10.4 29.5h.6M40.7 10.5h.6M40.4 8.9h.6M50 30h.6M34.6 41.8h.6M26.7 25.2h.6M25.4 39.2h.6M50.4 28.9h.6M37.7 18.7h.6M24.1 31h.6M26.3 35.3h.6M49 30h.6M36.5 23.3h.6M45.4 -5.6h.6M16.6 47.3h.6M59.9 26.1h.6M47.8 32.8h.6M30.4 -11.1h.6M25.9 26.1h.6M33.4 51.5h.6M9.6 19.7h.6M46.4 3.3h.6M33 13h.6M.7 15.4h.6M25.8 34.3h.6M35.9 23.5h.6M21.6 31.2h.6M2.6 18h.6M24.3 38.1h.6M38.3 29.2h.6M5.8 45.3h.6M30.4 24.9h.6M39 48.3h.6M14.8 29.3h.6M42.9 6.8h.6M27.7 27.7h.6M16.2 52.5h.6M14.6 18.7h.6M.7 12.7h.6M44.2 32.8h.6M9.9 50.5h.6M27.2 41.3h.6M44.7 2.7h.6M47.4 -3.6h.6M32.7 17.8h.6M44.9 48.8h.6M47.5 30.8h.6M4.2 37.3h.6M39.2 39.1h.6M.4 23.2h.6M18.8 44.7h.6M28.4 33.7h.6M52.9 41.8h.6M18 48.3h.6M22.9 46.6h.6M19.6 38.8h.6M-2.4 7.9h.6M41.8 31.3h.6M30.9 38.6h.6M18.2 42.5h.6M43.4 14.7h.6M42.7 38.5h.6M59.6 18.5h.6M34.5 20.4h.6M32 45.5h.6M28.1 25.6h.6M24 44.5h.6M48.4 31.5h.6M-12.1 -.3h.6" stroke="#fff" stroke-width=".6" opacity=".8"/><path d="M17.6 14.7h1M21.1 24h1M17.2 38.4h1M-5.1 30.6h1M9.6 19.5h1M44.5 15.8h1M15.8 24.5h1M-4.7 2.6h1M49.5 31.4h1M30.6 52.7h1M-.7 43.5h1M1.7 42.8h1M19.8 20.1h1M41 42.8h1M12.4 21.5h1M-3.8 30.7h1M56.3 24.8h1M-2.7 7.2h1M7.3 34h1M16.9 39.6h1M1.4 15.7h1M45.1 49.4h1M11.6 9.9h1M20.5 51.9h1M26.9 28.1h1M53.7 43.8h1M21.2 36.8h1M36.8 48.8h1M55.5 13.9h1M33.3 28.3h1M-1.7 55h1M9.8 4.9h1M36.7 8.4h1M30.3 -4.1h1M20.9 39.4h1M33.6 42.3h1M26.8 37.1h1M48 18.1h1M44.4 14.5h1M42.4 22.7h1M58.2 33.5h1M-4.8 35.5h1M18.3 -22.7h1M39.7 24.8h1M20.7 38.4h1M21 24.9h1M47.5 31.2h1M19.5 35h1M-10.7 -.2h1M-14.6 16.3h1M36.3 13h1M45.2 10.1h1M29.1 25.4h1M25.8 37.7h1M21.8 22.1h1M21.5 -15.7h1M53.6 8.4h1M22.3 68.4h1M6.1 29.3h1M23.3 27.6h1M39.4 47.8h1M30.9 28.7h1M15 56.2h1M40.7 30.6h1M27.6 26.8h1M35.1 26.9h1M22.5 33.9h1M33.5 -13.4h1M25.9 50.8h1M30.5 40.3h1M41.7 38.6h1M13.5 39.7h1M45.9 13h1M26.3 26.8h1M21.9 49.4h1M-9.1 50.7h1M47.4 -3.4h1M26.3 34.2h1M39.7 19.1h1M45.8 23.2h1M26.9 42.4h1M51.6 14.7h1M8.1 41.3h1M27.1 35.5h1M24.4 47.2h1M22.3 24.5h1M23.2 28.7h1M38 32.2h1M20.4 39.9h1M37.3 41.3h1M41.6 14.2h1M-9.4 3.9h1M30.6 32.1h1M32.7 30.4h1M43.1 1.8h1M16.4 37.3h1M48.4 26.5h1M19.7 39.2h1M14.9 26.8h1M18.8 38.3h1M25.7 39.5h1M31.1 40.2h1M33.9 58.3h1M52.3 36.2h1M54 -2h1M32.4 48.2h1M21 6.9h1M43.9 -4.2h1M31.7 37.7h1M26.1 38.7h1M36 27.9h1M28.9 23.2h1M62 53.2h1M7.4 9.7h1M46.7 7.7h1M38.2 5.4h1M34.2 56h1M54.8 29.5h1M13.6 10.1h1M21.8 37h1M40.3 27.3h1M27 39.5h1M27.6 34.7h1M7.8 50.2h1M32.5 26.5h1M51 44.4h1M49.6 41.9h1M2.2 53h1M-8 55h1M35.4 35.4h1M26.3 21.5h1M52.2 43.7h1M4.5 34.1h1M24 40.4h1M-2.5 23.2h1M48.6 11.3h1M21.5 27.2h1M41.5 38.2h1M2.7 10.6h1M10.2 49.6h1M38 31.5h1M27 34.6h1M33.9 29.2h1M7.3 10.5h1M44.9 11.9h1M26.3 32h1M45.5 20.6h1M2.5 18.6h1M11.8 1.1h1M56 48.2h1M20 48.5h1M24.5 52.6h1M30.5 42.4h1M35.2 21.6h1M20.7 41.9h1M30.5 39.4h1M25 30.6h1M42.8 27.4h1M28.7 27.1h1M49.2 37.9h1M39.3 13.8h1M11.1 21.3h1M50.2 37h1M18 41.1h1M-9 3.8h1M48.9 24.5h1M16.3 31.5h1M4.4 6.6h1M38.5 17h1" stroke="#fff" stroke-width="1" opacity=".8"/><g fill="url(#glow)" opacity="0.12"><circle cx="28.1" cy="29.1" r="25.2"/><circle cx="20.4" cy="39.8" r="29.4"/><circle cx="43.9" cy="14.3" r="16.8"/><circle cx="47.4" cy="31.1" r="16.8"/><circle cx="30.6" cy="43.4" r="12.6"/></g><g fill="url(#glow)"><circle cx="28.1" cy="29.1" r="10.2"/><circle cx="20.4" cy="39.8" r="11.9"/><circle cx="43.9" cy="14.3" r="6.8"/><circle cx="47.4" cy="31.1" r="6.8"/><circle cx="30.6" cy="43.4" r="5.1"/></g><g fill="#e0e0e0" filter="url(#cl)"><circle cx="28.1" cy="29.1" r="4.5"/><circle cx="29.7" cy="30.3" r="3.2"/><circle cx="24.7" cy="31.9" r="3.0"/><circle cx="30.1" cy="32.3" r="3.3"/><circle cx="29.0" cy="24.8" r="3.7"/><circle cx="29.1" cy="32.8" r="3.5"/><circle cx="26.8" cy="24.4" r="3.9"/><circle cx="20.4" cy="39.8" r="5.2"/><circle cx="24.1" cy="43.0" r="4.6"/><circle cx="24.3" cy="42.8" r="3.4"/><circle cx="22.9" cy="43.4" r="4.9"/><circle cx="25.4" cy="37.9" r="4.5"/><circle cx="19.6" cy="43.2" r="4.7"/><circle cx="22.3" cy="38.7" r="4.5"/></g><g fill="#e8e8e8" filter="url(#bl)"><circle cx="43.9" cy="14.3" r="3.8"/><circle cx="44.3" cy="12.3" r="2.8"/><circle cx="41.9" cy="13.7" r="2.9"/><circle cx="47.4" cy="31.1" r="3.8"/><circle cx="46.5" cy="29.4" r="2.6"/><circle cx="49.4" cy="31.1" r="2.9"/><circle cx="30.6" cy="43.4" r="2.8"/><circle cx="29.8" cy="42.1" r="1.5"/><circle cx="31.4" cy="44.6" r="2.1"/></g></svg>
<svg x="351.1" y="340.3" width="51.0" height="51.0" viewBox="0 0 51.0 51.0"><rect width="51.0" height="51.0" fill="#050505"/><path d="M8 18Q13 18 16 15M8 18Q7 24 6 31M7 18Q9 23 8 28M8 18Q-1 9 -11 2M16 14Q25 14 34 18M16 14Q30 3 46 -5M16 14Q11 21 8 28M16 14Q4 5 -11 2M34 18Q39 21 44 22M34 18Q33 29 33 40M34 18Q38 6 46 -5M34 18Q21 21 8 28M34 18Q46 14 55 6M44 22Q39 31 33 40M43 21Q43 36 41 51M44 21Q50 14 55 5M21 44Q26 38 33 39M21 44Q12 38 5 30M21 44Q13 37 8 28M21 44Q7 41 -8 42M21 45Q31 48 41 51M20 44Q17 53 17 62M33 40Q22 31 8 28M33 40Q36 46 41 51M5 31Q5 27 8 28M5 31Q-1 37 -8 42M5 31Q-2 16 -11 2M46 -5Q49 1 55 5M-8 42Q2 55 17 62M41 51Q28 54 17 62" stroke="#dcdcdc" stroke-width="0.65" fill="none" opacity="0.42"/><path d="M8 18Q7 24 5 31M7 18Q6 23 8 28M8 18Q1 8 -11 2M34 18Q39 21 44 22M34 18Q32 29 33 40M34 18Q38 6 46 -5M21 44Q12 39 5 31M21 44Q31 47 41 51M33 40Q34 47 41 51M41 51Q29 56 17 62" stroke="#dcdcdc" stroke-width="0.45" fill="none" opacity="0.38"/><path d="M18 16Q0 17 -18 13M10 48Q13 47 21 52M5 18Q13 17 15 10M35 -3Q25 8 11 17M47 28Q44 17 34 4M-3 49Q-12 61 -22 68M19 33Q7 38 -4 40M19 5Q19 3 14 -4M16 26Q14 28 8 28M48 32Q46 40 47 49M6 1Q1 -8 0 -11M38 40Q30 52 24 57M47 44Q64 46 79 54M21 28Q11 41 1 49M56 10Q53 29 58 44M14 27Q9 39 7 51M51 49Q47 38 44 25M34 50Q16 47 -2 41M1 24Q-7 27 -9 24M11 7Q4 -3 -3 -19M40 37Q43 48 42 63M-4 27Q-13 9 -18 -7M28 2Q20 3 15 11M-2 14Q8 9 17 -2M0 56Q-7 54 -14 53M36 17Q39 15 49 15M32 46Q33 38 28 37M14 1Q8 5 6 5M15 -3Q18 -9 20 -15M43 16Q35 13 34 9M0 18Q9 17 22 17M44 30Q48 33 52 39M-1 27Q-10 20 -11 11M-4 27Q-1 38 0 42M27 0Q17 7 11 20M16 21Q11 39 10 55M11 53Q1 46 -1 35M14 4Q31 3 51 3M8 14Q8 31 0 45M52 33Q51 19 56 7M22 26Q28 27 32 27M12 24Q10 13 13 8M18 4Q11 16 -3 22M53 18Q47 35 46 48M29 31Q18 34 7 29M16 43Q14 46 8 46M-1 38Q3 42 1 47M22 17Q41 20 56 31M-2 3Q9 0 17 -10M18 18Q4 18 -8 17M2 13Q-3 11 -12 6M27 7Q29 1 29 -6M24 36Q27 49 25 54M53 12Q59 31 72 45M35 30Q25 43 10 50M17 18Q27 20 33 18M35 -2Q23 -11 17 -26M7 28Q1 13 -3 -4M46 7Q45 14 39 17M16 -1Q22 -9 20 -24M8 18L5 1M8 18L11 5M8 18L7 8M8 18L-4 6M8 18L0 39M8 18L8 8M8 18L14 3M8 18L-12 19M8 18L-7 2M8 18L-7 8M16 14L32 23M16 14L4 13M16 14L-10 11M16 14L16 21M16 14L39 16M16 14L4 14M16 14L24 18M16 14L-7 2M16 14L11 20M34 18L18 24M34 18L34 25M34 18L27 6M34 18L41 19M34 18L43 14M34 18L36 -5M44 21L40 13M44 21L51 18M44 21L54 32M44 21L45 0M44 21L53 39M44 21L44 14M44 21L54 -3M21 44L29 19M21 44L19 66M21 44L23 56M21 44L-6 37M21 44L31 66M21 44L28 36M21 44L42 32M21 44L31 49M21 44L43 52M33 40L38 48M33 40L20 26M33 40L36 45M33 40L45 45M5 31L7 20M5 31L-17 41M5 31L-3 32" stroke="#dcdcdc" stroke-width="0.35" fill="none" opacity="0.32"/><rect width="51.0" height="51.0" filter="url(#grain)" opacity="0.08"/><path d="M-4.2 54.6h.6M1 31.3h.6M2.8 7.5h.6M39.5 20.7h.6M8.5 38.7h.6M55.2 11.8h.6M.3 39.2h.6M53.2 15.8h.6M36 21.8h.6M26.5 37.5h.6M3.8 51.6h.6M39.7 20.8h.6M-7.4 41.9h.6M50.8 1.1h.6M39.5 34.2h.6M21.3 25.1h.6M43.8 23.4h.6M42.7 19.2h.6M6.1 17.3h.6M37.2 22.7h.6M8 8.7h.6M-2.9 6.6h.6M18.1 -10h.6M37.1 10.2h.6M30.9 38h.6M10.1 34.6h.6M27.6 4.3h.6M43.9 20.4h.6M15.6 17.8h.6M9.5 32.2h.6M8.3 29.6h.6M36.9 22.4h.6M40.7 3.9h.6M17 -7.7h.6M43.3 38.4h.6M16.3 20.5h.6M41.6 46.4h.6M6.7 20.6h.6M54.7 23.7h.6M28.5 6.9h.6M32 39.9h.6M10.4 28.1h.6M25.6 60.8h.6M9.9 22.1h.6M5.6 12.9h.6M11.5 12h.6M51 17.8h.6M24.8 27.8h.6M8.6 32.1h.6M5.9 4.5h.6M36.2 15.1h.6M49.6 14.2h.6M6.8 13.1h.6M6.9 27.8h.6M10.6 52.2h.6M31.3 -5.3h.6M38 23h.6M9.3 39.6h.6M10.2 45.9h.6M9 29.9h.6M-.9 10.5h.6M44.8 8.1h.6M1.2 25h.6M23.4 24h.6M7.9 24.5h.6M34.1 21.3h.6M9.1 30.8h.6M40.6 43h.6M24.2 17.3h.6M16 16h.6M11.2 2.3h.6M7.6 16.5h.6M38.7 12.8h.6M-5 7.6h.6M32.5 30h.6M-12.2 14.3h.6M28.5 24.7h.6M7.3 27.8h.6M47.5 33.3h.6M40.5 50.9h.6M29.1 14.2h.6M21.3 43.9h.6M10.1 31.6h.6M25.4 22.3h.6M5.1 48h.6M-26 23.4h.6M43.2 -3.6h.6M6.6 16h.6M20.5 32h.6M14.4 12.1h.6M5.4 24h.6M6.6 6.2h.6M1.6 42.4h.6M34.2 41.6h.6M15.4 45.9h.6M18.5 15.6h.6M27.9 28.4h.6M31.9 18.2h.6M13.9 14h.6M27.7 38.4h.6M53.9 13.1h.6M45 5.9h.6M36.8 41.8h.6M-11.1 11.7h.6M-3.8 21.9h.6M34.4 13.7h.6M41.4 22.3h.6M10.7 30.6h.6M39.4 5.9h.6M5 2.7h.6M12.1 18.6h.6M29.3 4.4h.6M48.8 30.9h.6M39.5 5.3h.6M39.1 38.5h.6M36.1 23.2h.6M37.9 45.1h.6M9.7 44.4h.6M28.9 -7.7h.6M45.4 1.2h.6M45.3 18.6h.6M19.5 7.2h.6M28.2 36.2h.6M18.2 9.6h.6M8.9 45.6h.6M36.9 4.8h.6M22.2 45.8h.6M2.6 26.8h.6M6.3 37.8h.6M-7.9 35.8h.6M7.3 20.5h.6M56 -9.8h.6M14 42.8h.6M14.6 47.9h.6M18.2 32h.6M6.1 30.6h.6M61.5 30.8h.6M40.4 15.2h.6M40.7 26.2h.6M49.3 23.9h.6M31.2 34h.6M7.1 18.4h.6M29.6 39.2h.6M-2.4 15.5h.6M42 29.1h.6M27.6 26.6h.6M6.1 16.3h.6M11.8 34.2h.6M38.6 16.5h.6M8.6 23.1h.6M40.2 18.8h.6M1.2 25.5h.6M27.2 7.1h.6M-4.7 39.5h.6M6.3 37.5h.6M44 15.5h.6M-5.3 3.7h.6M-2.7 4.2h.6M13.7 -6h.6M-1 3.9h.6M-.1 35.9h.6M15.3 11.3h.6M-.2 44.5h.6M44.1 20.9h.6M51.7 29.9h.6M14.1 11.2h.6M8.9 17.4h.6M6.1 27h.6M8.7 34.6h.6M27.5 43.7h.6M16.9 33.8h.6" stroke="#fff" stroke-width=".6" opacity=".8"/><path d="M25.8 50.2h1M18.3 -10.4h1M41.4 22.4h1M16.1 31.8h1M37.3 23.6h1M30.7 20.3h1M27.6 45.9h1M4.8 14.8h1M32.3 17.9h1M28.2 22.3h1M35.3 17.8h1M37.1 24.2h1M4.9 35.3h1M34.5 18.3h1M4.7 41.6h1M28.4 37.4h1M16.9 14.9h1M-4.1 27.9h1M21.2 43.6h1M42.1 45.6h1M28.9 19.8h1M5.2 9.5h1M35.2 36.6h1M29.5 47.2h1M4.9 31h1M2.4 11.5h1M21 29.3h1M44.2 26.2h1M25 53.5h1M32 19.9h1M13.7 17.8h1M28.5 43.6h1M35.3 18.9h1M6.3 26h1M28.3 29.8h1M-30.6 19.6h1M38.1 33.9h1M16.9 14.5h1M11.9 40.6h1M38 12h1M32.7 31.9h1M31 17.6h1M7.2 38.5h1M40.4 16.2h1M22.8 9.5h1M28.6 39.3h1M44.8 8.6h1M13.3 15.7h1M22 50.2h1M58 28.5h1M32.2 30.8h1M35.4 29.9h1M5.1 28.1h1M30.4 32.9h1M34 24.8h1M34.3 41.7h1M23.8 26.3h1M24.1 39.4h1M8.8 34.7h1M41.1 26h1M16.4 9.1h1M35.9 38.5h1M18.8 15.9h1M-17.8 -5.9h1M6.1 28.7h1M-21.6 -12.3h1M44.3 21h1M21.1 22.3h1M9.4 40.6h1M23.6 39.3h1M21.9 3.9h1M1 12.4h1M14.4 27.3h1M15.7 19.5h1M2.1 43.9h1M19.2 42.6h1M5 22.2h1M15.4 10.4h1M25.8 26.3h1M46.2 14.2h1M7.6 36h1M-15.7 3.6h1M-10.6 12h1M15.9 10.4h1M34.3 17.9h1M63.7 34.2h1M11.8 6.2h1M35.1 31.9h1M49.1 32.1h1M41.8 15.7h1M51.7 26.8h1M.2 8.6h1M16 16h1M44 19.9h1M5.7 29.9h1M6.7 16.9h1M17.2 39h1M31.2 39.2h1M14.8 34.7h1M50.3 5.1h1M-8.8 11h1M14.8 41.3h1M5.5 32.3h1M5 14.9h1M1.7 35.2h1M26.5 43.9h1M3.1 -5.8h1M22.8 6.2h1M44.4 20.3h1M15.5 40.6h1M6.8 24.9h1M20.7 -21h1M25.3 16.6h1M31.9 13.7h1M6.1 24.6h1M39.3 50.1h1M19.6 24.3h1M7 8.1h1M18.1 28.1h1M-17 13.5h1M-1.1 39.3h1M33.9 40.3h1M11.5 38.3h1M37.8 34.6h1M45.9 34.2h1M7.7 16.1h1M26.4 39.8h1M40 21.9h1M-3.4 32.2h1M-17.4 23.9h1M9.2 32.8h1M14.3 16.1h1M49.5 31.3h1M10.5 11.4h1M45.9 24.4h1M11.4 33.4h1M7.1 49.3h1M13.3 36.6h1M-2.3 -2h1M40.4 13.1h1M35.2 12.4h1M11.3 33.5h1M50 18h1M35.9 32.3h1M8.9 42.3h1M28.7 46.1h1M50.5 47.2h1M26.9 32.5h1M16.1 17.5h1M-9 2.3h1M23.9 57.6h1M15.2 41.2h1M11.6 16.1h1M24.6 45.9h1M1.3 40.4h1M-6.6 41.8h1M42.3 22.8h1M6.3 34h1M15.7 20.1h1M16.5 -6.1h1M19.8 11h1M11.3 20.2h1M41.8 42.2h1M36 12.5h1M31.1 13.2h1M12 40.7h1M12.9 37.1h1M.3 -11.6h1M36.6 21.5h1" stroke="#fff" stroke-width="1" opacity=".8"/><g fill="url(#glow)" opacity="0.12"><circle cx="7.6" cy="17.8" r="29.4"/><circle cx="15.8" cy="14.3" r="25.2"/><circle cx="34.2" cy="17.8" r="16.8"/><circle cx="43.9" cy="21.4" r="21.0"/><circle cx="20.9" cy="44.4" r="25.2"/><circle cx="33.1" cy="39.8" r="12.6"/><circle cx="5.1" cy="30.6" r="8.4"/></g><g fill="url(#glow)"><circle cx="7.6" cy="17.8" r="11.9"/><circle cx="15.8" cy="14.3" r="10.2"/><circle cx="34.2" cy="17.8" r="6.8"/><circle cx="43.9" cy="21.4" r="8.5"/><circle cx="20.9" cy="44.4" r="10.2"/><circle cx="33.1" cy="39.8" r="5.1"/><circle cx="5.1" cy="30.6" r="3.4"/></g><g fill="#e0e0e0" filter="url(#cl)"><circle cx="7.6" cy="17.8" r="5.2"/><circle cx="7.2" cy="22.1" r="4.0"/><circle cx="7.6" cy="20.8" r="4.7"/><circle cx="12.2" cy="20.1" r="3.6"/><circle cx="3.3" cy="20.6" r="3.6"/><circle cx="6.2" cy="19.6" r="4.7"/><circle cx="7.6" cy="14.9" r="4.9"/><circle cx="15.8" cy="14.3" r="4.5"/><circle cx="17.0" cy="12.8" r="4.3"/><circle cx="16.8" cy="12.7" r="3.7"/><circle cx="20.1" cy="12.7" r="2.9"/><circle cx="18.2" cy="11.3" r="3.2"/><circle cx="20.4" cy="14.3" r="4.1"/><circle cx="18.9" cy="15.3" r="4.1"/><circle cx="43.9" cy="21.4" r="3.8"/><circle cx="41.2" cy="19.0" r="3.1"/><circle cx="46.4" cy="24.5" r="3.0"/><circle cx="43.3" cy="22.9" r="2.8"/><circle cx="45.2" cy="19.9" r="2.6"/><circle cx="42.6" cy="22.3" r="3.0"/><circle cx="45.5" cy="20.1" r="2.5"/><circle cx="20.9" cy="44.4" r="4.5"/><circle cx="22.9" cy="44.3" r="2.8"/><circle cx="23.1" cy="46.7" r="2.9"/><circle cx="18.2" cy="44.8" r="3.8"/><circle cx="18.8" cy="45.0" r="2.9"/><circle cx="22.6" cy="45.3" r="3.9"/><circle cx="18.3" cy="46.5" r="3.5"/></g><g fill="#e8e8e8" filter="url(#bl)"><circle cx="34.2" cy="17.8" r="3.8"/><circle cx="36.2" cy="17.8" r="2.8"/><circle cx="34.4" cy="19.8" r="2.1"/><circle cx="33.1" cy="39.8" r="2.8"/><circle cx="32.5" cy="41.1" r="2.0"/><circle cx="32.4" cy="38.5" r="1.8"/><circle cx="5.1" cy="30.6" r="1.9"/></g></svg>
<svg x="405.9" y="340.3" width="51.0" height="51.0" viewBox="0 0 51.0 51.0"><rect width="51.0" height="51.0" fill="#0c0c0c"/><path d="M20 24Q28 19 35 15M21 24Q23 29 22 35M20 24Q19 19 19 14M21 24Q17 30 14 36M20 24Q21 16 26 11M20 24Q28 25 35 27M20 24Q19 23 17 22M35 15Q41 15 40 20M35 15Q32 10 26 11M35 15Q39 21 36 26M35 15Q36 11 40 11M40 20Q43 21 45 18M40 20Q42 23 44 26M40 20Q37 23 35 26M40 20Q42 16 40 11M3 11Q11 13 20 14M3 12Q1 9 3 6M3 12Q0 17 5 19M3 12Q-1 22 -7 31M48 21Q54 18 59 21M48 20Q51 16 51 11M49 20Q48 17 45 18M49 21Q46 23 43 27M17 43Q16 37 21 35M18 43Q12 44 6 44M18 43Q15 48 14 54M17 44Q17 43 17 42M18 43Q27 44 36 47M8 35Q11 35 13 36M8 35Q5 39 6 44M8 35Q5 27 5 19M8 35Q4 35 -1 33M8 35Q14 30 17 22M33 -1Q29 -5 23 -7M33 -1Q29 4 26 11M33 -1Q40 -4 47 -2M33 -1Q31 -3 30 -6M33 -1Q35 6 40 11M59 21Q56 15 51 11M59 21Q54 31 52 42M59 21Q50 21 43 26M59 21Q50 39 48 58M59 21Q56 8 47 -2M22 35Q18 37 13 36M21 35Q29 31 35 26M21 35Q18 38 17 42M22 35Q29 41 36 47M43 48Q48 46 51 42M43 48Q46 52 46 57M43 48Q45 37 43 27M43 48Q40 46 36 47M51 11Q48 15 45 18M52 11Q51 4 47 -2M52 11Q46 11 40 11M51 42Q49 49 47 57M51 42Q50 33 43 27M52 42Q49 50 49 58M23 -7Q19 3 20 14M23 -6Q13 -1 3 6M23 -7Q22 2 26 11M23 -6Q13 -5 4 -5M23 -7Q26 -4 30 -5M19 14Q12 9 3 6M20 14Q24 14 26 11M19 14Q12 16 6 19M20 14Q21 19 17 23M13 36Q7 38 6 45M13 36Q13 29 16 22M13 36Q17 38 17 42M3 6Q3 0 4 -5M3 6Q-3 18 -7 31M-7 45Q-2 45 2 50M-8 45Q-12 38 -7 31M-7 45Q-1 49 5 54M-7 45Q-5 45 -4 42M46 57Q48 57 48 58M47 56Q30 54 14 54M46 57Q38 55 35 47M26 11Q33 10 40 12M5 44Q3 47 2 50M5 45Q1 39 -1 33M6 45Q6 49 5 54M6 44Q1 41 -4 42M5 45Q8 51 14 54M6 45Q12 45 17 42M2 50Q3 52 5 54M2 50Q-1 46 -4 42M45 18Q43 22 43 27M45 19Q44 14 40 11M43 27Q39 31 35 27M43 27Q39 37 35 47M6 19Q1 25 0 33M5 19Q0 26 -7 31M6 19Q11 20 17 22M4 -5Q-3 12 -7 31M-1 33Q-3 31 -7 31M-1 33Q-1 38 -4 42M-7 31Q-4 36 -5 42M48 58Q31 57 14 55M14 55Q9 52 5 54M14 55Q16 54 14 54M14 55Q25 52 36 47M5 54Q9 57 14 55M14 55Q25 52 36 47M47 -2Q38 -2 30 -6M46 -1Q45 6 40 11M35 26Q34 37 35 47" stroke="#dcdcdc" stroke-width="0.65" fill="none" opacity="0.62"/><path d="M21 24Q27 19 35 15M21 24Q21 29 22 35M20 24Q17 19 19 14M21 24Q20 31 13 36M20 24Q22 17 25 10M20 24Q28 27 35 26M20 24Q18 25 17 23M35 15Q36 19 40 20M35 15Q30 15 26 11M35 16Q30 15 26 11M35 15Q36 21 36 26M35 15Q36 12 40 11M40 20Q42 19 45 18M40 20Q42 23 44 26M40 21Q39 24 36 27M40 20Q43 16 40 11M3 12Q11 16 19 14M3 12Q11 12 19 14M4 12Q7 9 3 6M3 12Q6 15 5 19M3 12Q0 23 -7 31M48 20Q54 19 59 21M49 20Q50 16 52 11M48 21Q47 20 45 19M49 20Q45 23 43 27M18 43Q18 38 22 35M18 44Q20 39 22 35M18 44Q12 45 6 45M18 43Q16 49 14 55M18 43Q18 42 17 42M18 43Q27 45 36 47M8 35Q11 33 13 36M8 35Q8 40 6 44M8 35Q10 26 6 19M8 34Q4 33 0 33M8 35Q15 30 17 23M33 -1Q27 -1 23 -7M34 -1Q31 6 26 11M34 -1Q32 6 26 11M33 -1Q40 -4 47 -1M34 -1Q33 -4 30 -6M34 -1Q38 5 40 11M59 21Q54 17 52 11M59 21Q54 31 51 42M59 21Q50 20 43 26M59 21Q55 40 49 58M59 21Q53 39 48 58M59 21Q52 10 47 -1M22 35Q17 33 13 36M22 35Q17 34 13 36M21 35Q28 29 35 26M22 35Q29 32 36 27M22 35Q21 40 17 42M21 35Q26 44 35 47M43 48Q48 46 51 42M43 48Q43 53 46 57M44 48Q44 37 44 27M43 48Q39 48 36 47M51 11Q46 13 45 18M51 11Q48 6 46 -1M52 12Q46 10 40 12M52 42Q49 49 47 57M52 42Q48 34 44 26M52 42Q52 50 49 58M23 -7Q23 4 20 14M23 -7Q12 -3 3 6M23 -7Q27 1 26 11M23 -7Q23 2 26 11M23 -7Q13 -8 4 -5M23 -6Q26 -5 30 -5M20 14Q11 11 3 5M20 14Q25 16 26 11M20 14Q13 18 6 19M20 14Q17 18 17 23M13 36Q11 41 6 45M13 36Q16 29 17 22M14 36Q17 29 17 23M14 35Q17 38 17 42M3 6Q3 0 4 -5M3 6Q-1 19 -7 31M-7 45Q-3 49 2 50M-7 45Q-6 38 -7 31M-8 46Q-3 51 4 54M-7 45Q-7 43 -4 42M47 56Q49 56 49 58M47 57Q30 53 14 54M47 57Q30 54 14 55M46 57Q41 52 36 47M26 10Q33 11 40 11M6 45Q3 47 2 50M5 44Q4 47 2 50M6 44Q4 38 0 33M6 44Q4 49 5 54M6 44Q1 42 -4 42M6 44Q11 49 14 54M6 45Q12 47 17 43M2 50Q6 50 5 54M2 50Q6 51 4 54M2 50Q-1 46 -4 42M45 18Q46 23 43 27M45 18Q40 16 40 11M45 18Q42 15 40 11M43 27Q39 27 35 27M43 26Q39 29 35 26M43 27Q42 38 36 47M43 27Q40 37 36 47M6 19Q1 25 0 33M6 19Q-2 24 -7 31M5 19Q10 25 17 23M4 -5Q2 14 -7 31M-1 33Q-4 31 -7 31M-1 33Q-1 38 -5 42M-7 31Q-4 36 -5 42M48 59Q31 61 14 55M14 55Q9 53 5 54M14 55Q13 55 14 54M14 55Q24 49 36 47M5 54Q9 57 14 54M14 54Q24 49 36 47M46 -1Q37 0 30 -6M46 -1Q38 -3 30 -5M46 -1Q41 4 40 11M46 -1Q43 5 40 11M35 26Q35 37 36 47" stroke="#dcdcdc" stroke-width="0.45" fill="none" opacity="0.56"/><path d="M41 47Q31 48 22 50M28 51Q31 38 30 32M56 37Q55 27 49 23M7 0Q-4 6 -9 12M6 13Q15 13 19 17M41 24Q37 24 31 18M-1 -2Q-3 -14 -7 -22M47 23Q39 31 36 39M10 25Q12 40 8 48M40 27Q48 23 57 22M11 16Q20 24 28 31M55 36Q48 41 41 38M4 8Q-12 16 -27 22M16 3Q23 11 27 18M-2 40Q12 49 18 55M1 1Q-5 -9 -2 -14M18 45Q32 41 50 35M45 55Q46 48 40 33M12 -3Q32 -5 49 -7M53 44Q69 42 82 45M38 47Q30 48 22 55M27 7Q33 15 39 19M2 20Q0 6 -8 -4M9 23Q13 15 13 3M-3 33Q-6 26 -15 18M55 18Q43 22 24 24M24 24Q26 14 28 10M43 34Q50 22 59 11M17 23Q18 22 23 14M40 -3Q26 4 11 4M21 40Q16 29 13 22M45 20Q53 23 68 22M29 24Q27 8 29 -5M5 14Q-13 17 -26 26M13 53Q16 64 25 82M13 19Q14 28 14 33M20 24Q16 35 18 41M51 -3Q47 -4 49 -12M45 -2Q55 -6 70 -11M-1 39Q14 45 27 55M-2 -1Q-1 -10 -4 -14M16 0Q18 7 21 10M26 29Q30 31 42 34M39 25Q52 11 59 -1M36 10Q28 -6 27 -24M35 31Q31 30 26 23M53 -4Q58 5 55 7M48 4Q40 12 30 14M45 39Q59 31 67 25M29 35Q31 43 29 54M50 5Q54 -15 62 -28M24 16Q27 22 28 28M49 -4Q57 -3 62 2M5 53Q10 48 15 45M48 24Q40 36 26 46M25 40Q13 29 0 13M7 21Q-5 34 -17 43M41 21Q47 27 56 39M30 13Q14 2 0 -5M25 7Q19 18 14 23M55 22Q58 37 54 45M52 28Q50 41 48 58M45 16Q44 20 49 30M27 5Q38 19 47 34M22 26Q38 13 53 5M12 20Q19 31 17 45M46 26Q36 25 22 29M55 38Q37 46 26 47M1 47Q4 52 7 56M14 33Q4 41 0 43M7 37Q7 26 -1 11M51 37Q40 33 36 24M43 44Q44 59 52 78M8 7Q9 16 8 22M9 15Q4 8 3 4M52 36Q44 34 37 29M9 53Q-3 39 -9 21M11 12Q10 -10 14 -26M28 7Q31 9 31 15M30 40Q43 36 61 39M39 31Q32 36 28 43M20 12Q9 25 -3 31M47 55Q41 47 35 34M5 48Q3 53 8 56M-4 19Q12 20 23 18M38 23Q46 34 59 42M41 2Q49 2 55 3M1 6Q11 13 20 22M34 51Q25 42 14 34M48 -4Q42 -5 39 0M41 33Q38 49 28 67M34 23Q42 8 54 -5M43 53Q52 61 67 68M23 16Q26 9 28 -5M32 48Q23 62 18 78M47 53Q55 54 56 56M36 56Q42 42 44 29M-1 23Q-12 34 -25 38M27 15Q21 9 17 -4M2 29Q3 37 9 49M51 39Q45 43 30 42M50 19Q54 5 63 -12M32 24Q18 21 -1 26M18 37Q36 30 46 18M47 37Q41 44 38 55M46 5Q38 -2 35 -18M10 12Q6 17 2 16M52 50Q53 41 60 30M27 15Q39 19 57 23M35 36Q39 39 38 50M20 24L36 20M20 24L25 32M20 24L-3 28M20 24L0 37M20 24L20 13M20 24L37 9M35 15L34 3M35 15L42 13M35 15L16 33M35 15L46 25M35 15L33 21M40 20L33 2M40 20L42 1M40 20L23 24M40 20L62 17M3 12L8 5M3 12L-3 -15M3 12L-10 8M3 12L-21 16M48 20L65 37M48 20L56 13M48 20L53 2M18 43L-5 47M18 43L10 21M18 43L14 52M8 35L-1 20M8 35L-6 58M8 35L18 48" stroke="#dcdcdc" stroke-width="0.35" fill="none" opacity="0.46"/><rect width="51.0" height="51.0" filter="url(#grain)" opacity="0.16"/><path d="M42.4 22h.6M24.5 20.7h.6M14 26.6h.6M50.6 7.1h.6M11.1 43.1h.6M25.3 26h.6M13.3 26h.6M31.3 15h.6M47 16h.6M16 4h.6M18.1 42.3h.6M39.7 46h.6M13.8 42.7h.6M10.1 31.4h.6M43.7 50.8h.6M30.7 5.1h.6M27.3 2.5h.6M2.3 21h.6M46 39.3h.6M27.5 8.4h.6M42 32.2h.6M23.5 4.8h.6M42.8 20.2h.6M21.8 23.3h.6M46.7 35.7h.6M47.5 11.4h.6M36.4 50.2h.6M50.9 .6h.6M19.3 17.5h.6M33.7 15.1h.6" stroke="#fff" stroke-width=".6" opacity=".8"/><path d="M18.8 29.6h1M44.3 1.7h1M33.5 .4h1M13.3 43.1h1M34.3 30.5h1M25.6 46.4h1M18.9 24.8h1M38.6 9.9h1M18.4 5.5h1M16.2 34.3h1M11.1 26.6h1M10.9 24.3h1M37.4 8.6h1M4 25.4h1M3.7 36.2h1M40.7 36h1M48.3 27.3h1M46 47.1h1M33.2 21.7h1M40.7 46.7h1M15.1 20.9h1M36.9 48.2h1M20.9 40.4h1M25.7 36.5h1M28.5 12.8h1M14.2 16.3h1M21.8 30.4h1M41.3 15.1h1M32.1 25.2h1M9.8 37.3h1" stroke="#fff" stroke-width="1" opacity=".8"/><g fill="url(#glow)"><circle cx="20.4" cy="24.0" r="7.6"/><circle cx="35.2" cy="15.3" r="6.6"/><circle cx="39.8" cy="20.4" r="5.7"/><circle cx="3.1" cy="11.7" r="5.7"/><circle cx="48.4" cy="20.4" r="4.8"/><circle cx="17.8" cy="43.4" r="3.8"/><circle cx="8.2" cy="34.7" r="3.8"/></g><g fill="#e8e8e8" filter="url(#bl)"><circle cx="20.4" cy="24.0" r="3.8"/><circle cx="20.2" cy="22.0" r="2.8"/><circle cx="19.4" cy="25.7" r="2.1"/><circle cx="35.2" cy="15.3" r="3.3"/><circle cx="34.5" cy="16.9" r="1.9"/><circle cx="36.3" cy="14.0" r="2.4"/><circle cx="39.8" cy="20.4" r="2.8"/><circle cx="38.7" cy="19.4" r="1.9"/><circle cx="40.0" cy="18.9" r="1.7"/><circle cx="3.1" cy="11.7" r="2.8"/><circle cx="1.6" cy="11.3" r="2.0"/><circle cx="4.2" cy="12.8" r="1.9"/><circle cx="48.4" cy="20.4" r="2.4"/><circle cx="17.8" cy="43.4" r="1.9"/><circle cx="8.2" cy="34.7" r="1.9"/></g></svg>
<svg x="460.6" y="340.3" width="51.0" height="51.0" viewBox="0 0 51.0 51.0"><rect width="51.0" height="51.0" fill="#0c0c0c"/><path d="M26 12Q26 8 24 4M26 12Q19 17 14 23M26 12Q24 22 17 29M25 12Q35 16 41 23M26 12Q29 10 33 8M23 5Q21 15 14 23M23 4Q28 -1 31 -9M23 5Q28 5 33 8M23 5Q23 -1 17 -4M23 5Q21 -1 24 -7M23 5Q14 3 8 -4M46 2Q41 -6 32 -9M46 3Q46 -3 48 -7M46 2Q38 2 33 8M46 2Q48 -3 50 -8M46 2Q52 -1 58 3M46 2Q48 8 50 14M14 23Q16 26 17 29M14 23Q12 26 12 30M14 23Q9 27 3 27M15 23Q13 9 9 -5M3 57Q10 54 16 50M3 57Q-2 49 -5 40M3 57Q11 59 18 58M3 57Q4 53 7 49M16 51Q20 51 22 47M16 51Q13 48 10 45M16 50Q15 47 15 44M16 50Q19 54 19 59M16 50Q12 47 7 49M21 -11Q25 -7 32 -8M21 -12Q24 -12 24 -9M21 -12Q35 -8 50 -8M21 -12Q18 -8 17 -4M21 -12Q14 -9 8 -5M22 47Q19 42 20 37M22 47Q18 45 14 44M22 47Q25 47 27 45M21 47Q20 53 18 59M22 47Q25 46 27 48M20 37Q18 33 17 29M20 37Q31 31 42 24M20 37Q19 42 15 44M20 37Q24 41 27 45M20 37Q14 35 12 30M32 -9Q40 -8 48 -8M32 -8Q30 0 33 8M32 -8Q28 -10 24 -9M32 -9Q41 -7 50 -8M32 -8Q28 -8 25 -6M45 22Q43 22 42 24M45 22Q38 16 33 8M45 21Q48 19 49 15M45 21Q50 22 55 23M49 -7Q49 -8 50 -8M17 28Q29 24 42 23M17 29Q15 31 12 30M42 23Q39 14 33 8M41 23Q34 34 26 45M42 23Q43 34 44 45M42 23Q48 24 55 23M33 7Q41 12 50 15M33 7Q43 8 50 14M10 45Q13 47 15 44M10 45Q10 37 12 30M10 45Q3 43 -5 39M10 45Q10 48 7 49M15 44Q16 36 13 30M-4 30Q-1 26 3 26M-4 30Q-5 35 -5 39M-4 30Q1 12 8 -5M24 -9Q20 -7 17 -4M24 -9Q22 -7 25 -7M27 45Q35 45 43 44M27 45Q28 46 27 48M27 46Q34 47 40 51M50 -8Q55 0 62 6M50 -8Q55 -3 58 3M12 30Q7 30 3 26M12 30Q3 34 -5 40M18 -4Q22 -4 25 -6M17 -4Q13 -4 8 -4M3 26Q-1 33 -5 39M3 26Q2 10 8 -5M61 38Q53 44 43 45M61 38Q61 22 63 6M61 38Q52 47 44 57M60 38Q54 32 54 23M43 44Q41 47 40 51M43 45Q42 51 43 57M44 45Q52 35 55 23M50 16Q54 18 55 23M50 16Q52 16 50 14M62 6Q60 8 60 5M62 6Q59 15 54 23M62 6Q60 5 58 3M62 6Q56 9 50 14M-5 40Q-1 47 7 50M19 59Q25 55 27 48M18 59Q30 56 40 51M18 59Q31 54 44 57M27 48Q34 46 40 51M40 51Q41 55 44 57M60 5Q62 2 58 3M60 5Q53 8 50 14M54 23Q52 19 50 14M58 3Q52 7 50 14" stroke="#dcdcdc" stroke-width="0.65" fill="none" opacity="0.62"/><path d="M25 12Q21 9 23 5M25 12Q20 18 14 23M25 12Q22 21 17 28M26 12Q32 19 42 23M26 12Q29 9 33 8M26 12Q30 12 33 8M23 5Q20 15 14 23M23 5Q26 -3 32 -8M23 5Q27 9 33 8M23 5Q28 8 33 8M23 5Q20 1 17 -4M24 5Q27 -1 25 -6M23 5Q24 -1 25 -7M23 5Q15 2 8 -4M23 5Q15 2 8 -4M46 2Q40 -4 32 -8M46 3Q37 -1 32 -8M46 3Q48 -2 48 -7M46 2Q40 7 33 8M46 3Q49 -2 50 -8M46 2Q52 4 58 3M46 3Q48 8 50 14M14 23Q13 27 17 29M14 23Q9 25 12 29M14 23Q9 25 3 26M15 23Q12 9 9 -5M3 57Q9 52 16 50M3 57Q8 51 16 50M3 57Q-3 49 -5 39M3 57Q11 59 18 59M3 57Q5 53 7 49M16 51Q18 47 22 47M16 51Q18 47 22 47M16 51Q11 50 10 45M16 50Q16 47 14 44M16 50Q12 48 14 44M16 50Q16 55 18 59M16 51Q11 52 7 50M21 -12Q26 -8 32 -8M21 -11Q24 -12 24 -9M21 -11Q35 -9 50 -7M21 -12Q36 -10 50 -8M21 -11Q22 -6 18 -4M21 -12Q13 -11 8 -5M22 47Q21 42 20 37M22 47Q22 42 20 37M22 47Q18 46 14 44M22 47Q23 43 27 45M22 47Q25 49 27 45M22 47Q19 53 18 59M22 47Q24 50 27 48M20 37Q20 32 17 28M20 37Q30 28 41 23M20 37Q16 40 15 44M20 37Q23 41 26 46M20 37Q16 33 12 30M32 -9Q40 -11 48 -8M32 -8Q30 0 33 8M32 -8Q35 0 33 8M32 -8Q28 -10 24 -9M32 -9Q41 -12 50 -8M32 -8Q29 -5 25 -7M45 21Q44 24 41 23M45 22Q38 15 33 8M45 21Q45 17 49 16M45 22Q50 22 54 23M49 -7Q49 -8 50 -8M17 28Q29 24 42 23M17 28Q14 27 12 29M41 23Q37 16 33 8M41 23Q33 34 26 45M41 23Q39 34 43 45M42 23Q41 34 44 45M42 24Q48 26 55 23M33 8Q40 14 50 16M33 8Q40 14 50 15M10 44Q11 41 14 43M11 45Q13 37 13 30M10 45Q2 44 -5 39M10 45Q8 47 7 49M15 44Q11 37 12 30M-4 30Q-1 27 3 26M-4 30Q-4 35 -5 39M-4 30Q2 13 9 -4M24 -9Q20 -8 17 -4M24 -9Q24 -8 24 -6M27 45Q35 46 43 44M27 45Q29 46 27 48M27 46Q34 47 40 51M50 -8Q55 0 62 6M50 -8Q56 -4 58 3M12 29Q9 25 3 26M12 29Q5 36 -5 39M17 -4Q21 -4 25 -6M17 -4Q13 -2 8 -4M17 -4Q13 -2 8 -4M3 26Q0 33 -5 39M3 26Q-1 33 -5 39M3 26Q5 11 8 -4M61 38Q52 41 43 45M61 38Q61 22 62 6M61 38Q53 48 44 57M61 38Q58 30 55 23M43 44Q41 47 40 51M43 45Q43 51 44 57M44 45Q52 35 55 23M50 16Q54 18 55 23M50 16Q53 18 55 23M49 16Q46 13 50 14M62 6Q61 5 60 5M62 6Q59 15 55 23M62 6Q61 3 58 3M62 6Q62 2 58 3M62 6Q56 11 50 14M-4 39Q3 42 7 49M19 59Q24 54 27 48M18 59Q30 57 40 51M18 59Q31 55 44 57M27 48Q34 48 40 51M40 51Q43 53 44 57M60 5Q59 4 58 3M60 5Q54 9 50 14M55 23Q52 19 50 14M58 3Q52 7 50 14" stroke="#dcdcdc" stroke-width="0.45" fill="none" opacity="0.56"/><path d="M15 27Q12 35 11 35M31 46Q28 41 27 33M35 37Q44 39 46 47M31 -3Q36 -20 39 -36M47 39Q63 31 77 20M20 4Q38 13 49 21M22 24Q32 19 35 9M14 32Q19 27 17 24M24 26Q21 31 17 43M31 46Q40 43 55 36M11 55Q16 65 24 68M49 33Q61 34 76 38M-3 49Q-10 50 -12 46M35 47Q18 40 1 40M19 19Q13 29 9 37M33 29Q30 32 25 41M31 52Q39 54 47 52M42 36Q35 20 35 8M22 39Q11 40 -6 35M19 35Q15 53 17 66M43 40Q32 38 23 37M53 43Q57 45 67 47M47 33Q46 17 53 4M49 7Q41 7 40 3M23 33Q27 34 33 28M42 26Q47 16 51 13M50 1Q57 1 63 0M40 11Q30 10 15 8M53 44Q49 45 42 48M55 35Q61 30 70 33M9 38Q-6 40 -20 37M28 54Q15 51 3 46M21 0Q19 8 22 19M-4 19Q-1 9 5 -3M1 6Q4 0 -1 -4M37 42Q25 50 17 54M32 51Q32 69 29 80M42 -4Q40 7 38 23M47 37Q55 53 60 73M22 29Q15 18 8 8M48 32Q48 27 52 24M28 39Q22 41 17 37M51 19Q55 15 60 7M-5 -1Q-6 15 -14 33M22 3Q18 9 17 20M48 10Q41 2 35 -8M47 2Q62 16 70 26M14 12Q9 29 8 39M49 19Q61 16 68 10M47 37Q35 36 27 33M9 13Q14 26 13 46M-1 16Q-10 1 -21 -15M25 0Q17 11 14 27M10 5Q2 -9 -1 -21M37 42Q50 40 66 45M1 15Q6 2 10 -10M29 41Q41 37 50 27M50 17Q53 22 52 27M17 41Q13 55 9 61M41 17Q27 14 15 8M29 32Q35 37 37 47M9 5Q7 0 14 -6M1 12Q12 13 30 14M45 -5Q37 0 32 9M17 -4Q6 -11 0 -11M8 51Q4 60 4 62M28 -4Q31 4 35 12M35 13Q48 18 68 23M54 20Q74 26 86 36M19 38Q27 30 33 18M-5 7Q-20 7 -34 8M10 21Q13 9 21 -1M53 4Q53 19 54 30M7 -1Q-3 19 -8 32M26 35Q45 37 63 44M23 2Q28 5 32 12M18 27Q14 23 14 16M26 46Q24 32 17 19M25 42Q23 37 19 23M23 30Q27 12 33 1M28 46Q33 49 37 53M55 22Q51 23 42 22M-1 52Q-1 48 -5 43M21 -1Q29 -16 31 -30M29 14Q18 19 8 29M14 56Q9 61 4 60M0 37Q6 27 11 12M13 0Q11 13 16 28M21 32Q11 41 9 54M-3 2Q-1 15 -3 35M22 40Q17 29 9 17M7 44Q-7 36 -14 30M39 10Q43 13 52 10M11 48Q17 62 24 81M31 44Q22 52 18 53M8 6Q4 14 4 30M13 14Q-1 13 -21 10M4 47Q-11 48 -19 53M54 17Q57 24 53 30M40 6Q39 4 40 -2M26 18Q23 13 14 14M7 5Q7 -1 3 -2M25 43Q16 33 10 28M43 21Q51 30 57 35M14 9Q28 -1 41 -16M12 51Q13 45 17 42M37 29Q31 26 20 16M29 11Q42 -4 57 -12M32 39Q28 32 20 29M0 52Q-1 42 -4 34M26 12L24 6M26 12L7 5M26 12L41 11M26 12L25 -8M26 12L30 -10M26 12L19 2M26 12L19 12M26 12L-2 6M26 12L15 12M23 5L9 15M23 5L38 -15M23 5L28 17M23 5L40 13M23 5L13 26M23 5L32 16M46 3L55 -3M46 3L40 -10M46 3L24 -1M46 3L55 -21M14 23L21 2M14 23L-2 28M14 23L-7 27" stroke="#dcdcdc" stroke-width="0.35" fill="none" opacity="0.46"/><rect width="51.0" height="51.0" filter="url(#grain)" opacity="0.16"/><path d="M39.2 22.3h.6M46.5 45.5h.6M1.1 41.5h.6M19.9 15.4h.6M18.2 17.2h.6M27.6 22.7h.6M36 7.4h.6M3.3 7.2h.6M34.9 50.2h.6M31.3 33h.6M47.1 42.8h.6M29.7 25.7h.6M29.1 35.5h.6M20.9 29.9h.6M9.8 30.3h.6M13.6 43.6h.6M41 47.7h.6M19.4 26.5h.6M25.9 16.9h.6M15 38.7h.6M4.8 40.4h.6M8.3 32.3h.6M42.2 8.1h.6M36.2 27.5h.6M4.3 32.1h.6M33.9 35.8h.6M13.1 17.9h.6M46.7 23.9h.6M21.4 27.5h.6" stroke="#fff" stroke-width=".6" opacity=".8"/><path d="M35.8 31.6h1M13.8 .5h1M10 47.8h1M9.3 34.4h1M31.7 10.7h1M5.1 10.3h1M8.2 9.9h1M3.6 37.3h1M32.9 43.7h1M14.3 31h1M7.8 37.9h1M.1 44.7h1M31.4 37.4h1M18.2 48.5h1M21.7 41.7h1M22.2 46.1h1M12.9 18.1h1M31.8 20.1h1M27.8 25.7h1M37.8 12.5h1M42.9 10.6h1M41.6 16.1h1M11.8 30h1M36.2 28.2h1M46.8 5.2h1M46.1 7.4h1M27.4 17.4h1M47.7 43.3h1M39.1 24.5h1M13.8 18.9h1M44.5 33.1h1" stroke="#fff" stroke-width="1" opacity=".8"/><g fill="url(#glow)"><circle cx="25.5" cy="11.7" r="11.4"/><circle cx="23.5" cy="4.6" r="7.6"/><circle cx="45.9" cy="2.6" r="5.7"/><circle cx="14.3" cy="22.9" r="3.8"/></g><g fill="#e0e0e0" filter="url(#cl)"><circle cx="25.5" cy="11.7" r="4.5"/><circle cx="23.8" cy="10.1" r="4.4"/><circle cx="27.6" cy="11.8" r="3.2"/><circle cx="25.9" cy="13.7" r="3.6"/><circle cx="22.3" cy="11.7" r="4.0"/><circle cx="27.7" cy="12.7" r="2.8"/><circle cx="21.9" cy="13.8" r="4.1"/></g><g fill="#e8e8e8" filter="url(#bl)"><circle cx="23.5" cy="4.6" r="3.8"/><circle cx="25.0" cy="5.8" r="2.6"/><circle cx="23.7" cy="6.6" r="2.5"/><circle cx="45.9" cy="2.6" r="2.8"/><circle cx="47.0" cy="3.5" r="2.1"/><circle cx="44.5" cy="2.1" r="1.5"/><circle cx="14.3" cy="22.9" r="1.9"/></g></svg>
<rect x="500.8" y="377.4" width="5.8" height="1.6" fill="#fff"/>
<text x="463.6" y="389.9" font-size="8.9" fill="#fff" font-weight="bold" textLength="40.5" lengthAdjust="spacingAndGlyphs">HB9-tGFP</text>
<line x1="40.6" y1="67.5" x2="246" y2="67.5" stroke="#222" stroke-width="0.8" stroke-dasharray="1 1.1"/>
<path d="M43.4 45.1V50.4M42.3 45.1h2.2M42.3 50.4h2.2M47.5 40.6V45.1M46.4 40.6h2.2M46.4 45.1h2.2M51.5 33.9V40.0M50.4 33.9h2.2M50.4 40.0h2.2M55.6 29.0V33.0M54.5 29.0h2.2M54.5 33.0h2.2M59.7 23.4V28.8M58.6 23.4h2.2M58.6 28.8h2.2M63.8 21.3V26.0M62.6 21.3h2.2M62.6 26.0h2.2M67.8 20.3V24.0M66.7 20.3h2.2M66.7 24.0h2.2M71.9 18.8V23.6M70.8 18.8h2.2M70.8 23.6h2.2M76.0 17.5V20.8M74.9 17.5h2.2M74.9 20.8h2.2M80.0 15.1V19.3M78.9 15.1h2.2M78.9 19.3h2.2M84.1 11.9V15.1M83.0 11.9h2.2M83.0 15.1h2.2M88.2 8.8V11.9M87.1 8.8h2.2M87.1 11.9h2.2M92.2 5.5V9.2M91.1 5.5h2.2M91.1 9.2h2.2M96.3 4.7V9.6M95.2 4.7h2.2M95.2 9.6h2.2M100.4 5.7V9.0M99.3 5.7h2.2M99.3 9.0h2.2M104.5 6.4V10.2M103.4 6.4h2.2M103.4 10.2h2.2M108.5 8.2V13.3M107.4 8.2h2.2M107.4 13.3h2.2M112.6 9.5V15.7M111.5 9.5h2.2M111.5 15.7h2.2M116.7 12.2V17.5M115.6 12.2h2.2M115.6 17.5h2.2M120.7 14.7V19.7M119.6 14.7h2.2M119.6 19.7h2.2M124.8 15.6V22.7M123.7 15.6h2.2M123.7 22.7h2.2M128.9 18.3V22.5M127.8 18.3h2.2M127.8 22.5h2.2M132.9 20.5V27.7M131.8 20.5h2.2M131.8 27.7h2.2M137.0 24.5V29.7M135.9 24.5h2.2M135.9 29.7h2.2M141.1 27.7V32.4M140.0 27.7h2.2M140.0 32.4h2.2M145.2 30.7V35.3M144.1 30.7h2.2M144.1 35.3h2.2M149.2 33.3V38.6M148.1 33.3h2.2M148.1 38.6h2.2M153.3 32.6V39.7M152.2 32.6h2.2M152.2 39.7h2.2M157.4 37.6V42.4M156.3 37.6h2.2M156.3 42.4h2.2M161.4 37.7V43.9M160.3 37.7h2.2M160.3 43.9h2.2M165.5 40.6V47.0M164.4 40.6h2.2M164.4 47.0h2.2M169.6 43.4V48.8M168.5 43.4h2.2M168.5 48.8h2.2M173.6 46.1V52.2M172.5 46.1h2.2M172.5 52.2h2.2M177.7 48.6V52.9M176.6 48.6h2.2M176.6 52.9h2.2M181.8 53.9V58.2M180.7 53.9h2.2M180.7 58.2h2.2M185.9 55.9V60.8M184.8 55.9h2.2M184.8 60.8h2.2M189.9 57.4V64.0M188.8 57.4h2.2M188.8 64.0h2.2M194.0 62.5V68.2M192.9 62.5h2.2M192.9 68.2h2.2M198.1 64.2V69.4M197.0 64.2h2.2M197.0 69.4h2.2M202.1 64.5V70.5M201.0 64.5h2.2M201.0 70.5h2.2M206.2 68.0V73.5M205.1 68.0h2.2M205.1 73.5h2.2M210.3 73.6V78.4M209.2 73.6h2.2M209.2 78.4h2.2M214.3 77.1V83.5M213.2 77.1h2.2M213.2 83.5h2.2M218.4 74.4V80.3M217.3 74.4h2.2M217.3 80.3h2.2M222.5 78.1V82.5M221.4 78.1h2.2M221.4 82.5h2.2M226.6 79.1V84.5M225.5 79.1h2.2M225.5 84.5h2.2M230.6 80.7V85.8M229.5 80.7h2.2M229.5 85.8h2.2M234.7 82.0V87.9M233.6 82.0h2.2M233.6 87.9h2.2M238.8 83.5V88.9M237.7 83.5h2.2M237.7 88.9h2.2M242.8 84.8V88.9M241.7 84.8h2.2M241.7 88.9h2.2M246.9 85.3V91.1M245.8 85.3h2.2M245.8 91.1h2.2M251.0 87.5V90.9M249.9 87.5h2.2M249.9 90.9h2.2M255.0 87.6V91.8M253.9 87.6h2.2M253.9 91.8h2.2M259.1 87.7V92.6M258.0 87.7h2.2M258.0 92.6h2.2M263.2 89.0V92.3M262.1 89.0h2.2M262.1 92.3h2.2M267.2 90.1V94.2M266.1 90.1h2.2M266.1 94.2h2.2M271.3 92.1V95.0M270.2 92.1h2.2M270.2 95.0h2.2" stroke="#ff9a9a" stroke-width="0.65" fill="none"/>
<path d="M43.4 43.5V50.1M42.3 43.5h2.2M42.3 50.1h2.2M47.5 39.4V46.3M46.4 39.4h2.2M46.4 46.3h2.2M51.5 33.8V40.0M50.4 33.8h2.2M50.4 40.0h2.2M55.6 27.4V34.6M54.5 27.4h2.2M54.5 34.6h2.2M59.7 23.5V28.7M58.6 23.5h2.2M58.6 28.7h2.2M63.8 20.8V27.4M62.6 20.8h2.2M62.6 27.4h2.2M67.8 19.5V25.8M66.7 19.5h2.2M66.7 25.8h2.2M71.9 19.0V25.2M70.8 19.0h2.2M70.8 25.2h2.2M76.0 17.3V23.1M74.9 17.3h2.2M74.9 23.1h2.2M80.0 13.7V20.8M78.9 13.7h2.2M78.9 20.8h2.2M84.1 9.5V17.0M83.0 9.5h2.2M83.0 17.0h2.2M88.2 8.6V14.4M87.1 8.6h2.2M87.1 14.4h2.2M92.2 7.8V14.3M91.1 7.8h2.2M91.1 14.3h2.2M96.3 8.4V13.0M95.2 8.4h2.2M95.2 13.0h2.2M100.4 6.6V14.1M99.3 6.6h2.2M99.3 14.1h2.2M104.5 7.6V15.4M103.4 7.6h2.2M103.4 15.4h2.2M108.5 10.4V20.1M107.4 10.4h2.2M107.4 20.1h2.2M112.6 14.5V23.9M111.5 14.5h2.2M111.5 23.9h2.2M116.7 16.6V23.8M115.6 16.6h2.2M115.6 23.8h2.2M120.7 18.5V26.6M119.6 18.5h2.2M119.6 26.6h2.2M124.8 21.1V31.1M123.7 21.1h2.2M123.7 31.1h2.2M128.9 25.7V32.4M127.8 25.7h2.2M127.8 32.4h2.2M132.9 28.2V37.8M131.8 28.2h2.2M131.8 37.8h2.2M137.0 31.9V40.0M135.9 31.9h2.2M135.9 40.0h2.2M141.1 35.0V42.8M140.0 35.0h2.2M140.0 42.8h2.2M145.2 37.6V45.2M144.1 37.6h2.2M144.1 45.2h2.2M149.2 37.7V49.9M148.1 37.7h2.2M148.1 49.9h2.2M153.3 41.2V49.5M152.2 41.2h2.2M152.2 49.5h2.2M157.4 43.0V52.2M156.3 43.0h2.2M156.3 52.2h2.2M161.4 44.0V54.3M160.3 44.0h2.2M160.3 54.3h2.2M165.5 46.2V59.8M164.4 46.2h2.2M164.4 59.8h2.2M169.6 51.0V59.5M168.5 51.0h2.2M168.5 59.5h2.2M173.6 51.3V62.4M172.5 51.3h2.2M172.5 62.4h2.2M177.7 53.2V65.2M176.6 53.2h2.2M176.6 65.2h2.2M181.8 58.7V73.3M180.7 58.7h2.2M180.7 73.3h2.2M185.9 66.8V80.6M184.8 66.8h2.2M184.8 80.6h2.2M189.9 68.5V82.3M188.8 68.5h2.2M188.8 82.3h2.2M194.0 72.8V82.5M192.9 72.8h2.2M192.9 82.5h2.2M198.1 73.7V84.0M197.0 73.7h2.2M197.0 84.0h2.2M202.1 75.8V85.5M201.0 75.8h2.2M201.0 85.5h2.2M206.2 76.5V89.3M205.1 76.5h2.2M205.1 89.3h2.2M210.3 77.8V90.7M209.2 77.8h2.2M209.2 90.7h2.2M214.3 83.3V91.1M213.2 83.3h2.2M213.2 91.1h2.2M218.4 85.3V93.1M217.3 85.3h2.2M217.3 93.1h2.2M222.5 88.2V96.1M221.4 88.2h2.2M221.4 96.1h2.2M226.6 90.3V97.9M225.5 90.3h2.2M225.5 97.9h2.2M230.6 90.8V99.4M229.5 90.8h2.2M229.5 99.4h2.2M234.7 91.6V100.5M233.6 91.6h2.2M233.6 100.5h2.2M238.8 93.6V100.6M237.7 93.6h2.2M237.7 100.6h2.2M242.8 93.3V98.9M241.7 93.3h2.2M241.7 98.9h2.2M246.9 93.5V100.7M245.8 93.5h2.2M245.8 100.7h2.2M251.0 93.7V100.5M249.9 93.7h2.2M249.9 100.5h2.2M255.0 92.4V99.8M253.9 92.4h2.2M253.9 99.8h2.2M259.1 92.8V101.4M258.0 92.8h2.2M258.0 101.4h2.2M263.2 93.5V100.7M262.1 93.5h2.2M262.1 100.7h2.2M267.2 94.0V100.2M266.1 94.0h2.2M266.1 100.2h2.2M271.3 93.9V100.2M270.2 93.9h2.2M270.2 100.2h2.2" stroke="#ffb880" stroke-width="0.65" fill="none"/>
<path d="M43.4 44.5V51.1M42.3 44.5h2.2M42.3 51.1h2.2M47.5 40.6V45.1M46.4 40.6h2.2M46.4 45.1h2.2M51.5 33.0V40.8M50.4 33.0h2.2M50.4 40.8h2.2M55.6 27.2V34.8M54.5 27.2h2.2M54.5 34.8h2.2M59.7 22.0V30.2M58.6 22.0h2.2M58.6 30.2h2.2M63.8 19.6V27.7M62.6 19.6h2.2M62.6 27.7h2.2M67.8 19.3V26.0M66.7 19.3h2.2M66.7 26.0h2.2M71.9 18.2V25.1M70.8 18.2h2.2M70.8 25.1h2.2M76.0 17.3V23.0M74.9 17.3h2.2M74.9 23.0h2.2M80.0 13.7V22.0M78.9 13.7h2.2M78.9 22.0h2.2M84.1 11.0V16.8M83.0 11.0h2.2M83.0 16.8h2.2M88.2 9.3V17.3M87.1 9.3h2.2M87.1 17.3h2.2M92.2 6.9V18.3M91.1 6.9h2.2M91.1 18.3h2.2M96.3 6.4V19.8M95.2 6.4h2.2M95.2 19.8h2.2M100.4 5.9V23.8M99.3 5.9h2.2M99.3 23.8h2.2M104.5 9.2V27.2M103.4 9.2h2.2M103.4 27.2h2.2M108.5 17.7V38.4M107.4 17.7h2.2M107.4 38.4h2.2M112.6 20.3V47.6M111.5 20.3h2.2M111.5 47.6h2.2M116.7 21.9V51.9M115.6 21.9h2.2M115.6 51.9h2.2M120.7 19.3V55.5M119.6 19.3h2.2M119.6 55.5h2.2M124.8 26.1V54.3M123.7 26.1h2.2M123.7 54.3h2.2M128.9 17.7V66.0M127.8 17.7h2.2M127.8 66.0h2.2M132.9 22.4V64.5M131.8 22.4h2.2M131.8 64.5h2.2M137.0 30.8V62.0M135.9 30.8h2.2M135.9 62.0h2.2M141.1 32.6V66.1M140.0 32.6h2.2M140.0 66.1h2.2M145.2 33.6V69.4M144.1 33.6h2.2M144.1 69.4h2.2M149.2 35.6V71.8M148.1 35.6h2.2M148.1 71.8h2.2M153.3 38.5V69.1M152.2 38.5h2.2M152.2 69.1h2.2M157.4 37.6V85.3M156.3 37.6h2.2M156.3 85.3h2.2M161.4 40.5V91.6M160.3 40.5h2.2M160.3 91.6h2.2M165.5 47.5V86.1M164.4 47.5h2.2M164.4 86.1h2.2M169.6 49.0V88.0M168.5 49.0h2.2M168.5 88.0h2.2M173.6 56.6V86.3M172.5 56.6h2.2M172.5 86.3h2.2M177.7 58.7V87.2M176.6 58.7h2.2M176.6 87.2h2.2M181.8 59.9V92.1M180.7 59.9h2.2M180.7 92.1h2.2M185.9 67.8V96.6M184.8 67.8h2.2M184.8 96.6h2.2M189.9 64.4V102.2M188.8 64.4h2.2M188.8 102.2h2.2M194.0 75.0V98.6M192.9 75.0h2.2M192.9 98.6h2.2M198.1 78.4V98.1M197.0 78.4h2.2M197.0 98.1h2.2M202.1 72.9V105.5M201.0 72.9h2.2M201.0 105.5h2.2M206.2 78.1V102.2M205.1 78.1h2.2M205.1 102.2h2.2M210.3 82.6V99.7M209.2 82.6h2.2M209.2 99.7h2.2M214.3 82.0V102.3M213.2 82.0h2.2M213.2 102.3h2.2M218.4 86.2V100.0M217.3 86.2h2.2M217.3 100.0h2.2M222.5 82.6V101.7M221.4 82.6h2.2M221.4 101.7h2.2M226.6 82.2V106.0M225.5 82.2h2.2M225.5 106.0h2.2M230.6 82.2V104.1M229.5 82.2h2.2M229.5 104.1h2.2M234.7 85.3V104.9M233.6 85.3h2.2M233.6 104.9h2.2M238.8 86.8V101.5M237.7 86.8h2.2M237.7 101.5h2.2M242.8 87.4V102.8M241.7 87.4h2.2M241.7 102.8h2.2M246.9 89.6V102.6M245.8 89.6h2.2M245.8 102.6h2.2M251.0 85.9V104.4M249.9 85.9h2.2M249.9 104.4h2.2M255.0 88.2V104.0M253.9 88.2h2.2M253.9 104.0h2.2M259.1 88.3V105.9M258.0 88.3h2.2M258.0 105.9h2.2M263.2 89.5V102.7M262.1 89.5h2.2M262.1 102.7h2.2M267.2 91.1V103.0M266.1 91.1h2.2M266.1 103.0h2.2M271.3 88.9V105.3M270.2 88.9h2.2M270.2 105.3h2.2" stroke="#dba6ff" stroke-width="0.65" fill="none"/>
<path d="M43.4 44.9V52.6M42.3 44.9h2.2M42.3 52.6h2.2M47.5 41.1V48.5M46.4 41.1h2.2M46.4 48.5h2.2M51.5 35.2V42.6M50.4 35.2h2.2M50.4 42.6h2.2M55.6 29.2V36.8M54.5 29.2h2.2M54.5 36.8h2.2M59.7 23.3V30.8M58.6 23.3h2.2M58.6 30.8h2.2M63.8 21.3V26.9M62.6 21.3h2.2M62.6 26.9h2.2M67.8 19.1V26.1M66.7 19.1h2.2M66.7 26.1h2.2M71.9 18.9V25.4M70.8 18.9h2.2M70.8 25.4h2.2M76.0 18.1V23.3M74.9 18.1h2.2M74.9 23.3h2.2M80.0 17.5V22.8M78.9 17.5h2.2M78.9 22.8h2.2M84.1 16.9V23.5M83.0 16.9h2.2M83.0 23.5h2.2M88.2 17.9V24.5M87.1 17.9h2.2M87.1 24.5h2.2M92.2 19.4V28.2M91.1 19.4h2.2M91.1 28.2h2.2M96.3 23.8V36.3M95.2 23.8h2.2M95.2 36.3h2.2M100.4 33.1V44.5M99.3 33.1h2.2M99.3 44.5h2.2M104.5 36.9V54.3M103.4 36.9h2.2M103.4 54.3h2.2M108.5 44.7V65.1M107.4 44.7h2.2M107.4 65.1h2.2M112.6 51.0V71.1M111.5 51.0h2.2M111.5 71.1h2.2M116.7 57.3V71.8M115.6 57.3h2.2M115.6 71.8h2.2M120.7 60.3V73.5M119.6 60.3h2.2M119.6 73.5h2.2M124.8 60.5V73.7M123.7 60.5h2.2M123.7 73.7h2.2M128.9 63.0V75.9M127.8 63.0h2.2M127.8 75.9h2.2M132.9 60.0V73.0M131.8 60.0h2.2M131.8 73.0h2.2M137.0 67.9V84.8M135.9 67.9h2.2M135.9 84.8h2.2M141.1 68.1V87.6M140.0 68.1h2.2M140.0 87.6h2.2M145.2 62.9V81.9M144.1 62.9h2.2M144.1 81.9h2.2M149.2 70.6V86.1M148.1 70.6h2.2M148.1 86.1h2.2M153.3 69.2V86.5M152.2 69.2h2.2M152.2 86.5h2.2M157.4 70.3V88.4M156.3 70.3h2.2M156.3 88.4h2.2M161.4 75.7V86.9M160.3 75.7h2.2M160.3 86.9h2.2M165.5 72.6V88.6M164.4 72.6h2.2M164.4 88.6h2.2M169.6 74.1V91.8M168.5 74.1h2.2M168.5 91.8h2.2M173.6 75.5V91.6M172.5 75.5h2.2M172.5 91.6h2.2M177.7 76.0V91.4M176.6 76.0h2.2M176.6 91.4h2.2M181.8 77.8V90.7M180.7 77.8h2.2M180.7 90.7h2.2M185.9 80.7V90.9M184.8 80.7h2.2M184.8 90.9h2.2M189.9 79.7V94.0M188.8 79.7h2.2M188.8 94.0h2.2M194.0 83.9V94.5M192.9 83.9h2.2M192.9 94.5h2.2M198.1 83.4V96.9M197.0 83.4h2.2M197.0 96.9h2.2M202.1 85.1V99.2M201.0 85.1h2.2M201.0 99.2h2.2M206.2 88.1V98.1M205.1 88.1h2.2M205.1 98.1h2.2M210.3 89.3V98.9M209.2 89.3h2.2M209.2 98.9h2.2M214.3 88.9V101.4M213.2 88.9h2.2M213.2 101.4h2.2M218.4 90.7V101.5M217.3 90.7h2.2M217.3 101.5h2.2M222.5 91.4V98.8M221.4 91.4h2.2M221.4 98.8h2.2M226.6 92.6V99.6M225.5 92.6h2.2M225.5 99.6h2.2M230.6 93.6V100.5M229.5 93.6h2.2M229.5 100.5h2.2M234.7 90.8V101.3M233.6 90.8h2.2M233.6 101.3h2.2M238.8 91.3V100.9M237.7 91.3h2.2M237.7 100.9h2.2M242.8 94.0V100.2M241.7 94.0h2.2M241.7 100.2h2.2M246.9 92.5V101.6M245.8 92.5h2.2M245.8 101.6h2.2M251.0 93.3V102.8M249.9 93.3h2.2M249.9 102.8h2.2M255.0 94.2V101.9M253.9 94.2h2.2M253.9 101.9h2.2M259.1 94.0V100.2M258.0 94.0h2.2M258.0 100.2h2.2M263.2 94.7V101.4M262.1 94.7h2.2M262.1 101.4h2.2M267.2 96.6V101.5M266.1 96.6h2.2M266.1 101.5h2.2M271.3 97.0V101.1M270.2 97.0h2.2M270.2 101.1h2.2" stroke="#c49ae6" stroke-width="0.65" fill="none"/>
<path d="M43.4 47.2V52.3M42.3 47.2h2.2M42.3 52.3h2.2M47.5 42.5V47.2M46.4 42.5h2.2M46.4 47.2h2.2M51.5 37.6V42.2M50.4 37.6h2.2M50.4 42.2h2.2M55.6 30.9V37.1M54.5 30.9h2.2M54.5 37.1h2.2M59.7 25.5V30.6M58.6 25.5h2.2M58.6 30.6h2.2M63.8 21.7V28.5M62.6 21.7h2.2M62.6 28.5h2.2M67.8 19.6V26.7M66.7 19.6h2.2M66.7 26.7h2.2M71.9 19.6V24.7M70.8 19.6h2.2M70.8 24.7h2.2M76.0 18.4V24.0M74.9 18.4h2.2M74.9 24.0h2.2M80.0 17.1V23.2M78.9 17.1h2.2M78.9 23.2h2.2M84.1 16.1V22.2M83.0 16.1h2.2M83.0 22.2h2.2M88.2 16.2V24.1M87.1 16.2h2.2M87.1 24.1h2.2M92.2 19.8V26.5M91.1 19.8h2.2M91.1 26.5h2.2M96.3 30.2V38.2M95.2 30.2h2.2M95.2 38.2h2.2M100.4 50.5V57.4M99.3 50.5h2.2M99.3 57.4h2.2M104.5 66.6V78.3M103.4 66.6h2.2M103.4 78.3h2.2M108.5 76.9V85.9M107.4 76.9h2.2M107.4 85.9h2.2M112.6 82.7V91.6M111.5 82.7h2.2M111.5 91.6h2.2M116.7 86.2V95.2M115.6 86.2h2.2M115.6 95.2h2.2M120.7 88.2V98.0M119.6 88.2h2.2M119.6 98.0h2.2M124.8 90.7V97.6M123.7 90.7h2.2M123.7 97.6h2.2M128.9 91.0V99.2M127.8 91.0h2.2M127.8 99.2h2.2M132.9 92.5V98.5M131.8 92.5h2.2M131.8 98.5h2.2M137.0 93.1V99.1M135.9 93.1h2.2M135.9 99.1h2.2M141.1 93.6V99.5M140.0 93.6h2.2M140.0 99.5h2.2M145.2 96.0V100.1M144.1 96.0h2.2M144.1 100.1h2.2M149.2 94.3V99.8M148.1 94.3h2.2M148.1 99.8h2.2M153.3 96.8V101.3M152.2 96.8h2.2M152.2 101.3h2.2M157.4 99.1V103.0M156.3 99.1h2.2M156.3 103.0h2.2M161.4 101.7V108.2M160.3 101.7h2.2M160.3 108.2h2.2M165.5 101.8V106.2M164.4 101.8h2.2M164.4 106.2h2.2M169.6 100.3V105.7M168.5 100.3h2.2M168.5 105.7h2.2M173.6 98.5V104.5M172.5 98.5h2.2M172.5 104.5h2.2M177.7 99.3V104.7M176.6 99.3h2.2M176.6 104.7h2.2M181.8 100.7V105.3M180.7 100.7h2.2M180.7 105.3h2.2M185.9 101.4V106.6M184.8 101.4h2.2M184.8 106.6h2.2M189.9 100.4V105.6M188.8 100.4h2.2M188.8 105.6h2.2M194.0 93.6V99.5M192.9 93.6h2.2M192.9 99.5h2.2M198.1 102.4V106.2M197.0 102.4h2.2M197.0 106.2h2.2M202.1 100.4V105.6M201.0 100.4h2.2M201.0 105.6h2.2M206.2 99.9V104.1M205.1 99.9h2.2M205.1 104.1h2.2M210.3 100.9V105.1M209.2 100.9h2.2M209.2 105.1h2.2M214.3 101.2V106.7M213.2 101.2h2.2M213.2 106.7h2.2M218.4 101.1V105.8M217.3 101.1h2.2M217.3 105.8h2.2M222.5 100.6V105.4M221.4 100.6h2.2M221.4 105.4h2.2M226.6 100.8V106.1M225.5 100.8h2.2M225.5 106.1h2.2M230.6 101.2V106.8M229.5 101.2h2.2M229.5 106.8h2.2M234.7 99.9V104.2M233.6 99.9h2.2M233.6 104.2h2.2M238.8 100.6V105.3M237.7 100.6h2.2M237.7 105.3h2.2M242.8 100.3V104.7M241.7 100.3h2.2M241.7 104.7h2.2M246.9 99.8V104.2M245.8 99.8h2.2M245.8 104.2h2.2M251.0 100.1V104.9M249.9 100.1h2.2M249.9 104.9h2.2M255.0 101.0V105.0M253.9 101.0h2.2M253.9 105.0h2.2M259.1 100.4V104.6M258.0 100.4h2.2M258.0 104.6h2.2M263.2 100.0V104.0M262.1 100.0h2.2M262.1 104.0h2.2M267.2 100.0V105.0M266.1 100.0h2.2M266.1 105.0h2.2M271.3 100.8V105.2M270.2 100.8h2.2M270.2 105.2h2.2" stroke="#8cff8c" stroke-width="0.65" fill="none"/>
<path d="M43.4 49.3V54.1M42.3 49.3h2.2M42.3 54.1h2.2M47.5 45.3V50.3M46.4 45.3h2.2M46.4 50.3h2.2M51.5 42.1V45.5M50.4 42.1h2.2M50.4 45.5h2.2M55.6 35.9V40.0M54.5 35.9h2.2M54.5 40.0h2.2M59.7 29.5V34.5M58.6 29.5h2.2M58.6 34.5h2.2M63.8 25.7V30.4M62.6 25.7h2.2M62.6 30.4h2.2M67.8 24.1V27.1M66.7 24.1h2.2M66.7 27.1h2.2M71.9 22.6V25.6M70.8 22.6h2.2M70.8 25.6h2.2M76.0 20.7V24.5M74.9 20.7h2.2M74.9 24.5h2.2M80.0 21.7V24.6M78.9 21.7h2.2M78.9 24.6h2.2M84.1 23.4V26.8M83.0 23.4h2.2M83.0 26.8h2.2M88.2 26.5V31.6M87.1 26.5h2.2M87.1 31.6h2.2M92.2 40.4V51.2M91.1 40.4h2.2M91.1 51.2h2.2M96.3 68.2V78.6M95.2 68.2h2.2M95.2 78.6h2.2M100.4 76.4V86.2M99.3 76.4h2.2M99.3 86.2h2.2M104.5 82.5V88.0M103.4 82.5h2.2M103.4 88.0h2.2M108.5 83.9V90.6M107.4 83.9h2.2M107.4 90.6h2.2M112.6 89.4V94.9M111.5 89.4h2.2M111.5 94.9h2.2M116.7 96.5V99.6M115.6 96.5h2.2M115.6 99.6h2.2M120.7 98.6V103.4M119.6 98.6h2.2M119.6 103.4h2.2M124.8 100.5V105.5M123.7 100.5h2.2M123.7 105.5h2.2M128.9 103.4V106.6M127.8 103.4h2.2M127.8 106.6h2.2M132.9 103.5V108.4M131.8 103.5h2.2M131.8 108.4h2.2M137.0 103.7V107.3M135.9 103.7h2.2M135.9 107.3h2.2M141.1 103.1V106.8M140.0 103.1h2.2M140.0 106.8h2.2M145.2 103.5V108.4M144.1 103.5h2.2M144.1 108.4h2.2M149.2 102.7V107.2M148.1 102.7h2.2M148.1 107.2h2.2M153.3 104.5V107.4M152.2 104.5h2.2M152.2 107.4h2.2M157.4 102.2V105.7M156.3 102.2h2.2M156.3 105.7h2.2M161.4 100.6V104.3M160.3 100.6h2.2M160.3 104.3h2.2M165.5 100.4V103.7M164.4 100.4h2.2M164.4 103.7h2.2M169.6 102.5V105.5M168.5 102.5h2.2M168.5 105.5h2.2M173.6 100.8V104.0M172.5 100.8h2.2M172.5 104.0h2.2M177.7 101.0V105.0M176.6 101.0h2.2M176.6 105.0h2.2M181.8 100.3V102.8M180.7 100.3h2.2M180.7 102.8h2.2M185.9 99.7V103.3M184.8 99.7h2.2M184.8 103.3h2.2M189.9 95.8V99.2M188.8 95.8h2.2M188.8 99.2h2.2M194.0 104.7V107.2M192.9 104.7h2.2M192.9 107.2h2.2M198.1 99.0V102.1M197.0 99.0h2.2M197.0 102.1h2.2M202.1 98.2V101.9M201.0 98.2h2.2M201.0 101.9h2.2M206.2 98.8V102.2M205.1 98.8h2.2M205.1 102.2h2.2M210.3 102.7V105.2M209.2 102.7h2.2M209.2 105.2h2.2M214.3 101.3V105.6M213.2 101.3h2.2M213.2 105.6h2.2M218.4 104.0V107.9M217.3 104.0h2.2M217.3 107.9h2.2M222.5 102.9V107.1M221.4 102.9h2.2M221.4 107.1h2.2M226.6 105.7V108.2M225.5 105.7h2.2M225.5 108.2h2.2M230.6 103.6V106.4M229.5 103.6h2.2M229.5 106.4h2.2M234.7 105.8V108.1M233.6 105.8h2.2M233.6 108.1h2.2M238.8 104.1V107.8M237.7 104.1h2.2M237.7 107.8h2.2M242.8 103.6V106.3M241.7 103.6h2.2M241.7 106.3h2.2M246.9 105.7V108.2M245.8 105.7h2.2M245.8 108.2h2.2M251.0 104.5V107.4M249.9 104.5h2.2M249.9 107.4h2.2M255.0 103.1V106.9M253.9 103.1h2.2M253.9 106.9h2.2M259.1 105.1V108.7M258.0 105.1h2.2M258.0 108.7h2.2M263.2 105.7V108.2M262.1 105.7h2.2M262.1 108.2h2.2M267.2 104.8V107.1M266.1 104.8h2.2M266.1 107.1h2.2M271.3 105.1V108.8M270.2 105.1h2.2M270.2 108.8h2.2" stroke="#9a9a9a" stroke-width="0.65" fill="none"/>
<path d="M43.4 48.7V52.8M42.3 48.7h2.2M42.3 52.8h2.2M47.5 44.6V49.0M46.4 44.6h2.2M46.4 49.0h2.2M51.5 40.4V43.4M50.4 40.4h2.2M50.4 43.4h2.2M55.6 34.5V37.4M54.5 34.5h2.2M54.5 37.4h2.2M59.7 27.8V32.2M58.6 27.8h2.2M58.6 32.2h2.2M63.8 25.2V29.0M62.6 25.2h2.2M62.6 29.0h2.2M67.8 23.1V26.1M66.7 23.1h2.2M66.7 26.1h2.2M71.9 20.6V25.6M70.8 20.6h2.2M70.8 25.6h2.2M76.0 20.0V24.3M74.9 20.0h2.2M74.9 24.3h2.2M80.0 20.0V24.7M78.9 20.0h2.2M78.9 24.7h2.2M84.1 22.9V25.9M83.0 22.9h2.2M83.0 25.9h2.2M88.2 23.3V32.8M87.1 23.3h2.2M87.1 32.8h2.2M92.2 47.3V56.1M91.1 47.3h2.2M91.1 56.1h2.2M96.3 71.4V83.4M95.2 71.4h2.2M95.2 83.4h2.2M100.4 79.4V87.1M99.3 79.4h2.2M99.3 87.1h2.2M104.5 81.9V88.6M103.4 81.9h2.2M103.4 88.6h2.2M108.5 83.7V90.8M107.4 83.7h2.2M107.4 90.8h2.2M112.6 88.1V96.2M111.5 88.1h2.2M111.5 96.2h2.2M116.7 93.5V98.6M115.6 93.5h2.2M115.6 98.6h2.2M120.7 95.3V99.9M119.6 95.3h2.2M119.6 99.9h2.2M124.8 96.7V102.6M123.7 96.7h2.2M123.7 102.6h2.2M128.9 97.6V102.5M127.8 97.6h2.2M127.8 102.5h2.2M132.9 92.1V96.5M131.8 92.1h2.2M131.8 96.5h2.2M137.0 96.0V100.5M135.9 96.0h2.2M135.9 100.5h2.2M141.1 100.0V104.1M140.0 100.0h2.2M140.0 104.1h2.2M145.2 97.4V101.9M144.1 97.4h2.2M144.1 101.9h2.2M149.2 100.9V105.7M148.1 100.9h2.2M148.1 105.7h2.2M153.3 95.9V100.7M152.2 95.9h2.2M152.2 100.7h2.2M157.4 98.9V105.1M156.3 98.9h2.2M156.3 105.1h2.2M161.4 100.1V104.7M160.3 100.1h2.2M160.3 104.7h2.2M165.5 99.9V105.1M164.4 99.9h2.2M164.4 105.1h2.2M169.6 102.1V106.3M168.5 102.1h2.2M168.5 106.3h2.2M173.6 103.6V108.3M172.5 103.6h2.2M172.5 108.3h2.2M177.7 104.1V107.8M176.6 104.1h2.2M176.6 107.8h2.2M181.8 100.8V105.2M180.7 100.8h2.2M180.7 105.2h2.2M185.9 105.2V108.7M184.8 105.2h2.2M184.8 108.7h2.2M189.9 104.1V109.8M188.8 104.1h2.2M188.8 109.8h2.2M194.0 102.4V107.5M192.9 102.4h2.2M192.9 107.5h2.2M198.1 96.1V100.1M197.0 96.1h2.2M197.0 100.1h2.2M202.1 103.6V108.3M201.0 103.6h2.2M201.0 108.3h2.2M206.2 99.0V105.0M205.1 99.0h2.2M205.1 105.0h2.2M210.3 103.2V106.8M209.2 103.2h2.2M209.2 106.8h2.2M214.3 104.2V109.7M213.2 104.2h2.2M213.2 109.7h2.2M218.4 105.7V110.1M217.3 105.7h2.2M217.3 110.1h2.2M222.5 104.7V109.2M221.4 104.7h2.2M221.4 109.2h2.2M226.6 105.2V110.6M225.5 105.2h2.2M225.5 110.6h2.2M230.6 105.3V109.5M229.5 105.3h2.2M229.5 109.5h2.2M234.7 105.7V110.1M233.6 105.7h2.2M233.6 110.1h2.2M238.8 104.5V109.4M237.7 104.5h2.2M237.7 109.4h2.2M242.8 105.1V110.7M241.7 105.1h2.2M241.7 110.7h2.2M246.9 105.5V109.4M245.8 105.5h2.2M245.8 109.4h2.2M251.0 105.4V110.4M249.9 105.4h2.2M249.9 110.4h2.2M255.0 104.6V109.3M253.9 104.6h2.2M253.9 109.3h2.2M259.1 105.7V110.1M258.0 105.7h2.2M258.0 110.1h2.2M263.2 106.0V109.8M262.1 106.0h2.2M262.1 109.8h2.2M267.2 105.6V109.2M266.1 105.6h2.2M266.1 109.2h2.2M271.3 106.5V109.4M270.2 106.5h2.2M270.2 109.4h2.2" stroke="#8c8cff" stroke-width="0.65" fill="none"/>
<path d="M43.4 50.4V55.0M42.3 50.4h2.2M42.3 55.0h2.2M47.5 46.5V51.1M46.4 46.5h2.2M46.4 51.1h2.2M51.5 40.1V47.5M50.4 40.1h2.2M50.4 47.5h2.2M55.6 35.0V40.8M54.5 35.0h2.2M54.5 40.8h2.2M59.7 29.2V34.8M58.6 29.2h2.2M58.6 34.8h2.2M63.8 25.3V30.8M62.6 25.3h2.2M62.6 30.8h2.2M67.8 20.5V29.7M66.7 20.5h2.2M66.7 29.7h2.2M71.9 18.3V28.0M70.8 18.3h2.2M70.8 28.0h2.2M76.0 12.5V29.9M74.9 12.5h2.2M74.9 29.9h2.2M80.0 20.7V41.3M78.9 20.7h2.2M78.9 41.3h2.2M84.1 22.7V44.9M83.0 22.7h2.2M83.0 44.9h2.2M88.2 29.7V55.0M87.1 29.7h2.2M87.1 55.0h2.2M92.2 43.2V74.0M91.1 43.2h2.2M91.1 74.0h2.2M96.3 70.1V92.1M95.2 70.1h2.2M95.2 92.1h2.2M100.4 75.9V98.8M99.3 75.9h2.2M99.3 98.8h2.2M104.5 80.7V97.6M103.4 80.7h2.2M103.4 97.6h2.2M108.5 80.1V100.3M107.4 80.1h2.2M107.4 100.3h2.2M112.6 81.7V100.7M111.5 81.7h2.2M111.5 100.7h2.2M116.7 86.0V100.2M115.6 86.0h2.2M115.6 100.2h2.2M120.7 88.7V99.5M119.6 88.7h2.2M119.6 99.5h2.2M124.8 86.8V102.0M123.7 86.8h2.2M123.7 102.0h2.2M128.9 90.3V99.9M127.8 90.3h2.2M127.8 99.9h2.2M132.9 91.6V100.6M131.8 91.6h2.2M131.8 100.6h2.2M137.0 92.2V99.0M135.9 92.2h2.2M135.9 99.0h2.2M141.1 91.6V100.6M140.0 91.6h2.2M140.0 100.6h2.2M145.2 92.3V101.8M144.1 92.3h2.2M144.1 101.8h2.2M149.2 91.3V100.9M148.1 91.3h2.2M148.1 100.9h2.2M153.3 89.2V97.1M152.2 89.2h2.2M152.2 97.1h2.2M157.4 86.4V95.9M156.3 86.4h2.2M156.3 95.9h2.2M161.4 85.9V92.5M160.3 85.9h2.2M160.3 92.5h2.2M165.5 90.3V98.4M164.4 90.3h2.2M164.4 98.4h2.2M169.6 88.6V95.7M168.5 88.6h2.2M168.5 95.7h2.2M173.6 88.8V97.5M172.5 88.8h2.2M172.5 97.5h2.2M177.7 90.8V97.5M176.6 90.8h2.2M176.6 97.5h2.2M181.8 93.8V100.3M180.7 93.8h2.2M180.7 100.3h2.2M185.9 91.5V99.5M184.8 91.5h2.2M184.8 99.5h2.2M189.9 90.8V98.4M188.8 90.8h2.2M188.8 98.4h2.2M194.0 89.4V98.8M192.9 89.4h2.2M192.9 98.8h2.2M198.1 87.9V97.0M197.0 87.9h2.2M197.0 97.0h2.2M202.1 87.3V97.5M201.0 87.3h2.2M201.0 97.5h2.2M206.2 86.8V96.5M205.1 86.8h2.2M205.1 96.5h2.2M210.3 91.1V101.0M209.2 91.1h2.2M209.2 101.0h2.2M214.3 89.8V100.4M213.2 89.8h2.2M213.2 100.4h2.2M218.4 90.1V98.2M217.3 90.1h2.2M217.3 98.2h2.2M222.5 93.2V100.9M221.4 93.2h2.2M221.4 100.9h2.2M226.6 92.6V103.6M225.5 92.6h2.2M225.5 103.6h2.2M230.6 93.7V100.4M229.5 93.7h2.2M229.5 100.4h2.2M234.7 94.3V103.8M233.6 94.3h2.2M233.6 103.8h2.2M238.8 93.5V102.6M237.7 93.5h2.2M237.7 102.6h2.2M242.8 96.0V102.1M241.7 96.0h2.2M241.7 102.1h2.2M246.9 93.1V103.0M245.8 93.1h2.2M245.8 103.0h2.2M251.0 95.0V105.1M249.9 95.0h2.2M249.9 105.1h2.2M255.0 94.7V103.4M253.9 94.7h2.2M253.9 103.4h2.2M259.1 95.4V104.6M258.0 95.4h2.2M258.0 104.6h2.2M263.2 94.3V103.8M262.1 94.3h2.2M262.1 103.8h2.2M267.2 96.9V103.2M266.1 96.9h2.2M266.1 103.2h2.2M271.3 96.0V104.0M270.2 96.0h2.2M270.2 104.0h2.2" stroke="#d8a0ff" stroke-width="0.65" fill="none"/>
<path d="M43.4 39.9V47.8M42.3 39.9h2.2M42.3 47.8h2.2M47.5 35.1V44.7M46.4 35.1h2.2M46.4 44.7h2.2M51.5 29.1V38.8M50.4 29.1h2.2M50.4 38.8h2.2M55.6 23.0V33.1M54.5 23.0h2.2M54.5 33.1h2.2M59.7 19.1V28.1M58.6 19.1h2.2M58.6 28.1h2.2M63.8 17.3V28.0M62.6 17.3h2.2M62.6 28.0h2.2M67.8 18.2V28.1M66.7 18.2h2.2M66.7 28.1h2.2M71.9 18.1V28.2M70.8 18.1h2.2M70.8 28.2h2.2M76.0 15.8V23.5M74.9 15.8h2.2M74.9 23.5h2.2M80.0 15.8V22.6M78.9 15.8h2.2M78.9 22.6h2.2M84.1 16.5V23.9M83.0 16.5h2.2M83.0 23.9h2.2M88.2 15.2V24.1M87.1 15.2h2.2M87.1 24.1h2.2M92.2 17.0V24.5M91.1 17.0h2.2M91.1 24.5h2.2M96.3 12.8V29.9M95.2 12.8h2.2M95.2 29.9h2.2M100.4 14.4V33.8M99.3 14.4h2.2M99.3 33.8h2.2M104.5 20.7V45.7M103.4 20.7h2.2M103.4 45.7h2.2M108.5 31.8V61.5M107.4 31.8h2.2M107.4 61.5h2.2M112.6 41.9V73.9M111.5 41.9h2.2M111.5 73.9h2.2M116.7 49.3V79.4M115.6 49.3h2.2M115.6 79.4h2.2M120.7 57.7V79.8M119.6 57.7h2.2M119.6 79.8h2.2M124.8 53.4V92.2M123.7 53.4h2.2M123.7 92.2h2.2M128.9 57.7V97.0M127.8 57.7h2.2M127.8 97.0h2.2M132.9 56.1V91.7M131.8 56.1h2.2M131.8 91.7h2.2M137.0 65.1V100.1M135.9 65.1h2.2M135.9 100.1h2.2M141.1 56.3V92.6M140.0 56.3h2.2M140.0 92.6h2.2M145.2 68.5V92.1M144.1 68.5h2.2M144.1 92.1h2.2M149.2 70.8V106.0M148.1 70.8h2.2M148.1 106.0h2.2M153.3 70.7V95.9M152.2 70.7h2.2M152.2 95.9h2.2M157.4 79.0V100.2M156.3 79.0h2.2M156.3 100.2h2.2M161.4 74.5V97.9M160.3 74.5h2.2M160.3 97.9h2.2M165.5 74.8V104.4M164.4 74.8h2.2M164.4 104.4h2.2M169.6 80.9V101.4M168.5 80.9h2.2M168.5 101.4h2.2M173.6 82.0V109.0M172.5 82.0h2.2M172.5 109.0h2.2M177.7 84.1V113.0M176.6 84.1h2.2M176.6 113.0h2.2M181.8 89.4V110.6M180.7 89.4h2.2M180.7 110.6h2.2M185.9 89.0V107.7M184.8 89.0h2.2M184.8 107.7h2.2M189.9 85.0V103.7M188.8 85.0h2.2M188.8 103.7h2.2M194.0 79.9V99.6M192.9 79.9h2.2M192.9 99.6h2.2M198.1 80.6V99.8M197.0 80.6h2.2M197.0 99.8h2.2M202.1 88.4V104.8M201.0 88.4h2.2M201.0 104.8h2.2M206.2 86.1V101.5M205.1 86.1h2.2M205.1 101.5h2.2M210.3 95.8V105.5M209.2 95.8h2.2M209.2 105.5h2.2M214.3 96.9V106.2M213.2 96.9h2.2M213.2 106.2h2.2M218.4 99.1V108.8M217.3 99.1h2.2M217.3 108.8h2.2M222.5 96.7V109.3M221.4 96.7h2.2M221.4 109.3h2.2M226.6 100.3V109.6M225.5 100.3h2.2M225.5 109.6h2.2M230.6 98.7V109.3M229.5 98.7h2.2M229.5 109.3h2.2M234.7 101.5V108.4M233.6 101.5h2.2M233.6 108.4h2.2M238.8 99.6V106.4M237.7 99.6h2.2M237.7 106.4h2.2M242.8 101.1V108.8M241.7 101.1h2.2M241.7 108.8h2.2M246.9 99.3V108.6M245.8 99.3h2.2M245.8 108.6h2.2M251.0 100.5V109.4M249.9 100.5h2.2M249.9 109.4h2.2M255.0 100.8V109.2M253.9 100.8h2.2M253.9 109.2h2.2M259.1 100.8V107.1M258.0 100.8h2.2M258.0 107.1h2.2M263.2 102.5V109.4M262.1 102.5h2.2M262.1 109.4h2.2M267.2 101.9V108.1M266.1 101.9h2.2M266.1 108.1h2.2M271.3 103.1V108.9M270.2 103.1h2.2M270.2 108.9h2.2" stroke="#ffaa78" stroke-width="0.65" fill="none"/>
<polyline points="43.4,47.8 47.5,42.8 51.5,36.9 55.6,31.0 59.7,26.1 63.8,23.6 67.8,22.1 71.9,21.2 76.0,19.2 80.0,17.2 84.1,13.5 88.2,10.3 92.2,7.4 96.3,7.2 100.4,7.4 104.5,8.3 108.5,10.7 112.6,12.6 116.7,14.8 120.7,17.2 124.8,19.2 128.9,20.4 132.9,24.1 137.0,27.1 141.1,30.0 145.2,33.0 149.2,35.9 153.3,36.1 157.4,40.0 161.4,40.8 165.5,43.8 169.6,46.1 173.6,49.2 177.7,50.7 181.8,56.1 185.9,58.3 189.9,60.7 194.0,65.3 198.1,66.8 202.1,67.5 206.2,70.8 210.3,76.0 214.3,80.3 218.4,77.4 222.5,80.3 226.6,81.8 230.6,83.3 234.7,85.0 238.8,86.2 242.8,86.8 246.9,88.2 251.0,89.2 255.0,89.7 259.1,90.2 263.2,90.7 267.2,92.2 271.3,93.5" stroke="#ff2a2a" stroke-width="1.0" fill="none"/>
<g fill="#ee0000"><circle cx="43.4" cy="47.8" r="1.4"/><circle cx="47.5" cy="42.8" r="1.4"/><circle cx="51.5" cy="36.9" r="1.4"/><circle cx="55.6" cy="31.0" r="1.4"/><circle cx="59.7" cy="26.1" r="1.4"/><circle cx="63.8" cy="23.6" r="1.4"/><circle cx="67.8" cy="22.1" r="1.4"/><circle cx="71.9" cy="21.2" r="1.4"/><circle cx="76.0" cy="19.2" r="1.4"/><circle cx="80.0" cy="17.2" r="1.4"/><circle cx="84.1" cy="13.5" r="1.4"/><circle cx="88.2" cy="10.3" r="1.4"/><circle cx="92.2" cy="7.4" r="1.4"/><circle cx="96.3" cy="7.2" r="1.4"/><circle cx="100.4" cy="7.4" r="1.4"/><circle cx="104.5" cy="8.3" r="1.4"/><circle cx="108.5" cy="10.7" r="1.4"/><circle cx="112.6" cy="12.6" r="1.4"/><circle cx="116.7" cy="14.8" r="1.4"/><circle cx="120.7" cy="17.2" r="1.4"/><circle cx="124.8" cy="19.2" r="1.4"/><circle cx="128.9" cy="20.4" r="1.4"/><circle cx="132.9" cy="24.1" r="1.4"/><circle cx="137.0" cy="27.1" r="1.4"/><circle cx="141.1" cy="30.0" r="1.4"/><circle cx="145.2" cy="33.0" r="1.4"/><circle cx="149.2" cy="35.9" r="1.4"/><circle cx="153.3" cy="36.1" r="1.4"/><circle cx="157.4" cy="40.0" r="1.4"/><circle cx="161.4" cy="40.8" r="1.4"/><circle cx="165.5" cy="43.8" r="1.4"/><circle cx="169.6" cy="46.1" r="1.4"/><circle cx="173.6" cy="49.2" r="1.4"/><circle cx="177.7" cy="50.7" r="1.4"/><circle cx="181.8" cy="56.1" r="1.4"/><circle cx="185.9" cy="58.3" r="1.4"/><circle cx="189.9" cy="60.7" r="1.4"/><circle cx="194.0" cy="65.3" r="1.4"/><circle cx="198.1" cy="66.8" r="1.4"/><circle cx="202.1" cy="67.5" r="1.4"/><circle cx="206.2" cy="70.8" r="1.4"/><circle cx="210.3" cy="76.0" r="1.4"/><circle cx="214.3" cy="80.3" r="1.4"/><circle cx="218.4" cy="77.4" r="1.4"/><circle cx="222.5" cy="80.3" r="1.4"/><circle cx="226.6" cy="81.8" r="1.4"/><circle cx="230.6" cy="83.3" r="1.4"/><circle cx="234.7" cy="85.0" r="1.4"/><circle cx="238.8" cy="86.2" r="1.4"/><circle cx="242.8" cy="86.8" r="1.4"/><circle cx="246.9" cy="88.2" r="1.4"/><circle cx="251.0" cy="89.2" r="1.4"/><circle cx="255.0" cy="89.7" r="1.4"/><circle cx="259.1" cy="90.2" r="1.4"/><circle cx="263.2" cy="90.7" r="1.4"/><circle cx="267.2" cy="92.2" r="1.4"/><circle cx="271.3" cy="93.5" r="1.4"/></g>
<polyline points="43.4,46.8 47.5,42.8 51.5,36.9 55.6,31.0 59.7,26.1 63.8,24.1 67.8,22.6 71.9,22.1 76.0,20.2 80.0,17.2 84.1,13.3 88.2,11.5 92.2,11.0 96.3,10.7 100.4,10.3 104.5,11.5 108.5,15.2 112.6,19.2 116.7,20.2 120.7,22.5 124.8,26.1 128.9,29.0 132.9,33.0 137.0,35.9 141.1,38.9 145.2,41.4 149.2,43.8 153.3,45.3 157.4,47.6 161.4,49.2 165.5,53.0 169.6,55.3 173.6,56.9 177.7,59.2 181.8,66.0 185.9,73.7 189.9,75.4 194.0,77.7 198.1,78.8 202.1,80.6 206.2,82.9 210.3,84.3 214.3,87.2 218.4,89.2 222.5,92.2 226.6,94.1 230.6,95.1 234.7,96.1 238.8,97.1 242.8,96.1 246.9,97.1 251.0,97.1 255.0,96.1 259.1,97.1 263.2,97.1 267.2,97.1 271.3,97.1" stroke="#ff8c1a" stroke-width="1.0" fill="none"/>
<g fill="#22ee22"><circle cx="43.4" cy="46.8" r="1.4"/><circle cx="47.5" cy="42.8" r="1.4"/><circle cx="51.5" cy="36.9" r="1.4"/><circle cx="55.6" cy="31.0" r="1.4"/><circle cx="59.7" cy="26.1" r="1.4"/><circle cx="63.8" cy="24.1" r="1.4"/><circle cx="67.8" cy="22.6" r="1.4"/><circle cx="71.9" cy="22.1" r="1.4"/><circle cx="76.0" cy="20.2" r="1.4"/><circle cx="80.0" cy="17.2" r="1.4"/><circle cx="84.1" cy="13.3" r="1.4"/><circle cx="88.2" cy="11.5" r="1.4"/><circle cx="92.2" cy="11.0" r="1.4"/><circle cx="96.3" cy="10.7" r="1.4"/><circle cx="100.4" cy="10.3" r="1.4"/><circle cx="104.5" cy="11.5" r="1.4"/><circle cx="108.5" cy="15.2" r="1.4"/><circle cx="112.6" cy="19.2" r="1.4"/><circle cx="116.7" cy="20.2" r="1.4"/><circle cx="120.7" cy="22.5" r="1.4"/><circle cx="124.8" cy="26.1" r="1.4"/><circle cx="128.9" cy="29.0" r="1.4"/><circle cx="132.9" cy="33.0" r="1.4"/><circle cx="137.0" cy="35.9" r="1.4"/><circle cx="141.1" cy="38.9" r="1.4"/><circle cx="145.2" cy="41.4" r="1.4"/><circle cx="149.2" cy="43.8" r="1.4"/><circle cx="153.3" cy="45.3" r="1.4"/><circle cx="157.4" cy="47.6" r="1.4"/><circle cx="161.4" cy="49.2" r="1.4"/><circle cx="165.5" cy="53.0" r="1.4"/><circle cx="169.6" cy="55.3" r="1.4"/><circle cx="173.6" cy="56.9" r="1.4"/><circle cx="177.7" cy="59.2" r="1.4"/><circle cx="181.8" cy="66.0" r="1.4"/><circle cx="185.9" cy="73.7" r="1.4"/><circle cx="189.9" cy="75.4" r="1.4"/><circle cx="194.0" cy="77.7" r="1.4"/><circle cx="198.1" cy="78.8" r="1.4"/><circle cx="202.1" cy="80.6" r="1.4"/><circle cx="206.2" cy="82.9" r="1.4"/><circle cx="210.3" cy="84.3" r="1.4"/><circle cx="214.3" cy="87.2" r="1.4"/><circle cx="218.4" cy="89.2" r="1.4"/><circle cx="222.5" cy="92.2" r="1.4"/><circle cx="226.6" cy="94.1" r="1.4"/><circle cx="230.6" cy="95.1" r="1.4"/><circle cx="234.7" cy="96.1" r="1.4"/><circle cx="238.8" cy="97.1" r="1.4"/><circle cx="242.8" cy="96.1" r="1.4"/><circle cx="246.9" cy="97.1" r="1.4"/><circle cx="251.0" cy="97.1" r="1.4"/><circle cx="255.0" cy="96.1" r="1.4"/><circle cx="259.1" cy="97.1" r="1.4"/><circle cx="263.2" cy="97.1" r="1.4"/><circle cx="267.2" cy="97.1" r="1.4"/><circle cx="271.3" cy="97.1" r="1.4"/></g>
<polyline points="43.4,47.8 47.5,42.8 51.5,36.9 55.6,31.0 59.7,26.1 63.8,23.6 67.8,22.6 71.9,21.7 76.0,20.2 80.0,17.8 84.1,13.9 88.2,13.3 92.2,12.6 96.3,13.1 100.4,14.8 104.5,18.2 108.5,28.1 112.6,34.0 116.7,36.9 120.7,37.4 124.8,40.2 128.9,41.9 132.9,43.4 137.0,46.4 141.1,49.4 145.2,51.5 149.2,53.7 153.3,53.8 157.4,61.5 161.4,66.0 165.5,66.8 169.6,68.5 173.6,71.4 177.7,72.9 181.8,76.0 185.9,82.2 189.9,83.3 194.0,86.8 198.1,88.2 202.1,89.2 206.2,90.2 210.3,91.2 214.3,92.2 218.4,93.1 222.5,92.2 226.6,94.1 230.6,93.1 234.7,95.1 238.8,94.1 242.8,95.1 246.9,96.1 251.0,95.1 255.0,96.1 259.1,97.1 263.2,96.1 267.2,97.1 271.3,97.1" stroke="#ff8c1a" stroke-width="1.0" fill="none"/>
<g fill="#aa00ff"><circle cx="43.4" cy="47.8" r="1.4"/><circle cx="47.5" cy="42.8" r="1.4"/><circle cx="51.5" cy="36.9" r="1.4"/><circle cx="55.6" cy="31.0" r="1.4"/><circle cx="59.7" cy="26.1" r="1.4"/><circle cx="63.8" cy="23.6" r="1.4"/><circle cx="67.8" cy="22.6" r="1.4"/><circle cx="71.9" cy="21.7" r="1.4"/><circle cx="76.0" cy="20.2" r="1.4"/><circle cx="80.0" cy="17.8" r="1.4"/><circle cx="84.1" cy="13.9" r="1.4"/><circle cx="88.2" cy="13.3" r="1.4"/><circle cx="92.2" cy="12.6" r="1.4"/><circle cx="96.3" cy="13.1" r="1.4"/><circle cx="100.4" cy="14.8" r="1.4"/><circle cx="104.5" cy="18.2" r="1.4"/><circle cx="108.5" cy="28.1" r="1.4"/><circle cx="112.6" cy="34.0" r="1.4"/><circle cx="116.7" cy="36.9" r="1.4"/><circle cx="120.7" cy="37.4" r="1.4"/><circle cx="124.8" cy="40.2" r="1.4"/><circle cx="128.9" cy="41.9" r="1.4"/><circle cx="132.9" cy="43.4" r="1.4"/><circle cx="137.0" cy="46.4" r="1.4"/><circle cx="141.1" cy="49.4" r="1.4"/><circle cx="145.2" cy="51.5" r="1.4"/><circle cx="149.2" cy="53.7" r="1.4"/><circle cx="153.3" cy="53.8" r="1.4"/><circle cx="157.4" cy="61.5" r="1.4"/><circle cx="161.4" cy="66.0" r="1.4"/><circle cx="165.5" cy="66.8" r="1.4"/><circle cx="169.6" cy="68.5" r="1.4"/><circle cx="173.6" cy="71.4" r="1.4"/><circle cx="177.7" cy="72.9" r="1.4"/><circle cx="181.8" cy="76.0" r="1.4"/><circle cx="185.9" cy="82.2" r="1.4"/><circle cx="189.9" cy="83.3" r="1.4"/><circle cx="194.0" cy="86.8" r="1.4"/><circle cx="198.1" cy="88.2" r="1.4"/><circle cx="202.1" cy="89.2" r="1.4"/><circle cx="206.2" cy="90.2" r="1.4"/><circle cx="210.3" cy="91.2" r="1.4"/><circle cx="214.3" cy="92.2" r="1.4"/><circle cx="218.4" cy="93.1" r="1.4"/><circle cx="222.5" cy="92.2" r="1.4"/><circle cx="226.6" cy="94.1" r="1.4"/><circle cx="230.6" cy="93.1" r="1.4"/><circle cx="234.7" cy="95.1" r="1.4"/><circle cx="238.8" cy="94.1" r="1.4"/><circle cx="242.8" cy="95.1" r="1.4"/><circle cx="246.9" cy="96.1" r="1.4"/><circle cx="251.0" cy="95.1" r="1.4"/><circle cx="255.0" cy="96.1" r="1.4"/><circle cx="259.1" cy="97.1" r="1.4"/><circle cx="263.2" cy="96.1" r="1.4"/><circle cx="267.2" cy="97.1" r="1.4"/><circle cx="271.3" cy="97.1" r="1.4"/></g>
<polyline points="43.4,48.8 47.5,44.8 51.5,38.9 55.6,33.0 59.7,27.1 63.8,24.1 67.8,22.6 71.9,22.1 76.0,20.7 80.0,20.2 84.1,20.2 88.2,21.2 92.2,23.8 96.3,30.0 100.4,38.8 104.5,45.6 108.5,54.9 112.6,61.1 116.7,64.5 120.7,66.9 124.8,67.1 128.9,69.5 132.9,66.5 137.0,76.4 141.1,77.9 145.2,72.4 149.2,78.3 153.3,77.9 157.4,79.3 161.4,81.3 165.5,80.6 169.6,83.0 173.6,83.6 177.7,83.7 181.8,84.3 185.9,85.8 189.9,86.8 194.0,89.2 198.1,90.2 202.1,92.2 206.2,93.1 210.3,94.1 214.3,95.1 218.4,96.1 222.5,95.1 226.6,96.1 230.6,97.1 234.7,96.1 238.8,96.1 242.8,97.1 246.9,97.1 251.0,98.1 255.0,98.1 259.1,97.1 263.2,98.1 267.2,99.1 271.3,99.1" stroke="#22dd22" stroke-width="1.0" fill="none"/>
<g fill="#6a0dad"><circle cx="43.4" cy="48.8" r="1.4"/><circle cx="47.5" cy="44.8" r="1.4"/><circle cx="51.5" cy="38.9" r="1.4"/><circle cx="55.6" cy="33.0" r="1.4"/><circle cx="59.7" cy="27.1" r="1.4"/><circle cx="63.8" cy="24.1" r="1.4"/><circle cx="67.8" cy="22.6" r="1.4"/><circle cx="71.9" cy="22.1" r="1.4"/><circle cx="76.0" cy="20.7" r="1.4"/><circle cx="80.0" cy="20.2" r="1.4"/><circle cx="84.1" cy="20.2" r="1.4"/><circle cx="88.2" cy="21.2" r="1.4"/><circle cx="92.2" cy="23.8" r="1.4"/><circle cx="96.3" cy="30.0" r="1.4"/><circle cx="100.4" cy="38.8" r="1.4"/><circle cx="104.5" cy="45.6" r="1.4"/><circle cx="108.5" cy="54.9" r="1.4"/><circle cx="112.6" cy="61.1" r="1.4"/><circle cx="116.7" cy="64.5" r="1.4"/><circle cx="120.7" cy="66.9" r="1.4"/><circle cx="124.8" cy="67.1" r="1.4"/><circle cx="128.9" cy="69.5" r="1.4"/><circle cx="132.9" cy="66.5" r="1.4"/><circle cx="137.0" cy="76.4" r="1.4"/><circle cx="141.1" cy="77.9" r="1.4"/><circle cx="145.2" cy="72.4" r="1.4"/><circle cx="149.2" cy="78.3" r="1.4"/><circle cx="153.3" cy="77.9" r="1.4"/><circle cx="157.4" cy="79.3" r="1.4"/><circle cx="161.4" cy="81.3" r="1.4"/><circle cx="165.5" cy="80.6" r="1.4"/><circle cx="169.6" cy="83.0" r="1.4"/><circle cx="173.6" cy="83.6" r="1.4"/><circle cx="177.7" cy="83.7" r="1.4"/><circle cx="181.8" cy="84.3" r="1.4"/><circle cx="185.9" cy="85.8" r="1.4"/><circle cx="189.9" cy="86.8" r="1.4"/><circle cx="194.0" cy="89.2" r="1.4"/><circle cx="198.1" cy="90.2" r="1.4"/><circle cx="202.1" cy="92.2" r="1.4"/><circle cx="206.2" cy="93.1" r="1.4"/><circle cx="210.3" cy="94.1" r="1.4"/><circle cx="214.3" cy="95.1" r="1.4"/><circle cx="218.4" cy="96.1" r="1.4"/><circle cx="222.5" cy="95.1" r="1.4"/><circle cx="226.6" cy="96.1" r="1.4"/><circle cx="230.6" cy="97.1" r="1.4"/><circle cx="234.7" cy="96.1" r="1.4"/><circle cx="238.8" cy="96.1" r="1.4"/><circle cx="242.8" cy="97.1" r="1.4"/><circle cx="246.9" cy="97.1" r="1.4"/><circle cx="251.0" cy="98.1" r="1.4"/><circle cx="255.0" cy="98.1" r="1.4"/><circle cx="259.1" cy="97.1" r="1.4"/><circle cx="263.2" cy="98.1" r="1.4"/><circle cx="267.2" cy="99.1" r="1.4"/><circle cx="271.3" cy="99.1" r="1.4"/></g>
<polyline points="43.4,49.8 47.5,44.8 51.5,39.9 55.6,34.0 59.7,28.1 63.8,25.1 67.8,23.1 71.9,22.1 76.0,21.2 80.0,20.2 84.1,19.2 88.2,20.2 92.2,23.1 96.3,34.2 100.4,53.9 104.5,72.4 108.5,81.4 112.6,87.2 116.7,90.7 120.7,93.1 124.8,94.1 128.9,95.1 132.9,95.5 137.0,96.1 141.1,96.6 145.2,98.1 149.2,97.1 153.3,99.1 157.4,101.0 161.4,105.0 165.5,104.0 169.6,103.0 173.6,101.5 177.7,102.0 181.8,103.0 185.9,104.0 189.9,103.0 194.0,96.6 198.1,104.3 202.1,103.0 206.2,102.0 210.3,103.0 214.3,104.0 218.4,103.5 222.5,103.0 226.6,103.5 230.6,104.0 234.7,102.0 238.8,103.0 242.8,102.5 246.9,102.0 251.0,102.5 255.0,103.0 259.1,102.5 263.2,102.0 267.2,102.5 271.3,103.0" stroke="#00ee00" stroke-width="1.0" fill="none"/>
<g fill="#00ee00"><circle cx="43.4" cy="49.8" r="1.4"/><circle cx="47.5" cy="44.8" r="1.4"/><circle cx="51.5" cy="39.9" r="1.4"/><circle cx="55.6" cy="34.0" r="1.4"/><circle cx="59.7" cy="28.1" r="1.4"/><circle cx="63.8" cy="25.1" r="1.4"/><circle cx="67.8" cy="23.1" r="1.4"/><circle cx="71.9" cy="22.1" r="1.4"/><circle cx="76.0" cy="21.2" r="1.4"/><circle cx="80.0" cy="20.2" r="1.4"/><circle cx="84.1" cy="19.2" r="1.4"/><circle cx="88.2" cy="20.2" r="1.4"/><circle cx="92.2" cy="23.1" r="1.4"/><circle cx="96.3" cy="34.2" r="1.4"/><circle cx="100.4" cy="53.9" r="1.4"/><circle cx="104.5" cy="72.4" r="1.4"/><circle cx="108.5" cy="81.4" r="1.4"/><circle cx="112.6" cy="87.2" r="1.4"/><circle cx="116.7" cy="90.7" r="1.4"/><circle cx="120.7" cy="93.1" r="1.4"/><circle cx="124.8" cy="94.1" r="1.4"/><circle cx="128.9" cy="95.1" r="1.4"/><circle cx="132.9" cy="95.5" r="1.4"/><circle cx="137.0" cy="96.1" r="1.4"/><circle cx="141.1" cy="96.6" r="1.4"/><circle cx="145.2" cy="98.1" r="1.4"/><circle cx="149.2" cy="97.1" r="1.4"/><circle cx="153.3" cy="99.1" r="1.4"/><circle cx="157.4" cy="101.0" r="1.4"/><circle cx="161.4" cy="105.0" r="1.4"/><circle cx="165.5" cy="104.0" r="1.4"/><circle cx="169.6" cy="103.0" r="1.4"/><circle cx="173.6" cy="101.5" r="1.4"/><circle cx="177.7" cy="102.0" r="1.4"/><circle cx="181.8" cy="103.0" r="1.4"/><circle cx="185.9" cy="104.0" r="1.4"/><circle cx="189.9" cy="103.0" r="1.4"/><circle cx="194.0" cy="96.6" r="1.4"/><circle cx="198.1" cy="104.3" r="1.4"/><circle cx="202.1" cy="103.0" r="1.4"/><circle cx="206.2" cy="102.0" r="1.4"/><circle cx="210.3" cy="103.0" r="1.4"/><circle cx="214.3" cy="104.0" r="1.4"/><circle cx="218.4" cy="103.5" r="1.4"/><circle cx="222.5" cy="103.0" r="1.4"/><circle cx="226.6" cy="103.5" r="1.4"/><circle cx="230.6" cy="104.0" r="1.4"/><circle cx="234.7" cy="102.0" r="1.4"/><circle cx="238.8" cy="103.0" r="1.4"/><circle cx="242.8" cy="102.5" r="1.4"/><circle cx="246.9" cy="102.0" r="1.4"/><circle cx="251.0" cy="102.5" r="1.4"/><circle cx="255.0" cy="103.0" r="1.4"/><circle cx="259.1" cy="102.5" r="1.4"/><circle cx="263.2" cy="102.0" r="1.4"/><circle cx="267.2" cy="102.5" r="1.4"/><circle cx="271.3" cy="103.0" r="1.4"/></g>
<polyline points="43.4,51.7 47.5,47.8 51.5,43.8 55.6,37.9 59.7,32.0 63.8,28.1 67.8,25.6 71.9,24.1 76.0,22.6 80.0,23.1 84.1,25.1 88.2,29.0 92.2,45.8 96.3,73.4 100.4,81.3 104.5,85.2 108.5,87.2 112.6,92.2 116.7,98.1 120.7,101.0 124.8,103.0 128.9,105.0 132.9,106.0 137.0,105.5 141.1,105.0 145.2,106.0 149.2,105.0 153.3,106.0 157.4,104.0 161.4,102.4 165.5,102.0 169.6,104.0 173.6,102.4 177.7,103.0 181.8,101.5 185.9,101.5 189.9,97.5 194.0,106.0 198.1,100.5 202.1,100.0 206.2,100.5 210.3,104.0 214.3,103.5 218.4,106.0 222.5,105.0 226.6,106.9 230.6,105.0 234.7,106.9 238.8,106.0 242.8,105.0 246.9,106.9 251.0,106.0 255.0,105.0 259.1,106.9 263.2,106.9 267.2,106.0 271.3,106.9" stroke="#000000" stroke-width="1.0" fill="none"/>
<g fill="#000000"><circle cx="43.4" cy="51.7" r="1.4"/><circle cx="47.5" cy="47.8" r="1.4"/><circle cx="51.5" cy="43.8" r="1.4"/><circle cx="55.6" cy="37.9" r="1.4"/><circle cx="59.7" cy="32.0" r="1.4"/><circle cx="63.8" cy="28.1" r="1.4"/><circle cx="67.8" cy="25.6" r="1.4"/><circle cx="71.9" cy="24.1" r="1.4"/><circle cx="76.0" cy="22.6" r="1.4"/><circle cx="80.0" cy="23.1" r="1.4"/><circle cx="84.1" cy="25.1" r="1.4"/><circle cx="88.2" cy="29.0" r="1.4"/><circle cx="92.2" cy="45.8" r="1.4"/><circle cx="96.3" cy="73.4" r="1.4"/><circle cx="100.4" cy="81.3" r="1.4"/><circle cx="104.5" cy="85.2" r="1.4"/><circle cx="108.5" cy="87.2" r="1.4"/><circle cx="112.6" cy="92.2" r="1.4"/><circle cx="116.7" cy="98.1" r="1.4"/><circle cx="120.7" cy="101.0" r="1.4"/><circle cx="124.8" cy="103.0" r="1.4"/><circle cx="128.9" cy="105.0" r="1.4"/><circle cx="132.9" cy="106.0" r="1.4"/><circle cx="137.0" cy="105.5" r="1.4"/><circle cx="141.1" cy="105.0" r="1.4"/><circle cx="145.2" cy="106.0" r="1.4"/><circle cx="149.2" cy="105.0" r="1.4"/><circle cx="153.3" cy="106.0" r="1.4"/><circle cx="157.4" cy="104.0" r="1.4"/><circle cx="161.4" cy="102.4" r="1.4"/><circle cx="165.5" cy="102.0" r="1.4"/><circle cx="169.6" cy="104.0" r="1.4"/><circle cx="173.6" cy="102.4" r="1.4"/><circle cx="177.7" cy="103.0" r="1.4"/><circle cx="181.8" cy="101.5" r="1.4"/><circle cx="185.9" cy="101.5" r="1.4"/><circle cx="189.9" cy="97.5" r="1.4"/><circle cx="194.0" cy="106.0" r="1.4"/><circle cx="198.1" cy="100.5" r="1.4"/><circle cx="202.1" cy="100.0" r="1.4"/><circle cx="206.2" cy="100.5" r="1.4"/><circle cx="210.3" cy="104.0" r="1.4"/><circle cx="214.3" cy="103.5" r="1.4"/><circle cx="218.4" cy="106.0" r="1.4"/><circle cx="222.5" cy="105.0" r="1.4"/><circle cx="226.6" cy="106.9" r="1.4"/><circle cx="230.6" cy="105.0" r="1.4"/><circle cx="234.7" cy="106.9" r="1.4"/><circle cx="238.8" cy="106.0" r="1.4"/><circle cx="242.8" cy="105.0" r="1.4"/><circle cx="246.9" cy="106.9" r="1.4"/><circle cx="251.0" cy="106.0" r="1.4"/><circle cx="255.0" cy="105.0" r="1.4"/><circle cx="259.1" cy="106.9" r="1.4"/><circle cx="263.2" cy="106.9" r="1.4"/><circle cx="267.2" cy="106.0" r="1.4"/><circle cx="271.3" cy="106.9" r="1.4"/></g>
<polyline points="43.4,50.7 47.5,46.8 51.5,41.9 55.6,35.9 59.7,30.0 63.8,27.1 67.8,24.6 71.9,23.1 76.0,22.1 80.0,22.3 84.1,24.4 88.2,28.1 92.2,51.7 96.3,77.4 100.4,83.3 104.5,85.2 108.5,87.2 112.6,92.2 116.7,96.1 120.7,97.6 124.8,99.6 128.9,100.0 132.9,94.3 137.0,98.3 141.1,102.0 145.2,99.6 149.2,103.3 153.3,98.3 157.4,102.0 161.4,102.4 165.5,102.5 169.6,104.2 173.6,106.0 177.7,106.0 181.8,103.0 185.9,106.9 189.9,106.9 194.0,105.0 198.1,98.1 202.1,106.0 206.2,102.0 210.3,105.0 214.3,106.9 218.4,107.9 222.5,106.9 226.6,107.9 230.6,107.4 234.7,107.9 238.8,106.9 242.8,107.9 246.9,107.4 251.0,107.9 255.0,106.9 259.1,107.9 263.2,107.9 267.2,107.4 271.3,107.9" stroke="#0000ff" stroke-width="1.0" fill="none"/>
<g fill="#0000ff"><circle cx="43.4" cy="50.7" r="1.4"/><circle cx="47.5" cy="46.8" r="1.4"/><circle cx="51.5" cy="41.9" r="1.4"/><circle cx="55.6" cy="35.9" r="1.4"/><circle cx="59.7" cy="30.0" r="1.4"/><circle cx="63.8" cy="27.1" r="1.4"/><circle cx="67.8" cy="24.6" r="1.4"/><circle cx="71.9" cy="23.1" r="1.4"/><circle cx="76.0" cy="22.1" r="1.4"/><circle cx="80.0" cy="22.3" r="1.4"/><circle cx="84.1" cy="24.4" r="1.4"/><circle cx="88.2" cy="28.1" r="1.4"/><circle cx="92.2" cy="51.7" r="1.4"/><circle cx="96.3" cy="77.4" r="1.4"/><circle cx="100.4" cy="83.3" r="1.4"/><circle cx="104.5" cy="85.2" r="1.4"/><circle cx="108.5" cy="87.2" r="1.4"/><circle cx="112.6" cy="92.2" r="1.4"/><circle cx="116.7" cy="96.1" r="1.4"/><circle cx="120.7" cy="97.6" r="1.4"/><circle cx="124.8" cy="99.6" r="1.4"/><circle cx="128.9" cy="100.0" r="1.4"/><circle cx="132.9" cy="94.3" r="1.4"/><circle cx="137.0" cy="98.3" r="1.4"/><circle cx="141.1" cy="102.0" r="1.4"/><circle cx="145.2" cy="99.6" r="1.4"/><circle cx="149.2" cy="103.3" r="1.4"/><circle cx="153.3" cy="98.3" r="1.4"/><circle cx="157.4" cy="102.0" r="1.4"/><circle cx="161.4" cy="102.4" r="1.4"/><circle cx="165.5" cy="102.5" r="1.4"/><circle cx="169.6" cy="104.2" r="1.4"/><circle cx="173.6" cy="106.0" r="1.4"/><circle cx="177.7" cy="106.0" r="1.4"/><circle cx="181.8" cy="103.0" r="1.4"/><circle cx="185.9" cy="106.9" r="1.4"/><circle cx="189.9" cy="106.9" r="1.4"/><circle cx="194.0" cy="105.0" r="1.4"/><circle cx="198.1" cy="98.1" r="1.4"/><circle cx="202.1" cy="106.0" r="1.4"/><circle cx="206.2" cy="102.0" r="1.4"/><circle cx="210.3" cy="105.0" r="1.4"/><circle cx="214.3" cy="106.9" r="1.4"/><circle cx="218.4" cy="107.9" r="1.4"/><circle cx="222.5" cy="106.9" r="1.4"/><circle cx="226.6" cy="107.9" r="1.4"/><circle cx="230.6" cy="107.4" r="1.4"/><circle cx="234.7" cy="107.9" r="1.4"/><circle cx="238.8" cy="106.9" r="1.4"/><circle cx="242.8" cy="107.9" r="1.4"/><circle cx="246.9" cy="107.4" r="1.4"/><circle cx="251.0" cy="107.9" r="1.4"/><circle cx="255.0" cy="106.9" r="1.4"/><circle cx="259.1" cy="107.9" r="1.4"/><circle cx="263.2" cy="107.9" r="1.4"/><circle cx="267.2" cy="107.4" r="1.4"/><circle cx="271.3" cy="107.9" r="1.4"/></g>
<polyline points="43.4,52.7 47.5,48.8 51.5,43.8 55.6,37.9 59.7,32.0 63.8,28.1 67.8,25.1 71.9,23.1 76.0,21.2 80.0,31.0 84.1,33.8 88.2,42.3 92.2,58.6 96.3,81.1 100.4,87.3 104.5,89.1 108.5,90.2 112.6,91.2 116.7,93.1 120.7,94.1 124.8,94.4 128.9,95.1 132.9,96.1 137.0,95.6 141.1,96.1 145.2,97.1 149.2,96.1 153.3,93.1 157.4,91.2 161.4,89.2 165.5,94.3 169.6,92.2 173.6,93.1 177.7,94.1 181.8,97.1 185.9,95.5 189.9,94.6 194.0,94.1 198.1,92.4 202.1,92.4 206.2,91.7 210.3,96.1 214.3,95.1 218.4,94.1 222.5,97.1 226.6,98.1 230.6,97.1 234.7,99.1 238.8,98.1 242.8,99.1 246.9,98.1 251.0,100.0 255.0,99.1 259.1,100.0 263.2,99.1 267.2,100.0 271.3,100.0" stroke="#a000f0" stroke-width="1.0" fill="none"/>
<g fill="#a000f0"><circle cx="43.4" cy="52.7" r="1.4"/><circle cx="47.5" cy="48.8" r="1.4"/><circle cx="51.5" cy="43.8" r="1.4"/><circle cx="55.6" cy="37.9" r="1.4"/><circle cx="59.7" cy="32.0" r="1.4"/><circle cx="63.8" cy="28.1" r="1.4"/><circle cx="67.8" cy="25.1" r="1.4"/><circle cx="71.9" cy="23.1" r="1.4"/><circle cx="76.0" cy="21.2" r="1.4"/><circle cx="80.0" cy="31.0" r="1.4"/><circle cx="84.1" cy="33.8" r="1.4"/><circle cx="88.2" cy="42.3" r="1.4"/><circle cx="92.2" cy="58.6" r="1.4"/><circle cx="96.3" cy="81.1" r="1.4"/><circle cx="100.4" cy="87.3" r="1.4"/><circle cx="104.5" cy="89.1" r="1.4"/><circle cx="108.5" cy="90.2" r="1.4"/><circle cx="112.6" cy="91.2" r="1.4"/><circle cx="116.7" cy="93.1" r="1.4"/><circle cx="120.7" cy="94.1" r="1.4"/><circle cx="124.8" cy="94.4" r="1.4"/><circle cx="128.9" cy="95.1" r="1.4"/><circle cx="132.9" cy="96.1" r="1.4"/><circle cx="137.0" cy="95.6" r="1.4"/><circle cx="141.1" cy="96.1" r="1.4"/><circle cx="145.2" cy="97.1" r="1.4"/><circle cx="149.2" cy="96.1" r="1.4"/><circle cx="153.3" cy="93.1" r="1.4"/><circle cx="157.4" cy="91.2" r="1.4"/><circle cx="161.4" cy="89.2" r="1.4"/><circle cx="165.5" cy="94.3" r="1.4"/><circle cx="169.6" cy="92.2" r="1.4"/><circle cx="173.6" cy="93.1" r="1.4"/><circle cx="177.7" cy="94.1" r="1.4"/><circle cx="181.8" cy="97.1" r="1.4"/><circle cx="185.9" cy="95.5" r="1.4"/><circle cx="189.9" cy="94.6" r="1.4"/><circle cx="194.0" cy="94.1" r="1.4"/><circle cx="198.1" cy="92.4" r="1.4"/><circle cx="202.1" cy="92.4" r="1.4"/><circle cx="206.2" cy="91.7" r="1.4"/><circle cx="210.3" cy="96.1" r="1.4"/><circle cx="214.3" cy="95.1" r="1.4"/><circle cx="218.4" cy="94.1" r="1.4"/><circle cx="222.5" cy="97.1" r="1.4"/><circle cx="226.6" cy="98.1" r="1.4"/><circle cx="230.6" cy="97.1" r="1.4"/><circle cx="234.7" cy="99.1" r="1.4"/><circle cx="238.8" cy="98.1" r="1.4"/><circle cx="242.8" cy="99.1" r="1.4"/><circle cx="246.9" cy="98.1" r="1.4"/><circle cx="251.0" cy="100.0" r="1.4"/><circle cx="255.0" cy="99.1" r="1.4"/><circle cx="259.1" cy="100.0" r="1.4"/><circle cx="263.2" cy="99.1" r="1.4"/><circle cx="267.2" cy="100.0" r="1.4"/><circle cx="271.3" cy="100.0" r="1.4"/></g>
<polyline points="43.4,43.8 47.5,39.9 51.5,34.0 55.6,28.1 59.7,23.6 63.8,22.6 67.8,23.1 71.9,23.1 76.0,19.7 80.0,19.2 84.1,20.2 88.2,19.7 92.2,20.8 96.3,21.4 100.4,24.1 104.5,33.2 108.5,46.7 112.6,57.9 116.7,64.3 120.7,68.8 124.8,72.8 128.9,77.4 132.9,73.9 137.0,82.6 141.1,74.4 145.2,80.3 149.2,88.4 153.3,83.3 157.4,89.6 161.4,86.2 165.5,89.6 169.6,91.2 173.6,95.5 177.7,98.6 181.8,100.0 185.9,98.4 189.9,94.3 194.0,89.8 198.1,90.2 202.1,96.6 206.2,93.8 210.3,100.6 214.3,101.5 218.4,104.0 222.5,103.0 226.6,105.0 230.6,104.0 234.7,105.0 238.8,103.0 242.8,105.0 246.9,104.0 251.0,105.0 255.0,105.0 259.1,104.0 263.2,106.0 267.2,105.0 271.3,106.0" stroke="#ff6600" stroke-width="1.0" fill="none"/>
<g fill="#ff6600"><circle cx="43.4" cy="43.8" r="1.4"/><circle cx="47.5" cy="39.9" r="1.4"/><circle cx="51.5" cy="34.0" r="1.4"/><circle cx="55.6" cy="28.1" r="1.4"/><circle cx="59.7" cy="23.6" r="1.4"/><circle cx="63.8" cy="22.6" r="1.4"/><circle cx="67.8" cy="23.1" r="1.4"/><circle cx="71.9" cy="23.1" r="1.4"/><circle cx="76.0" cy="19.7" r="1.4"/><circle cx="80.0" cy="19.2" r="1.4"/><circle cx="84.1" cy="20.2" r="1.4"/><circle cx="88.2" cy="19.7" r="1.4"/><circle cx="92.2" cy="20.8" r="1.4"/><circle cx="96.3" cy="21.4" r="1.4"/><circle cx="100.4" cy="24.1" r="1.4"/><circle cx="104.5" cy="33.2" r="1.4"/><circle cx="108.5" cy="46.7" r="1.4"/><circle cx="112.6" cy="57.9" r="1.4"/><circle cx="116.7" cy="64.3" r="1.4"/><circle cx="120.7" cy="68.8" r="1.4"/><circle cx="124.8" cy="72.8" r="1.4"/><circle cx="128.9" cy="77.4" r="1.4"/><circle cx="132.9" cy="73.9" r="1.4"/><circle cx="137.0" cy="82.6" r="1.4"/><circle cx="141.1" cy="74.4" r="1.4"/><circle cx="145.2" cy="80.3" r="1.4"/><circle cx="149.2" cy="88.4" r="1.4"/><circle cx="153.3" cy="83.3" r="1.4"/><circle cx="157.4" cy="89.6" r="1.4"/><circle cx="161.4" cy="86.2" r="1.4"/><circle cx="165.5" cy="89.6" r="1.4"/><circle cx="169.6" cy="91.2" r="1.4"/><circle cx="173.6" cy="95.5" r="1.4"/><circle cx="177.7" cy="98.6" r="1.4"/><circle cx="181.8" cy="100.0" r="1.4"/><circle cx="185.9" cy="98.4" r="1.4"/><circle cx="189.9" cy="94.3" r="1.4"/><circle cx="194.0" cy="89.8" r="1.4"/><circle cx="198.1" cy="90.2" r="1.4"/><circle cx="202.1" cy="96.6" r="1.4"/><circle cx="206.2" cy="93.8" r="1.4"/><circle cx="210.3" cy="100.6" r="1.4"/><circle cx="214.3" cy="101.5" r="1.4"/><circle cx="218.4" cy="104.0" r="1.4"/><circle cx="222.5" cy="103.0" r="1.4"/><circle cx="226.6" cy="105.0" r="1.4"/><circle cx="230.6" cy="104.0" r="1.4"/><circle cx="234.7" cy="105.0" r="1.4"/><circle cx="238.8" cy="103.0" r="1.4"/><circle cx="242.8" cy="105.0" r="1.4"/><circle cx="246.9" cy="104.0" r="1.4"/><circle cx="251.0" cy="105.0" r="1.4"/><circle cx="255.0" cy="105.0" r="1.4"/><circle cx="259.1" cy="104.0" r="1.4"/><circle cx="263.2" cy="106.0" r="1.4"/><circle cx="267.2" cy="105.0" r="1.4"/><circle cx="271.3" cy="106.0" r="1.4"/></g>
<line x1="40.6" y1="6" x2="40.6" y2="117.2" stroke="#555" stroke-width="0.7"/>
<line x1="40.2" y1="116.8" x2="274.5" y2="116.8" stroke="#999" stroke-width="0.7"/>
<path d="M43.4 116.8v1.9M47.5 116.8v1.9M51.5 116.8v1.9M55.6 116.8v1.9M59.7 116.8v1.9M63.8 116.8v1.9M67.8 116.8v1.9M71.9 116.8v1.9M76.0 116.8v1.9M80.0 116.8v1.9M84.1 116.8v1.9M88.2 116.8v1.9M92.2 116.8v1.9M96.3 116.8v1.9M100.4 116.8v1.9M104.5 116.8v1.9M108.5 116.8v1.9M112.6 116.8v1.9M116.7 116.8v1.9M120.7 116.8v1.9M124.8 116.8v1.9M128.9 116.8v1.9M132.9 116.8v1.9M137.0 116.8v1.9M141.1 116.8v1.9M145.2 116.8v1.9M149.2 116.8v1.9M153.3 116.8v1.9M157.4 116.8v1.9M161.4 116.8v1.9M165.5 116.8v1.9M169.6 116.8v1.9M173.6 116.8v1.9M177.7 116.8v1.9M181.8 116.8v1.9M185.9 116.8v1.9M189.9 116.8v1.9M194.0 116.8v1.9M198.1 116.8v1.9M202.1 116.8v1.9M206.2 116.8v1.9M210.3 116.8v1.9M214.3 116.8v1.9M218.4 116.8v1.9M222.5 116.8v1.9M226.6 116.8v1.9M230.6 116.8v1.9M234.7 116.8v1.9M238.8 116.8v1.9M242.8 116.8v1.9M246.9 116.8v1.9M251.0 116.8v1.9M255.0 116.8v1.9M259.1 116.8v1.9M263.2 116.8v1.9M267.2 116.8v1.9M271.3 116.8v1.9" stroke="#777" stroke-width="0.6"/>
<path d="M38 18.2h2.6M38 67.5h2.6M38 116.8h2.6M38.8 42.85h1.8M38.8 92.15h1.8" stroke="#555" stroke-width="0.6"/>
<g font-size="7.7" fill="#333" text-anchor="end"><text x="34.2" y="20.8">100</text><text x="34.2" y="70.1">50</text><text x="34.2" y="119.4">0</text></g>
<g font-size="7.7" fill="#333" text-anchor="middle"><text x="51.4" y="128.6">30</text><text x="71.5" y="128.6">36</text><text x="92.0" y="128.6">40</text><text x="111.9" y="128.6">45</text><text x="132.6" y="128.6">50</text><text x="152.7" y="128.6">55</text><text x="173.5" y="128.6">60</text><text x="193.8" y="128.6">65</text><text x="213.8" y="128.6">70</text><text x="234.1" y="128.6">75</text><text x="255.2" y="128.6">80</text></g>
<text x="157.7" y="141.9" font-size="8.4" fill="#222" text-anchor="middle">Day</text>
<text transform="translate(14.4 61.9) rotate(-90)" font-size="9.2" fill="#222" text-anchor="middle">Motor neuron health (%)</text>
<text x="248.4" y="70.9" font-size="7.4" fill="#222">LD</text><text x="257" y="74.1" font-size="5.4" fill="#222">50</text>
<text x="0.3" y="6.2" font-size="12.5" font-weight="bold" fill="#000" stroke="#000" stroke-width="0.6">a</text>
<line x1="327.2" y1="5.8" x2="337" y2="5.8" stroke="#000" stroke-width="1.1"/>
<circle cx="332.1" cy="5.8" r="1.5" fill="#000"/>
<text x="341.5" y="9.0" font-size="9" fill="#1a1a1a">Untreated</text>
<line x1="327.2" y1="18.3" x2="337" y2="18.3" stroke="#0000ff" stroke-width="1.1"/>
<circle cx="332.1" cy="18.3" r="1.5" fill="#0000ff"/>
<text x="341.5" y="21.5" font-size="9" fill="#1a1a1a">DMSO</text>
<line x1="327.2" y1="30.8" x2="337" y2="30.8" stroke="#00ee00" stroke-width="1.1"/>
<circle cx="332.1" cy="30.8" r="1.5" fill="#00ee00"/>
<text x="341.5" y="34.0" font-size="9" fill="#1a1a1a">Riluzole</text>
<line x1="327.2" y1="43.3" x2="337" y2="43.3" stroke="#a000f0" stroke-width="1.1"/>
<circle cx="332.1" cy="43.3" r="1.5" fill="#a000f0"/>
<text x="341.5" y="46.5" font-size="9" fill="#1a1a1a">Memantine</text>
<line x1="327.2" y1="55.8" x2="337" y2="55.8" stroke="#ff6600" stroke-width="1.1"/>
<circle cx="332.1" cy="55.8" r="1.5" fill="#ff6600"/>
<text x="341.5" y="59.0" font-size="9" fill="#1a1a1a">Baricitinib</text>
<line x1="327.2" y1="68.3" x2="337" y2="68.3" stroke="#22dd22" stroke-width="1.1"/>
<circle cx="332.1" cy="68.3" r="1.5" fill="#6a0dad"/>
<text x="341.5" y="71.5" font-size="9" fill="#1a1a1a">Riluzole + memantine</text>
<line x1="327.2" y1="80.8" x2="337" y2="80.8" stroke="#ff9933" stroke-width="1.1"/>
<circle cx="332.1" cy="80.8" r="1.5" fill="#aa00ff"/>
<text x="341.5" y="84.0" font-size="9" fill="#1a1a1a">Baricitinib + memantine</text>
<line x1="327.2" y1="93.3" x2="337" y2="93.3" stroke="#ff8c1a" stroke-width="1.1"/>
<circle cx="332.1" cy="93.3" r="1.5" fill="#22ee22"/>
<text x="341.5" y="96.5" font-size="9" fill="#1a1a1a">Riluzole + baricitinib</text>
<line x1="327.2" y1="105.8" x2="337" y2="105.8" stroke="#ff3333" stroke-width="1.1"/>
<circle cx="332.1" cy="105.8" r="1.5" fill="#ee0000"/>
<text x="341.5" y="109.0" font-size="9" fill="#1a1a1a">Riluzole + baricitinib + memantine</text>
<text x="522.2" y="7.1" font-size="13" font-weight="bold" fill="#000" stroke="#000" stroke-width="0.6">c</text>
<line x1="564.8" y1="7.0" x2="672.6" y2="7.0" stroke="#b8b8b8" stroke-width="1.30"/>
<line x1="564.8" y1="15.2" x2="657.0" y2="15.2" stroke="#666" stroke-width="0.75"/>
<line x1="564.8" y1="23.5" x2="641.9" y2="23.5" stroke="#777" stroke-width="0.75"/>
<line x1="564.8" y1="32.3" x2="626.0" y2="32.3" stroke="#777" stroke-width="0.75"/>
<line x1="564.8" y1="40.4" x2="611.0" y2="40.4" stroke="#777" stroke-width="0.75"/>
<line x1="564.8" y1="49.3" x2="579.9" y2="49.3" stroke="#777" stroke-width="0.75"/>
<g fill="#222"><polygon points="611.50,1.45 612.06,2.93 613.64,3.00 612.40,3.99 612.82,5.52 611.50,4.65 610.18,5.52 610.60,3.99 609.36,3.00 610.94,2.93"/><polygon points="616.20,1.45 616.76,2.93 618.34,3.00 617.10,3.99 617.52,5.52 616.20,4.65 614.88,5.52 615.30,3.99 614.06,3.00 615.64,2.93"/><polygon points="620.90,1.45 621.46,2.93 623.04,3.00 621.80,3.99 622.22,5.52 620.90,4.65 619.58,5.52 620.00,3.99 618.76,3.00 620.34,2.93"/><polygon points="625.60,1.45 626.16,2.93 627.74,3.00 626.50,3.99 626.92,5.52 625.60,4.65 624.28,5.52 624.70,3.99 623.46,3.00 625.04,2.93"/><polygon points="603.80,9.85 604.36,11.33 605.94,11.40 604.70,12.39 605.12,13.92 603.80,13.05 602.48,13.92 602.90,12.39 601.66,11.40 603.24,11.33"/><polygon points="608.50,9.85 609.06,11.33 610.64,11.40 609.40,12.39 609.82,13.92 608.50,13.05 607.18,13.92 607.60,12.39 606.36,11.40 607.94,11.33"/><polygon points="613.30,9.85 613.86,11.33 615.44,11.40 614.20,12.39 614.62,13.92 613.30,13.05 611.98,13.92 612.40,12.39 611.16,11.40 612.74,11.33"/><polygon points="618.10,9.85 618.66,11.33 620.24,11.40 619.00,12.39 619.42,13.92 618.10,13.05 616.78,13.92 617.20,12.39 615.96,11.40 617.54,11.33"/><polygon points="595.80,17.75 596.36,19.23 597.94,19.30 596.70,20.29 597.12,21.82 595.80,20.95 594.48,21.82 594.90,20.29 593.66,19.30 595.24,19.23"/><polygon points="600.60,17.75 601.16,19.23 602.74,19.30 601.50,20.29 601.92,21.82 600.60,20.95 599.28,21.82 599.70,20.29 598.46,19.30 600.04,19.23"/><polygon points="605.40,17.75 605.96,19.23 607.54,19.30 606.30,20.29 606.72,21.82 605.40,20.95 604.08,21.82 604.50,20.29 603.26,19.30 604.84,19.23"/><polygon points="610.30,17.75 610.86,19.23 612.44,19.30 611.20,20.29 611.62,21.82 610.30,20.95 608.98,21.82 609.40,20.29 608.16,19.30 609.74,19.23"/><polygon points="595.20,26.15 595.76,27.63 597.34,27.70 596.10,28.69 596.52,30.22 595.20,29.35 593.88,30.22 594.30,28.69 593.06,27.70 594.64,27.63"/><polygon points="585.50,35.25 586.06,36.73 587.64,36.80 586.40,37.79 586.82,39.32 585.50,38.45 584.18,39.32 584.60,37.79 583.36,36.80 584.94,36.73"/><polygon points="590.20,35.25 590.76,36.73 592.34,36.80 591.10,37.79 591.52,39.32 590.20,38.45 588.88,39.32 589.30,37.79 588.06,36.80 589.64,36.73"/><polygon points="572.50,43.95 573.06,45.43 574.64,45.50 573.40,46.49 573.82,48.02 572.50,47.15 571.18,48.02 571.60,46.49 570.36,45.50 571.94,45.43"/></g>
<rect x="575.2" y="119.2" width="10.4" height="9.4" fill="#00ff00"/>
<rect x="575.2" y="119.2" width="10.4" height="9.4" fill="none" stroke="#111" stroke-width="0.7"/>
<rect x="590.5" y="118.6" width="10.4" height="10.0" fill="#9b00f5"/>
<rect x="590.5" y="118.6" width="10.4" height="10.0" fill="none" stroke="#111" stroke-width="0.7"/>
<rect x="606.0" y="102.6" width="10.4" height="26.0" fill="#ff8000"/>
<rect x="606.0" y="102.6" width="10.4" height="26.0" fill="none" stroke="#111" stroke-width="0.7"/>
<rect x="621.3" y="104.0" width="10.4" height="24.6" fill="#00ff00"/>
<polygon points="623.90,104.00 631.70,104.00 631.70,128.60 630.66,128.60" fill="#9b00f5"/>
<rect x="621.3" y="104.0" width="10.4" height="24.6" fill="none" stroke="#111" stroke-width="0.7"/>
<rect x="636.6" y="82.0" width="10.4" height="46.6" fill="#9b00f5"/>
<polygon points="638.47,82.00 647.00,82.00 647.00,128.60 645.75,128.60" fill="#ff8000"/>
<rect x="636.6" y="82.0" width="10.4" height="46.6" fill="none" stroke="#111" stroke-width="0.7"/>
<rect x="652.3" y="79.8" width="10.4" height="48.8" fill="#00ff00"/>
<polygon points="654.07,79.80 662.70,79.80 662.70,128.60 661.24,128.60" fill="#ff8000"/>
<rect x="652.3" y="79.8" width="10.4" height="48.8" fill="none" stroke="#111" stroke-width="0.7"/>
<rect x="667.3" y="68.0" width="10.4" height="60.6" fill="#ff8000"/>
<polygon points="667.30,68.00 673.64,68.00 676.45,128.60 667.30,128.60" fill="#9b00f5"/>
<polygon points="667.30,85.50 672.81,128.60 667.30,128.60" fill="#00ff00"/>
<rect x="667.3" y="68.0" width="10.4" height="60.6" fill="none" stroke="#111" stroke-width="0.7"/>
<line x1="554.3" y1="28.4" x2="554.3" y2="136.5" stroke="#555" stroke-width="0.7"/>
<line x1="551.2" y1="128.6" x2="683" y2="128.6" stroke="#999" stroke-width="0.7"/>
<path d="M551.4 108.6h2.9M551.4 88.6h2.9M551.4 68.6h2.9M551.4 48.6h2.9M551.4 28.6h2.9" stroke="#555" stroke-width="0.6"/>
<g font-size="8.1" fill="#333" text-anchor="end"><text x="547.4" y="131.5">0</text><text x="547.4" y="111.5">10</text><text x="547.4" y="91.5">20</text><text x="547.4" y="71.5">30</text><text x="547.4" y="51.5">40</text><text x="547.4" y="31.5">50</text></g>
<text transform="translate(530.4 84.3) rotate(-90)" font-size="9" fill="#222" text-anchor="middle">Days of rescue</text>
<g fill="none" stroke="#444" stroke-width="0.5"><circle cx="565.3" cy="128.6" r="1.15"/><circle cx="565.6" cy="130.6" r="1.15"/><circle cx="562.4" cy="132.6" r="1.15"/><circle cx="567.0" cy="126.6" r="1.15"/><circle cx="563.4" cy="121.6" r="1.15"/><circle cx="564.8" cy="127.6" r="1.15"/><circle cx="564.9" cy="129.6" r="1.15"/><circle cx="562.9" cy="128.6" r="1.15"/><circle cx="567.2" cy="131.6" r="1.15"/><circle cx="566.4" cy="128.2" r="1.15"/><circle cx="562.4" cy="130.2" r="1.15"/><circle cx="565.5" cy="127.0" r="1.15"/><circle cx="562.2" cy="129.2" r="1.15"/><circle cx="583.0" cy="89.2" r="1.15"/><circle cx="580.2" cy="104.8" r="1.15"/><circle cx="581.9" cy="110.6" r="1.15"/><circle cx="583.1" cy="118.6" r="1.15"/><circle cx="581.9" cy="119.6" r="1.15"/><circle cx="583.3" cy="121.6" r="1.15"/><circle cx="579.7" cy="122.6" r="1.15"/><circle cx="582.5" cy="124.6" r="1.15"/><circle cx="580.0" cy="125.6" r="1.15"/><circle cx="583.4" cy="126.6" r="1.15"/><circle cx="583.1" cy="116.6" r="1.15"/><circle cx="577.6" cy="123.6" r="1.15"/><circle cx="577.9" cy="120.6" r="1.15"/><circle cx="593.7" cy="85.4" r="1.15"/><circle cx="599.0" cy="102.0" r="1.15"/><circle cx="595.3" cy="102.6" r="1.15"/><circle cx="596.6" cy="103.6" r="1.15"/><circle cx="594.3" cy="118.6" r="1.15"/><circle cx="595.8" cy="120.6" r="1.15"/><circle cx="594.9" cy="122.6" r="1.15"/><circle cx="594.7" cy="124.6" r="1.15"/><circle cx="596.3" cy="126.6" r="1.15"/><circle cx="596.3" cy="128.6" r="1.15"/><circle cx="598.5" cy="127.6" r="1.15"/><circle cx="597.0" cy="116.6" r="1.15"/><circle cx="614.2" cy="55.0" r="1.15"/><circle cx="613.7" cy="76.0" r="1.15"/><circle cx="614.6" cy="77.6" r="1.15"/><circle cx="612.4" cy="86.2" r="1.15"/><circle cx="608.8" cy="105.6" r="1.15"/><circle cx="613.7" cy="109.2" r="1.15"/><circle cx="614.5" cy="110.6" r="1.15"/><circle cx="614.0" cy="114.6" r="1.15"/><circle cx="611.7" cy="124.6" r="1.15"/><circle cx="612.7" cy="125.4" r="1.15"/><circle cx="609.2" cy="102.6" r="1.15"/><circle cx="613.5" cy="100.6" r="1.15"/><circle cx="611.7" cy="108.6" r="1.15"/><circle cx="625.0" cy="55.0" r="1.15"/><circle cx="623.4" cy="65.6" r="1.15"/><circle cx="629.0" cy="70.6" r="1.15"/><circle cx="629.9" cy="77.6" r="1.15"/><circle cx="623.6" cy="109.6" r="1.15"/><circle cx="628.6" cy="112.6" r="1.15"/><circle cx="625.9" cy="117.4" r="1.15"/><circle cx="624.1" cy="121.6" r="1.15"/><circle cx="625.1" cy="125.6" r="1.15"/><circle cx="628.4" cy="128.6" r="1.15"/><circle cx="629.1" cy="129.6" r="1.15"/><circle cx="623.3" cy="104.6" r="1.15"/><circle cx="627.3" cy="102.6" r="1.15"/><circle cx="638.6" cy="45.6" r="1.15"/><circle cx="643.3" cy="43.6" r="1.15"/><circle cx="640.6" cy="45.0" r="1.15"/><circle cx="644.5" cy="58.6" r="1.15"/><circle cx="645.2" cy="65.6" r="1.15"/><circle cx="641.8" cy="71.6" r="1.15"/><circle cx="645.3" cy="83.6" r="1.15"/><circle cx="640.5" cy="96.6" r="1.15"/><circle cx="638.8" cy="107.6" r="1.15"/><circle cx="642.5" cy="123.6" r="1.15"/><circle cx="638.5" cy="125.6" r="1.15"/><circle cx="639.7" cy="74.6" r="1.15"/><circle cx="641.2" cy="90.6" r="1.15"/><circle cx="642.6" cy="102.6" r="1.15"/><circle cx="655.1" cy="48.2" r="1.15"/><circle cx="654.3" cy="46.0" r="1.15"/><circle cx="660.1" cy="49.6" r="1.15"/><circle cx="656.2" cy="65.6" r="1.15"/><circle cx="660.7" cy="66.6" r="1.15"/><circle cx="660.3" cy="78.6" r="1.15"/><circle cx="656.6" cy="84.6" r="1.15"/><circle cx="657.2" cy="92.6" r="1.15"/><circle cx="657.6" cy="103.6" r="1.15"/><circle cx="658.5" cy="126.6" r="1.15"/><circle cx="658.2" cy="131.6" r="1.15"/><circle cx="657.9" cy="74.6" r="1.15"/><circle cx="658.3" cy="72.6" r="1.15"/><circle cx="660.6" cy="82.6" r="1.15"/><circle cx="672.5" cy="38.6" r="1.15"/><circle cx="672.0" cy="43.6" r="1.15"/><circle cx="674.0" cy="44.6" r="1.15"/><circle cx="670.7" cy="49.6" r="1.15"/><circle cx="671.1" cy="55.0" r="1.15"/><circle cx="675.8" cy="58.6" r="1.15"/><circle cx="672.6" cy="63.6" r="1.15"/><circle cx="672.8" cy="68.6" r="1.15"/><circle cx="669.1" cy="71.6" r="1.15"/><circle cx="671.9" cy="75.2" r="1.15"/><circle cx="673.1" cy="80.6" r="1.15"/><circle cx="669.1" cy="94.6" r="1.15"/><circle cx="673.3" cy="95.6" r="1.15"/><circle cx="673.4" cy="70.6" r="1.15"/><circle cx="669.4" cy="66.6" r="1.15"/></g>
<g fill="#111"><circle cx="565.8" cy="128.7" r="1.0"/><circle cx="566.1" cy="129.0" r="1.0"/><circle cx="566.2" cy="127.9" r="1.0"/><circle cx="562.1" cy="129.9" r="1.0"/><circle cx="566.1" cy="127.2" r="1.0"/><circle cx="563.5" cy="128.7" r="1.0"/><circle cx="565.6" cy="129.1" r="1.0"/><circle cx="564.2" cy="129.2" r="1.0"/><circle cx="564.2" cy="128.3" r="1.0"/><circle cx="563.8" cy="129.0" r="1.0"/></g>
<path d="M565.0 127.4V129.8M563.1 127.4h3.8M563.1 129.8h3.8M580.4 116.0V122.4M578.5 116.0h3.8M578.5 122.4h3.8M595.7 115.4V121.8M593.8 115.4h3.8M593.8 121.8h3.8M611.2 97.4V107.8M609.3 97.4h3.8M609.3 107.8h3.8M626.5 98.0V110.0M624.6 98.0h3.8M624.6 110.0h3.8M641.8 74.2V89.8M639.9 74.2h3.8M639.9 89.8h3.8M657.5 72.0V87.6M655.6 72.0h3.8M655.6 87.6h3.8M672.5 64.4V71.6M670.6 64.4h3.8M670.6 71.6h3.8" stroke="#111" stroke-width="0.7" fill="none"/>
<text transform="translate(568.2 140.5) rotate(-45)" font-size="9.0" fill="#222" text-anchor="end">Untreated</text>
<text transform="translate(583.6 140.5) rotate(-45)" font-size="9.0" fill="#222" text-anchor="end">Riluzole</text>
<text transform="translate(598.9 140.5) rotate(-45)" font-size="9.0" fill="#222" text-anchor="end">Memantine</text>
<text transform="translate(614.4 140.5) rotate(-45)" font-size="9.0" fill="#222" text-anchor="end">Baricitinib</text>
<text transform="translate(629.7 140.5) rotate(-45)" font-size="9.0" fill="#222" text-anchor="end">Riluzole + memantine</text>
<text transform="translate(645.0 140.5) rotate(-45)" font-size="9.0" fill="#222" text-anchor="end">Baricitinib + memantine</text>
<text transform="translate(660.7 140.5) rotate(-45)" font-size="9.0" fill="#222" text-anchor="end">Riluzole + baricitinib</text>
<text transform="translate(679.1 140.5) rotate(-45)" font-size="9.0" fill="#222" text-anchor="end">Riluzole + baricitinib</text>
<text transform="translate(686.2 147.6) rotate(-45)" font-size="9.0" fill="#222" text-anchor="end">+ memantine</text>
<text x="523.2" y="229.9" font-size="13" font-weight="bold" fill="#000" stroke="#000" stroke-width="0.6">d</text>
<line x1="553.8" y1="227.6" x2="553.8" y2="313.6" stroke="#555" stroke-width="0.7"/>
<line x1="553.5" y1="313.5" x2="683" y2="313.5" stroke="#666" stroke-width="0.7"/>
<path d="M550.9 313.1h2.9M550.9 299.0h2.9M550.9 284.9h2.9M550.9 270.7h2.9M550.9 256.6h2.9M550.9 242.4h2.9M550.9 228.2h2.9" stroke="#555" stroke-width="0.6"/>
<g font-size="8.1" fill="#333" text-anchor="end"><text x="547.2" y="301.9">0</text><text x="547.2" y="287.8">10</text><text x="547.2" y="273.6">20</text><text x="547.2" y="259.4">30</text><text x="547.2" y="245.3">40</text><text x="547.2" y="231.2">50</text><text x="547.2" y="316.0">&#8722;10</text></g>
<text transform="translate(530.8 269.9) rotate(-90)" font-size="9" fill="#222" text-anchor="middle">Days of rescue</text>
<polyline points="565.0,294.3 580.4,270.7 595.7,268.3 611.2,269.0 626.5,246.9 641.8,254.1 657.5,255.6 672.5,247.4" stroke="#1a8c1a" stroke-width="1.0" fill="none"/>
<g fill="#1a8c1a"><circle cx="565.0" cy="294.3" r="1.3"/><circle cx="580.4" cy="270.7" r="1.3"/><circle cx="595.7" cy="268.3" r="1.3"/><circle cx="611.2" cy="269.0" r="1.3"/><circle cx="626.5" cy="246.9" r="1.3"/><circle cx="641.8" cy="254.1" r="1.3"/><circle cx="657.5" cy="255.6" r="1.3"/><circle cx="672.5" cy="247.4" r="1.3"/></g>
<polyline points="565.0,299.0 580.4,291.9 595.7,296.2 611.2,246.1 626.5,261.9 641.8,239.6 657.5,242.7 672.5,244.4" stroke="#7b1fa2" stroke-width="1.0" fill="none"/>
<g fill="#7b1fa2"><circle cx="565.0" cy="299.0" r="1.3"/><circle cx="580.4" cy="291.9" r="1.3"/><circle cx="595.7" cy="296.2" r="1.3"/><circle cx="611.2" cy="246.1" r="1.3"/><circle cx="626.5" cy="261.9" r="1.3"/><circle cx="641.8" cy="239.6" r="1.3"/><circle cx="657.5" cy="242.7" r="1.3"/><circle cx="672.5" cy="244.4" r="1.3"/></g>
<polyline points="565.0,299.0 580.4,294.8 595.7,297.6 611.2,261.5 626.5,294.3 641.8,238.9 657.5,240.0 672.5,239.6" stroke="#24245e" stroke-width="1.0" fill="none"/>
<g fill="#24245e"><circle cx="565.0" cy="299.0" r="1.3"/><circle cx="580.4" cy="294.8" r="1.3"/><circle cx="595.7" cy="297.6" r="1.3"/><circle cx="611.2" cy="261.5" r="1.3"/><circle cx="626.5" cy="294.3" r="1.3"/><circle cx="641.8" cy="238.9" r="1.3"/><circle cx="657.5" cy="240.0" r="1.3"/><circle cx="672.5" cy="239.6" r="1.3"/></g>
<polyline points="565.0,299.0 580.4,294.8 595.7,297.6 611.2,282.0 626.5,278.1 641.8,240.0 657.5,240.3 672.5,240.3" stroke="#26c6da" stroke-width="1.0" fill="none"/>
<g fill="#26c6da"><circle cx="565.0" cy="299.0" r="1.3"/><circle cx="580.4" cy="294.8" r="1.3"/><circle cx="595.7" cy="297.6" r="1.3"/><circle cx="611.2" cy="282.0" r="1.3"/><circle cx="626.5" cy="278.1" r="1.3"/><circle cx="641.8" cy="240.0" r="1.3"/><circle cx="657.5" cy="240.3" r="1.3"/><circle cx="672.5" cy="240.3" r="1.3"/></g>
<polyline points="565.0,299.0 580.4,296.2 595.7,299.0 611.2,284.9 626.5,283.4 641.8,263.6 657.5,253.7 672.5,235.3" stroke="#ff8c00" stroke-width="1.0" fill="none"/>
<g fill="#ff8c00"><circle cx="565.0" cy="299.0" r="1.3"/><circle cx="580.4" cy="296.2" r="1.3"/><circle cx="595.7" cy="299.0" r="1.3"/><circle cx="611.2" cy="284.9" r="1.3"/><circle cx="626.5" cy="283.4" r="1.3"/><circle cx="641.8" cy="263.6" r="1.3"/><circle cx="657.5" cy="253.7" r="1.3"/><circle cx="672.5" cy="235.3" r="1.3"/></g>
<polyline points="565.0,299.0 580.4,294.8 595.7,296.2 611.2,289.1 626.5,296.2 641.8,266.5 657.5,255.1 672.5,251.6" stroke="#ff1a1a" stroke-width="1.0" fill="none"/>
<g fill="#ff1a1a"><circle cx="565.0" cy="299.0" r="1.3"/><circle cx="580.4" cy="294.8" r="1.3"/><circle cx="595.7" cy="296.2" r="1.3"/><circle cx="611.2" cy="289.1" r="1.3"/><circle cx="626.5" cy="296.2" r="1.3"/><circle cx="641.8" cy="266.5" r="1.3"/><circle cx="657.5" cy="255.1" r="1.3"/><circle cx="672.5" cy="251.6" r="1.3"/></g>
<polyline points="565.0,297.6 580.4,286.3 595.7,280.6 611.2,279.2 626.5,255.1 641.8,249.5 657.5,260.8 672.5,256.6" stroke="#b39ddb" stroke-width="1.0" fill="none"/>
<g fill="#b39ddb"><circle cx="565.0" cy="297.6" r="1.3"/><circle cx="580.4" cy="286.3" r="1.3"/><circle cx="595.7" cy="280.6" r="1.3"/><circle cx="611.2" cy="279.2" r="1.3"/><circle cx="626.5" cy="255.1" r="1.3"/><circle cx="641.8" cy="249.5" r="1.3"/><circle cx="657.5" cy="260.8" r="1.3"/><circle cx="672.5" cy="256.6" r="1.3"/></g>
<polyline points="565.0,301.8 580.4,282.0 595.7,280.6 611.2,282.0 626.5,258.0 641.8,283.4 657.5,265.0 672.5,260.8" stroke="#f5f500" stroke-width="1.0" fill="none"/>
<g fill="#f5f500"><circle cx="565.0" cy="301.8" r="1.3"/><circle cx="580.4" cy="282.0" r="1.3"/><circle cx="595.7" cy="280.6" r="1.3"/><circle cx="611.2" cy="282.0" r="1.3"/><circle cx="626.5" cy="258.0" r="1.3"/><circle cx="641.8" cy="283.4" r="1.3"/><circle cx="657.5" cy="265.0" r="1.3"/><circle cx="672.5" cy="260.8" r="1.3"/></g>
<polyline points="565.0,299.0 580.4,296.2 595.7,297.6 611.2,287.7 626.5,296.2 641.8,258.7 657.5,258.7 672.5,263.6" stroke="#8d7a4a" stroke-width="1.0" fill="none"/>
<g fill="#8d7a4a"><circle cx="565.0" cy="299.0" r="1.3"/><circle cx="580.4" cy="296.2" r="1.3"/><circle cx="595.7" cy="297.6" r="1.3"/><circle cx="611.2" cy="287.7" r="1.3"/><circle cx="626.5" cy="296.2" r="1.3"/><circle cx="641.8" cy="258.7" r="1.3"/><circle cx="657.5" cy="258.7" r="1.3"/><circle cx="672.5" cy="263.6" r="1.3"/></g>
<polyline points="565.0,299.0 580.4,293.3 595.7,282.0 611.2,284.9 626.5,287.7 641.8,274.9 657.5,281.3 672.5,263.6" stroke="#f48fb1" stroke-width="1.0" fill="none"/>
<g fill="#f48fb1"><circle cx="565.0" cy="299.0" r="1.3"/><circle cx="580.4" cy="293.3" r="1.3"/><circle cx="595.7" cy="282.0" r="1.3"/><circle cx="611.2" cy="284.9" r="1.3"/><circle cx="626.5" cy="287.7" r="1.3"/><circle cx="641.8" cy="274.9" r="1.3"/><circle cx="657.5" cy="281.3" r="1.3"/><circle cx="672.5" cy="263.6" r="1.3"/></g>
<polyline points="565.0,297.6 580.4,294.8 595.7,296.2 611.2,294.8 626.5,294.8 641.8,294.8 657.5,280.6 672.5,265.0" stroke="#e91e63" stroke-width="1.0" fill="none"/>
<g fill="#e91e63"><circle cx="565.0" cy="297.6" r="1.3"/><circle cx="580.4" cy="294.8" r="1.3"/><circle cx="595.7" cy="296.2" r="1.3"/><circle cx="611.2" cy="294.8" r="1.3"/><circle cx="626.5" cy="294.8" r="1.3"/><circle cx="641.8" cy="294.8" r="1.3"/><circle cx="657.5" cy="280.6" r="1.3"/><circle cx="672.5" cy="265.0" r="1.3"/></g>
<polyline points="565.0,299.0 580.4,290.5 595.7,290.5 611.2,287.7 626.5,283.4 641.8,274.9 657.5,273.5 672.5,265.0" stroke="#1e6fe5" stroke-width="1.0" fill="none"/>
<g fill="#1e6fe5"><circle cx="565.0" cy="299.0" r="1.3"/><circle cx="580.4" cy="290.5" r="1.3"/><circle cx="595.7" cy="290.5" r="1.3"/><circle cx="611.2" cy="287.7" r="1.3"/><circle cx="626.5" cy="283.4" r="1.3"/><circle cx="641.8" cy="274.9" r="1.3"/><circle cx="657.5" cy="273.5" r="1.3"/><circle cx="672.5" cy="265.0" r="1.3"/></g>
<polyline points="565.0,299.0 580.4,296.2 595.7,297.6 611.2,287.7 626.5,284.9 641.8,277.8 657.5,269.3 672.5,263.6" stroke="#4fc3f7" stroke-width="1.0" fill="none"/>
<g fill="#4fc3f7"><circle cx="565.0" cy="299.0" r="1.3"/><circle cx="580.4" cy="296.2" r="1.3"/><circle cx="595.7" cy="297.6" r="1.3"/><circle cx="611.2" cy="287.7" r="1.3"/><circle cx="626.5" cy="284.9" r="1.3"/><circle cx="641.8" cy="277.8" r="1.3"/><circle cx="657.5" cy="269.3" r="1.3"/><circle cx="672.5" cy="263.6" r="1.3"/></g>
<polyline points="565.0,299.0 580.4,296.2 595.7,299.0 611.2,296.2 626.5,297.6 641.8,297.6 657.5,297.6 672.5,274.9" stroke="#a31515" stroke-width="1.0" fill="none"/>
<g fill="#a31515"><circle cx="565.0" cy="299.0" r="1.3"/><circle cx="580.4" cy="296.2" r="1.3"/><circle cx="595.7" cy="299.0" r="1.3"/><circle cx="611.2" cy="296.2" r="1.3"/><circle cx="626.5" cy="297.6" r="1.3"/><circle cx="641.8" cy="297.6" r="1.3"/><circle cx="657.5" cy="297.6" r="1.3"/><circle cx="672.5" cy="274.9" r="1.3"/></g>
<polyline points="565.0,299.0 580.4,294.8 595.7,296.2 611.2,283.4 626.5,299.0 641.8,284.9 657.5,299.0 672.5,274.9" stroke="#ff8a80" stroke-width="1.0" fill="none"/>
<g fill="#ff8a80"><circle cx="565.0" cy="299.0" r="1.3"/><circle cx="580.4" cy="294.8" r="1.3"/><circle cx="595.7" cy="296.2" r="1.3"/><circle cx="611.2" cy="283.4" r="1.3"/><circle cx="626.5" cy="299.0" r="1.3"/><circle cx="641.8" cy="284.9" r="1.3"/><circle cx="657.5" cy="299.0" r="1.3"/><circle cx="672.5" cy="274.9" r="1.3"/></g>
<polyline points="565.0,299.0 580.4,297.6 595.7,299.0 611.2,291.9 626.5,293.3 641.8,270.7 657.5,260.8 672.5,262.2" stroke="#9e9e9e" stroke-width="1.0" fill="none"/>
<g fill="#9e9e9e"><circle cx="565.0" cy="299.0" r="1.3"/><circle cx="580.4" cy="297.6" r="1.3"/><circle cx="595.7" cy="299.0" r="1.3"/><circle cx="611.2" cy="291.9" r="1.3"/><circle cx="626.5" cy="293.3" r="1.3"/><circle cx="641.8" cy="270.7" r="1.3"/><circle cx="657.5" cy="260.8" r="1.3"/><circle cx="672.5" cy="262.2" r="1.3"/></g>
<text transform="translate(569.8 322.2) rotate(-45)" font-size="9.0" fill="#222" text-anchor="end">Untreated</text>
<text transform="translate(585.2 322.2) rotate(-45)" font-size="9.0" fill="#222" text-anchor="end">Riluzole</text>
<text transform="translate(600.5 322.2) rotate(-45)" font-size="9.0" fill="#222" text-anchor="end">Memantine</text>
<text transform="translate(616.0 322.2) rotate(-45)" font-size="9.0" fill="#222" text-anchor="end">Baricitinib</text>
<text transform="translate(631.3 322.2) rotate(-45)" font-size="9.0" fill="#222" text-anchor="end">Riluzole + memantine</text>
<text transform="translate(646.6 322.2) rotate(-45)" font-size="9.0" fill="#222" text-anchor="end">Baricitinib + memantine</text>
<text transform="translate(662.3 322.2) rotate(-45)" font-size="9.0" fill="#222" text-anchor="end">Riluzole + baricitinib</text>
<text transform="translate(680.7 322.2) rotate(-45)" font-size="9.0" fill="#222" text-anchor="end">Riluzole + baricitinib</text>
<text transform="translate(687.8 329.3) rotate(-45)" font-size="9.0" fill="#222" text-anchor="end">+ memantine</text>
</svg>
</body></html>
